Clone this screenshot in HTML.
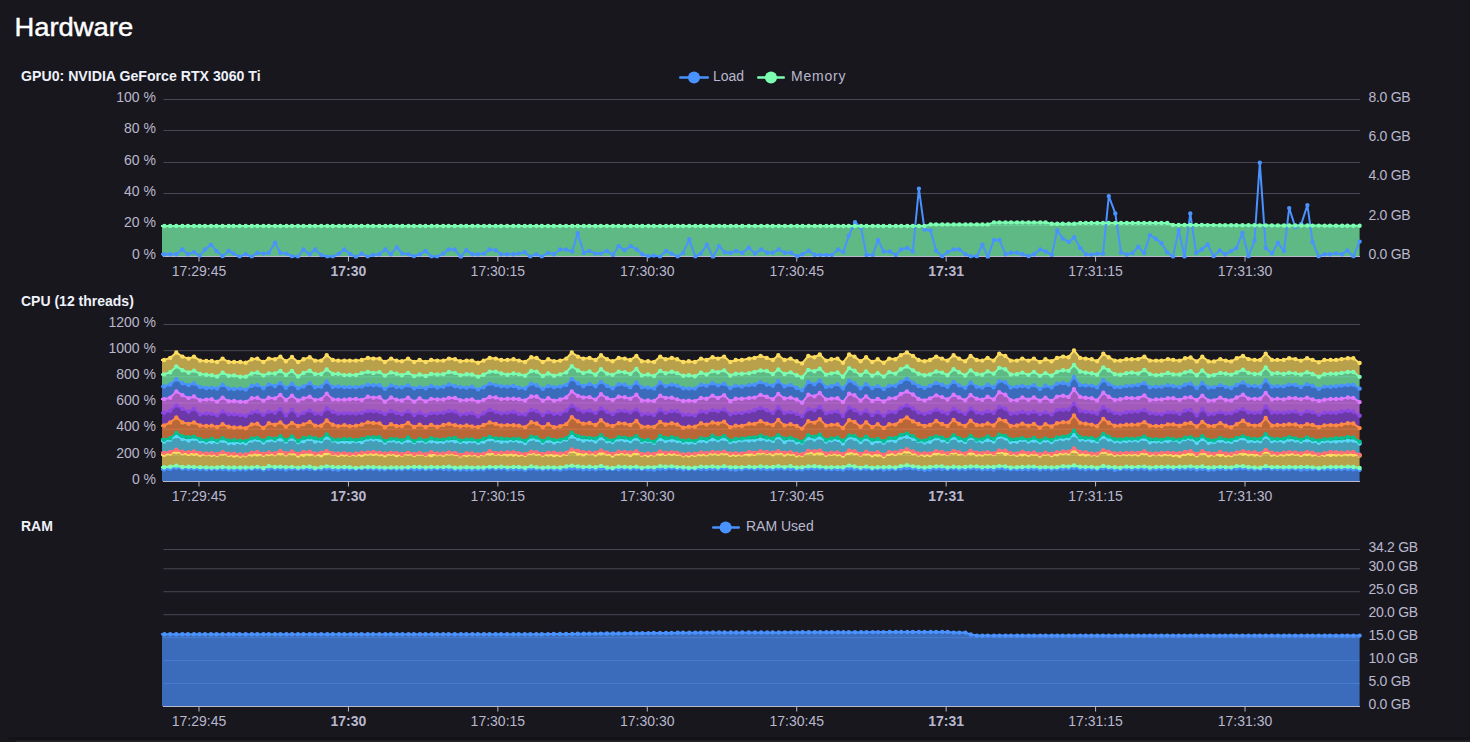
<!DOCTYPE html>
<html><head><meta charset="utf-8"><title>Hardware</title>
<style>html,body{margin:0;padding:0;background:#18171d;width:1470px;height:742px;overflow:hidden}</style>
</head><body>
<svg width="1470" height="742" viewBox="0 0 1470 742" style="display:block;font-family:'Liberation Sans', sans-serif">
<defs>
<clipPath id="ag"><rect x="162" y="97.5" width="1198" height="159.0"/></clipPath>
<clipPath id="lg"><rect x="161" y="89.5" width="1202" height="169.0"/></clipPath>
<clipPath id="ac"><rect x="162" y="322.5" width="1198" height="159.0"/></clipPath>
<clipPath id="lc"><rect x="161" y="314.5" width="1202" height="169.0"/></clipPath>
<clipPath id="ar"><rect x="162" y="547.5" width="1198" height="159.0"/></clipPath>
<clipPath id="lr"><rect x="161" y="539.5" width="1202" height="169.0"/></clipPath>
</defs>
<rect width="1470" height="742" fill="#18171d"/>
<text x="0" y="0" font-size="27.4" fill="#ffffff" text-anchor="start" font-weight="normal" stroke="#ffffff" stroke-width="0.45" transform="translate(14.4,36) scale(1,0.95)">Hardware</text>
<rect x="8" y="737" width="1462" height="3" fill="#141318"/><rect x="15.5" y="740.5" width="1455" height="1.5" fill="#25242b"/>
<text x="21" y="80.6" font-size="14.15" fill="#EEF1FA" text-anchor="start" font-weight="bold">GPU0: NVIDIA GeForce RTX 3060 Ti</text>
<rect x="163.5" y="99" width="1196.5" height="1" fill="#484753"/>
<rect x="163.5" y="130" width="1196.5" height="1" fill="#484753"/>
<rect x="163.5" y="162" width="1196.5" height="1" fill="#484753"/>
<rect x="163.5" y="193" width="1196.5" height="1" fill="#484753"/>
<rect x="163.5" y="225" width="1196.5" height="1" fill="#484753"/>
<text x="156" y="101.8" font-size="14" fill="#B9B8CE" text-anchor="end" font-weight="normal">100 %</text>
<text x="156" y="133.2" font-size="14" fill="#B9B8CE" text-anchor="end" font-weight="normal">80 %</text>
<text x="156" y="164.6" font-size="14" fill="#B9B8CE" text-anchor="end" font-weight="normal">60 %</text>
<text x="156" y="196" font-size="14" fill="#B9B8CE" text-anchor="end" font-weight="normal">40 %</text>
<text x="156" y="227.4" font-size="14" fill="#B9B8CE" text-anchor="end" font-weight="normal">20 %</text>
<text x="156" y="258.8" font-size="14" fill="#B9B8CE" text-anchor="end" font-weight="normal">0 %</text>
<text x="1368.5" y="101.8" font-size="14" fill="#B9B8CE" text-anchor="start" font-weight="normal" letter-spacing="-0.3">8.0 GB</text>
<text x="1368.5" y="141.05" font-size="14" fill="#B9B8CE" text-anchor="start" font-weight="normal" letter-spacing="-0.3">6.0 GB</text>
<text x="1368.5" y="180.3" font-size="14" fill="#B9B8CE" text-anchor="start" font-weight="normal" letter-spacing="-0.3">4.0 GB</text>
<text x="1368.5" y="219.55" font-size="14" fill="#B9B8CE" text-anchor="start" font-weight="normal" letter-spacing="-0.3">2.0 GB</text>
<text x="1368.5" y="258.8" font-size="14" fill="#B9B8CE" text-anchor="start" font-weight="normal" letter-spacing="-0.3">0.0 GB</text>
<rect x="679" y="76.25" width="30" height="2.5" rx="1.25" fill="#4992ff"/><circle cx="694" cy="77.5" r="6" fill="#4992ff"/>
<text x="713" y="80.8" font-size="14" fill="#B9B8CE" text-anchor="start" font-weight="normal">Load</text>
<rect x="757" y="76.25" width="28" height="2.5" rx="1.25" fill="#7cffb2"/><circle cx="771" cy="77.5" r="6" fill="#7cffb2"/>
<text x="791" y="80.8" font-size="14" fill="#B9B8CE" text-anchor="start" font-weight="normal" letter-spacing="0.8">Memory</text>
<polygon points="158.6,226 164.4,226 170.2,226 176.3,226 182.4,226 187.9,226 194,226 199.5,226 205,226 211,226 216.5,226 222.6,226 228.7,226 233.5,226 239.6,226 245.7,226 251.8,226 257.3,226 263.4,226 268.8,226 275,226 280.4,226 286.5,226 292,226 298,226 303.5,226 309.7,226 315.1,226 321.2,226 327.3,226 332.8,226 339,226 344.3,226 350.5,226 356,226 361.6,226 367.7,226 373.1,226 379.3,226 385.4,226 390.8,226 396.9,226 402.4,226 408.5,226 413.9,226 420,226 425.5,226 431.6,226 437.1,226 443.2,226 448.6,226 454.8,226 460.9,226 466.3,226 472.4,226 477.9,226 484,226 489.5,226 495.6,226 501,226 507.1,226 513.3,226 518.7,226 524.8,226 530.3,226 536.4,226 541.8,226 548,226 553.8,226 560,226 566.1,226 572.2,226 577.7,226 583.8,226 589.2,226 595.3,226 600.8,226 606.9,226 613,226 618.5,226 624.6,226 630.7,226 636.8,226 642.3,226 648.4,226 653.8,226 660,226 666.1,226 671.5,226 677.7,226 683.1,226 689.2,226 695.3,226 700.8,226 706.9,226 713,226 719.1,226 724.6,226 730.7,226 736.2,226 742.3,226 748.8,226 755,226 761.1,226 767.2,226 772.7,226 778.8,226 784.9,226 791,226 797.1,226 802.6,226 808.7,226 814.8,226 820.3,226 826.4,226 831.8,226 838,226 843.4,226 848.8,226 855,226 861.1,226 866.5,226 872.7,226 878.1,226 883.5,226 889.7,226 895.8,226 901.2,226 907.3,226 912.8,226 918.9,226 924.5,226 930.6,224.4 936.1,224.4 942.2,224.4 947.7,224.4 953.8,224.4 959.3,224.4 965.4,224.4 970.8,224.4 976.9,224.4 982.4,224.4 987.8,224.4 994,222.4 999.4,222.4 1005.5,222.4 1011,222.4 1017.1,222.4 1022.5,222.4 1028.6,222.4 1034.1,222.4 1040.2,222.4 1045.6,222.4 1051.8,223.8 1057.2,223.8 1062.7,223.8 1068.8,223.8 1074.2,223.8 1080.3,222.9 1085.8,222.9 1091.4,222.9 1097.2,222.9 1103,222.9 1108.8,222.9 1115.3,222.9 1121,222.9 1126.8,222.9 1132.6,222.9 1138.3,222.9 1144.1,222.9 1149.9,222.9 1155.7,222.9 1161.4,222.9 1167.2,222.9 1173,224.91 1178.7,224.94 1184.5,224.97 1190.3,225 1196.1,225.02 1201.8,225.05 1207.6,225.08 1213.6,225.11 1219.8,225.14 1225.1,225.16 1231.1,225.19 1236.4,225.21 1242.5,225.24 1248.5,225.27 1254.5,225.3 1259.8,225.33 1265.8,225.35 1271.9,225.38 1277.9,225.41 1284,225.44 1289.2,225.46 1295.3,225.49 1301.3,225.52 1307.4,225.55 1312.6,225.58 1318.7,225.6 1324.7,225.63 1330,225.66 1336,225.69 1342.1,225.72 1347.4,225.74 1353.4,225.77 1359.6,225.8 1359.6,256.5 158.6,256.5" fill="#7cffb2" fill-opacity="0.7" clip-path="url(#ag)"/>
<rect x="163" y="256" width="1197" height="1" fill="#B9B8CE"/>
<rect x="198.5" y="256.5" width="1" height="5" fill="#B9B8CE"/>
<text x="199" y="275.5" font-size="14" fill="#B9B8CE" text-anchor="middle" font-weight="normal">17:29:45</text>
<rect x="347.93" y="256.5" width="1" height="5" fill="#B9B8CE"/>
<text x="348.43" y="275.5" font-size="14" fill="#B9B8CE" text-anchor="middle" font-weight="bold">17:30</text>
<rect x="497.36" y="256.5" width="1" height="5" fill="#B9B8CE"/>
<text x="497.86" y="275.5" font-size="14" fill="#B9B8CE" text-anchor="middle" font-weight="normal">17:30:15</text>
<rect x="646.79" y="256.5" width="1" height="5" fill="#B9B8CE"/>
<text x="647.29" y="275.5" font-size="14" fill="#B9B8CE" text-anchor="middle" font-weight="normal">17:30:30</text>
<rect x="796.22" y="256.5" width="1" height="5" fill="#B9B8CE"/>
<text x="796.72" y="275.5" font-size="14" fill="#B9B8CE" text-anchor="middle" font-weight="normal">17:30:45</text>
<rect x="945.65" y="256.5" width="1" height="5" fill="#B9B8CE"/>
<text x="946.15" y="275.5" font-size="14" fill="#B9B8CE" text-anchor="middle" font-weight="bold">17:31</text>
<rect x="1095.08" y="256.5" width="1" height="5" fill="#B9B8CE"/>
<text x="1095.58" y="275.5" font-size="14" fill="#B9B8CE" text-anchor="middle" font-weight="normal">17:31:15</text>
<rect x="1244.51" y="256.5" width="1" height="5" fill="#B9B8CE"/>
<text x="1245.01" y="275.5" font-size="14" fill="#B9B8CE" text-anchor="middle" font-weight="normal">17:31:30</text>
<polyline points="158.6,254.3 164.4,254.3 170.2,254.3 176.3,254.3 182.4,249.5 187.9,254.3 194,252.2 199.5,255.6 205,249.5 211,244.7 216.5,250.9 222.6,256.3 228.7,250.9 233.5,253.6 239.6,256.6 245.7,254.3 251.8,256.6 257.3,252.9 263.4,253.6 268.8,252.9 275,242.7 280.4,252.9 286.5,253.6 292,256.3 298,256.6 303.5,249.5 309.7,254.3 315.1,249.5 321.2,255 327.3,256.6 332.8,256.6 339,253.6 344.3,249.5 350.5,254.3 356,257 361.6,253.6 367.7,256.6 373.1,254.9 379.3,254.3 385.4,249.5 390.8,254.3 396.9,247.4 402.4,253.6 408.5,254.3 413.9,256.3 420,254.3 425.5,250.9 431.6,256.6 437.1,256.6 443.2,253.6 448.6,249.5 454.8,249.5 460.9,257 466.3,250.2 472.4,254.3 477.9,254.3 484,253.6 489.5,249.5 495.6,250.2 501,254.3 507.1,254.3 513.3,254.3 518.7,253.6 524.8,252.2 530.3,256.6 536.4,254.3 541.8,256.6 548,252.9 553.8,254.3 560,249.5 566.1,249.5 572.2,251.5 577.7,233.2 583.8,252.9 589.2,250.9 595.3,253.6 600.8,253.6 606.9,250.9 613,254.9 618.5,246.1 624.6,250.2 630.7,246.1 636.8,249.5 642.3,254.3 648.4,256.3 653.8,255.6 660,256.6 666.1,250.9 671.5,253.6 677.7,256.6 683.1,252.9 689.2,239.3 695.3,256.6 700.8,253.6 706.9,244.7 713,257 719.1,246.1 724.6,252.2 730.7,252.9 736.2,250.9 742.3,252.9 748.8,247.6 755,253.5 761.1,249.4 767.2,252.8 772.7,252.8 778.8,249.4 784.9,252.8 791,252.8 797.1,256.2 802.6,254.2 808.7,250.8 814.8,254.9 820.3,254.9 826.4,254.9 831.8,254.9 838,249.4 843.4,252.1 848.8,235.8 855,222.2 861.1,227.6 866.5,254.9 872.7,254.9 878.1,239.9 883.5,251.5 889.7,251.5 895.8,254.9 901.2,249.4 907.3,248 912.8,251.5 918.9,188.6 924.5,229.6 930.6,230.5 936.1,250.8 942.2,256.2 947.7,252.1 953.8,249.4 959.3,249.4 965.4,254.2 970.8,256.2 976.9,256.2 982.4,244.7 987.8,256.9 994,239.9 999.4,239.9 1005.5,254.2 1011,252.8 1017.1,252.8 1022.5,254.2 1028.6,256.2 1034.1,254.2 1040.2,249.4 1045.6,251.5 1051.8,254.9 1057.2,230.4 1062.7,238.5 1068.8,241.9 1074.2,237.2 1080.3,248 1085.8,254.2 1091.4,254.6 1097.2,253.8 1103,253.8 1108.8,196.1 1115.3,213.4 1121,252.4 1126.8,254.6 1132.6,253.1 1138.3,246.6 1144.1,253.1 1149.9,235.1 1155.7,238.7 1161.4,243 1167.2,252.4 1173,256.7 1178.7,230 1184.5,256.7 1190.3,213.4 1196.1,253.1 1201.8,249.5 1207.6,244.5 1213.6,256.2 1219.8,250.4 1225.1,254.2 1231.1,251.1 1236.4,248.1 1242.5,233 1248.5,256.4 1254.5,240.6 1259.8,162.8 1265.8,248.1 1271.9,253.4 1277.9,242.8 1284,251.1 1289.2,208.1 1295.3,227 1301.3,224 1307.4,205.1 1312.6,242.1 1318.7,256.4 1324.7,254.2 1330,254.2 1336,253.4 1342.1,254.2 1347.4,250.4 1353.4,256.4 1359.6,241.6" fill="none" stroke="#4992ff" stroke-width="2" stroke-linejoin="bevel" clip-path="url(#lg)"/>
<path d="M162.2,254.3a2.2,2.2 0 1,0 4.4,0a2.2,2.2 0 1,0 -4.4,0M168,254.3a2.2,2.2 0 1,0 4.4,0a2.2,2.2 0 1,0 -4.4,0M174.1,254.3a2.2,2.2 0 1,0 4.4,0a2.2,2.2 0 1,0 -4.4,0M180.2,249.5a2.2,2.2 0 1,0 4.4,0a2.2,2.2 0 1,0 -4.4,0M185.7,254.3a2.2,2.2 0 1,0 4.4,0a2.2,2.2 0 1,0 -4.4,0M191.8,252.2a2.2,2.2 0 1,0 4.4,0a2.2,2.2 0 1,0 -4.4,0M197.3,255.6a2.2,2.2 0 1,0 4.4,0a2.2,2.2 0 1,0 -4.4,0M202.8,249.5a2.2,2.2 0 1,0 4.4,0a2.2,2.2 0 1,0 -4.4,0M208.8,244.7a2.2,2.2 0 1,0 4.4,0a2.2,2.2 0 1,0 -4.4,0M214.3,250.9a2.2,2.2 0 1,0 4.4,0a2.2,2.2 0 1,0 -4.4,0M220.4,256.3a2.2,2.2 0 1,0 4.4,0a2.2,2.2 0 1,0 -4.4,0M226.5,250.9a2.2,2.2 0 1,0 4.4,0a2.2,2.2 0 1,0 -4.4,0M231.3,253.6a2.2,2.2 0 1,0 4.4,0a2.2,2.2 0 1,0 -4.4,0M237.4,256.6a2.2,2.2 0 1,0 4.4,0a2.2,2.2 0 1,0 -4.4,0M243.5,254.3a2.2,2.2 0 1,0 4.4,0a2.2,2.2 0 1,0 -4.4,0M249.6,256.6a2.2,2.2 0 1,0 4.4,0a2.2,2.2 0 1,0 -4.4,0M255.1,252.9a2.2,2.2 0 1,0 4.4,0a2.2,2.2 0 1,0 -4.4,0M261.2,253.6a2.2,2.2 0 1,0 4.4,0a2.2,2.2 0 1,0 -4.4,0M266.6,252.9a2.2,2.2 0 1,0 4.4,0a2.2,2.2 0 1,0 -4.4,0M272.8,242.7a2.2,2.2 0 1,0 4.4,0a2.2,2.2 0 1,0 -4.4,0M278.2,252.9a2.2,2.2 0 1,0 4.4,0a2.2,2.2 0 1,0 -4.4,0M284.3,253.6a2.2,2.2 0 1,0 4.4,0a2.2,2.2 0 1,0 -4.4,0M289.8,256.3a2.2,2.2 0 1,0 4.4,0a2.2,2.2 0 1,0 -4.4,0M295.8,256.6a2.2,2.2 0 1,0 4.4,0a2.2,2.2 0 1,0 -4.4,0M301.3,249.5a2.2,2.2 0 1,0 4.4,0a2.2,2.2 0 1,0 -4.4,0M307.5,254.3a2.2,2.2 0 1,0 4.4,0a2.2,2.2 0 1,0 -4.4,0M312.9,249.5a2.2,2.2 0 1,0 4.4,0a2.2,2.2 0 1,0 -4.4,0M319,255a2.2,2.2 0 1,0 4.4,0a2.2,2.2 0 1,0 -4.4,0M325.1,256.6a2.2,2.2 0 1,0 4.4,0a2.2,2.2 0 1,0 -4.4,0M330.6,256.6a2.2,2.2 0 1,0 4.4,0a2.2,2.2 0 1,0 -4.4,0M336.8,253.6a2.2,2.2 0 1,0 4.4,0a2.2,2.2 0 1,0 -4.4,0M342.1,249.5a2.2,2.2 0 1,0 4.4,0a2.2,2.2 0 1,0 -4.4,0M348.3,254.3a2.2,2.2 0 1,0 4.4,0a2.2,2.2 0 1,0 -4.4,0M353.8,257a2.2,2.2 0 1,0 4.4,0a2.2,2.2 0 1,0 -4.4,0M359.4,253.6a2.2,2.2 0 1,0 4.4,0a2.2,2.2 0 1,0 -4.4,0M365.5,256.6a2.2,2.2 0 1,0 4.4,0a2.2,2.2 0 1,0 -4.4,0M370.9,254.9a2.2,2.2 0 1,0 4.4,0a2.2,2.2 0 1,0 -4.4,0M377.1,254.3a2.2,2.2 0 1,0 4.4,0a2.2,2.2 0 1,0 -4.4,0M383.2,249.5a2.2,2.2 0 1,0 4.4,0a2.2,2.2 0 1,0 -4.4,0M388.6,254.3a2.2,2.2 0 1,0 4.4,0a2.2,2.2 0 1,0 -4.4,0M394.7,247.4a2.2,2.2 0 1,0 4.4,0a2.2,2.2 0 1,0 -4.4,0M400.2,253.6a2.2,2.2 0 1,0 4.4,0a2.2,2.2 0 1,0 -4.4,0M406.3,254.3a2.2,2.2 0 1,0 4.4,0a2.2,2.2 0 1,0 -4.4,0M411.7,256.3a2.2,2.2 0 1,0 4.4,0a2.2,2.2 0 1,0 -4.4,0M417.8,254.3a2.2,2.2 0 1,0 4.4,0a2.2,2.2 0 1,0 -4.4,0M423.3,250.9a2.2,2.2 0 1,0 4.4,0a2.2,2.2 0 1,0 -4.4,0M429.4,256.6a2.2,2.2 0 1,0 4.4,0a2.2,2.2 0 1,0 -4.4,0M434.9,256.6a2.2,2.2 0 1,0 4.4,0a2.2,2.2 0 1,0 -4.4,0M441,253.6a2.2,2.2 0 1,0 4.4,0a2.2,2.2 0 1,0 -4.4,0M446.4,249.5a2.2,2.2 0 1,0 4.4,0a2.2,2.2 0 1,0 -4.4,0M452.6,249.5a2.2,2.2 0 1,0 4.4,0a2.2,2.2 0 1,0 -4.4,0M458.7,257a2.2,2.2 0 1,0 4.4,0a2.2,2.2 0 1,0 -4.4,0M464.1,250.2a2.2,2.2 0 1,0 4.4,0a2.2,2.2 0 1,0 -4.4,0M470.2,254.3a2.2,2.2 0 1,0 4.4,0a2.2,2.2 0 1,0 -4.4,0M475.7,254.3a2.2,2.2 0 1,0 4.4,0a2.2,2.2 0 1,0 -4.4,0M481.8,253.6a2.2,2.2 0 1,0 4.4,0a2.2,2.2 0 1,0 -4.4,0M487.3,249.5a2.2,2.2 0 1,0 4.4,0a2.2,2.2 0 1,0 -4.4,0M493.4,250.2a2.2,2.2 0 1,0 4.4,0a2.2,2.2 0 1,0 -4.4,0M498.8,254.3a2.2,2.2 0 1,0 4.4,0a2.2,2.2 0 1,0 -4.4,0M504.9,254.3a2.2,2.2 0 1,0 4.4,0a2.2,2.2 0 1,0 -4.4,0M511.1,254.3a2.2,2.2 0 1,0 4.4,0a2.2,2.2 0 1,0 -4.4,0M516.5,253.6a2.2,2.2 0 1,0 4.4,0a2.2,2.2 0 1,0 -4.4,0M522.6,252.2a2.2,2.2 0 1,0 4.4,0a2.2,2.2 0 1,0 -4.4,0M528.1,256.6a2.2,2.2 0 1,0 4.4,0a2.2,2.2 0 1,0 -4.4,0M534.2,254.3a2.2,2.2 0 1,0 4.4,0a2.2,2.2 0 1,0 -4.4,0M539.6,256.6a2.2,2.2 0 1,0 4.4,0a2.2,2.2 0 1,0 -4.4,0M545.8,252.9a2.2,2.2 0 1,0 4.4,0a2.2,2.2 0 1,0 -4.4,0M551.6,254.3a2.2,2.2 0 1,0 4.4,0a2.2,2.2 0 1,0 -4.4,0M557.8,249.5a2.2,2.2 0 1,0 4.4,0a2.2,2.2 0 1,0 -4.4,0M563.9,249.5a2.2,2.2 0 1,0 4.4,0a2.2,2.2 0 1,0 -4.4,0M570,251.5a2.2,2.2 0 1,0 4.4,0a2.2,2.2 0 1,0 -4.4,0M575.5,233.2a2.2,2.2 0 1,0 4.4,0a2.2,2.2 0 1,0 -4.4,0M581.6,252.9a2.2,2.2 0 1,0 4.4,0a2.2,2.2 0 1,0 -4.4,0M587,250.9a2.2,2.2 0 1,0 4.4,0a2.2,2.2 0 1,0 -4.4,0M593.1,253.6a2.2,2.2 0 1,0 4.4,0a2.2,2.2 0 1,0 -4.4,0M598.6,253.6a2.2,2.2 0 1,0 4.4,0a2.2,2.2 0 1,0 -4.4,0M604.7,250.9a2.2,2.2 0 1,0 4.4,0a2.2,2.2 0 1,0 -4.4,0M610.8,254.9a2.2,2.2 0 1,0 4.4,0a2.2,2.2 0 1,0 -4.4,0M616.3,246.1a2.2,2.2 0 1,0 4.4,0a2.2,2.2 0 1,0 -4.4,0M622.4,250.2a2.2,2.2 0 1,0 4.4,0a2.2,2.2 0 1,0 -4.4,0M628.5,246.1a2.2,2.2 0 1,0 4.4,0a2.2,2.2 0 1,0 -4.4,0M634.6,249.5a2.2,2.2 0 1,0 4.4,0a2.2,2.2 0 1,0 -4.4,0M640.1,254.3a2.2,2.2 0 1,0 4.4,0a2.2,2.2 0 1,0 -4.4,0M646.2,256.3a2.2,2.2 0 1,0 4.4,0a2.2,2.2 0 1,0 -4.4,0M651.6,255.6a2.2,2.2 0 1,0 4.4,0a2.2,2.2 0 1,0 -4.4,0M657.8,256.6a2.2,2.2 0 1,0 4.4,0a2.2,2.2 0 1,0 -4.4,0M663.9,250.9a2.2,2.2 0 1,0 4.4,0a2.2,2.2 0 1,0 -4.4,0M669.3,253.6a2.2,2.2 0 1,0 4.4,0a2.2,2.2 0 1,0 -4.4,0M675.5,256.6a2.2,2.2 0 1,0 4.4,0a2.2,2.2 0 1,0 -4.4,0M680.9,252.9a2.2,2.2 0 1,0 4.4,0a2.2,2.2 0 1,0 -4.4,0M687,239.3a2.2,2.2 0 1,0 4.4,0a2.2,2.2 0 1,0 -4.4,0M693.1,256.6a2.2,2.2 0 1,0 4.4,0a2.2,2.2 0 1,0 -4.4,0M698.6,253.6a2.2,2.2 0 1,0 4.4,0a2.2,2.2 0 1,0 -4.4,0M704.7,244.7a2.2,2.2 0 1,0 4.4,0a2.2,2.2 0 1,0 -4.4,0M710.8,257a2.2,2.2 0 1,0 4.4,0a2.2,2.2 0 1,0 -4.4,0M716.9,246.1a2.2,2.2 0 1,0 4.4,0a2.2,2.2 0 1,0 -4.4,0M722.4,252.2a2.2,2.2 0 1,0 4.4,0a2.2,2.2 0 1,0 -4.4,0M728.5,252.9a2.2,2.2 0 1,0 4.4,0a2.2,2.2 0 1,0 -4.4,0M734,250.9a2.2,2.2 0 1,0 4.4,0a2.2,2.2 0 1,0 -4.4,0M740.1,252.9a2.2,2.2 0 1,0 4.4,0a2.2,2.2 0 1,0 -4.4,0M746.6,247.6a2.2,2.2 0 1,0 4.4,0a2.2,2.2 0 1,0 -4.4,0M752.8,253.5a2.2,2.2 0 1,0 4.4,0a2.2,2.2 0 1,0 -4.4,0M758.9,249.4a2.2,2.2 0 1,0 4.4,0a2.2,2.2 0 1,0 -4.4,0M765,252.8a2.2,2.2 0 1,0 4.4,0a2.2,2.2 0 1,0 -4.4,0M770.5,252.8a2.2,2.2 0 1,0 4.4,0a2.2,2.2 0 1,0 -4.4,0M776.6,249.4a2.2,2.2 0 1,0 4.4,0a2.2,2.2 0 1,0 -4.4,0M782.7,252.8a2.2,2.2 0 1,0 4.4,0a2.2,2.2 0 1,0 -4.4,0M788.8,252.8a2.2,2.2 0 1,0 4.4,0a2.2,2.2 0 1,0 -4.4,0M794.9,256.2a2.2,2.2 0 1,0 4.4,0a2.2,2.2 0 1,0 -4.4,0M800.4,254.2a2.2,2.2 0 1,0 4.4,0a2.2,2.2 0 1,0 -4.4,0M806.5,250.8a2.2,2.2 0 1,0 4.4,0a2.2,2.2 0 1,0 -4.4,0M812.6,254.9a2.2,2.2 0 1,0 4.4,0a2.2,2.2 0 1,0 -4.4,0M818.1,254.9a2.2,2.2 0 1,0 4.4,0a2.2,2.2 0 1,0 -4.4,0M824.2,254.9a2.2,2.2 0 1,0 4.4,0a2.2,2.2 0 1,0 -4.4,0M829.6,254.9a2.2,2.2 0 1,0 4.4,0a2.2,2.2 0 1,0 -4.4,0M835.8,249.4a2.2,2.2 0 1,0 4.4,0a2.2,2.2 0 1,0 -4.4,0M841.2,252.1a2.2,2.2 0 1,0 4.4,0a2.2,2.2 0 1,0 -4.4,0M846.6,235.8a2.2,2.2 0 1,0 4.4,0a2.2,2.2 0 1,0 -4.4,0M852.8,222.2a2.2,2.2 0 1,0 4.4,0a2.2,2.2 0 1,0 -4.4,0M858.9,227.6a2.2,2.2 0 1,0 4.4,0a2.2,2.2 0 1,0 -4.4,0M864.3,254.9a2.2,2.2 0 1,0 4.4,0a2.2,2.2 0 1,0 -4.4,0M870.5,254.9a2.2,2.2 0 1,0 4.4,0a2.2,2.2 0 1,0 -4.4,0M875.9,239.9a2.2,2.2 0 1,0 4.4,0a2.2,2.2 0 1,0 -4.4,0M881.3,251.5a2.2,2.2 0 1,0 4.4,0a2.2,2.2 0 1,0 -4.4,0M887.5,251.5a2.2,2.2 0 1,0 4.4,0a2.2,2.2 0 1,0 -4.4,0M893.6,254.9a2.2,2.2 0 1,0 4.4,0a2.2,2.2 0 1,0 -4.4,0M899,249.4a2.2,2.2 0 1,0 4.4,0a2.2,2.2 0 1,0 -4.4,0M905.1,248a2.2,2.2 0 1,0 4.4,0a2.2,2.2 0 1,0 -4.4,0M910.6,251.5a2.2,2.2 0 1,0 4.4,0a2.2,2.2 0 1,0 -4.4,0M916.7,188.6a2.2,2.2 0 1,0 4.4,0a2.2,2.2 0 1,0 -4.4,0M922.3,229.6a2.2,2.2 0 1,0 4.4,0a2.2,2.2 0 1,0 -4.4,0M928.4,230.5a2.2,2.2 0 1,0 4.4,0a2.2,2.2 0 1,0 -4.4,0M933.9,250.8a2.2,2.2 0 1,0 4.4,0a2.2,2.2 0 1,0 -4.4,0M940,256.2a2.2,2.2 0 1,0 4.4,0a2.2,2.2 0 1,0 -4.4,0M945.5,252.1a2.2,2.2 0 1,0 4.4,0a2.2,2.2 0 1,0 -4.4,0M951.6,249.4a2.2,2.2 0 1,0 4.4,0a2.2,2.2 0 1,0 -4.4,0M957.1,249.4a2.2,2.2 0 1,0 4.4,0a2.2,2.2 0 1,0 -4.4,0M963.2,254.2a2.2,2.2 0 1,0 4.4,0a2.2,2.2 0 1,0 -4.4,0M968.6,256.2a2.2,2.2 0 1,0 4.4,0a2.2,2.2 0 1,0 -4.4,0M974.7,256.2a2.2,2.2 0 1,0 4.4,0a2.2,2.2 0 1,0 -4.4,0M980.2,244.7a2.2,2.2 0 1,0 4.4,0a2.2,2.2 0 1,0 -4.4,0M985.6,256.9a2.2,2.2 0 1,0 4.4,0a2.2,2.2 0 1,0 -4.4,0M991.8,239.9a2.2,2.2 0 1,0 4.4,0a2.2,2.2 0 1,0 -4.4,0M997.2,239.9a2.2,2.2 0 1,0 4.4,0a2.2,2.2 0 1,0 -4.4,0M1003.3,254.2a2.2,2.2 0 1,0 4.4,0a2.2,2.2 0 1,0 -4.4,0M1008.8,252.8a2.2,2.2 0 1,0 4.4,0a2.2,2.2 0 1,0 -4.4,0M1014.9,252.8a2.2,2.2 0 1,0 4.4,0a2.2,2.2 0 1,0 -4.4,0M1020.3,254.2a2.2,2.2 0 1,0 4.4,0a2.2,2.2 0 1,0 -4.4,0M1026.4,256.2a2.2,2.2 0 1,0 4.4,0a2.2,2.2 0 1,0 -4.4,0M1031.9,254.2a2.2,2.2 0 1,0 4.4,0a2.2,2.2 0 1,0 -4.4,0M1038,249.4a2.2,2.2 0 1,0 4.4,0a2.2,2.2 0 1,0 -4.4,0M1043.4,251.5a2.2,2.2 0 1,0 4.4,0a2.2,2.2 0 1,0 -4.4,0M1049.6,254.9a2.2,2.2 0 1,0 4.4,0a2.2,2.2 0 1,0 -4.4,0M1055,230.4a2.2,2.2 0 1,0 4.4,0a2.2,2.2 0 1,0 -4.4,0M1060.5,238.5a2.2,2.2 0 1,0 4.4,0a2.2,2.2 0 1,0 -4.4,0M1066.6,241.9a2.2,2.2 0 1,0 4.4,0a2.2,2.2 0 1,0 -4.4,0M1072,237.2a2.2,2.2 0 1,0 4.4,0a2.2,2.2 0 1,0 -4.4,0M1078.1,248a2.2,2.2 0 1,0 4.4,0a2.2,2.2 0 1,0 -4.4,0M1083.6,254.2a2.2,2.2 0 1,0 4.4,0a2.2,2.2 0 1,0 -4.4,0M1089.2,254.6a2.2,2.2 0 1,0 4.4,0a2.2,2.2 0 1,0 -4.4,0M1095,253.8a2.2,2.2 0 1,0 4.4,0a2.2,2.2 0 1,0 -4.4,0M1100.8,253.8a2.2,2.2 0 1,0 4.4,0a2.2,2.2 0 1,0 -4.4,0M1106.6,196.1a2.2,2.2 0 1,0 4.4,0a2.2,2.2 0 1,0 -4.4,0M1113.1,213.4a2.2,2.2 0 1,0 4.4,0a2.2,2.2 0 1,0 -4.4,0M1118.8,252.4a2.2,2.2 0 1,0 4.4,0a2.2,2.2 0 1,0 -4.4,0M1124.6,254.6a2.2,2.2 0 1,0 4.4,0a2.2,2.2 0 1,0 -4.4,0M1130.4,253.1a2.2,2.2 0 1,0 4.4,0a2.2,2.2 0 1,0 -4.4,0M1136.1,246.6a2.2,2.2 0 1,0 4.4,0a2.2,2.2 0 1,0 -4.4,0M1141.9,253.1a2.2,2.2 0 1,0 4.4,0a2.2,2.2 0 1,0 -4.4,0M1147.7,235.1a2.2,2.2 0 1,0 4.4,0a2.2,2.2 0 1,0 -4.4,0M1153.5,238.7a2.2,2.2 0 1,0 4.4,0a2.2,2.2 0 1,0 -4.4,0M1159.2,243a2.2,2.2 0 1,0 4.4,0a2.2,2.2 0 1,0 -4.4,0M1165,252.4a2.2,2.2 0 1,0 4.4,0a2.2,2.2 0 1,0 -4.4,0M1170.8,256.7a2.2,2.2 0 1,0 4.4,0a2.2,2.2 0 1,0 -4.4,0M1176.5,230a2.2,2.2 0 1,0 4.4,0a2.2,2.2 0 1,0 -4.4,0M1182.3,256.7a2.2,2.2 0 1,0 4.4,0a2.2,2.2 0 1,0 -4.4,0M1188.1,213.4a2.2,2.2 0 1,0 4.4,0a2.2,2.2 0 1,0 -4.4,0M1193.9,253.1a2.2,2.2 0 1,0 4.4,0a2.2,2.2 0 1,0 -4.4,0M1199.6,249.5a2.2,2.2 0 1,0 4.4,0a2.2,2.2 0 1,0 -4.4,0M1205.4,244.5a2.2,2.2 0 1,0 4.4,0a2.2,2.2 0 1,0 -4.4,0M1211.4,256.2a2.2,2.2 0 1,0 4.4,0a2.2,2.2 0 1,0 -4.4,0M1217.6,250.4a2.2,2.2 0 1,0 4.4,0a2.2,2.2 0 1,0 -4.4,0M1222.9,254.2a2.2,2.2 0 1,0 4.4,0a2.2,2.2 0 1,0 -4.4,0M1228.9,251.1a2.2,2.2 0 1,0 4.4,0a2.2,2.2 0 1,0 -4.4,0M1234.2,248.1a2.2,2.2 0 1,0 4.4,0a2.2,2.2 0 1,0 -4.4,0M1240.3,233a2.2,2.2 0 1,0 4.4,0a2.2,2.2 0 1,0 -4.4,0M1246.3,256.4a2.2,2.2 0 1,0 4.4,0a2.2,2.2 0 1,0 -4.4,0M1252.3,240.6a2.2,2.2 0 1,0 4.4,0a2.2,2.2 0 1,0 -4.4,0M1257.6,162.8a2.2,2.2 0 1,0 4.4,0a2.2,2.2 0 1,0 -4.4,0M1263.6,248.1a2.2,2.2 0 1,0 4.4,0a2.2,2.2 0 1,0 -4.4,0M1269.7,253.4a2.2,2.2 0 1,0 4.4,0a2.2,2.2 0 1,0 -4.4,0M1275.7,242.8a2.2,2.2 0 1,0 4.4,0a2.2,2.2 0 1,0 -4.4,0M1281.8,251.1a2.2,2.2 0 1,0 4.4,0a2.2,2.2 0 1,0 -4.4,0M1287,208.1a2.2,2.2 0 1,0 4.4,0a2.2,2.2 0 1,0 -4.4,0M1293.1,227a2.2,2.2 0 1,0 4.4,0a2.2,2.2 0 1,0 -4.4,0M1299.1,224a2.2,2.2 0 1,0 4.4,0a2.2,2.2 0 1,0 -4.4,0M1305.2,205.1a2.2,2.2 0 1,0 4.4,0a2.2,2.2 0 1,0 -4.4,0M1310.4,242.1a2.2,2.2 0 1,0 4.4,0a2.2,2.2 0 1,0 -4.4,0M1316.5,256.4a2.2,2.2 0 1,0 4.4,0a2.2,2.2 0 1,0 -4.4,0M1322.5,254.2a2.2,2.2 0 1,0 4.4,0a2.2,2.2 0 1,0 -4.4,0M1327.8,254.2a2.2,2.2 0 1,0 4.4,0a2.2,2.2 0 1,0 -4.4,0M1333.8,253.4a2.2,2.2 0 1,0 4.4,0a2.2,2.2 0 1,0 -4.4,0M1339.9,254.2a2.2,2.2 0 1,0 4.4,0a2.2,2.2 0 1,0 -4.4,0M1345.2,250.4a2.2,2.2 0 1,0 4.4,0a2.2,2.2 0 1,0 -4.4,0M1351.2,256.4a2.2,2.2 0 1,0 4.4,0a2.2,2.2 0 1,0 -4.4,0M1357.4,241.6a2.2,2.2 0 1,0 4.4,0a2.2,2.2 0 1,0 -4.4,0" fill="#4992ff" clip-path="url(#lg)"/>
<polyline points="158.6,226 164.4,226 170.2,226 176.3,226 182.4,226 187.9,226 194,226 199.5,226 205,226 211,226 216.5,226 222.6,226 228.7,226 233.5,226 239.6,226 245.7,226 251.8,226 257.3,226 263.4,226 268.8,226 275,226 280.4,226 286.5,226 292,226 298,226 303.5,226 309.7,226 315.1,226 321.2,226 327.3,226 332.8,226 339,226 344.3,226 350.5,226 356,226 361.6,226 367.7,226 373.1,226 379.3,226 385.4,226 390.8,226 396.9,226 402.4,226 408.5,226 413.9,226 420,226 425.5,226 431.6,226 437.1,226 443.2,226 448.6,226 454.8,226 460.9,226 466.3,226 472.4,226 477.9,226 484,226 489.5,226 495.6,226 501,226 507.1,226 513.3,226 518.7,226 524.8,226 530.3,226 536.4,226 541.8,226 548,226 553.8,226 560,226 566.1,226 572.2,226 577.7,226 583.8,226 589.2,226 595.3,226 600.8,226 606.9,226 613,226 618.5,226 624.6,226 630.7,226 636.8,226 642.3,226 648.4,226 653.8,226 660,226 666.1,226 671.5,226 677.7,226 683.1,226 689.2,226 695.3,226 700.8,226 706.9,226 713,226 719.1,226 724.6,226 730.7,226 736.2,226 742.3,226 748.8,226 755,226 761.1,226 767.2,226 772.7,226 778.8,226 784.9,226 791,226 797.1,226 802.6,226 808.7,226 814.8,226 820.3,226 826.4,226 831.8,226 838,226 843.4,226 848.8,226 855,226 861.1,226 866.5,226 872.7,226 878.1,226 883.5,226 889.7,226 895.8,226 901.2,226 907.3,226 912.8,226 918.9,226 924.5,226 930.6,224.4 936.1,224.4 942.2,224.4 947.7,224.4 953.8,224.4 959.3,224.4 965.4,224.4 970.8,224.4 976.9,224.4 982.4,224.4 987.8,224.4 994,222.4 999.4,222.4 1005.5,222.4 1011,222.4 1017.1,222.4 1022.5,222.4 1028.6,222.4 1034.1,222.4 1040.2,222.4 1045.6,222.4 1051.8,223.8 1057.2,223.8 1062.7,223.8 1068.8,223.8 1074.2,223.8 1080.3,222.9 1085.8,222.9 1091.4,222.9 1097.2,222.9 1103,222.9 1108.8,222.9 1115.3,222.9 1121,222.9 1126.8,222.9 1132.6,222.9 1138.3,222.9 1144.1,222.9 1149.9,222.9 1155.7,222.9 1161.4,222.9 1167.2,222.9 1173,224.91 1178.7,224.94 1184.5,224.97 1190.3,225 1196.1,225.02 1201.8,225.05 1207.6,225.08 1213.6,225.11 1219.8,225.14 1225.1,225.16 1231.1,225.19 1236.4,225.21 1242.5,225.24 1248.5,225.27 1254.5,225.3 1259.8,225.33 1265.8,225.35 1271.9,225.38 1277.9,225.41 1284,225.44 1289.2,225.46 1295.3,225.49 1301.3,225.52 1307.4,225.55 1312.6,225.58 1318.7,225.6 1324.7,225.63 1330,225.66 1336,225.69 1342.1,225.72 1347.4,225.74 1353.4,225.77 1359.6,225.8" fill="none" stroke="#7cffb2" stroke-width="2" stroke-linejoin="bevel" clip-path="url(#lg)"/>
<path d="M162.2,226a2.2,2.2 0 1,0 4.4,0a2.2,2.2 0 1,0 -4.4,0M168,226a2.2,2.2 0 1,0 4.4,0a2.2,2.2 0 1,0 -4.4,0M174.1,226a2.2,2.2 0 1,0 4.4,0a2.2,2.2 0 1,0 -4.4,0M180.2,226a2.2,2.2 0 1,0 4.4,0a2.2,2.2 0 1,0 -4.4,0M185.7,226a2.2,2.2 0 1,0 4.4,0a2.2,2.2 0 1,0 -4.4,0M191.8,226a2.2,2.2 0 1,0 4.4,0a2.2,2.2 0 1,0 -4.4,0M197.3,226a2.2,2.2 0 1,0 4.4,0a2.2,2.2 0 1,0 -4.4,0M202.8,226a2.2,2.2 0 1,0 4.4,0a2.2,2.2 0 1,0 -4.4,0M208.8,226a2.2,2.2 0 1,0 4.4,0a2.2,2.2 0 1,0 -4.4,0M214.3,226a2.2,2.2 0 1,0 4.4,0a2.2,2.2 0 1,0 -4.4,0M220.4,226a2.2,2.2 0 1,0 4.4,0a2.2,2.2 0 1,0 -4.4,0M226.5,226a2.2,2.2 0 1,0 4.4,0a2.2,2.2 0 1,0 -4.4,0M231.3,226a2.2,2.2 0 1,0 4.4,0a2.2,2.2 0 1,0 -4.4,0M237.4,226a2.2,2.2 0 1,0 4.4,0a2.2,2.2 0 1,0 -4.4,0M243.5,226a2.2,2.2 0 1,0 4.4,0a2.2,2.2 0 1,0 -4.4,0M249.6,226a2.2,2.2 0 1,0 4.4,0a2.2,2.2 0 1,0 -4.4,0M255.1,226a2.2,2.2 0 1,0 4.4,0a2.2,2.2 0 1,0 -4.4,0M261.2,226a2.2,2.2 0 1,0 4.4,0a2.2,2.2 0 1,0 -4.4,0M266.6,226a2.2,2.2 0 1,0 4.4,0a2.2,2.2 0 1,0 -4.4,0M272.8,226a2.2,2.2 0 1,0 4.4,0a2.2,2.2 0 1,0 -4.4,0M278.2,226a2.2,2.2 0 1,0 4.4,0a2.2,2.2 0 1,0 -4.4,0M284.3,226a2.2,2.2 0 1,0 4.4,0a2.2,2.2 0 1,0 -4.4,0M289.8,226a2.2,2.2 0 1,0 4.4,0a2.2,2.2 0 1,0 -4.4,0M295.8,226a2.2,2.2 0 1,0 4.4,0a2.2,2.2 0 1,0 -4.4,0M301.3,226a2.2,2.2 0 1,0 4.4,0a2.2,2.2 0 1,0 -4.4,0M307.5,226a2.2,2.2 0 1,0 4.4,0a2.2,2.2 0 1,0 -4.4,0M312.9,226a2.2,2.2 0 1,0 4.4,0a2.2,2.2 0 1,0 -4.4,0M319,226a2.2,2.2 0 1,0 4.4,0a2.2,2.2 0 1,0 -4.4,0M325.1,226a2.2,2.2 0 1,0 4.4,0a2.2,2.2 0 1,0 -4.4,0M330.6,226a2.2,2.2 0 1,0 4.4,0a2.2,2.2 0 1,0 -4.4,0M336.8,226a2.2,2.2 0 1,0 4.4,0a2.2,2.2 0 1,0 -4.4,0M342.1,226a2.2,2.2 0 1,0 4.4,0a2.2,2.2 0 1,0 -4.4,0M348.3,226a2.2,2.2 0 1,0 4.4,0a2.2,2.2 0 1,0 -4.4,0M353.8,226a2.2,2.2 0 1,0 4.4,0a2.2,2.2 0 1,0 -4.4,0M359.4,226a2.2,2.2 0 1,0 4.4,0a2.2,2.2 0 1,0 -4.4,0M365.5,226a2.2,2.2 0 1,0 4.4,0a2.2,2.2 0 1,0 -4.4,0M370.9,226a2.2,2.2 0 1,0 4.4,0a2.2,2.2 0 1,0 -4.4,0M377.1,226a2.2,2.2 0 1,0 4.4,0a2.2,2.2 0 1,0 -4.4,0M383.2,226a2.2,2.2 0 1,0 4.4,0a2.2,2.2 0 1,0 -4.4,0M388.6,226a2.2,2.2 0 1,0 4.4,0a2.2,2.2 0 1,0 -4.4,0M394.7,226a2.2,2.2 0 1,0 4.4,0a2.2,2.2 0 1,0 -4.4,0M400.2,226a2.2,2.2 0 1,0 4.4,0a2.2,2.2 0 1,0 -4.4,0M406.3,226a2.2,2.2 0 1,0 4.4,0a2.2,2.2 0 1,0 -4.4,0M411.7,226a2.2,2.2 0 1,0 4.4,0a2.2,2.2 0 1,0 -4.4,0M417.8,226a2.2,2.2 0 1,0 4.4,0a2.2,2.2 0 1,0 -4.4,0M423.3,226a2.2,2.2 0 1,0 4.4,0a2.2,2.2 0 1,0 -4.4,0M429.4,226a2.2,2.2 0 1,0 4.4,0a2.2,2.2 0 1,0 -4.4,0M434.9,226a2.2,2.2 0 1,0 4.4,0a2.2,2.2 0 1,0 -4.4,0M441,226a2.2,2.2 0 1,0 4.4,0a2.2,2.2 0 1,0 -4.4,0M446.4,226a2.2,2.2 0 1,0 4.4,0a2.2,2.2 0 1,0 -4.4,0M452.6,226a2.2,2.2 0 1,0 4.4,0a2.2,2.2 0 1,0 -4.4,0M458.7,226a2.2,2.2 0 1,0 4.4,0a2.2,2.2 0 1,0 -4.4,0M464.1,226a2.2,2.2 0 1,0 4.4,0a2.2,2.2 0 1,0 -4.4,0M470.2,226a2.2,2.2 0 1,0 4.4,0a2.2,2.2 0 1,0 -4.4,0M475.7,226a2.2,2.2 0 1,0 4.4,0a2.2,2.2 0 1,0 -4.4,0M481.8,226a2.2,2.2 0 1,0 4.4,0a2.2,2.2 0 1,0 -4.4,0M487.3,226a2.2,2.2 0 1,0 4.4,0a2.2,2.2 0 1,0 -4.4,0M493.4,226a2.2,2.2 0 1,0 4.4,0a2.2,2.2 0 1,0 -4.4,0M498.8,226a2.2,2.2 0 1,0 4.4,0a2.2,2.2 0 1,0 -4.4,0M504.9,226a2.2,2.2 0 1,0 4.4,0a2.2,2.2 0 1,0 -4.4,0M511.1,226a2.2,2.2 0 1,0 4.4,0a2.2,2.2 0 1,0 -4.4,0M516.5,226a2.2,2.2 0 1,0 4.4,0a2.2,2.2 0 1,0 -4.4,0M522.6,226a2.2,2.2 0 1,0 4.4,0a2.2,2.2 0 1,0 -4.4,0M528.1,226a2.2,2.2 0 1,0 4.4,0a2.2,2.2 0 1,0 -4.4,0M534.2,226a2.2,2.2 0 1,0 4.4,0a2.2,2.2 0 1,0 -4.4,0M539.6,226a2.2,2.2 0 1,0 4.4,0a2.2,2.2 0 1,0 -4.4,0M545.8,226a2.2,2.2 0 1,0 4.4,0a2.2,2.2 0 1,0 -4.4,0M551.6,226a2.2,2.2 0 1,0 4.4,0a2.2,2.2 0 1,0 -4.4,0M557.8,226a2.2,2.2 0 1,0 4.4,0a2.2,2.2 0 1,0 -4.4,0M563.9,226a2.2,2.2 0 1,0 4.4,0a2.2,2.2 0 1,0 -4.4,0M570,226a2.2,2.2 0 1,0 4.4,0a2.2,2.2 0 1,0 -4.4,0M575.5,226a2.2,2.2 0 1,0 4.4,0a2.2,2.2 0 1,0 -4.4,0M581.6,226a2.2,2.2 0 1,0 4.4,0a2.2,2.2 0 1,0 -4.4,0M587,226a2.2,2.2 0 1,0 4.4,0a2.2,2.2 0 1,0 -4.4,0M593.1,226a2.2,2.2 0 1,0 4.4,0a2.2,2.2 0 1,0 -4.4,0M598.6,226a2.2,2.2 0 1,0 4.4,0a2.2,2.2 0 1,0 -4.4,0M604.7,226a2.2,2.2 0 1,0 4.4,0a2.2,2.2 0 1,0 -4.4,0M610.8,226a2.2,2.2 0 1,0 4.4,0a2.2,2.2 0 1,0 -4.4,0M616.3,226a2.2,2.2 0 1,0 4.4,0a2.2,2.2 0 1,0 -4.4,0M622.4,226a2.2,2.2 0 1,0 4.4,0a2.2,2.2 0 1,0 -4.4,0M628.5,226a2.2,2.2 0 1,0 4.4,0a2.2,2.2 0 1,0 -4.4,0M634.6,226a2.2,2.2 0 1,0 4.4,0a2.2,2.2 0 1,0 -4.4,0M640.1,226a2.2,2.2 0 1,0 4.4,0a2.2,2.2 0 1,0 -4.4,0M646.2,226a2.2,2.2 0 1,0 4.4,0a2.2,2.2 0 1,0 -4.4,0M651.6,226a2.2,2.2 0 1,0 4.4,0a2.2,2.2 0 1,0 -4.4,0M657.8,226a2.2,2.2 0 1,0 4.4,0a2.2,2.2 0 1,0 -4.4,0M663.9,226a2.2,2.2 0 1,0 4.4,0a2.2,2.2 0 1,0 -4.4,0M669.3,226a2.2,2.2 0 1,0 4.4,0a2.2,2.2 0 1,0 -4.4,0M675.5,226a2.2,2.2 0 1,0 4.4,0a2.2,2.2 0 1,0 -4.4,0M680.9,226a2.2,2.2 0 1,0 4.4,0a2.2,2.2 0 1,0 -4.4,0M687,226a2.2,2.2 0 1,0 4.4,0a2.2,2.2 0 1,0 -4.4,0M693.1,226a2.2,2.2 0 1,0 4.4,0a2.2,2.2 0 1,0 -4.4,0M698.6,226a2.2,2.2 0 1,0 4.4,0a2.2,2.2 0 1,0 -4.4,0M704.7,226a2.2,2.2 0 1,0 4.4,0a2.2,2.2 0 1,0 -4.4,0M710.8,226a2.2,2.2 0 1,0 4.4,0a2.2,2.2 0 1,0 -4.4,0M716.9,226a2.2,2.2 0 1,0 4.4,0a2.2,2.2 0 1,0 -4.4,0M722.4,226a2.2,2.2 0 1,0 4.4,0a2.2,2.2 0 1,0 -4.4,0M728.5,226a2.2,2.2 0 1,0 4.4,0a2.2,2.2 0 1,0 -4.4,0M734,226a2.2,2.2 0 1,0 4.4,0a2.2,2.2 0 1,0 -4.4,0M740.1,226a2.2,2.2 0 1,0 4.4,0a2.2,2.2 0 1,0 -4.4,0M746.6,226a2.2,2.2 0 1,0 4.4,0a2.2,2.2 0 1,0 -4.4,0M752.8,226a2.2,2.2 0 1,0 4.4,0a2.2,2.2 0 1,0 -4.4,0M758.9,226a2.2,2.2 0 1,0 4.4,0a2.2,2.2 0 1,0 -4.4,0M765,226a2.2,2.2 0 1,0 4.4,0a2.2,2.2 0 1,0 -4.4,0M770.5,226a2.2,2.2 0 1,0 4.4,0a2.2,2.2 0 1,0 -4.4,0M776.6,226a2.2,2.2 0 1,0 4.4,0a2.2,2.2 0 1,0 -4.4,0M782.7,226a2.2,2.2 0 1,0 4.4,0a2.2,2.2 0 1,0 -4.4,0M788.8,226a2.2,2.2 0 1,0 4.4,0a2.2,2.2 0 1,0 -4.4,0M794.9,226a2.2,2.2 0 1,0 4.4,0a2.2,2.2 0 1,0 -4.4,0M800.4,226a2.2,2.2 0 1,0 4.4,0a2.2,2.2 0 1,0 -4.4,0M806.5,226a2.2,2.2 0 1,0 4.4,0a2.2,2.2 0 1,0 -4.4,0M812.6,226a2.2,2.2 0 1,0 4.4,0a2.2,2.2 0 1,0 -4.4,0M818.1,226a2.2,2.2 0 1,0 4.4,0a2.2,2.2 0 1,0 -4.4,0M824.2,226a2.2,2.2 0 1,0 4.4,0a2.2,2.2 0 1,0 -4.4,0M829.6,226a2.2,2.2 0 1,0 4.4,0a2.2,2.2 0 1,0 -4.4,0M835.8,226a2.2,2.2 0 1,0 4.4,0a2.2,2.2 0 1,0 -4.4,0M841.2,226a2.2,2.2 0 1,0 4.4,0a2.2,2.2 0 1,0 -4.4,0M846.6,226a2.2,2.2 0 1,0 4.4,0a2.2,2.2 0 1,0 -4.4,0M852.8,226a2.2,2.2 0 1,0 4.4,0a2.2,2.2 0 1,0 -4.4,0M858.9,226a2.2,2.2 0 1,0 4.4,0a2.2,2.2 0 1,0 -4.4,0M864.3,226a2.2,2.2 0 1,0 4.4,0a2.2,2.2 0 1,0 -4.4,0M870.5,226a2.2,2.2 0 1,0 4.4,0a2.2,2.2 0 1,0 -4.4,0M875.9,226a2.2,2.2 0 1,0 4.4,0a2.2,2.2 0 1,0 -4.4,0M881.3,226a2.2,2.2 0 1,0 4.4,0a2.2,2.2 0 1,0 -4.4,0M887.5,226a2.2,2.2 0 1,0 4.4,0a2.2,2.2 0 1,0 -4.4,0M893.6,226a2.2,2.2 0 1,0 4.4,0a2.2,2.2 0 1,0 -4.4,0M899,226a2.2,2.2 0 1,0 4.4,0a2.2,2.2 0 1,0 -4.4,0M905.1,226a2.2,2.2 0 1,0 4.4,0a2.2,2.2 0 1,0 -4.4,0M910.6,226a2.2,2.2 0 1,0 4.4,0a2.2,2.2 0 1,0 -4.4,0M916.7,226a2.2,2.2 0 1,0 4.4,0a2.2,2.2 0 1,0 -4.4,0M922.3,226a2.2,2.2 0 1,0 4.4,0a2.2,2.2 0 1,0 -4.4,0M928.4,224.4a2.2,2.2 0 1,0 4.4,0a2.2,2.2 0 1,0 -4.4,0M933.9,224.4a2.2,2.2 0 1,0 4.4,0a2.2,2.2 0 1,0 -4.4,0M940,224.4a2.2,2.2 0 1,0 4.4,0a2.2,2.2 0 1,0 -4.4,0M945.5,224.4a2.2,2.2 0 1,0 4.4,0a2.2,2.2 0 1,0 -4.4,0M951.6,224.4a2.2,2.2 0 1,0 4.4,0a2.2,2.2 0 1,0 -4.4,0M957.1,224.4a2.2,2.2 0 1,0 4.4,0a2.2,2.2 0 1,0 -4.4,0M963.2,224.4a2.2,2.2 0 1,0 4.4,0a2.2,2.2 0 1,0 -4.4,0M968.6,224.4a2.2,2.2 0 1,0 4.4,0a2.2,2.2 0 1,0 -4.4,0M974.7,224.4a2.2,2.2 0 1,0 4.4,0a2.2,2.2 0 1,0 -4.4,0M980.2,224.4a2.2,2.2 0 1,0 4.4,0a2.2,2.2 0 1,0 -4.4,0M985.6,224.4a2.2,2.2 0 1,0 4.4,0a2.2,2.2 0 1,0 -4.4,0M991.8,222.4a2.2,2.2 0 1,0 4.4,0a2.2,2.2 0 1,0 -4.4,0M997.2,222.4a2.2,2.2 0 1,0 4.4,0a2.2,2.2 0 1,0 -4.4,0M1003.3,222.4a2.2,2.2 0 1,0 4.4,0a2.2,2.2 0 1,0 -4.4,0M1008.8,222.4a2.2,2.2 0 1,0 4.4,0a2.2,2.2 0 1,0 -4.4,0M1014.9,222.4a2.2,2.2 0 1,0 4.4,0a2.2,2.2 0 1,0 -4.4,0M1020.3,222.4a2.2,2.2 0 1,0 4.4,0a2.2,2.2 0 1,0 -4.4,0M1026.4,222.4a2.2,2.2 0 1,0 4.4,0a2.2,2.2 0 1,0 -4.4,0M1031.9,222.4a2.2,2.2 0 1,0 4.4,0a2.2,2.2 0 1,0 -4.4,0M1038,222.4a2.2,2.2 0 1,0 4.4,0a2.2,2.2 0 1,0 -4.4,0M1043.4,222.4a2.2,2.2 0 1,0 4.4,0a2.2,2.2 0 1,0 -4.4,0M1049.6,223.8a2.2,2.2 0 1,0 4.4,0a2.2,2.2 0 1,0 -4.4,0M1055,223.8a2.2,2.2 0 1,0 4.4,0a2.2,2.2 0 1,0 -4.4,0M1060.5,223.8a2.2,2.2 0 1,0 4.4,0a2.2,2.2 0 1,0 -4.4,0M1066.6,223.8a2.2,2.2 0 1,0 4.4,0a2.2,2.2 0 1,0 -4.4,0M1072,223.8a2.2,2.2 0 1,0 4.4,0a2.2,2.2 0 1,0 -4.4,0M1078.1,222.9a2.2,2.2 0 1,0 4.4,0a2.2,2.2 0 1,0 -4.4,0M1083.6,222.9a2.2,2.2 0 1,0 4.4,0a2.2,2.2 0 1,0 -4.4,0M1089.2,222.9a2.2,2.2 0 1,0 4.4,0a2.2,2.2 0 1,0 -4.4,0M1095,222.9a2.2,2.2 0 1,0 4.4,0a2.2,2.2 0 1,0 -4.4,0M1100.8,222.9a2.2,2.2 0 1,0 4.4,0a2.2,2.2 0 1,0 -4.4,0M1106.6,222.9a2.2,2.2 0 1,0 4.4,0a2.2,2.2 0 1,0 -4.4,0M1113.1,222.9a2.2,2.2 0 1,0 4.4,0a2.2,2.2 0 1,0 -4.4,0M1118.8,222.9a2.2,2.2 0 1,0 4.4,0a2.2,2.2 0 1,0 -4.4,0M1124.6,222.9a2.2,2.2 0 1,0 4.4,0a2.2,2.2 0 1,0 -4.4,0M1130.4,222.9a2.2,2.2 0 1,0 4.4,0a2.2,2.2 0 1,0 -4.4,0M1136.1,222.9a2.2,2.2 0 1,0 4.4,0a2.2,2.2 0 1,0 -4.4,0M1141.9,222.9a2.2,2.2 0 1,0 4.4,0a2.2,2.2 0 1,0 -4.4,0M1147.7,222.9a2.2,2.2 0 1,0 4.4,0a2.2,2.2 0 1,0 -4.4,0M1153.5,222.9a2.2,2.2 0 1,0 4.4,0a2.2,2.2 0 1,0 -4.4,0M1159.2,222.9a2.2,2.2 0 1,0 4.4,0a2.2,2.2 0 1,0 -4.4,0M1165,222.9a2.2,2.2 0 1,0 4.4,0a2.2,2.2 0 1,0 -4.4,0M1170.8,224.91a2.2,2.2 0 1,0 4.4,0a2.2,2.2 0 1,0 -4.4,0M1176.5,224.94a2.2,2.2 0 1,0 4.4,0a2.2,2.2 0 1,0 -4.4,0M1182.3,224.97a2.2,2.2 0 1,0 4.4,0a2.2,2.2 0 1,0 -4.4,0M1188.1,225a2.2,2.2 0 1,0 4.4,0a2.2,2.2 0 1,0 -4.4,0M1193.9,225.02a2.2,2.2 0 1,0 4.4,0a2.2,2.2 0 1,0 -4.4,0M1199.6,225.05a2.2,2.2 0 1,0 4.4,0a2.2,2.2 0 1,0 -4.4,0M1205.4,225.08a2.2,2.2 0 1,0 4.4,0a2.2,2.2 0 1,0 -4.4,0M1211.4,225.11a2.2,2.2 0 1,0 4.4,0a2.2,2.2 0 1,0 -4.4,0M1217.6,225.14a2.2,2.2 0 1,0 4.4,0a2.2,2.2 0 1,0 -4.4,0M1222.9,225.16a2.2,2.2 0 1,0 4.4,0a2.2,2.2 0 1,0 -4.4,0M1228.9,225.19a2.2,2.2 0 1,0 4.4,0a2.2,2.2 0 1,0 -4.4,0M1234.2,225.21a2.2,2.2 0 1,0 4.4,0a2.2,2.2 0 1,0 -4.4,0M1240.3,225.24a2.2,2.2 0 1,0 4.4,0a2.2,2.2 0 1,0 -4.4,0M1246.3,225.27a2.2,2.2 0 1,0 4.4,0a2.2,2.2 0 1,0 -4.4,0M1252.3,225.3a2.2,2.2 0 1,0 4.4,0a2.2,2.2 0 1,0 -4.4,0M1257.6,225.33a2.2,2.2 0 1,0 4.4,0a2.2,2.2 0 1,0 -4.4,0M1263.6,225.35a2.2,2.2 0 1,0 4.4,0a2.2,2.2 0 1,0 -4.4,0M1269.7,225.38a2.2,2.2 0 1,0 4.4,0a2.2,2.2 0 1,0 -4.4,0M1275.7,225.41a2.2,2.2 0 1,0 4.4,0a2.2,2.2 0 1,0 -4.4,0M1281.8,225.44a2.2,2.2 0 1,0 4.4,0a2.2,2.2 0 1,0 -4.4,0M1287,225.46a2.2,2.2 0 1,0 4.4,0a2.2,2.2 0 1,0 -4.4,0M1293.1,225.49a2.2,2.2 0 1,0 4.4,0a2.2,2.2 0 1,0 -4.4,0M1299.1,225.52a2.2,2.2 0 1,0 4.4,0a2.2,2.2 0 1,0 -4.4,0M1305.2,225.55a2.2,2.2 0 1,0 4.4,0a2.2,2.2 0 1,0 -4.4,0M1310.4,225.58a2.2,2.2 0 1,0 4.4,0a2.2,2.2 0 1,0 -4.4,0M1316.5,225.6a2.2,2.2 0 1,0 4.4,0a2.2,2.2 0 1,0 -4.4,0M1322.5,225.63a2.2,2.2 0 1,0 4.4,0a2.2,2.2 0 1,0 -4.4,0M1327.8,225.66a2.2,2.2 0 1,0 4.4,0a2.2,2.2 0 1,0 -4.4,0M1333.8,225.69a2.2,2.2 0 1,0 4.4,0a2.2,2.2 0 1,0 -4.4,0M1339.9,225.72a2.2,2.2 0 1,0 4.4,0a2.2,2.2 0 1,0 -4.4,0M1345.2,225.74a2.2,2.2 0 1,0 4.4,0a2.2,2.2 0 1,0 -4.4,0M1351.2,225.77a2.2,2.2 0 1,0 4.4,0a2.2,2.2 0 1,0 -4.4,0M1357.4,225.8a2.2,2.2 0 1,0 4.4,0a2.2,2.2 0 1,0 -4.4,0" fill="#7cffb2" clip-path="url(#lg)"/>
<text x="21" y="305.6" font-size="14" fill="#EEF1FA" text-anchor="start" font-weight="bold">CPU (12 threads)</text>
<rect x="163.5" y="324" width="1196.5" height="1" fill="#484753"/>
<rect x="163.5" y="350.17" width="1196.5" height="1" fill="#484753"/>
<rect x="163.5" y="376.33" width="1196.5" height="1" fill="#484753"/>
<rect x="163.5" y="402.5" width="1196.5" height="1" fill="#484753"/>
<rect x="163.5" y="428.67" width="1196.5" height="1" fill="#484753"/>
<rect x="163.5" y="454.83" width="1196.5" height="1" fill="#484753"/>
<text x="156" y="326.8" font-size="14" fill="#B9B8CE" text-anchor="end" font-weight="normal">1200 %</text>
<text x="156" y="352.97" font-size="14" fill="#B9B8CE" text-anchor="end" font-weight="normal">1000 %</text>
<text x="156" y="379.13" font-size="14" fill="#B9B8CE" text-anchor="end" font-weight="normal">800 %</text>
<text x="156" y="405.3" font-size="14" fill="#B9B8CE" text-anchor="end" font-weight="normal">600 %</text>
<text x="156" y="431.47" font-size="14" fill="#B9B8CE" text-anchor="end" font-weight="normal">400 %</text>
<text x="156" y="457.63" font-size="14" fill="#B9B8CE" text-anchor="end" font-weight="normal">200 %</text>
<text x="156" y="483.8" font-size="14" fill="#B9B8CE" text-anchor="end" font-weight="normal">0 %</text>
<polygon points="158.6,469.54 164.1,469.21 170.2,468.87 176.3,467.73 182.4,468.62 188.6,468.84 194,468.67 200.1,469.01 206.3,469.21 211.7,469.1 217.1,469.01 222.6,469.15 228.7,469.56 234.1,469.76 240.3,469.35 245.7,469.32 251.8,468.88 257.3,468.54 263.4,469.58 268.8,468.65 275,468.72 280.4,468.64 285.9,469.62 292,468.8 298.1,469.08 303.5,468.83 309.7,468.92 315.1,469.13 321.2,468.98 326.7,468.46 332.8,469.28 338.2,469.66 344.4,468.86 349.8,469.01 355.9,468.97 361.8,468.49 367.9,468.61 373.4,468.67 379.5,469.21 384.9,469.3 391.1,468.52 396.5,469.33 401.9,469.16 408.1,468.49 414.2,469.19 419.6,468.95 425.7,469.12 431.2,469.1 437.3,468.61 443.4,469.1 448.9,469.18 455,469.23 460.4,469.53 466.6,469.45 472,469.54 478.1,469.14 483.6,469.38 489.7,468.38 495.8,468.78 501.3,468.62 507.4,469.36 513.5,469.35 518.9,469.12 525.1,469.78 531.2,468.59 536.6,468.88 542.8,469.37 548.2,468.75 554.1,469.36 560.2,469.65 566.3,468.67 571.8,468.42 577.9,468.65 583.3,469.37 589.5,468.97 595.6,469.27 601,468.68 607.1,469.07 612.6,468.9 618.7,469.19 624.8,468.59 630.3,469.16 636.4,468.76 641.8,469.04 648,469.29 654.1,469.63 660.2,468.68 665.6,468.79 671.8,468.12 677.2,468.77 683.3,469.19 688.8,469.12 694.9,469.1 701,469.02 706.5,468.95 712.6,468.73 718,469.1 724.1,468.47 730.3,469.26 735.7,469.64 741.8,469.31 749.1,468.6 754.5,468.82 760.6,468.75 766.8,469.15 772.9,469.13 778.3,468.39 784.5,468.91 790.6,469.09 796.7,469.33 802.1,469.38 808.3,468.56 814.4,468.66 819.8,468.62 826,469 831.4,469.13 837.5,469.14 843,469.54 849.1,468.23 854.5,469.02 860.6,469.08 866.1,468.87 872.2,469.15 877.7,468.58 883.8,469.48 889.2,469 895.3,468.99 900.8,468.59 906.9,468.03 913,468.42 918.5,469.05 924.6,469.73 930,469.3 936.2,468.56 942,469.07 947.5,469.05 953.6,468.41 959,469.14 965.2,469.12 970.6,468.19 976.7,468.87 982.2,469.19 987.6,468.88 993.7,469.48 999.2,468.17 1005.3,468.79 1010.7,469.27 1016.9,469.13 1022.3,469.14 1028.4,469.29 1033.9,468.71 1040,469.6 1045.4,468.71 1051.6,469.27 1057,468.84 1063.1,468.79 1068.6,468.58 1074,467.94 1080.1,468.81 1085.6,469.18 1091.7,468.81 1097.1,469.27 1103.3,468.29 1108.7,468.44 1114.8,469.84 1120.3,469.15 1126.4,468.64 1131.8,469.36 1138.1,468.72 1144.4,468.79 1149.9,469.38 1156.1,469.01 1161.6,469.06 1167.9,468.85 1173.3,469.05 1179.6,468.76 1185.1,468.58 1190.6,468.76 1196.8,469.52 1202.3,468.86 1208.6,469.7 1214,469.44 1220.3,468.86 1225.8,469.14 1231.2,468.76 1236.7,468.65 1243,468.36 1248.5,469.06 1254.7,469.25 1260.2,468.94 1265.7,468.18 1271.9,468.7 1277.4,469.05 1283.7,469.15 1289.1,469 1295.4,468.79 1300.9,469.67 1307.1,469.19 1312.6,469.06 1318.9,469.23 1324.4,469 1330.6,469.12 1336.1,469.08 1341.6,469.11 1347.9,469.08 1353.3,469.23 1359.6,469.74 1359.6,481.5 158.6,481.5" fill="#4992ff" fill-opacity="0.7" clip-path="url(#ac)"/>
<polygon points="158.6,467.12 164.1,467.24 170.2,466.67 176.3,465.65 182.4,467.01 188.6,466.78 194,467.03 200.1,467.17 206.3,467.39 211.7,467.6 217.1,467.51 222.6,466.99 228.7,467.44 234.1,467.39 240.3,467.46 245.7,467.47 251.8,467.43 257.3,466.85 263.4,467.94 268.8,466.22 275,467.02 280.4,466.67 285.9,467.31 292,466.88 298.1,467.66 303.5,466.95 309.7,466.75 315.1,467.96 321.2,467.32 326.7,466.36 332.8,467.03 338.2,467.29 344.4,466.93 349.8,467.2 355.9,467.87 361.8,467.41 367.9,466.93 373.4,467.17 379.5,467.36 384.9,467.65 391.1,467.41 396.5,467.52 401.9,467.42 408.1,467.32 414.2,466.91 419.6,467 425.7,467.57 431.2,466.92 437.3,467.21 443.4,467.09 448.9,466.73 455,467.7 460.4,467.54 466.6,467.24 472,467.58 478.1,467.57 483.6,467.47 489.7,466.85 495.8,467.3 501.3,466.79 507.4,467.34 513.5,467.05 518.9,466.96 525.1,467.77 531.2,466.42 536.6,467.17 542.8,467.63 548.2,467.19 554.1,467.4 560.2,467.48 566.3,466.43 571.8,465.81 577.9,466.38 583.3,466.96 589.5,466.75 595.6,467.3 601,466.07 607.1,467.48 612.6,467.96 618.7,466.71 624.8,466.89 630.3,467.22 636.4,466.72 641.8,467.85 648,467.08 654.1,467.35 660.2,466.27 665.6,466.74 671.8,466.36 677.2,467.11 683.3,467.21 688.8,467.75 694.9,467.73 701,466.64 706.5,466.89 712.6,466.49 718,467.24 724.1,466.32 730.3,467.13 735.7,467.13 741.8,467.24 749.1,466.73 754.5,467.17 760.6,466.47 766.8,466.88 772.9,466.93 778.3,466.27 784.5,467.11 790.6,466.32 796.7,467.45 802.1,467.31 808.3,466.4 814.4,466.27 819.8,466.66 826,467.33 831.4,467.23 837.5,467.12 843,467.3 849.1,465.58 854.5,466.45 860.6,467.6 866.1,466.66 872.2,467.7 877.7,467.25 883.8,467.26 889.2,466.96 895.3,467.51 900.8,466.14 906.9,465.29 913,466.35 918.5,467.03 924.6,467.48 930,466.92 936.2,466.56 942,466.34 947.5,467.47 953.6,466.68 959,467.22 965.2,467 970.6,466.49 976.7,466.4 982.2,467.32 987.6,466.75 993.7,467 999.2,466.11 1005.3,466.44 1010.7,467.49 1016.9,467.28 1022.3,466.95 1028.4,466.77 1033.9,466.6 1040,467.39 1045.4,467.09 1051.6,467.38 1057,467.14 1063.1,466.31 1068.6,466.58 1074,465.48 1080.1,466.71 1085.6,467.02 1091.7,466.88 1097.1,467.73 1103.3,465.95 1108.7,466.92 1114.8,467.24 1120.3,467.63 1126.4,466.67 1131.8,467.15 1138.1,466.87 1144.4,466.61 1149.9,467.55 1156.1,466.97 1161.6,466.92 1167.9,466.73 1173.3,467.19 1179.6,466.78 1185.1,466.86 1190.6,466.37 1196.8,467.11 1202.3,466.46 1208.6,467.49 1214,467.24 1220.3,466.86 1225.8,467.24 1231.2,467.33 1236.7,466.17 1243,466.32 1248.5,467 1254.7,467.4 1260.2,467.64 1265.7,466.16 1271.9,467.15 1277.4,466.89 1283.7,467.15 1289.1,467.03 1295.4,467.3 1300.9,467.03 1307.1,466.9 1312.6,467.33 1318.9,468.01 1324.4,467.19 1330.6,466.99 1336.1,466.95 1341.6,466.89 1347.9,466.68 1353.3,467.05 1359.6,467.95 1359.6,469.74 1353.3,469.23 1347.9,469.08 1341.6,469.11 1336.1,469.08 1330.6,469.12 1324.4,469 1318.9,469.23 1312.6,469.06 1307.1,469.19 1300.9,469.67 1295.4,468.79 1289.1,469 1283.7,469.15 1277.4,469.05 1271.9,468.7 1265.7,468.18 1260.2,468.94 1254.7,469.25 1248.5,469.06 1243,468.36 1236.7,468.65 1231.2,468.76 1225.8,469.14 1220.3,468.86 1214,469.44 1208.6,469.7 1202.3,468.86 1196.8,469.52 1190.6,468.76 1185.1,468.58 1179.6,468.76 1173.3,469.05 1167.9,468.85 1161.6,469.06 1156.1,469.01 1149.9,469.38 1144.4,468.79 1138.1,468.72 1131.8,469.36 1126.4,468.64 1120.3,469.15 1114.8,469.84 1108.7,468.44 1103.3,468.29 1097.1,469.27 1091.7,468.81 1085.6,469.18 1080.1,468.81 1074,467.94 1068.6,468.58 1063.1,468.79 1057,468.84 1051.6,469.27 1045.4,468.71 1040,469.6 1033.9,468.71 1028.4,469.29 1022.3,469.14 1016.9,469.13 1010.7,469.27 1005.3,468.79 999.2,468.17 993.7,469.48 987.6,468.88 982.2,469.19 976.7,468.87 970.6,468.19 965.2,469.12 959,469.14 953.6,468.41 947.5,469.05 942,469.07 936.2,468.56 930,469.3 924.6,469.73 918.5,469.05 913,468.42 906.9,468.03 900.8,468.59 895.3,468.99 889.2,469 883.8,469.48 877.7,468.58 872.2,469.15 866.1,468.87 860.6,469.08 854.5,469.02 849.1,468.23 843,469.54 837.5,469.14 831.4,469.13 826,469 819.8,468.62 814.4,468.66 808.3,468.56 802.1,469.38 796.7,469.33 790.6,469.09 784.5,468.91 778.3,468.39 772.9,469.13 766.8,469.15 760.6,468.75 754.5,468.82 749.1,468.6 741.8,469.31 735.7,469.64 730.3,469.26 724.1,468.47 718,469.1 712.6,468.73 706.5,468.95 701,469.02 694.9,469.1 688.8,469.12 683.3,469.19 677.2,468.77 671.8,468.12 665.6,468.79 660.2,468.68 654.1,469.63 648,469.29 641.8,469.04 636.4,468.76 630.3,469.16 624.8,468.59 618.7,469.19 612.6,468.9 607.1,469.07 601,468.68 595.6,469.27 589.5,468.97 583.3,469.37 577.9,468.65 571.8,468.42 566.3,468.67 560.2,469.65 554.1,469.36 548.2,468.75 542.8,469.37 536.6,468.88 531.2,468.59 525.1,469.78 518.9,469.12 513.5,469.35 507.4,469.36 501.3,468.62 495.8,468.78 489.7,468.38 483.6,469.38 478.1,469.14 472,469.54 466.6,469.45 460.4,469.53 455,469.23 448.9,469.18 443.4,469.1 437.3,468.61 431.2,469.1 425.7,469.12 419.6,468.95 414.2,469.19 408.1,468.49 401.9,469.16 396.5,469.33 391.1,468.52 384.9,469.3 379.5,469.21 373.4,468.67 367.9,468.61 361.8,468.49 355.9,468.97 349.8,469.01 344.4,468.86 338.2,469.66 332.8,469.28 326.7,468.46 321.2,468.98 315.1,469.13 309.7,468.92 303.5,468.83 298.1,469.08 292,468.8 285.9,469.62 280.4,468.64 275,468.72 268.8,468.65 263.4,469.58 257.3,468.54 251.8,468.88 245.7,469.32 240.3,469.35 234.1,469.76 228.7,469.56 222.6,469.15 217.1,469.01 211.7,469.1 206.3,469.21 200.1,469.01 194,468.67 188.6,468.84 182.4,468.62 176.3,467.73 170.2,468.87 164.1,469.21 158.6,469.54" fill="#7cffb2" fill-opacity="0.7" clip-path="url(#ac)"/>
<polygon points="158.6,454.73 164.1,454.9 170.2,453.59 176.3,451.99 182.4,453.16 188.6,454.01 194,453.72 200.1,454.68 206.3,454.18 211.7,454.74 217.1,454.93 222.6,453.46 228.7,454.9 234.1,455.52 240.3,455.77 245.7,455.25 251.8,454.59 257.3,454.4 263.4,454.78 268.8,453.98 275,454.22 280.4,453.35 285.9,454.38 292,453.31 298.1,455.55 303.5,454.68 309.7,454.14 315.1,454.57 321.2,455.35 326.7,453.03 332.8,454.01 338.2,454.96 344.4,454.57 349.8,454.87 355.9,454.66 361.8,454.9 367.9,453.84 373.4,453.89 379.5,454.33 384.9,455.27 391.1,453.85 396.5,455.14 401.9,454.79 408.1,453.77 414.2,454.99 419.6,453.97 425.7,454.99 431.2,455.13 437.3,454.37 443.4,454.69 448.9,453.6 455,454.02 460.4,455.47 466.6,455 472,454.48 478.1,455.43 483.6,454.4 489.7,453.47 495.8,453.67 501.3,454.17 507.4,454.6 513.5,454.44 518.9,454.86 525.1,455.12 531.2,453.03 536.6,453.72 542.8,454.86 548.2,454.54 554.1,455.13 560.2,454.95 566.3,453.87 571.8,451.22 577.9,453.63 583.3,454.42 589.5,453.23 595.6,454.53 601,453.22 607.1,453.86 612.6,455.55 618.7,453.62 624.8,453.61 630.3,454.96 636.4,453.15 641.8,454.71 648,455.24 654.1,454.5 660.2,453.93 665.6,453.95 671.8,453.85 677.2,454.1 683.3,455.33 688.8,455.25 694.9,454.89 701,454.27 706.5,454.38 712.6,453.26 718,453.91 724.1,452.94 730.3,454.9 735.7,454.81 741.8,454.43 749.1,454.39 754.5,453.9 760.6,452.69 766.8,453.08 772.9,454.24 778.3,452.89 784.5,454.48 790.6,453.7 796.7,455.29 802.1,455.06 808.3,452.61 814.4,453.55 819.8,453.32 826,454.84 831.4,453.88 837.5,454.2 843,455.67 849.1,452.88 854.5,453.15 860.6,454.66 866.1,453.54 872.2,455.33 877.7,454.8 883.8,456.16 889.2,453.73 895.3,454.05 900.8,452.78 906.9,451.77 913,453.22 918.5,454.65 924.6,455.03 930,454.95 936.2,453.24 942,453.62 947.5,454.14 953.6,452.44 959,453.63 965.2,454.28 970.6,453.28 976.7,454.55 982.2,454.54 987.6,453.43 993.7,454.14 999.2,451.99 1005.3,453.69 1010.7,453.92 1016.9,454.74 1022.3,454.25 1028.4,454.74 1033.9,453.88 1040,455.45 1045.4,453.85 1051.6,455.13 1057,454.25 1063.1,452.93 1068.6,453.21 1074,451.17 1080.1,454.09 1085.6,454.46 1091.7,454.47 1097.1,454.7 1103.3,451.92 1108.7,453.59 1114.8,454.83 1120.3,454.31 1126.4,454.26 1131.8,454.35 1138.1,454.53 1144.4,452.98 1149.9,454.89 1156.1,454.28 1161.6,454.54 1167.9,454.14 1173.3,454.98 1179.6,455.85 1185.1,453.97 1190.6,453.78 1196.8,455.32 1202.3,452.85 1208.6,455.24 1214,454.54 1220.3,454.74 1225.8,455.2 1231.2,455.15 1236.7,453.6 1243,453.66 1248.5,454.26 1254.7,454.48 1260.2,454.65 1265.7,451.64 1271.9,454.6 1277.4,454.79 1283.7,454.56 1289.1,453.94 1295.4,453.83 1300.9,454.92 1307.1,453.96 1312.6,454.45 1318.9,455.05 1324.4,454.75 1330.6,454.88 1336.1,454.58 1341.6,454.48 1347.9,454.35 1353.3,454.44 1359.6,455.61 1359.6,467.95 1353.3,467.05 1347.9,466.68 1341.6,466.89 1336.1,466.95 1330.6,466.99 1324.4,467.19 1318.9,468.01 1312.6,467.33 1307.1,466.9 1300.9,467.03 1295.4,467.3 1289.1,467.03 1283.7,467.15 1277.4,466.89 1271.9,467.15 1265.7,466.16 1260.2,467.64 1254.7,467.4 1248.5,467 1243,466.32 1236.7,466.17 1231.2,467.33 1225.8,467.24 1220.3,466.86 1214,467.24 1208.6,467.49 1202.3,466.46 1196.8,467.11 1190.6,466.37 1185.1,466.86 1179.6,466.78 1173.3,467.19 1167.9,466.73 1161.6,466.92 1156.1,466.97 1149.9,467.55 1144.4,466.61 1138.1,466.87 1131.8,467.15 1126.4,466.67 1120.3,467.63 1114.8,467.24 1108.7,466.92 1103.3,465.95 1097.1,467.73 1091.7,466.88 1085.6,467.02 1080.1,466.71 1074,465.48 1068.6,466.58 1063.1,466.31 1057,467.14 1051.6,467.38 1045.4,467.09 1040,467.39 1033.9,466.6 1028.4,466.77 1022.3,466.95 1016.9,467.28 1010.7,467.49 1005.3,466.44 999.2,466.11 993.7,467 987.6,466.75 982.2,467.32 976.7,466.4 970.6,466.49 965.2,467 959,467.22 953.6,466.68 947.5,467.47 942,466.34 936.2,466.56 930,466.92 924.6,467.48 918.5,467.03 913,466.35 906.9,465.29 900.8,466.14 895.3,467.51 889.2,466.96 883.8,467.26 877.7,467.25 872.2,467.7 866.1,466.66 860.6,467.6 854.5,466.45 849.1,465.58 843,467.3 837.5,467.12 831.4,467.23 826,467.33 819.8,466.66 814.4,466.27 808.3,466.4 802.1,467.31 796.7,467.45 790.6,466.32 784.5,467.11 778.3,466.27 772.9,466.93 766.8,466.88 760.6,466.47 754.5,467.17 749.1,466.73 741.8,467.24 735.7,467.13 730.3,467.13 724.1,466.32 718,467.24 712.6,466.49 706.5,466.89 701,466.64 694.9,467.73 688.8,467.75 683.3,467.21 677.2,467.11 671.8,466.36 665.6,466.74 660.2,466.27 654.1,467.35 648,467.08 641.8,467.85 636.4,466.72 630.3,467.22 624.8,466.89 618.7,466.71 612.6,467.96 607.1,467.48 601,466.07 595.6,467.3 589.5,466.75 583.3,466.96 577.9,466.38 571.8,465.81 566.3,466.43 560.2,467.48 554.1,467.4 548.2,467.19 542.8,467.63 536.6,467.17 531.2,466.42 525.1,467.77 518.9,466.96 513.5,467.05 507.4,467.34 501.3,466.79 495.8,467.3 489.7,466.85 483.6,467.47 478.1,467.57 472,467.58 466.6,467.24 460.4,467.54 455,467.7 448.9,466.73 443.4,467.09 437.3,467.21 431.2,466.92 425.7,467.57 419.6,467 414.2,466.91 408.1,467.32 401.9,467.42 396.5,467.52 391.1,467.41 384.9,467.65 379.5,467.36 373.4,467.17 367.9,466.93 361.8,467.41 355.9,467.87 349.8,467.2 344.4,466.93 338.2,467.29 332.8,467.03 326.7,466.36 321.2,467.32 315.1,467.96 309.7,466.75 303.5,466.95 298.1,467.66 292,466.88 285.9,467.31 280.4,466.67 275,467.02 268.8,466.22 263.4,467.94 257.3,466.85 251.8,467.43 245.7,467.47 240.3,467.46 234.1,467.39 228.7,467.44 222.6,466.99 217.1,467.51 211.7,467.6 206.3,467.39 200.1,467.17 194,467.03 188.6,466.78 182.4,467.01 176.3,465.65 170.2,466.67 164.1,467.24 158.6,467.12" fill="#fddd60" fill-opacity="0.7" clip-path="url(#ac)"/>
<polygon points="158.6,452.89 164.1,452.82 170.2,452.02 176.3,449.78 182.4,451.76 188.6,452.18 194,451.48 200.1,452.88 206.3,453.38 211.7,453.27 217.1,453.99 222.6,452.08 228.7,453.76 234.1,453.62 240.3,454.46 245.7,454.3 251.8,452.59 257.3,452 263.4,453.65 268.8,452.53 275,453.23 280.4,450.93 285.9,453.23 292,451.55 298.1,453.64 303.5,452.07 309.7,451.71 315.1,453.49 321.2,452.68 326.7,450.88 332.8,453.21 338.2,453.57 344.4,453.08 349.8,454.04 355.9,453.43 361.8,452.68 367.9,452.36 373.4,451.94 379.5,452.64 384.9,453.42 391.1,452.61 396.5,453.03 401.9,453.94 408.1,452.59 414.2,454.02 419.6,452.98 425.7,454.19 431.2,452.33 437.3,453.38 443.4,453.38 448.9,452.53 455,452.94 460.4,454.67 466.6,453.27 472,453.51 478.1,454.23 483.6,453.6 489.7,451.31 495.8,452.87 501.3,452.72 507.4,452.17 513.5,452.27 518.9,453.17 525.1,453.93 531.2,451.69 536.6,452.3 542.8,453.85 548.2,452.62 554.1,452.8 560.2,453.4 566.3,452.68 571.8,449.44 577.9,450.77 583.3,451.86 589.5,452.43 595.6,452.75 601,450.57 607.1,452.36 612.6,453.78 618.7,451.81 624.8,452.03 630.3,452.43 636.4,451.08 641.8,453.9 648,453.49 654.1,453.7 660.2,451.49 665.6,452.7 671.8,452.08 677.2,452.66 683.3,454.22 688.8,453.72 694.9,453.66 701,452.38 706.5,452.93 712.6,451.87 718,452.39 724.1,451.58 730.3,453.34 735.7,453.09 741.8,453.42 749.1,451.86 754.5,452.58 760.6,451.22 766.8,451.94 772.9,452.33 778.3,451.18 784.5,452.62 790.6,452.15 796.7,453.74 802.1,454.13 808.3,450.77 814.4,451.3 819.8,450.45 826,453.44 831.4,452.79 837.5,452.47 843,454.06 849.1,450.54 854.5,451.19 860.6,453.86 866.1,451.77 872.2,453.18 877.7,452.27 883.8,454.74 889.2,451.85 895.3,452.49 900.8,450.94 906.9,449.2 913,451.49 918.5,453.55 924.6,453.26 930,453.36 936.2,451.12 942,451.98 947.5,453.32 953.6,450.88 959,452.12 965.2,453.48 970.6,450.6 976.7,452.66 982.2,452.85 987.6,452.28 993.7,453.34 999.2,450.4 1005.3,450.66 1010.7,453.12 1016.9,453.39 1022.3,451.77 1028.4,452.94 1033.9,452.56 1040,454.11 1045.4,452.74 1051.6,453.74 1057,452.13 1063.1,451.48 1068.6,451.66 1074,448.34 1080.1,451.93 1085.6,452.19 1091.7,453.46 1097.1,453.64 1103.3,450.17 1108.7,451.62 1114.8,453.19 1120.3,453.14 1126.4,452.84 1131.8,452.64 1138.1,452.84 1144.4,451.23 1149.9,453.35 1156.1,453.48 1161.6,452.83 1167.9,452.62 1173.3,453 1179.6,453.11 1185.1,452.03 1190.6,451.19 1196.8,453.99 1202.3,451.15 1208.6,453.16 1214,453.74 1220.3,451.92 1225.8,453.57 1231.2,453.74 1236.7,452.41 1243,451.1 1248.5,452.13 1254.7,452.26 1260.2,453.43 1265.7,449.92 1271.9,452.74 1277.4,453.47 1283.7,452.7 1289.1,452.11 1295.4,452.47 1300.9,453.18 1307.1,451.83 1312.6,452.72 1318.9,454.25 1324.4,453.18 1330.6,451.87 1336.1,452.23 1341.6,452.67 1347.9,452.16 1353.3,452.07 1359.6,454.68 1359.6,455.61 1353.3,454.44 1347.9,454.35 1341.6,454.48 1336.1,454.58 1330.6,454.88 1324.4,454.75 1318.9,455.05 1312.6,454.45 1307.1,453.96 1300.9,454.92 1295.4,453.83 1289.1,453.94 1283.7,454.56 1277.4,454.79 1271.9,454.6 1265.7,451.64 1260.2,454.65 1254.7,454.48 1248.5,454.26 1243,453.66 1236.7,453.6 1231.2,455.15 1225.8,455.2 1220.3,454.74 1214,454.54 1208.6,455.24 1202.3,452.85 1196.8,455.32 1190.6,453.78 1185.1,453.97 1179.6,455.85 1173.3,454.98 1167.9,454.14 1161.6,454.54 1156.1,454.28 1149.9,454.89 1144.4,452.98 1138.1,454.53 1131.8,454.35 1126.4,454.26 1120.3,454.31 1114.8,454.83 1108.7,453.59 1103.3,451.92 1097.1,454.7 1091.7,454.47 1085.6,454.46 1080.1,454.09 1074,451.17 1068.6,453.21 1063.1,452.93 1057,454.25 1051.6,455.13 1045.4,453.85 1040,455.45 1033.9,453.88 1028.4,454.74 1022.3,454.25 1016.9,454.74 1010.7,453.92 1005.3,453.69 999.2,451.99 993.7,454.14 987.6,453.43 982.2,454.54 976.7,454.55 970.6,453.28 965.2,454.28 959,453.63 953.6,452.44 947.5,454.14 942,453.62 936.2,453.24 930,454.95 924.6,455.03 918.5,454.65 913,453.22 906.9,451.77 900.8,452.78 895.3,454.05 889.2,453.73 883.8,456.16 877.7,454.8 872.2,455.33 866.1,453.54 860.6,454.66 854.5,453.15 849.1,452.88 843,455.67 837.5,454.2 831.4,453.88 826,454.84 819.8,453.32 814.4,453.55 808.3,452.61 802.1,455.06 796.7,455.29 790.6,453.7 784.5,454.48 778.3,452.89 772.9,454.24 766.8,453.08 760.6,452.69 754.5,453.9 749.1,454.39 741.8,454.43 735.7,454.81 730.3,454.9 724.1,452.94 718,453.91 712.6,453.26 706.5,454.38 701,454.27 694.9,454.89 688.8,455.25 683.3,455.33 677.2,454.1 671.8,453.85 665.6,453.95 660.2,453.93 654.1,454.5 648,455.24 641.8,454.71 636.4,453.15 630.3,454.96 624.8,453.61 618.7,453.62 612.6,455.55 607.1,453.86 601,453.22 595.6,454.53 589.5,453.23 583.3,454.42 577.9,453.63 571.8,451.22 566.3,453.87 560.2,454.95 554.1,455.13 548.2,454.54 542.8,454.86 536.6,453.72 531.2,453.03 525.1,455.12 518.9,454.86 513.5,454.44 507.4,454.6 501.3,454.17 495.8,453.67 489.7,453.47 483.6,454.4 478.1,455.43 472,454.48 466.6,455 460.4,455.47 455,454.02 448.9,453.6 443.4,454.69 437.3,454.37 431.2,455.13 425.7,454.99 419.6,453.97 414.2,454.99 408.1,453.77 401.9,454.79 396.5,455.14 391.1,453.85 384.9,455.27 379.5,454.33 373.4,453.89 367.9,453.84 361.8,454.9 355.9,454.66 349.8,454.87 344.4,454.57 338.2,454.96 332.8,454.01 326.7,453.03 321.2,455.35 315.1,454.57 309.7,454.14 303.5,454.68 298.1,455.55 292,453.31 285.9,454.38 280.4,453.35 275,454.22 268.8,453.98 263.4,454.78 257.3,454.4 251.8,454.59 245.7,455.25 240.3,455.77 234.1,455.52 228.7,454.9 222.6,453.46 217.1,454.93 211.7,454.74 206.3,454.18 200.1,454.68 194,453.72 188.6,454.01 182.4,453.16 176.3,451.99 170.2,453.59 164.1,454.9 158.6,454.73" fill="#ff6e76" fill-opacity="0.7" clip-path="url(#ac)"/>
<polygon points="158.6,440.45 164.1,441.64 170.2,439.74 176.3,436.13 182.4,438.88 188.6,440.52 194,438.68 200.1,441.37 206.3,442.17 211.7,441.93 217.1,442.06 222.6,440.72 228.7,443.05 234.1,443.14 240.3,442.59 245.7,443.19 251.8,440.52 257.3,439.79 263.4,442.59 268.8,440.25 275,440.41 280.4,439.51 285.9,441.43 292,438.74 298.1,442.29 303.5,441.19 309.7,439.1 315.1,441.45 321.2,441.23 326.7,437.5 332.8,440.64 338.2,441.99 344.4,441.83 349.8,441.98 355.9,441.32 361.8,442.17 367.9,439.3 373.4,439.36 379.5,440.07 384.9,442.62 391.1,440.48 396.5,441.18 401.9,442.31 408.1,440.87 414.2,442.22 419.6,440.87 425.7,441.88 431.2,441.26 437.3,441.92 443.4,441.89 448.9,440.52 455,441.24 460.4,442.12 466.6,441.96 472,441.2 478.1,442.74 483.6,441.68 489.7,439.36 495.8,440.41 501.3,441.71 507.4,441.32 513.5,440.38 518.9,441.28 525.1,443.11 531.2,438.88 536.6,439.73 542.8,442.46 548.2,440.69 554.1,442.51 560.2,441.37 566.3,439.62 571.8,436.49 577.9,438.87 583.3,440.47 589.5,439.68 595.6,441.47 601,438.31 607.1,441.22 612.6,441.96 618.7,439.55 624.8,440.34 630.3,441.24 636.4,438.52 641.8,441.79 648,441.14 654.1,442.74 660.2,439.09 665.6,440.93 671.8,440.36 677.2,441.01 683.3,442.41 688.8,442.47 694.9,442.53 701,440.68 706.5,441.26 712.6,439.38 718,440.27 724.1,438.8 730.3,441.96 735.7,441.19 741.8,440.25 749.1,440.38 754.5,440.09 760.6,439.11 766.8,439.84 772.9,440.88 778.3,437.17 784.5,441.94 790.6,439.61 796.7,442.43 802.1,442.62 808.3,438.27 814.4,439.48 819.8,437.44 826,441.57 831.4,440.34 837.5,439.82 843,443.46 849.1,437.49 854.5,438.72 860.6,442.15 866.1,438.83 872.2,442.97 877.7,441.18 883.8,442.74 889.2,440.22 895.3,441.09 900.8,437.55 906.9,436.73 913,438.9 918.5,441.05 924.6,442.46 930,441.83 936.2,438.28 942,440.43 947.5,441.52 953.6,437.72 959,440.47 965.2,441.88 970.6,437.73 976.7,440.59 982.2,441.57 987.6,439.94 993.7,441.57 999.2,436.76 1005.3,438.28 1010.7,442.1 1016.9,441.79 1022.3,439.88 1028.4,441.47 1033.9,440.66 1040,442.33 1045.4,440.51 1051.6,442.06 1057,439.27 1063.1,439.14 1068.6,438.33 1074,435.02 1080.1,439.52 1085.6,439.68 1091.7,440.78 1097.1,441.39 1103.3,437.04 1108.7,439.51 1114.8,441.35 1120.3,441.43 1126.4,441.05 1131.8,440.4 1138.1,440.54 1144.4,438.99 1149.9,442.21 1156.1,441.38 1161.6,441.6 1167.9,440.98 1173.3,440.07 1179.6,441.47 1185.1,439.21 1190.6,438.68 1196.8,442.92 1202.3,438.94 1208.6,442.74 1214,442.05 1220.3,440.75 1225.8,441.41 1231.2,441.92 1236.7,439.94 1243,438.41 1248.5,441.15 1254.7,441.01 1260.2,441.24 1265.7,436.58 1271.9,441.15 1277.4,440.57 1283.7,441.53 1289.1,439.76 1295.4,440.55 1300.9,441.5 1307.1,440.37 1312.6,441.3 1318.9,442.71 1324.4,441.16 1330.6,441.23 1336.1,441.39 1341.6,440.73 1347.9,440.49 1353.3,440.62 1359.6,443.51 1359.6,454.68 1353.3,452.07 1347.9,452.16 1341.6,452.67 1336.1,452.23 1330.6,451.87 1324.4,453.18 1318.9,454.25 1312.6,452.72 1307.1,451.83 1300.9,453.18 1295.4,452.47 1289.1,452.11 1283.7,452.7 1277.4,453.47 1271.9,452.74 1265.7,449.92 1260.2,453.43 1254.7,452.26 1248.5,452.13 1243,451.1 1236.7,452.41 1231.2,453.74 1225.8,453.57 1220.3,451.92 1214,453.74 1208.6,453.16 1202.3,451.15 1196.8,453.99 1190.6,451.19 1185.1,452.03 1179.6,453.11 1173.3,453 1167.9,452.62 1161.6,452.83 1156.1,453.48 1149.9,453.35 1144.4,451.23 1138.1,452.84 1131.8,452.64 1126.4,452.84 1120.3,453.14 1114.8,453.19 1108.7,451.62 1103.3,450.17 1097.1,453.64 1091.7,453.46 1085.6,452.19 1080.1,451.93 1074,448.34 1068.6,451.66 1063.1,451.48 1057,452.13 1051.6,453.74 1045.4,452.74 1040,454.11 1033.9,452.56 1028.4,452.94 1022.3,451.77 1016.9,453.39 1010.7,453.12 1005.3,450.66 999.2,450.4 993.7,453.34 987.6,452.28 982.2,452.85 976.7,452.66 970.6,450.6 965.2,453.48 959,452.12 953.6,450.88 947.5,453.32 942,451.98 936.2,451.12 930,453.36 924.6,453.26 918.5,453.55 913,451.49 906.9,449.2 900.8,450.94 895.3,452.49 889.2,451.85 883.8,454.74 877.7,452.27 872.2,453.18 866.1,451.77 860.6,453.86 854.5,451.19 849.1,450.54 843,454.06 837.5,452.47 831.4,452.79 826,453.44 819.8,450.45 814.4,451.3 808.3,450.77 802.1,454.13 796.7,453.74 790.6,452.15 784.5,452.62 778.3,451.18 772.9,452.33 766.8,451.94 760.6,451.22 754.5,452.58 749.1,451.86 741.8,453.42 735.7,453.09 730.3,453.34 724.1,451.58 718,452.39 712.6,451.87 706.5,452.93 701,452.38 694.9,453.66 688.8,453.72 683.3,454.22 677.2,452.66 671.8,452.08 665.6,452.7 660.2,451.49 654.1,453.7 648,453.49 641.8,453.9 636.4,451.08 630.3,452.43 624.8,452.03 618.7,451.81 612.6,453.78 607.1,452.36 601,450.57 595.6,452.75 589.5,452.43 583.3,451.86 577.9,450.77 571.8,449.44 566.3,452.68 560.2,453.4 554.1,452.8 548.2,452.62 542.8,453.85 536.6,452.3 531.2,451.69 525.1,453.93 518.9,453.17 513.5,452.27 507.4,452.17 501.3,452.72 495.8,452.87 489.7,451.31 483.6,453.6 478.1,454.23 472,453.51 466.6,453.27 460.4,454.67 455,452.94 448.9,452.53 443.4,453.38 437.3,453.38 431.2,452.33 425.7,454.19 419.6,452.98 414.2,454.02 408.1,452.59 401.9,453.94 396.5,453.03 391.1,452.61 384.9,453.42 379.5,452.64 373.4,451.94 367.9,452.36 361.8,452.68 355.9,453.43 349.8,454.04 344.4,453.08 338.2,453.57 332.8,453.21 326.7,450.88 321.2,452.68 315.1,453.49 309.7,451.71 303.5,452.07 298.1,453.64 292,451.55 285.9,453.23 280.4,450.93 275,453.23 268.8,452.53 263.4,453.65 257.3,452 251.8,452.59 245.7,454.3 240.3,454.46 234.1,453.62 228.7,453.76 222.6,452.08 217.1,453.99 211.7,453.27 206.3,453.38 200.1,452.88 194,451.48 188.6,452.18 182.4,451.76 176.3,449.78 170.2,452.02 164.1,452.82 158.6,452.89" fill="#58d9f9" fill-opacity="0.7" clip-path="url(#ac)"/>
<polygon points="158.6,438.51 164.1,439.74 170.2,438.22 176.3,432.9 182.4,436.16 188.6,437.1 194,436.63 200.1,439.12 206.3,440.57 211.7,438.85 217.1,440.67 222.6,438.19 228.7,440.48 234.1,440.32 240.3,440.74 245.7,440.99 251.8,438.35 257.3,437.91 263.4,440.42 268.8,437.83 275,438.8 280.4,436.17 285.9,440.15 292,436.34 298.1,441.01 303.5,437.97 309.7,437.18 315.1,438.31 321.2,439.16 326.7,434.57 332.8,439.45 338.2,439.63 344.4,439 349.8,439.29 355.9,440.06 361.8,439.02 367.9,437.58 373.4,437.31 379.5,437.31 384.9,440.86 391.1,438.84 396.5,439.3 401.9,440.31 408.1,437.54 414.2,441.13 419.6,438.85 425.7,440.46 431.2,438.28 437.3,439.35 443.4,439.59 448.9,438.46 455,438 460.4,440.46 466.6,439.37 472,439.39 478.1,440.81 483.6,438.83 489.7,436.86 495.8,438.56 501.3,438.55 507.4,438.85 513.5,438.91 518.9,438.66 525.1,440.8 531.2,436.58 536.6,437.42 542.8,440.97 548.2,438.4 554.1,439.98 560.2,439.79 566.3,438.16 571.8,432.73 577.9,436.23 583.3,437.36 589.5,437.86 595.6,438.54 601,435.26 607.1,439.16 612.6,440.38 618.7,437.23 624.8,437.61 630.3,438.77 636.4,436.11 641.8,440.2 648,440.06 654.1,441.67 660.2,435.97 665.6,438.27 671.8,437.2 677.2,438.56 683.3,440.75 688.8,439.96 694.9,440.92 701,438.13 706.5,438.91 712.6,435.81 718,438.22 724.1,435.93 730.3,440.36 735.7,438.96 741.8,438.53 749.1,437.58 754.5,437.36 760.6,435.6 766.8,437.46 772.9,438.67 778.3,435.08 784.5,438.58 790.6,437.77 796.7,440.16 802.1,441.63 808.3,435.15 814.4,436.69 819.8,434.67 826,439.94 831.4,438.43 837.5,437.72 843,440.7 849.1,435.4 854.5,435.91 860.6,439.6 866.1,436.71 872.2,439.88 877.7,438.88 883.8,441.24 889.2,438.09 895.3,438.06 900.8,434.97 906.9,433.35 913,436.09 918.5,440.15 924.6,440.49 930,438.26 936.2,436.33 942,437.75 947.5,439.93 953.6,435.14 959,438.09 965.2,439.93 970.6,435.98 976.7,439.6 982.2,439.25 987.6,436.52 993.7,439.09 999.2,434.68 1005.3,435.83 1010.7,439.38 1016.9,439.11 1022.3,438.32 1028.4,439.62 1033.9,437.86 1040,440.4 1045.4,438.4 1051.6,439.93 1057,437.57 1063.1,436.81 1068.6,436 1074,430.76 1080.1,437.3 1085.6,437.93 1091.7,437.84 1097.1,439.81 1103.3,433.9 1108.7,436.6 1114.8,439.32 1120.3,439.47 1126.4,438.81 1131.8,438.76 1138.1,438.54 1144.4,436.49 1149.9,439.21 1156.1,439.31 1161.6,439.78 1167.9,438.35 1173.3,439.26 1179.6,439.61 1185.1,437.69 1190.6,437.2 1196.8,439.53 1202.3,436.32 1208.6,439.91 1214,440.48 1220.3,438.03 1225.8,439.59 1231.2,439.97 1236.7,437.85 1243,436.11 1248.5,438.21 1254.7,438.98 1260.2,439.01 1265.7,434.21 1271.9,438.81 1277.4,438.95 1283.7,438.77 1289.1,437.27 1295.4,438.36 1300.9,439.66 1307.1,437.33 1312.6,439.56 1318.9,440.47 1324.4,439.23 1330.6,439.08 1336.1,438.25 1341.6,438.28 1347.9,437.02 1353.3,437.61 1359.6,441.68 1359.6,443.51 1353.3,440.62 1347.9,440.49 1341.6,440.73 1336.1,441.39 1330.6,441.23 1324.4,441.16 1318.9,442.71 1312.6,441.3 1307.1,440.37 1300.9,441.5 1295.4,440.55 1289.1,439.76 1283.7,441.53 1277.4,440.57 1271.9,441.15 1265.7,436.58 1260.2,441.24 1254.7,441.01 1248.5,441.15 1243,438.41 1236.7,439.94 1231.2,441.92 1225.8,441.41 1220.3,440.75 1214,442.05 1208.6,442.74 1202.3,438.94 1196.8,442.92 1190.6,438.68 1185.1,439.21 1179.6,441.47 1173.3,440.07 1167.9,440.98 1161.6,441.6 1156.1,441.38 1149.9,442.21 1144.4,438.99 1138.1,440.54 1131.8,440.4 1126.4,441.05 1120.3,441.43 1114.8,441.35 1108.7,439.51 1103.3,437.04 1097.1,441.39 1091.7,440.78 1085.6,439.68 1080.1,439.52 1074,435.02 1068.6,438.33 1063.1,439.14 1057,439.27 1051.6,442.06 1045.4,440.51 1040,442.33 1033.9,440.66 1028.4,441.47 1022.3,439.88 1016.9,441.79 1010.7,442.1 1005.3,438.28 999.2,436.76 993.7,441.57 987.6,439.94 982.2,441.57 976.7,440.59 970.6,437.73 965.2,441.88 959,440.47 953.6,437.72 947.5,441.52 942,440.43 936.2,438.28 930,441.83 924.6,442.46 918.5,441.05 913,438.9 906.9,436.73 900.8,437.55 895.3,441.09 889.2,440.22 883.8,442.74 877.7,441.18 872.2,442.97 866.1,438.83 860.6,442.15 854.5,438.72 849.1,437.49 843,443.46 837.5,439.82 831.4,440.34 826,441.57 819.8,437.44 814.4,439.48 808.3,438.27 802.1,442.62 796.7,442.43 790.6,439.61 784.5,441.94 778.3,437.17 772.9,440.88 766.8,439.84 760.6,439.11 754.5,440.09 749.1,440.38 741.8,440.25 735.7,441.19 730.3,441.96 724.1,438.8 718,440.27 712.6,439.38 706.5,441.26 701,440.68 694.9,442.53 688.8,442.47 683.3,442.41 677.2,441.01 671.8,440.36 665.6,440.93 660.2,439.09 654.1,442.74 648,441.14 641.8,441.79 636.4,438.52 630.3,441.24 624.8,440.34 618.7,439.55 612.6,441.96 607.1,441.22 601,438.31 595.6,441.47 589.5,439.68 583.3,440.47 577.9,438.87 571.8,436.49 566.3,439.62 560.2,441.37 554.1,442.51 548.2,440.69 542.8,442.46 536.6,439.73 531.2,438.88 525.1,443.11 518.9,441.28 513.5,440.38 507.4,441.32 501.3,441.71 495.8,440.41 489.7,439.36 483.6,441.68 478.1,442.74 472,441.2 466.6,441.96 460.4,442.12 455,441.24 448.9,440.52 443.4,441.89 437.3,441.92 431.2,441.26 425.7,441.88 419.6,440.87 414.2,442.22 408.1,440.87 401.9,442.31 396.5,441.18 391.1,440.48 384.9,442.62 379.5,440.07 373.4,439.36 367.9,439.3 361.8,442.17 355.9,441.32 349.8,441.98 344.4,441.83 338.2,441.99 332.8,440.64 326.7,437.5 321.2,441.23 315.1,441.45 309.7,439.1 303.5,441.19 298.1,442.29 292,438.74 285.9,441.43 280.4,439.51 275,440.41 268.8,440.25 263.4,442.59 257.3,439.79 251.8,440.52 245.7,443.19 240.3,442.59 234.1,443.14 228.7,443.05 222.6,440.72 217.1,442.06 211.7,441.93 206.3,442.17 200.1,441.37 194,438.68 188.6,440.52 182.4,438.88 176.3,436.13 170.2,439.74 164.1,441.64 158.6,440.45" fill="#05c091" fill-opacity="0.7" clip-path="url(#ac)"/>
<polygon points="158.6,425.91 164.1,425.49 170.2,422.46 176.3,417.53 182.4,422.37 188.6,423.84 194,422.48 200.1,425.48 206.3,425.95 211.7,425.63 217.1,427.02 222.6,424.27 228.7,426.8 234.1,427.5 240.3,427.35 245.7,428.19 251.8,424.37 257.3,423.78 263.4,428.03 268.8,423.27 275,424.77 280.4,422.38 285.9,426.65 292,422.83 298.1,425.98 303.5,424.35 309.7,421.9 315.1,425.6 321.2,425.72 326.7,420.56 332.8,424.82 338.2,426.12 344.4,425.14 349.8,426.15 355.9,425.66 361.8,424.45 367.9,422.35 373.4,423.04 379.5,423.36 384.9,427.21 391.1,424.29 396.5,426.07 401.9,425.92 408.1,422.84 414.2,427.04 419.6,424.58 425.7,427.08 431.2,424.88 437.3,426.78 443.4,425.06 448.9,423.88 455,425.19 460.4,426.29 466.6,425.44 472,426.42 478.1,427 483.6,425.06 489.7,422.55 495.8,423.91 501.3,425.46 507.4,425.1 513.5,425.32 518.9,425.67 525.1,427.15 531.2,422.23 536.6,423.54 542.8,427.16 548.2,424.3 554.1,427.13 560.2,426.28 566.3,424.16 571.8,417.15 577.9,421.33 583.3,423.67 589.5,422.96 595.6,424.99 601,420.28 607.1,424.73 612.6,426.06 618.7,423.17 624.8,423.61 630.3,424.98 636.4,420.96 641.8,426.77 648,426.59 654.1,426.86 660.2,421.91 665.6,424.53 671.8,423.25 677.2,424.38 683.3,427.59 688.8,426.64 694.9,426.73 701,423.27 706.5,424.62 712.6,422.55 718,423.51 724.1,421.65 730.3,427.17 735.7,425.69 741.8,426.07 749.1,423.75 754.5,423.9 760.6,421.32 766.8,423.58 772.9,425.09 778.3,419.9 784.5,425.39 790.6,424.32 796.7,425.87 802.1,428.58 808.3,421.19 814.4,422.64 819.8,419.26 826,425.58 831.4,424.87 837.5,424.53 843,427.94 849.1,420.09 854.5,421.87 860.6,426.68 866.1,422.25 872.2,427.11 877.7,424.27 883.8,427.94 889.2,424.24 895.3,424.58 900.8,420.66 906.9,417.44 913,421.39 918.5,423.93 924.6,425.93 930,425.07 936.2,421.07 942,424.03 947.5,425.88 953.6,420.03 959,423.84 965.2,425.89 970.6,420.74 976.7,425.04 982.2,425.15 987.6,423.52 993.7,425.54 999.2,419.41 1005.3,421.04 1010.7,425.93 1016.9,425.43 1022.3,423.68 1028.4,425.63 1033.9,423.89 1040,427.75 1045.4,424.27 1051.6,426.44 1057,423.25 1063.1,422.15 1068.6,422.36 1074,415.45 1080.1,422.87 1085.6,423.8 1091.7,424.6 1097.1,426.23 1103.3,418.88 1108.7,422.71 1114.8,425.79 1120.3,425.57 1126.4,424.79 1131.8,424.79 1138.1,424.55 1144.4,422.17 1149.9,425.64 1156.1,425.88 1161.6,425.93 1167.9,424.35 1173.3,424.4 1179.6,425.8 1185.1,423.64 1190.6,422.9 1196.8,426.48 1202.3,421.92 1208.6,425.88 1214,426 1220.3,423.11 1225.8,425.71 1231.2,427.25 1236.7,424.2 1243,420.75 1248.5,424.56 1254.7,425.61 1260.2,424.98 1265.7,418.02 1271.9,425.67 1277.4,424.96 1283.7,424.95 1289.1,424.19 1295.4,424.49 1300.9,426.14 1307.1,424.15 1312.6,425.05 1318.9,427.02 1324.4,425.42 1330.6,425.11 1336.1,425.41 1341.6,424.47 1347.9,423.21 1353.3,423.53 1359.6,428.08 1359.6,441.68 1353.3,437.61 1347.9,437.02 1341.6,438.28 1336.1,438.25 1330.6,439.08 1324.4,439.23 1318.9,440.47 1312.6,439.56 1307.1,437.33 1300.9,439.66 1295.4,438.36 1289.1,437.27 1283.7,438.77 1277.4,438.95 1271.9,438.81 1265.7,434.21 1260.2,439.01 1254.7,438.98 1248.5,438.21 1243,436.11 1236.7,437.85 1231.2,439.97 1225.8,439.59 1220.3,438.03 1214,440.48 1208.6,439.91 1202.3,436.32 1196.8,439.53 1190.6,437.2 1185.1,437.69 1179.6,439.61 1173.3,439.26 1167.9,438.35 1161.6,439.78 1156.1,439.31 1149.9,439.21 1144.4,436.49 1138.1,438.54 1131.8,438.76 1126.4,438.81 1120.3,439.47 1114.8,439.32 1108.7,436.6 1103.3,433.9 1097.1,439.81 1091.7,437.84 1085.6,437.93 1080.1,437.3 1074,430.76 1068.6,436 1063.1,436.81 1057,437.57 1051.6,439.93 1045.4,438.4 1040,440.4 1033.9,437.86 1028.4,439.62 1022.3,438.32 1016.9,439.11 1010.7,439.38 1005.3,435.83 999.2,434.68 993.7,439.09 987.6,436.52 982.2,439.25 976.7,439.6 970.6,435.98 965.2,439.93 959,438.09 953.6,435.14 947.5,439.93 942,437.75 936.2,436.33 930,438.26 924.6,440.49 918.5,440.15 913,436.09 906.9,433.35 900.8,434.97 895.3,438.06 889.2,438.09 883.8,441.24 877.7,438.88 872.2,439.88 866.1,436.71 860.6,439.6 854.5,435.91 849.1,435.4 843,440.7 837.5,437.72 831.4,438.43 826,439.94 819.8,434.67 814.4,436.69 808.3,435.15 802.1,441.63 796.7,440.16 790.6,437.77 784.5,438.58 778.3,435.08 772.9,438.67 766.8,437.46 760.6,435.6 754.5,437.36 749.1,437.58 741.8,438.53 735.7,438.96 730.3,440.36 724.1,435.93 718,438.22 712.6,435.81 706.5,438.91 701,438.13 694.9,440.92 688.8,439.96 683.3,440.75 677.2,438.56 671.8,437.2 665.6,438.27 660.2,435.97 654.1,441.67 648,440.06 641.8,440.2 636.4,436.11 630.3,438.77 624.8,437.61 618.7,437.23 612.6,440.38 607.1,439.16 601,435.26 595.6,438.54 589.5,437.86 583.3,437.36 577.9,436.23 571.8,432.73 566.3,438.16 560.2,439.79 554.1,439.98 548.2,438.4 542.8,440.97 536.6,437.42 531.2,436.58 525.1,440.8 518.9,438.66 513.5,438.91 507.4,438.85 501.3,438.55 495.8,438.56 489.7,436.86 483.6,438.83 478.1,440.81 472,439.39 466.6,439.37 460.4,440.46 455,438 448.9,438.46 443.4,439.59 437.3,439.35 431.2,438.28 425.7,440.46 419.6,438.85 414.2,441.13 408.1,437.54 401.9,440.31 396.5,439.3 391.1,438.84 384.9,440.86 379.5,437.31 373.4,437.31 367.9,437.58 361.8,439.02 355.9,440.06 349.8,439.29 344.4,439 338.2,439.63 332.8,439.45 326.7,434.57 321.2,439.16 315.1,438.31 309.7,437.18 303.5,437.97 298.1,441.01 292,436.34 285.9,440.15 280.4,436.17 275,438.8 268.8,437.83 263.4,440.42 257.3,437.91 251.8,438.35 245.7,440.99 240.3,440.74 234.1,440.32 228.7,440.48 222.6,438.19 217.1,440.67 211.7,438.85 206.3,440.57 200.1,439.12 194,436.63 188.6,437.1 182.4,436.16 176.3,432.9 170.2,438.22 164.1,439.74 158.6,438.51" fill="#ff8a45" fill-opacity="0.7" clip-path="url(#ac)"/>
<polygon points="158.6,412.72 164.1,412.8 170.2,410.86 176.3,405.4 182.4,408.91 188.6,411.67 194,408.84 200.1,414.31 206.3,413.51 211.7,413.8 217.1,415.36 222.6,411.34 228.7,414.31 234.1,414.25 240.3,414.93 245.7,415.69 251.8,412.45 257.3,411.53 263.4,414.63 268.8,411.61 275,412.7 280.4,409.1 285.9,415.55 292,409.65 298.1,415.32 303.5,412.88 309.7,410.39 315.1,413.54 321.2,413.71 326.7,408.56 332.8,411.76 338.2,413.6 344.4,413.26 349.8,413.14 355.9,413.47 361.8,412.89 367.9,410.92 373.4,411.18 379.5,411.87 384.9,413.98 391.1,411.03 396.5,412.92 401.9,414.15 408.1,411.21 414.2,415.02 419.6,412.49 425.7,415.32 431.2,413.1 437.3,413.2 443.4,412.73 448.9,410.93 455,411.48 460.4,414.6 466.6,413.71 472,412.89 478.1,416.26 483.6,413.28 489.7,409.8 495.8,411.84 501.3,413.33 507.4,412.81 513.5,411.74 518.9,413.9 525.1,414.6 531.2,410 536.6,410.89 542.8,414.93 548.2,411.92 554.1,413.69 560.2,413.71 566.3,410.52 571.8,405.44 577.9,409.51 583.3,411.61 589.5,410.56 595.6,412.89 601,408.32 607.1,411.69 612.6,414.13 618.7,410.86 624.8,410.9 630.3,412.42 636.4,409.34 641.8,414.52 648,413.81 654.1,415.09 660.2,409.57 665.6,412.67 671.8,411.16 677.2,411.13 683.3,414.68 688.8,414.66 694.9,415.46 701,411.16 706.5,412.31 712.6,410.11 718,411.15 724.1,409.4 730.3,414.34 735.7,413.11 741.8,413.03 749.1,411.59 754.5,410.26 760.6,408.03 766.8,410.19 772.9,413 778.3,407.28 784.5,413.07 790.6,412.11 796.7,413.85 802.1,416.13 808.3,409.1 814.4,410.37 819.8,407.06 826,413.33 831.4,412.15 837.5,411.3 843,415.74 849.1,407.44 854.5,409.93 860.6,413.42 866.1,410.48 872.2,415.13 877.7,412.05 883.8,415.67 889.2,411.8 895.3,412.23 900.8,407.91 906.9,405.42 913,408.43 918.5,412.28 924.6,413.76 930,412.5 936.2,409.48 942,411.73 947.5,413.51 953.6,408.59 959,411.37 965.2,413.85 970.6,408.42 976.7,412.45 982.2,413.29 987.6,411.26 993.7,412.82 999.2,406.83 1005.3,408.71 1010.7,413.75 1016.9,413.22 1022.3,411.7 1028.4,413.22 1033.9,411.67 1040,414.03 1045.4,412.31 1051.6,414.42 1057,410.08 1063.1,409.76 1068.6,409.57 1074,403.62 1080.1,410.72 1085.6,411.7 1091.7,412.27 1097.1,413.65 1103.3,407.24 1108.7,410.51 1114.8,413.02 1120.3,413.65 1126.4,412.31 1131.8,411.86 1138.1,411.51 1144.4,410.04 1149.9,413.27 1156.1,413.79 1161.6,414.19 1167.9,412.13 1173.3,412.38 1179.6,413.83 1185.1,410.58 1190.6,409.97 1196.8,415.41 1202.3,409.22 1208.6,414.37 1214,413.81 1220.3,411.89 1225.8,413.51 1231.2,413.17 1236.7,410.87 1243,409.1 1248.5,412.28 1254.7,412.87 1260.2,412.35 1265.7,406.59 1271.9,412.54 1277.4,412.42 1283.7,412.73 1289.1,412.04 1295.4,411.57 1300.9,413.85 1307.1,411.23 1312.6,412.14 1318.9,414.67 1324.4,412.66 1330.6,412.54 1336.1,412.83 1341.6,411.53 1347.9,410.72 1353.3,411.53 1359.6,415.82 1359.6,428.08 1353.3,423.53 1347.9,423.21 1341.6,424.47 1336.1,425.41 1330.6,425.11 1324.4,425.42 1318.9,427.02 1312.6,425.05 1307.1,424.15 1300.9,426.14 1295.4,424.49 1289.1,424.19 1283.7,424.95 1277.4,424.96 1271.9,425.67 1265.7,418.02 1260.2,424.98 1254.7,425.61 1248.5,424.56 1243,420.75 1236.7,424.2 1231.2,427.25 1225.8,425.71 1220.3,423.11 1214,426 1208.6,425.88 1202.3,421.92 1196.8,426.48 1190.6,422.9 1185.1,423.64 1179.6,425.8 1173.3,424.4 1167.9,424.35 1161.6,425.93 1156.1,425.88 1149.9,425.64 1144.4,422.17 1138.1,424.55 1131.8,424.79 1126.4,424.79 1120.3,425.57 1114.8,425.79 1108.7,422.71 1103.3,418.88 1097.1,426.23 1091.7,424.6 1085.6,423.8 1080.1,422.87 1074,415.45 1068.6,422.36 1063.1,422.15 1057,423.25 1051.6,426.44 1045.4,424.27 1040,427.75 1033.9,423.89 1028.4,425.63 1022.3,423.68 1016.9,425.43 1010.7,425.93 1005.3,421.04 999.2,419.41 993.7,425.54 987.6,423.52 982.2,425.15 976.7,425.04 970.6,420.74 965.2,425.89 959,423.84 953.6,420.03 947.5,425.88 942,424.03 936.2,421.07 930,425.07 924.6,425.93 918.5,423.93 913,421.39 906.9,417.44 900.8,420.66 895.3,424.58 889.2,424.24 883.8,427.94 877.7,424.27 872.2,427.11 866.1,422.25 860.6,426.68 854.5,421.87 849.1,420.09 843,427.94 837.5,424.53 831.4,424.87 826,425.58 819.8,419.26 814.4,422.64 808.3,421.19 802.1,428.58 796.7,425.87 790.6,424.32 784.5,425.39 778.3,419.9 772.9,425.09 766.8,423.58 760.6,421.32 754.5,423.9 749.1,423.75 741.8,426.07 735.7,425.69 730.3,427.17 724.1,421.65 718,423.51 712.6,422.55 706.5,424.62 701,423.27 694.9,426.73 688.8,426.64 683.3,427.59 677.2,424.38 671.8,423.25 665.6,424.53 660.2,421.91 654.1,426.86 648,426.59 641.8,426.77 636.4,420.96 630.3,424.98 624.8,423.61 618.7,423.17 612.6,426.06 607.1,424.73 601,420.28 595.6,424.99 589.5,422.96 583.3,423.67 577.9,421.33 571.8,417.15 566.3,424.16 560.2,426.28 554.1,427.13 548.2,424.3 542.8,427.16 536.6,423.54 531.2,422.23 525.1,427.15 518.9,425.67 513.5,425.32 507.4,425.1 501.3,425.46 495.8,423.91 489.7,422.55 483.6,425.06 478.1,427 472,426.42 466.6,425.44 460.4,426.29 455,425.19 448.9,423.88 443.4,425.06 437.3,426.78 431.2,424.88 425.7,427.08 419.6,424.58 414.2,427.04 408.1,422.84 401.9,425.92 396.5,426.07 391.1,424.29 384.9,427.21 379.5,423.36 373.4,423.04 367.9,422.35 361.8,424.45 355.9,425.66 349.8,426.15 344.4,425.14 338.2,426.12 332.8,424.82 326.7,420.56 321.2,425.72 315.1,425.6 309.7,421.9 303.5,424.35 298.1,425.98 292,422.83 285.9,426.65 280.4,422.38 275,424.77 268.8,423.27 263.4,428.03 257.3,423.78 251.8,424.37 245.7,428.19 240.3,427.35 234.1,427.5 228.7,426.8 222.6,424.27 217.1,427.02 211.7,425.63 206.3,425.95 200.1,425.48 194,422.48 188.6,423.84 182.4,422.37 176.3,417.53 170.2,422.46 164.1,425.49 158.6,425.91" fill="#8d48e3" fill-opacity="0.7" clip-path="url(#ac)"/>
<polygon points="158.6,398.79 164.1,399.13 170.2,397.76 176.3,391.39 182.4,395.13 188.6,398.1 194,396.51 200.1,400.23 206.3,399.6 211.7,399.3 217.1,401.63 222.6,397.65 228.7,401.32 234.1,401.05 240.3,401.79 245.7,401.85 251.8,398.29 257.3,397.78 263.4,400.64 268.8,397.78 275,398.38 280.4,394.87 285.9,399.96 292,395.61 298.1,400.48 303.5,398.55 309.7,396.76 315.1,399.84 321.2,399.12 326.7,393.59 332.8,399.42 338.2,399.58 344.4,399.66 349.8,399.19 355.9,398.89 361.8,399.99 367.9,396.76 373.4,397.62 379.5,397.24 384.9,401.71 391.1,397.56 396.5,399.63 401.9,400.42 408.1,397.69 414.2,401.66 419.6,398.37 425.7,401.35 431.2,398.85 437.3,399.53 443.4,399.45 448.9,397.86 455,397.88 460.4,400.18 466.6,399.92 472,399.46 478.1,401.6 483.6,399.84 489.7,397.03 495.8,397.56 501.3,399.11 507.4,398.73 513.5,398.73 518.9,399.25 525.1,400.45 531.2,396.46 536.6,396.46 542.8,400.7 548.2,398.3 554.1,400.67 560.2,399.49 566.3,397.51 571.8,391.41 577.9,395.83 583.3,397.48 589.5,397.08 595.6,399.62 601,394.19 607.1,398.23 612.6,400.01 618.7,396.67 624.8,397.18 630.3,398.64 636.4,394.74 641.8,400.51 648,400.57 654.1,400.9 660.2,395.8 665.6,397.86 671.8,397.8 677.2,399.36 683.3,401.03 688.8,400.58 694.9,401.11 701,397.99 706.5,398.82 712.6,395.67 718,398 724.1,395.24 730.3,401.22 735.7,398.71 741.8,398.77 749.1,398.07 754.5,397.62 760.6,394.91 766.8,396.81 772.9,399.19 778.3,394.06 784.5,398.38 790.6,397.67 796.7,399.48 802.1,402.65 808.3,394.77 814.4,396.35 819.8,392.99 826,399.38 831.4,398.6 837.5,398.22 843,402.11 849.1,393.73 854.5,395.23 860.6,400.6 866.1,396.33 872.2,400.95 877.7,398.89 883.8,401.47 889.2,398.38 895.3,398.12 900.8,394 906.9,391.53 913,394.45 918.5,398.89 924.6,400.41 930,398.4 936.2,395.34 942,397.12 947.5,399.5 953.6,394.73 959,397.5 965.2,400.3 970.6,395.06 976.7,398.63 982.2,399.76 987.6,396.77 993.7,399.41 999.2,392.19 1005.3,394.72 1010.7,400.09 1016.9,400.16 1022.3,397.55 1028.4,399.7 1033.9,397.5 1040,400.63 1045.4,397.65 1051.6,401.06 1057,396.58 1063.1,395.76 1068.6,396.9 1074,389.32 1080.1,396.91 1085.6,397.79 1091.7,398.24 1097.1,400.48 1103.3,392.75 1108.7,396.74 1114.8,399.88 1120.3,399.21 1126.4,397.86 1131.8,398.13 1138.1,397.95 1144.4,395.49 1149.9,400.06 1156.1,399.4 1161.6,399.51 1167.9,398.25 1173.3,398.2 1179.6,399.87 1185.1,397.63 1190.6,397.15 1196.8,400.1 1202.3,395.61 1208.6,400.58 1214,400.35 1220.3,397.62 1225.8,400.06 1231.2,400.39 1236.7,397.54 1243,394.67 1248.5,398.58 1254.7,398.86 1260.2,398.71 1265.7,393.02 1271.9,399.44 1277.4,398.63 1283.7,399.4 1289.1,398.05 1295.4,398.31 1300.9,399.14 1307.1,397.63 1312.6,399.43 1318.9,400.9 1324.4,399.67 1330.6,398.93 1336.1,398.96 1341.6,398.64 1347.9,397.49 1353.3,397.9 1359.6,402.1 1359.6,415.82 1353.3,411.53 1347.9,410.72 1341.6,411.53 1336.1,412.83 1330.6,412.54 1324.4,412.66 1318.9,414.67 1312.6,412.14 1307.1,411.23 1300.9,413.85 1295.4,411.57 1289.1,412.04 1283.7,412.73 1277.4,412.42 1271.9,412.54 1265.7,406.59 1260.2,412.35 1254.7,412.87 1248.5,412.28 1243,409.1 1236.7,410.87 1231.2,413.17 1225.8,413.51 1220.3,411.89 1214,413.81 1208.6,414.37 1202.3,409.22 1196.8,415.41 1190.6,409.97 1185.1,410.58 1179.6,413.83 1173.3,412.38 1167.9,412.13 1161.6,414.19 1156.1,413.79 1149.9,413.27 1144.4,410.04 1138.1,411.51 1131.8,411.86 1126.4,412.31 1120.3,413.65 1114.8,413.02 1108.7,410.51 1103.3,407.24 1097.1,413.65 1091.7,412.27 1085.6,411.7 1080.1,410.72 1074,403.62 1068.6,409.57 1063.1,409.76 1057,410.08 1051.6,414.42 1045.4,412.31 1040,414.03 1033.9,411.67 1028.4,413.22 1022.3,411.7 1016.9,413.22 1010.7,413.75 1005.3,408.71 999.2,406.83 993.7,412.82 987.6,411.26 982.2,413.29 976.7,412.45 970.6,408.42 965.2,413.85 959,411.37 953.6,408.59 947.5,413.51 942,411.73 936.2,409.48 930,412.5 924.6,413.76 918.5,412.28 913,408.43 906.9,405.42 900.8,407.91 895.3,412.23 889.2,411.8 883.8,415.67 877.7,412.05 872.2,415.13 866.1,410.48 860.6,413.42 854.5,409.93 849.1,407.44 843,415.74 837.5,411.3 831.4,412.15 826,413.33 819.8,407.06 814.4,410.37 808.3,409.1 802.1,416.13 796.7,413.85 790.6,412.11 784.5,413.07 778.3,407.28 772.9,413 766.8,410.19 760.6,408.03 754.5,410.26 749.1,411.59 741.8,413.03 735.7,413.11 730.3,414.34 724.1,409.4 718,411.15 712.6,410.11 706.5,412.31 701,411.16 694.9,415.46 688.8,414.66 683.3,414.68 677.2,411.13 671.8,411.16 665.6,412.67 660.2,409.57 654.1,415.09 648,413.81 641.8,414.52 636.4,409.34 630.3,412.42 624.8,410.9 618.7,410.86 612.6,414.13 607.1,411.69 601,408.32 595.6,412.89 589.5,410.56 583.3,411.61 577.9,409.51 571.8,405.44 566.3,410.52 560.2,413.71 554.1,413.69 548.2,411.92 542.8,414.93 536.6,410.89 531.2,410 525.1,414.6 518.9,413.9 513.5,411.74 507.4,412.81 501.3,413.33 495.8,411.84 489.7,409.8 483.6,413.28 478.1,416.26 472,412.89 466.6,413.71 460.4,414.6 455,411.48 448.9,410.93 443.4,412.73 437.3,413.2 431.2,413.1 425.7,415.32 419.6,412.49 414.2,415.02 408.1,411.21 401.9,414.15 396.5,412.92 391.1,411.03 384.9,413.98 379.5,411.87 373.4,411.18 367.9,410.92 361.8,412.89 355.9,413.47 349.8,413.14 344.4,413.26 338.2,413.6 332.8,411.76 326.7,408.56 321.2,413.71 315.1,413.54 309.7,410.39 303.5,412.88 298.1,415.32 292,409.65 285.9,415.55 280.4,409.1 275,412.7 268.8,411.61 263.4,414.63 257.3,411.53 251.8,412.45 245.7,415.69 240.3,414.93 234.1,414.25 228.7,414.31 222.6,411.34 217.1,415.36 211.7,413.8 206.3,413.51 200.1,414.31 194,408.84 188.6,411.67 182.4,408.91 176.3,405.4 170.2,410.86 164.1,412.8 158.6,412.72" fill="#dd79ff" fill-opacity="0.7" clip-path="url(#ac)"/>
<polygon points="158.6,386.66 164.1,386.51 170.2,384.5 176.3,379.24 182.4,383.3 188.6,384.98 194,383.48 200.1,387.07 206.3,387.99 211.7,387.75 217.1,388.47 222.6,384.81 228.7,388.52 234.1,389.06 240.3,388.58 245.7,389.59 251.8,385.77 257.3,384.98 263.4,388.23 268.8,384.33 275,385.93 280.4,383.12 285.9,387.78 292,383.82 298.1,388.11 303.5,386.48 309.7,383.12 315.1,387.2 321.2,386.63 326.7,381.59 332.8,386.97 338.2,386.51 344.4,387.17 349.8,387.15 355.9,387.17 361.8,386.6 367.9,384.72 373.4,385.3 379.5,385.25 384.9,388.86 391.1,385.37 396.5,387.05 401.9,387.31 408.1,385.42 414.2,388.36 419.6,387.16 425.7,388.28 431.2,386.02 437.3,387.55 443.4,386.8 448.9,384.5 455,386.27 460.4,387.22 466.6,387.63 472,386.72 478.1,389.36 483.6,387.19 489.7,383.67 495.8,385.09 501.3,386.33 507.4,386.55 513.5,386.01 518.9,387.73 525.1,388.4 531.2,383.66 536.6,385.26 542.8,388.79 548.2,386.1 554.1,387.19 560.2,386.54 566.3,384.88 571.8,378.92 577.9,383.29 583.3,386.19 589.5,383.9 595.6,386.33 601,381.95 607.1,385.91 612.6,388.25 618.7,384.28 624.8,384.74 630.3,387.33 636.4,382.57 641.8,387.32 648,387.66 654.1,388.47 660.2,382.5 665.6,386.1 671.8,384.45 677.2,385.65 683.3,388.23 688.8,388.45 694.9,388.46 701,384.78 706.5,385.67 712.6,383.26 718,385.36 724.1,383.68 730.3,388.02 735.7,385.67 741.8,386.5 749.1,385.07 754.5,384.73 760.6,382.1 766.8,384.43 772.9,385.74 778.3,381.19 784.5,386.27 790.6,384.91 796.7,388 802.1,390.37 808.3,381.82 814.4,384.36 819.8,380.69 826,386.92 831.4,386.24 837.5,384.13 843,388.61 849.1,380.66 854.5,383.12 860.6,388.22 866.1,384.13 872.2,388.12 877.7,386.09 883.8,389.02 889.2,385.68 895.3,385.68 900.8,382.11 906.9,378.58 913,382.7 918.5,385.94 924.6,387.83 930,385.84 936.2,383.03 942,384.78 947.5,386.7 953.6,381.79 959,385.41 965.2,387.84 970.6,382.52 976.7,386.78 982.2,387.58 987.6,384.8 993.7,387.26 999.2,381.09 1005.3,382.19 1010.7,387.42 1016.9,386.64 1022.3,386.05 1028.4,387 1033.9,385.16 1040,389.05 1045.4,385.72 1051.6,387.46 1057,383.65 1063.1,382.99 1068.6,384.51 1074,376.96 1080.1,385.09 1085.6,385.42 1091.7,385.61 1097.1,387.23 1103.3,380.21 1108.7,383.94 1114.8,387 1120.3,387.16 1126.4,386.02 1131.8,385.64 1138.1,385.01 1144.4,383.06 1149.9,387.31 1156.1,386.76 1161.6,386.66 1167.9,385.18 1173.3,386.29 1179.6,387.03 1185.1,384.76 1190.6,383.47 1196.8,387.89 1202.3,382.93 1208.6,387.5 1214,387.14 1220.3,385.13 1225.8,386.83 1231.2,387.93 1236.7,384.94 1243,382.49 1248.5,385.67 1254.7,385.92 1260.2,386.69 1265.7,380.4 1271.9,386.65 1277.4,386.18 1283.7,386.34 1289.1,384.59 1295.4,385.05 1300.9,386.94 1307.1,384.16 1312.6,385.67 1318.9,388.9 1324.4,386.6 1330.6,386.71 1336.1,386.2 1341.6,385.59 1347.9,384.99 1353.3,384.63 1359.6,388.67 1359.6,402.1 1353.3,397.9 1347.9,397.49 1341.6,398.64 1336.1,398.96 1330.6,398.93 1324.4,399.67 1318.9,400.9 1312.6,399.43 1307.1,397.63 1300.9,399.14 1295.4,398.31 1289.1,398.05 1283.7,399.4 1277.4,398.63 1271.9,399.44 1265.7,393.02 1260.2,398.71 1254.7,398.86 1248.5,398.58 1243,394.67 1236.7,397.54 1231.2,400.39 1225.8,400.06 1220.3,397.62 1214,400.35 1208.6,400.58 1202.3,395.61 1196.8,400.1 1190.6,397.15 1185.1,397.63 1179.6,399.87 1173.3,398.2 1167.9,398.25 1161.6,399.51 1156.1,399.4 1149.9,400.06 1144.4,395.49 1138.1,397.95 1131.8,398.13 1126.4,397.86 1120.3,399.21 1114.8,399.88 1108.7,396.74 1103.3,392.75 1097.1,400.48 1091.7,398.24 1085.6,397.79 1080.1,396.91 1074,389.32 1068.6,396.9 1063.1,395.76 1057,396.58 1051.6,401.06 1045.4,397.65 1040,400.63 1033.9,397.5 1028.4,399.7 1022.3,397.55 1016.9,400.16 1010.7,400.09 1005.3,394.72 999.2,392.19 993.7,399.41 987.6,396.77 982.2,399.76 976.7,398.63 970.6,395.06 965.2,400.3 959,397.5 953.6,394.73 947.5,399.5 942,397.12 936.2,395.34 930,398.4 924.6,400.41 918.5,398.89 913,394.45 906.9,391.53 900.8,394 895.3,398.12 889.2,398.38 883.8,401.47 877.7,398.89 872.2,400.95 866.1,396.33 860.6,400.6 854.5,395.23 849.1,393.73 843,402.11 837.5,398.22 831.4,398.6 826,399.38 819.8,392.99 814.4,396.35 808.3,394.77 802.1,402.65 796.7,399.48 790.6,397.67 784.5,398.38 778.3,394.06 772.9,399.19 766.8,396.81 760.6,394.91 754.5,397.62 749.1,398.07 741.8,398.77 735.7,398.71 730.3,401.22 724.1,395.24 718,398 712.6,395.67 706.5,398.82 701,397.99 694.9,401.11 688.8,400.58 683.3,401.03 677.2,399.36 671.8,397.8 665.6,397.86 660.2,395.8 654.1,400.9 648,400.57 641.8,400.51 636.4,394.74 630.3,398.64 624.8,397.18 618.7,396.67 612.6,400.01 607.1,398.23 601,394.19 595.6,399.62 589.5,397.08 583.3,397.48 577.9,395.83 571.8,391.41 566.3,397.51 560.2,399.49 554.1,400.67 548.2,398.3 542.8,400.7 536.6,396.46 531.2,396.46 525.1,400.45 518.9,399.25 513.5,398.73 507.4,398.73 501.3,399.11 495.8,397.56 489.7,397.03 483.6,399.84 478.1,401.6 472,399.46 466.6,399.92 460.4,400.18 455,397.88 448.9,397.86 443.4,399.45 437.3,399.53 431.2,398.85 425.7,401.35 419.6,398.37 414.2,401.66 408.1,397.69 401.9,400.42 396.5,399.63 391.1,397.56 384.9,401.71 379.5,397.24 373.4,397.62 367.9,396.76 361.8,399.99 355.9,398.89 349.8,399.19 344.4,399.66 338.2,399.58 332.8,399.42 326.7,393.59 321.2,399.12 315.1,399.84 309.7,396.76 303.5,398.55 298.1,400.48 292,395.61 285.9,399.96 280.4,394.87 275,398.38 268.8,397.78 263.4,400.64 257.3,397.78 251.8,398.29 245.7,401.85 240.3,401.79 234.1,401.05 228.7,401.32 222.6,397.65 217.1,401.63 211.7,399.3 206.3,399.6 200.1,400.23 194,396.51 188.6,398.1 182.4,395.13 176.3,391.39 170.2,397.76 164.1,399.13 158.6,398.79" fill="#4992ff" fill-opacity="0.7" clip-path="url(#ac)"/>
<polygon points="158.6,374.78 164.1,374.38 170.2,372.29 176.3,366.42 182.4,370.17 188.6,372.52 194,370.6 200.1,373.94 206.3,374.7 211.7,375.12 217.1,376.5 222.6,372.74 228.7,375.73 234.1,375.38 240.3,376.71 245.7,376.65 251.8,373.51 257.3,372.51 263.4,375.36 268.8,373.37 275,373.47 280.4,370.99 285.9,374.89 292,370.89 298.1,376.45 303.5,373.06 309.7,370.81 315.1,374.05 321.2,373.96 326.7,369.43 332.8,373.88 338.2,373.78 344.4,375.11 349.8,375.01 355.9,374.96 361.8,373.16 367.9,371.84 373.4,373.02 379.5,372.09 384.9,375.58 391.1,372.4 396.5,373.69 401.9,375.29 408.1,372.9 414.2,376.17 419.6,374.5 425.7,375.94 431.2,373.89 437.3,374.43 443.4,374.22 448.9,372.07 455,372.9 460.4,375.17 466.6,374.28 472,374.54 478.1,376.63 483.6,374.76 489.7,371.59 495.8,371.67 501.3,373.52 507.4,374.67 513.5,373.5 518.9,374.34 525.1,375.82 531.2,371.07 536.6,371.61 542.8,375.98 548.2,373.48 554.1,375.69 560.2,374.36 566.3,372.39 571.8,366.27 577.9,370.51 583.3,372.93 589.5,371.5 595.6,374.79 601,369.32 607.1,373.65 612.6,374.84 618.7,371.65 624.8,372.29 630.3,373.92 636.4,368.99 641.8,375.4 648,374.53 654.1,376.06 660.2,370.91 665.6,373.18 671.8,371.74 677.2,373.14 683.3,375.82 688.8,375.32 694.9,376.28 701,372.77 706.5,374.52 712.6,371.16 718,372.32 724.1,370.33 730.3,375.43 735.7,373.77 741.8,373.69 749.1,373.24 754.5,372.04 760.6,370.55 766.8,371.07 772.9,374.05 778.3,369.55 784.5,374.06 790.6,372.35 796.7,375.3 802.1,377.38 808.3,369.89 814.4,371.24 819.8,368.82 826,374.63 831.4,373.36 837.5,372.55 843,376.82 849.1,368.16 854.5,370.78 860.6,375.12 866.1,371.49 872.2,375.71 877.7,373.23 883.8,376.58 889.2,372.15 895.3,373.67 900.8,369.3 906.9,366.47 913,370.34 918.5,373.82 924.6,375.24 930,374.39 936.2,371.53 942,372.59 947.5,375.2 953.6,369.22 959,372.24 965.2,375.45 970.6,370.35 976.7,374.03 982.2,374.74 987.6,371.42 993.7,373.65 999.2,367.84 1005.3,369.27 1010.7,374.51 1016.9,374.27 1022.3,372.58 1028.4,374.86 1033.9,371.85 1040,375.85 1045.4,373.15 1051.6,375.74 1057,371.83 1063.1,370.18 1068.6,370.87 1074,365.02 1080.1,371.45 1085.6,372.52 1091.7,373.31 1097.1,374.74 1103.3,367.37 1108.7,370.31 1114.8,374.14 1120.3,374.76 1126.4,373.29 1131.8,372.45 1138.1,373.57 1144.4,370.07 1149.9,374.12 1156.1,375.14 1161.6,374.69 1167.9,372.97 1173.3,374.4 1179.6,374.47 1185.1,372.34 1190.6,371.18 1196.8,375.25 1202.3,370.57 1208.6,375.74 1214,375.05 1220.3,372.92 1225.8,373.64 1231.2,374.62 1236.7,372.48 1243,369.75 1248.5,372.86 1254.7,374.04 1260.2,373.67 1265.7,367.54 1271.9,373.69 1277.4,372.99 1283.7,374.04 1289.1,372.79 1295.4,373.46 1300.9,374.52 1307.1,372.3 1312.6,373.95 1318.9,376.69 1324.4,374.27 1330.6,373.65 1336.1,373.74 1341.6,372.91 1347.9,371.96 1353.3,371.94 1359.6,376.83 1359.6,388.67 1353.3,384.63 1347.9,384.99 1341.6,385.59 1336.1,386.2 1330.6,386.71 1324.4,386.6 1318.9,388.9 1312.6,385.67 1307.1,384.16 1300.9,386.94 1295.4,385.05 1289.1,384.59 1283.7,386.34 1277.4,386.18 1271.9,386.65 1265.7,380.4 1260.2,386.69 1254.7,385.92 1248.5,385.67 1243,382.49 1236.7,384.94 1231.2,387.93 1225.8,386.83 1220.3,385.13 1214,387.14 1208.6,387.5 1202.3,382.93 1196.8,387.89 1190.6,383.47 1185.1,384.76 1179.6,387.03 1173.3,386.29 1167.9,385.18 1161.6,386.66 1156.1,386.76 1149.9,387.31 1144.4,383.06 1138.1,385.01 1131.8,385.64 1126.4,386.02 1120.3,387.16 1114.8,387 1108.7,383.94 1103.3,380.21 1097.1,387.23 1091.7,385.61 1085.6,385.42 1080.1,385.09 1074,376.96 1068.6,384.51 1063.1,382.99 1057,383.65 1051.6,387.46 1045.4,385.72 1040,389.05 1033.9,385.16 1028.4,387 1022.3,386.05 1016.9,386.64 1010.7,387.42 1005.3,382.19 999.2,381.09 993.7,387.26 987.6,384.8 982.2,387.58 976.7,386.78 970.6,382.52 965.2,387.84 959,385.41 953.6,381.79 947.5,386.7 942,384.78 936.2,383.03 930,385.84 924.6,387.83 918.5,385.94 913,382.7 906.9,378.58 900.8,382.11 895.3,385.68 889.2,385.68 883.8,389.02 877.7,386.09 872.2,388.12 866.1,384.13 860.6,388.22 854.5,383.12 849.1,380.66 843,388.61 837.5,384.13 831.4,386.24 826,386.92 819.8,380.69 814.4,384.36 808.3,381.82 802.1,390.37 796.7,388 790.6,384.91 784.5,386.27 778.3,381.19 772.9,385.74 766.8,384.43 760.6,382.1 754.5,384.73 749.1,385.07 741.8,386.5 735.7,385.67 730.3,388.02 724.1,383.68 718,385.36 712.6,383.26 706.5,385.67 701,384.78 694.9,388.46 688.8,388.45 683.3,388.23 677.2,385.65 671.8,384.45 665.6,386.1 660.2,382.5 654.1,388.47 648,387.66 641.8,387.32 636.4,382.57 630.3,387.33 624.8,384.74 618.7,384.28 612.6,388.25 607.1,385.91 601,381.95 595.6,386.33 589.5,383.9 583.3,386.19 577.9,383.29 571.8,378.92 566.3,384.88 560.2,386.54 554.1,387.19 548.2,386.1 542.8,388.79 536.6,385.26 531.2,383.66 525.1,388.4 518.9,387.73 513.5,386.01 507.4,386.55 501.3,386.33 495.8,385.09 489.7,383.67 483.6,387.19 478.1,389.36 472,386.72 466.6,387.63 460.4,387.22 455,386.27 448.9,384.5 443.4,386.8 437.3,387.55 431.2,386.02 425.7,388.28 419.6,387.16 414.2,388.36 408.1,385.42 401.9,387.31 396.5,387.05 391.1,385.37 384.9,388.86 379.5,385.25 373.4,385.3 367.9,384.72 361.8,386.6 355.9,387.17 349.8,387.15 344.4,387.17 338.2,386.51 332.8,386.97 326.7,381.59 321.2,386.63 315.1,387.2 309.7,383.12 303.5,386.48 298.1,388.11 292,383.82 285.9,387.78 280.4,383.12 275,385.93 268.8,384.33 263.4,388.23 257.3,384.98 251.8,385.77 245.7,389.59 240.3,388.58 234.1,389.06 228.7,388.52 222.6,384.81 217.1,388.47 211.7,387.75 206.3,387.99 200.1,387.07 194,383.48 188.6,384.98 182.4,383.3 176.3,379.24 170.2,384.5 164.1,386.51 158.6,386.66" fill="#7cffb2" fill-opacity="0.7" clip-path="url(#ac)"/>
<polygon points="158.6,360 164.1,360 170.2,357.9 176.3,352.5 182.4,356.6 188.6,358.6 194,356.6 200.1,360.6 206.3,361 211.7,361 217.1,362 222.6,358.6 228.7,362 234.1,362 240.3,362 245.7,362.7 251.8,359.3 257.3,358.6 263.4,362 268.8,358.6 275,359.3 280.4,356.6 285.9,361.3 292,357 298.1,362 303.5,359.3 309.7,357.2 315.1,360.6 321.2,360.6 326.7,355.2 332.8,360 338.2,360.6 344.4,360.6 349.8,360.6 355.9,360.6 361.8,360 367.9,357.9 373.4,358.6 379.5,358.6 384.9,362 391.1,358.6 396.5,360.6 401.9,361.3 408.1,358.6 414.2,362 419.6,360 425.7,362 431.2,360 437.3,360.6 443.4,360.6 448.9,358.6 455,359.3 460.4,361.3 466.6,360.6 472,360.6 478.1,362.7 483.6,360.6 489.7,357.9 495.8,358.6 501.3,360 507.4,360 513.5,359.3 518.9,360.6 525.1,362 531.2,357.2 536.6,357.9 542.8,362 548.2,359.3 554.1,361.3 560.2,360.6 566.3,358.6 571.8,352.5 577.9,356.6 583.3,358.6 589.5,357.9 595.6,360 601,355.2 607.1,359.3 612.6,361.3 618.7,357.9 624.8,358.6 630.3,360 636.4,355.9 641.8,361.3 648,361.3 654.1,362 660.2,356.6 665.6,359.3 671.8,357.9 677.2,359.3 683.3,362 688.8,361.3 694.9,362 701,358.6 706.5,360 712.6,357.2 718,358.6 724.1,356.6 730.3,362 735.7,360 741.8,360 749.1,358.6 754.5,357.9 760.6,355.9 766.8,357.9 772.9,360 778.3,355.2 784.5,360 790.6,358.6 796.7,361.3 802.1,363.4 808.3,355.9 814.4,357.2 819.8,354.5 826,360.6 831.4,359.3 837.5,358.6 843,362.7 849.1,354.5 854.5,356.6 860.6,361.3 866.1,357.2 872.2,362 877.7,359.3 883.8,362.7 889.2,358.6 895.3,359.3 900.8,355.2 906.9,352.5 913,355.9 918.5,360 924.6,361.3 930,360 936.2,356.6 942,358.6 947.5,360.6 953.6,355.2 959,358.6 965.2,361.3 970.6,355.9 976.7,360 982.2,360.6 987.6,357.9 993.7,360.6 999.2,353.8 1005.3,355.9 1010.7,360.6 1016.9,360.6 1022.3,358.6 1028.4,360.6 1033.9,358.6 1040,362 1045.4,359.3 1051.6,361.3 1057,357.9 1063.1,356.6 1068.6,357.2 1074,350.4 1080.1,357.9 1085.6,358.6 1091.7,359.3 1097.1,361.3 1103.3,353.8 1108.7,357.2 1114.8,360.6 1120.3,360.6 1126.4,359.3 1131.8,359.3 1138.1,359.1 1144.4,356.7 1149.9,360.6 1156.1,360.6 1161.6,360.6 1167.9,359.1 1173.3,359.9 1179.6,360.6 1185.1,358.3 1190.6,357.5 1196.8,361.4 1202.3,356.7 1208.6,361.4 1214,361.4 1220.3,359.1 1225.8,360.6 1231.2,361.4 1236.7,358.3 1243,356 1248.5,359.1 1254.7,359.9 1260.2,359.9 1265.7,353.6 1271.9,359.9 1277.4,359.9 1283.7,359.9 1289.1,358.3 1295.4,359.1 1300.9,360.6 1307.1,358.3 1312.6,359.9 1318.9,362.2 1324.4,359.9 1330.6,359.9 1336.1,359.9 1341.6,359.1 1347.9,358.3 1353.3,358.3 1359.6,363 1359.6,376.83 1353.3,371.94 1347.9,371.96 1341.6,372.91 1336.1,373.74 1330.6,373.65 1324.4,374.27 1318.9,376.69 1312.6,373.95 1307.1,372.3 1300.9,374.52 1295.4,373.46 1289.1,372.79 1283.7,374.04 1277.4,372.99 1271.9,373.69 1265.7,367.54 1260.2,373.67 1254.7,374.04 1248.5,372.86 1243,369.75 1236.7,372.48 1231.2,374.62 1225.8,373.64 1220.3,372.92 1214,375.05 1208.6,375.74 1202.3,370.57 1196.8,375.25 1190.6,371.18 1185.1,372.34 1179.6,374.47 1173.3,374.4 1167.9,372.97 1161.6,374.69 1156.1,375.14 1149.9,374.12 1144.4,370.07 1138.1,373.57 1131.8,372.45 1126.4,373.29 1120.3,374.76 1114.8,374.14 1108.7,370.31 1103.3,367.37 1097.1,374.74 1091.7,373.31 1085.6,372.52 1080.1,371.45 1074,365.02 1068.6,370.87 1063.1,370.18 1057,371.83 1051.6,375.74 1045.4,373.15 1040,375.85 1033.9,371.85 1028.4,374.86 1022.3,372.58 1016.9,374.27 1010.7,374.51 1005.3,369.27 999.2,367.84 993.7,373.65 987.6,371.42 982.2,374.74 976.7,374.03 970.6,370.35 965.2,375.45 959,372.24 953.6,369.22 947.5,375.2 942,372.59 936.2,371.53 930,374.39 924.6,375.24 918.5,373.82 913,370.34 906.9,366.47 900.8,369.3 895.3,373.67 889.2,372.15 883.8,376.58 877.7,373.23 872.2,375.71 866.1,371.49 860.6,375.12 854.5,370.78 849.1,368.16 843,376.82 837.5,372.55 831.4,373.36 826,374.63 819.8,368.82 814.4,371.24 808.3,369.89 802.1,377.38 796.7,375.3 790.6,372.35 784.5,374.06 778.3,369.55 772.9,374.05 766.8,371.07 760.6,370.55 754.5,372.04 749.1,373.24 741.8,373.69 735.7,373.77 730.3,375.43 724.1,370.33 718,372.32 712.6,371.16 706.5,374.52 701,372.77 694.9,376.28 688.8,375.32 683.3,375.82 677.2,373.14 671.8,371.74 665.6,373.18 660.2,370.91 654.1,376.06 648,374.53 641.8,375.4 636.4,368.99 630.3,373.92 624.8,372.29 618.7,371.65 612.6,374.84 607.1,373.65 601,369.32 595.6,374.79 589.5,371.5 583.3,372.93 577.9,370.51 571.8,366.27 566.3,372.39 560.2,374.36 554.1,375.69 548.2,373.48 542.8,375.98 536.6,371.61 531.2,371.07 525.1,375.82 518.9,374.34 513.5,373.5 507.4,374.67 501.3,373.52 495.8,371.67 489.7,371.59 483.6,374.76 478.1,376.63 472,374.54 466.6,374.28 460.4,375.17 455,372.9 448.9,372.07 443.4,374.22 437.3,374.43 431.2,373.89 425.7,375.94 419.6,374.5 414.2,376.17 408.1,372.9 401.9,375.29 396.5,373.69 391.1,372.4 384.9,375.58 379.5,372.09 373.4,373.02 367.9,371.84 361.8,373.16 355.9,374.96 349.8,375.01 344.4,375.11 338.2,373.78 332.8,373.88 326.7,369.43 321.2,373.96 315.1,374.05 309.7,370.81 303.5,373.06 298.1,376.45 292,370.89 285.9,374.89 280.4,370.99 275,373.47 268.8,373.37 263.4,375.36 257.3,372.51 251.8,373.51 245.7,376.65 240.3,376.71 234.1,375.38 228.7,375.73 222.6,372.74 217.1,376.5 211.7,375.12 206.3,374.7 200.1,373.94 194,370.6 188.6,372.52 182.4,370.17 176.3,366.42 170.2,372.29 164.1,374.38 158.6,374.78" fill="#fddd60" fill-opacity="0.7" clip-path="url(#ac)"/>
<rect x="163" y="481" width="1197" height="1" fill="#B9B8CE"/>
<rect x="198.5" y="481.5" width="1" height="5" fill="#B9B8CE"/>
<text x="199" y="500.5" font-size="14" fill="#B9B8CE" text-anchor="middle" font-weight="normal">17:29:45</text>
<rect x="347.93" y="481.5" width="1" height="5" fill="#B9B8CE"/>
<text x="348.43" y="500.5" font-size="14" fill="#B9B8CE" text-anchor="middle" font-weight="bold">17:30</text>
<rect x="497.36" y="481.5" width="1" height="5" fill="#B9B8CE"/>
<text x="497.86" y="500.5" font-size="14" fill="#B9B8CE" text-anchor="middle" font-weight="normal">17:30:15</text>
<rect x="646.79" y="481.5" width="1" height="5" fill="#B9B8CE"/>
<text x="647.29" y="500.5" font-size="14" fill="#B9B8CE" text-anchor="middle" font-weight="normal">17:30:30</text>
<rect x="796.22" y="481.5" width="1" height="5" fill="#B9B8CE"/>
<text x="796.72" y="500.5" font-size="14" fill="#B9B8CE" text-anchor="middle" font-weight="normal">17:30:45</text>
<rect x="945.65" y="481.5" width="1" height="5" fill="#B9B8CE"/>
<text x="946.15" y="500.5" font-size="14" fill="#B9B8CE" text-anchor="middle" font-weight="bold">17:31</text>
<rect x="1095.08" y="481.5" width="1" height="5" fill="#B9B8CE"/>
<text x="1095.58" y="500.5" font-size="14" fill="#B9B8CE" text-anchor="middle" font-weight="normal">17:31:15</text>
<rect x="1244.51" y="481.5" width="1" height="5" fill="#B9B8CE"/>
<text x="1245.01" y="500.5" font-size="14" fill="#B9B8CE" text-anchor="middle" font-weight="normal">17:31:30</text>
<polyline points="158.6,469.54 164.1,469.21 170.2,468.87 176.3,467.73 182.4,468.62 188.6,468.84 194,468.67 200.1,469.01 206.3,469.21 211.7,469.1 217.1,469.01 222.6,469.15 228.7,469.56 234.1,469.76 240.3,469.35 245.7,469.32 251.8,468.88 257.3,468.54 263.4,469.58 268.8,468.65 275,468.72 280.4,468.64 285.9,469.62 292,468.8 298.1,469.08 303.5,468.83 309.7,468.92 315.1,469.13 321.2,468.98 326.7,468.46 332.8,469.28 338.2,469.66 344.4,468.86 349.8,469.01 355.9,468.97 361.8,468.49 367.9,468.61 373.4,468.67 379.5,469.21 384.9,469.3 391.1,468.52 396.5,469.33 401.9,469.16 408.1,468.49 414.2,469.19 419.6,468.95 425.7,469.12 431.2,469.1 437.3,468.61 443.4,469.1 448.9,469.18 455,469.23 460.4,469.53 466.6,469.45 472,469.54 478.1,469.14 483.6,469.38 489.7,468.38 495.8,468.78 501.3,468.62 507.4,469.36 513.5,469.35 518.9,469.12 525.1,469.78 531.2,468.59 536.6,468.88 542.8,469.37 548.2,468.75 554.1,469.36 560.2,469.65 566.3,468.67 571.8,468.42 577.9,468.65 583.3,469.37 589.5,468.97 595.6,469.27 601,468.68 607.1,469.07 612.6,468.9 618.7,469.19 624.8,468.59 630.3,469.16 636.4,468.76 641.8,469.04 648,469.29 654.1,469.63 660.2,468.68 665.6,468.79 671.8,468.12 677.2,468.77 683.3,469.19 688.8,469.12 694.9,469.1 701,469.02 706.5,468.95 712.6,468.73 718,469.1 724.1,468.47 730.3,469.26 735.7,469.64 741.8,469.31 749.1,468.6 754.5,468.82 760.6,468.75 766.8,469.15 772.9,469.13 778.3,468.39 784.5,468.91 790.6,469.09 796.7,469.33 802.1,469.38 808.3,468.56 814.4,468.66 819.8,468.62 826,469 831.4,469.13 837.5,469.14 843,469.54 849.1,468.23 854.5,469.02 860.6,469.08 866.1,468.87 872.2,469.15 877.7,468.58 883.8,469.48 889.2,469 895.3,468.99 900.8,468.59 906.9,468.03 913,468.42 918.5,469.05 924.6,469.73 930,469.3 936.2,468.56 942,469.07 947.5,469.05 953.6,468.41 959,469.14 965.2,469.12 970.6,468.19 976.7,468.87 982.2,469.19 987.6,468.88 993.7,469.48 999.2,468.17 1005.3,468.79 1010.7,469.27 1016.9,469.13 1022.3,469.14 1028.4,469.29 1033.9,468.71 1040,469.6 1045.4,468.71 1051.6,469.27 1057,468.84 1063.1,468.79 1068.6,468.58 1074,467.94 1080.1,468.81 1085.6,469.18 1091.7,468.81 1097.1,469.27 1103.3,468.29 1108.7,468.44 1114.8,469.84 1120.3,469.15 1126.4,468.64 1131.8,469.36 1138.1,468.72 1144.4,468.79 1149.9,469.38 1156.1,469.01 1161.6,469.06 1167.9,468.85 1173.3,469.05 1179.6,468.76 1185.1,468.58 1190.6,468.76 1196.8,469.52 1202.3,468.86 1208.6,469.7 1214,469.44 1220.3,468.86 1225.8,469.14 1231.2,468.76 1236.7,468.65 1243,468.36 1248.5,469.06 1254.7,469.25 1260.2,468.94 1265.7,468.18 1271.9,468.7 1277.4,469.05 1283.7,469.15 1289.1,469 1295.4,468.79 1300.9,469.67 1307.1,469.19 1312.6,469.06 1318.9,469.23 1324.4,469 1330.6,469.12 1336.1,469.08 1341.6,469.11 1347.9,469.08 1353.3,469.23 1359.6,469.74" fill="none" stroke="#4992ff" stroke-width="2" stroke-linejoin="bevel" clip-path="url(#lc)"/>
<path d="M161.9,469.21a2.2,2.2 0 1,0 4.4,0a2.2,2.2 0 1,0 -4.4,0M168,468.87a2.2,2.2 0 1,0 4.4,0a2.2,2.2 0 1,0 -4.4,0M174.1,467.73a2.2,2.2 0 1,0 4.4,0a2.2,2.2 0 1,0 -4.4,0M180.2,468.62a2.2,2.2 0 1,0 4.4,0a2.2,2.2 0 1,0 -4.4,0M186.4,468.84a2.2,2.2 0 1,0 4.4,0a2.2,2.2 0 1,0 -4.4,0M191.8,468.67a2.2,2.2 0 1,0 4.4,0a2.2,2.2 0 1,0 -4.4,0M197.9,469.01a2.2,2.2 0 1,0 4.4,0a2.2,2.2 0 1,0 -4.4,0M204.1,469.21a2.2,2.2 0 1,0 4.4,0a2.2,2.2 0 1,0 -4.4,0M209.5,469.1a2.2,2.2 0 1,0 4.4,0a2.2,2.2 0 1,0 -4.4,0M214.9,469.01a2.2,2.2 0 1,0 4.4,0a2.2,2.2 0 1,0 -4.4,0M220.4,469.15a2.2,2.2 0 1,0 4.4,0a2.2,2.2 0 1,0 -4.4,0M226.5,469.56a2.2,2.2 0 1,0 4.4,0a2.2,2.2 0 1,0 -4.4,0M231.9,469.76a2.2,2.2 0 1,0 4.4,0a2.2,2.2 0 1,0 -4.4,0M238.1,469.35a2.2,2.2 0 1,0 4.4,0a2.2,2.2 0 1,0 -4.4,0M243.5,469.32a2.2,2.2 0 1,0 4.4,0a2.2,2.2 0 1,0 -4.4,0M249.6,468.88a2.2,2.2 0 1,0 4.4,0a2.2,2.2 0 1,0 -4.4,0M255.1,468.54a2.2,2.2 0 1,0 4.4,0a2.2,2.2 0 1,0 -4.4,0M261.2,469.58a2.2,2.2 0 1,0 4.4,0a2.2,2.2 0 1,0 -4.4,0M266.6,468.65a2.2,2.2 0 1,0 4.4,0a2.2,2.2 0 1,0 -4.4,0M272.8,468.72a2.2,2.2 0 1,0 4.4,0a2.2,2.2 0 1,0 -4.4,0M278.2,468.64a2.2,2.2 0 1,0 4.4,0a2.2,2.2 0 1,0 -4.4,0M283.7,469.62a2.2,2.2 0 1,0 4.4,0a2.2,2.2 0 1,0 -4.4,0M289.8,468.8a2.2,2.2 0 1,0 4.4,0a2.2,2.2 0 1,0 -4.4,0M295.9,469.08a2.2,2.2 0 1,0 4.4,0a2.2,2.2 0 1,0 -4.4,0M301.3,468.83a2.2,2.2 0 1,0 4.4,0a2.2,2.2 0 1,0 -4.4,0M307.5,468.92a2.2,2.2 0 1,0 4.4,0a2.2,2.2 0 1,0 -4.4,0M312.9,469.13a2.2,2.2 0 1,0 4.4,0a2.2,2.2 0 1,0 -4.4,0M319,468.98a2.2,2.2 0 1,0 4.4,0a2.2,2.2 0 1,0 -4.4,0M324.5,468.46a2.2,2.2 0 1,0 4.4,0a2.2,2.2 0 1,0 -4.4,0M330.6,469.28a2.2,2.2 0 1,0 4.4,0a2.2,2.2 0 1,0 -4.4,0M336,469.66a2.2,2.2 0 1,0 4.4,0a2.2,2.2 0 1,0 -4.4,0M342.2,468.86a2.2,2.2 0 1,0 4.4,0a2.2,2.2 0 1,0 -4.4,0M347.6,469.01a2.2,2.2 0 1,0 4.4,0a2.2,2.2 0 1,0 -4.4,0M353.7,468.97a2.2,2.2 0 1,0 4.4,0a2.2,2.2 0 1,0 -4.4,0M359.6,468.49a2.2,2.2 0 1,0 4.4,0a2.2,2.2 0 1,0 -4.4,0M365.7,468.61a2.2,2.2 0 1,0 4.4,0a2.2,2.2 0 1,0 -4.4,0M371.2,468.67a2.2,2.2 0 1,0 4.4,0a2.2,2.2 0 1,0 -4.4,0M377.3,469.21a2.2,2.2 0 1,0 4.4,0a2.2,2.2 0 1,0 -4.4,0M382.7,469.3a2.2,2.2 0 1,0 4.4,0a2.2,2.2 0 1,0 -4.4,0M388.9,468.52a2.2,2.2 0 1,0 4.4,0a2.2,2.2 0 1,0 -4.4,0M394.3,469.33a2.2,2.2 0 1,0 4.4,0a2.2,2.2 0 1,0 -4.4,0M399.7,469.16a2.2,2.2 0 1,0 4.4,0a2.2,2.2 0 1,0 -4.4,0M405.9,468.49a2.2,2.2 0 1,0 4.4,0a2.2,2.2 0 1,0 -4.4,0M412,469.19a2.2,2.2 0 1,0 4.4,0a2.2,2.2 0 1,0 -4.4,0M417.4,468.95a2.2,2.2 0 1,0 4.4,0a2.2,2.2 0 1,0 -4.4,0M423.5,469.12a2.2,2.2 0 1,0 4.4,0a2.2,2.2 0 1,0 -4.4,0M429,469.1a2.2,2.2 0 1,0 4.4,0a2.2,2.2 0 1,0 -4.4,0M435.1,468.61a2.2,2.2 0 1,0 4.4,0a2.2,2.2 0 1,0 -4.4,0M441.2,469.1a2.2,2.2 0 1,0 4.4,0a2.2,2.2 0 1,0 -4.4,0M446.7,469.18a2.2,2.2 0 1,0 4.4,0a2.2,2.2 0 1,0 -4.4,0M452.8,469.23a2.2,2.2 0 1,0 4.4,0a2.2,2.2 0 1,0 -4.4,0M458.2,469.53a2.2,2.2 0 1,0 4.4,0a2.2,2.2 0 1,0 -4.4,0M464.4,469.45a2.2,2.2 0 1,0 4.4,0a2.2,2.2 0 1,0 -4.4,0M469.8,469.54a2.2,2.2 0 1,0 4.4,0a2.2,2.2 0 1,0 -4.4,0M475.9,469.14a2.2,2.2 0 1,0 4.4,0a2.2,2.2 0 1,0 -4.4,0M481.4,469.38a2.2,2.2 0 1,0 4.4,0a2.2,2.2 0 1,0 -4.4,0M487.5,468.38a2.2,2.2 0 1,0 4.4,0a2.2,2.2 0 1,0 -4.4,0M493.6,468.78a2.2,2.2 0 1,0 4.4,0a2.2,2.2 0 1,0 -4.4,0M499.1,468.62a2.2,2.2 0 1,0 4.4,0a2.2,2.2 0 1,0 -4.4,0M505.2,469.36a2.2,2.2 0 1,0 4.4,0a2.2,2.2 0 1,0 -4.4,0M511.3,469.35a2.2,2.2 0 1,0 4.4,0a2.2,2.2 0 1,0 -4.4,0M516.7,469.12a2.2,2.2 0 1,0 4.4,0a2.2,2.2 0 1,0 -4.4,0M522.9,469.78a2.2,2.2 0 1,0 4.4,0a2.2,2.2 0 1,0 -4.4,0M529,468.59a2.2,2.2 0 1,0 4.4,0a2.2,2.2 0 1,0 -4.4,0M534.4,468.88a2.2,2.2 0 1,0 4.4,0a2.2,2.2 0 1,0 -4.4,0M540.6,469.37a2.2,2.2 0 1,0 4.4,0a2.2,2.2 0 1,0 -4.4,0M546,468.75a2.2,2.2 0 1,0 4.4,0a2.2,2.2 0 1,0 -4.4,0M551.9,469.36a2.2,2.2 0 1,0 4.4,0a2.2,2.2 0 1,0 -4.4,0M558,469.65a2.2,2.2 0 1,0 4.4,0a2.2,2.2 0 1,0 -4.4,0M564.1,468.67a2.2,2.2 0 1,0 4.4,0a2.2,2.2 0 1,0 -4.4,0M569.6,468.42a2.2,2.2 0 1,0 4.4,0a2.2,2.2 0 1,0 -4.4,0M575.7,468.65a2.2,2.2 0 1,0 4.4,0a2.2,2.2 0 1,0 -4.4,0M581.1,469.37a2.2,2.2 0 1,0 4.4,0a2.2,2.2 0 1,0 -4.4,0M587.3,468.97a2.2,2.2 0 1,0 4.4,0a2.2,2.2 0 1,0 -4.4,0M593.4,469.27a2.2,2.2 0 1,0 4.4,0a2.2,2.2 0 1,0 -4.4,0M598.8,468.68a2.2,2.2 0 1,0 4.4,0a2.2,2.2 0 1,0 -4.4,0M604.9,469.07a2.2,2.2 0 1,0 4.4,0a2.2,2.2 0 1,0 -4.4,0M610.4,468.9a2.2,2.2 0 1,0 4.4,0a2.2,2.2 0 1,0 -4.4,0M616.5,469.19a2.2,2.2 0 1,0 4.4,0a2.2,2.2 0 1,0 -4.4,0M622.6,468.59a2.2,2.2 0 1,0 4.4,0a2.2,2.2 0 1,0 -4.4,0M628.1,469.16a2.2,2.2 0 1,0 4.4,0a2.2,2.2 0 1,0 -4.4,0M634.2,468.76a2.2,2.2 0 1,0 4.4,0a2.2,2.2 0 1,0 -4.4,0M639.6,469.04a2.2,2.2 0 1,0 4.4,0a2.2,2.2 0 1,0 -4.4,0M645.8,469.29a2.2,2.2 0 1,0 4.4,0a2.2,2.2 0 1,0 -4.4,0M651.9,469.63a2.2,2.2 0 1,0 4.4,0a2.2,2.2 0 1,0 -4.4,0M658,468.68a2.2,2.2 0 1,0 4.4,0a2.2,2.2 0 1,0 -4.4,0M663.4,468.79a2.2,2.2 0 1,0 4.4,0a2.2,2.2 0 1,0 -4.4,0M669.6,468.12a2.2,2.2 0 1,0 4.4,0a2.2,2.2 0 1,0 -4.4,0M675,468.77a2.2,2.2 0 1,0 4.4,0a2.2,2.2 0 1,0 -4.4,0M681.1,469.19a2.2,2.2 0 1,0 4.4,0a2.2,2.2 0 1,0 -4.4,0M686.6,469.12a2.2,2.2 0 1,0 4.4,0a2.2,2.2 0 1,0 -4.4,0M692.7,469.1a2.2,2.2 0 1,0 4.4,0a2.2,2.2 0 1,0 -4.4,0M698.8,469.02a2.2,2.2 0 1,0 4.4,0a2.2,2.2 0 1,0 -4.4,0M704.3,468.95a2.2,2.2 0 1,0 4.4,0a2.2,2.2 0 1,0 -4.4,0M710.4,468.73a2.2,2.2 0 1,0 4.4,0a2.2,2.2 0 1,0 -4.4,0M715.8,469.1a2.2,2.2 0 1,0 4.4,0a2.2,2.2 0 1,0 -4.4,0M721.9,468.47a2.2,2.2 0 1,0 4.4,0a2.2,2.2 0 1,0 -4.4,0M728.1,469.26a2.2,2.2 0 1,0 4.4,0a2.2,2.2 0 1,0 -4.4,0M733.5,469.64a2.2,2.2 0 1,0 4.4,0a2.2,2.2 0 1,0 -4.4,0M739.6,469.31a2.2,2.2 0 1,0 4.4,0a2.2,2.2 0 1,0 -4.4,0M746.9,468.6a2.2,2.2 0 1,0 4.4,0a2.2,2.2 0 1,0 -4.4,0M752.3,468.82a2.2,2.2 0 1,0 4.4,0a2.2,2.2 0 1,0 -4.4,0M758.4,468.75a2.2,2.2 0 1,0 4.4,0a2.2,2.2 0 1,0 -4.4,0M764.6,469.15a2.2,2.2 0 1,0 4.4,0a2.2,2.2 0 1,0 -4.4,0M770.7,469.13a2.2,2.2 0 1,0 4.4,0a2.2,2.2 0 1,0 -4.4,0M776.1,468.39a2.2,2.2 0 1,0 4.4,0a2.2,2.2 0 1,0 -4.4,0M782.3,468.91a2.2,2.2 0 1,0 4.4,0a2.2,2.2 0 1,0 -4.4,0M788.4,469.09a2.2,2.2 0 1,0 4.4,0a2.2,2.2 0 1,0 -4.4,0M794.5,469.33a2.2,2.2 0 1,0 4.4,0a2.2,2.2 0 1,0 -4.4,0M799.9,469.38a2.2,2.2 0 1,0 4.4,0a2.2,2.2 0 1,0 -4.4,0M806.1,468.56a2.2,2.2 0 1,0 4.4,0a2.2,2.2 0 1,0 -4.4,0M812.2,468.66a2.2,2.2 0 1,0 4.4,0a2.2,2.2 0 1,0 -4.4,0M817.6,468.62a2.2,2.2 0 1,0 4.4,0a2.2,2.2 0 1,0 -4.4,0M823.8,469a2.2,2.2 0 1,0 4.4,0a2.2,2.2 0 1,0 -4.4,0M829.2,469.13a2.2,2.2 0 1,0 4.4,0a2.2,2.2 0 1,0 -4.4,0M835.3,469.14a2.2,2.2 0 1,0 4.4,0a2.2,2.2 0 1,0 -4.4,0M840.8,469.54a2.2,2.2 0 1,0 4.4,0a2.2,2.2 0 1,0 -4.4,0M846.9,468.23a2.2,2.2 0 1,0 4.4,0a2.2,2.2 0 1,0 -4.4,0M852.3,469.02a2.2,2.2 0 1,0 4.4,0a2.2,2.2 0 1,0 -4.4,0M858.4,469.08a2.2,2.2 0 1,0 4.4,0a2.2,2.2 0 1,0 -4.4,0M863.9,468.87a2.2,2.2 0 1,0 4.4,0a2.2,2.2 0 1,0 -4.4,0M870,469.15a2.2,2.2 0 1,0 4.4,0a2.2,2.2 0 1,0 -4.4,0M875.5,468.58a2.2,2.2 0 1,0 4.4,0a2.2,2.2 0 1,0 -4.4,0M881.6,469.48a2.2,2.2 0 1,0 4.4,0a2.2,2.2 0 1,0 -4.4,0M887,469a2.2,2.2 0 1,0 4.4,0a2.2,2.2 0 1,0 -4.4,0M893.1,468.99a2.2,2.2 0 1,0 4.4,0a2.2,2.2 0 1,0 -4.4,0M898.6,468.59a2.2,2.2 0 1,0 4.4,0a2.2,2.2 0 1,0 -4.4,0M904.7,468.03a2.2,2.2 0 1,0 4.4,0a2.2,2.2 0 1,0 -4.4,0M910.8,468.42a2.2,2.2 0 1,0 4.4,0a2.2,2.2 0 1,0 -4.4,0M916.3,469.05a2.2,2.2 0 1,0 4.4,0a2.2,2.2 0 1,0 -4.4,0M922.4,469.73a2.2,2.2 0 1,0 4.4,0a2.2,2.2 0 1,0 -4.4,0M927.8,469.3a2.2,2.2 0 1,0 4.4,0a2.2,2.2 0 1,0 -4.4,0M934,468.56a2.2,2.2 0 1,0 4.4,0a2.2,2.2 0 1,0 -4.4,0M939.8,469.07a2.2,2.2 0 1,0 4.4,0a2.2,2.2 0 1,0 -4.4,0M945.3,469.05a2.2,2.2 0 1,0 4.4,0a2.2,2.2 0 1,0 -4.4,0M951.4,468.41a2.2,2.2 0 1,0 4.4,0a2.2,2.2 0 1,0 -4.4,0M956.8,469.14a2.2,2.2 0 1,0 4.4,0a2.2,2.2 0 1,0 -4.4,0M963,469.12a2.2,2.2 0 1,0 4.4,0a2.2,2.2 0 1,0 -4.4,0M968.4,468.19a2.2,2.2 0 1,0 4.4,0a2.2,2.2 0 1,0 -4.4,0M974.5,468.87a2.2,2.2 0 1,0 4.4,0a2.2,2.2 0 1,0 -4.4,0M980,469.19a2.2,2.2 0 1,0 4.4,0a2.2,2.2 0 1,0 -4.4,0M985.4,468.88a2.2,2.2 0 1,0 4.4,0a2.2,2.2 0 1,0 -4.4,0M991.5,469.48a2.2,2.2 0 1,0 4.4,0a2.2,2.2 0 1,0 -4.4,0M997,468.17a2.2,2.2 0 1,0 4.4,0a2.2,2.2 0 1,0 -4.4,0M1003.1,468.79a2.2,2.2 0 1,0 4.4,0a2.2,2.2 0 1,0 -4.4,0M1008.5,469.27a2.2,2.2 0 1,0 4.4,0a2.2,2.2 0 1,0 -4.4,0M1014.7,469.13a2.2,2.2 0 1,0 4.4,0a2.2,2.2 0 1,0 -4.4,0M1020.1,469.14a2.2,2.2 0 1,0 4.4,0a2.2,2.2 0 1,0 -4.4,0M1026.2,469.29a2.2,2.2 0 1,0 4.4,0a2.2,2.2 0 1,0 -4.4,0M1031.7,468.71a2.2,2.2 0 1,0 4.4,0a2.2,2.2 0 1,0 -4.4,0M1037.8,469.6a2.2,2.2 0 1,0 4.4,0a2.2,2.2 0 1,0 -4.4,0M1043.2,468.71a2.2,2.2 0 1,0 4.4,0a2.2,2.2 0 1,0 -4.4,0M1049.4,469.27a2.2,2.2 0 1,0 4.4,0a2.2,2.2 0 1,0 -4.4,0M1054.8,468.84a2.2,2.2 0 1,0 4.4,0a2.2,2.2 0 1,0 -4.4,0M1060.9,468.79a2.2,2.2 0 1,0 4.4,0a2.2,2.2 0 1,0 -4.4,0M1066.4,468.58a2.2,2.2 0 1,0 4.4,0a2.2,2.2 0 1,0 -4.4,0M1071.8,467.94a2.2,2.2 0 1,0 4.4,0a2.2,2.2 0 1,0 -4.4,0M1077.9,468.81a2.2,2.2 0 1,0 4.4,0a2.2,2.2 0 1,0 -4.4,0M1083.4,469.18a2.2,2.2 0 1,0 4.4,0a2.2,2.2 0 1,0 -4.4,0M1089.5,468.81a2.2,2.2 0 1,0 4.4,0a2.2,2.2 0 1,0 -4.4,0M1094.9,469.27a2.2,2.2 0 1,0 4.4,0a2.2,2.2 0 1,0 -4.4,0M1101.1,468.29a2.2,2.2 0 1,0 4.4,0a2.2,2.2 0 1,0 -4.4,0M1106.5,468.44a2.2,2.2 0 1,0 4.4,0a2.2,2.2 0 1,0 -4.4,0M1112.6,469.84a2.2,2.2 0 1,0 4.4,0a2.2,2.2 0 1,0 -4.4,0M1118.1,469.15a2.2,2.2 0 1,0 4.4,0a2.2,2.2 0 1,0 -4.4,0M1124.2,468.64a2.2,2.2 0 1,0 4.4,0a2.2,2.2 0 1,0 -4.4,0M1129.6,469.36a2.2,2.2 0 1,0 4.4,0a2.2,2.2 0 1,0 -4.4,0M1135.9,468.72a2.2,2.2 0 1,0 4.4,0a2.2,2.2 0 1,0 -4.4,0M1142.2,468.79a2.2,2.2 0 1,0 4.4,0a2.2,2.2 0 1,0 -4.4,0M1147.7,469.38a2.2,2.2 0 1,0 4.4,0a2.2,2.2 0 1,0 -4.4,0M1153.9,469.01a2.2,2.2 0 1,0 4.4,0a2.2,2.2 0 1,0 -4.4,0M1159.4,469.06a2.2,2.2 0 1,0 4.4,0a2.2,2.2 0 1,0 -4.4,0M1165.7,468.85a2.2,2.2 0 1,0 4.4,0a2.2,2.2 0 1,0 -4.4,0M1171.1,469.05a2.2,2.2 0 1,0 4.4,0a2.2,2.2 0 1,0 -4.4,0M1177.4,468.76a2.2,2.2 0 1,0 4.4,0a2.2,2.2 0 1,0 -4.4,0M1182.9,468.58a2.2,2.2 0 1,0 4.4,0a2.2,2.2 0 1,0 -4.4,0M1188.4,468.76a2.2,2.2 0 1,0 4.4,0a2.2,2.2 0 1,0 -4.4,0M1194.6,469.52a2.2,2.2 0 1,0 4.4,0a2.2,2.2 0 1,0 -4.4,0M1200.1,468.86a2.2,2.2 0 1,0 4.4,0a2.2,2.2 0 1,0 -4.4,0M1206.4,469.7a2.2,2.2 0 1,0 4.4,0a2.2,2.2 0 1,0 -4.4,0M1211.8,469.44a2.2,2.2 0 1,0 4.4,0a2.2,2.2 0 1,0 -4.4,0M1218.1,468.86a2.2,2.2 0 1,0 4.4,0a2.2,2.2 0 1,0 -4.4,0M1223.6,469.14a2.2,2.2 0 1,0 4.4,0a2.2,2.2 0 1,0 -4.4,0M1229,468.76a2.2,2.2 0 1,0 4.4,0a2.2,2.2 0 1,0 -4.4,0M1234.5,468.65a2.2,2.2 0 1,0 4.4,0a2.2,2.2 0 1,0 -4.4,0M1240.8,468.36a2.2,2.2 0 1,0 4.4,0a2.2,2.2 0 1,0 -4.4,0M1246.3,469.06a2.2,2.2 0 1,0 4.4,0a2.2,2.2 0 1,0 -4.4,0M1252.5,469.25a2.2,2.2 0 1,0 4.4,0a2.2,2.2 0 1,0 -4.4,0M1258,468.94a2.2,2.2 0 1,0 4.4,0a2.2,2.2 0 1,0 -4.4,0M1263.5,468.18a2.2,2.2 0 1,0 4.4,0a2.2,2.2 0 1,0 -4.4,0M1269.7,468.7a2.2,2.2 0 1,0 4.4,0a2.2,2.2 0 1,0 -4.4,0M1275.2,469.05a2.2,2.2 0 1,0 4.4,0a2.2,2.2 0 1,0 -4.4,0M1281.5,469.15a2.2,2.2 0 1,0 4.4,0a2.2,2.2 0 1,0 -4.4,0M1286.9,469a2.2,2.2 0 1,0 4.4,0a2.2,2.2 0 1,0 -4.4,0M1293.2,468.79a2.2,2.2 0 1,0 4.4,0a2.2,2.2 0 1,0 -4.4,0M1298.7,469.67a2.2,2.2 0 1,0 4.4,0a2.2,2.2 0 1,0 -4.4,0M1304.9,469.19a2.2,2.2 0 1,0 4.4,0a2.2,2.2 0 1,0 -4.4,0M1310.4,469.06a2.2,2.2 0 1,0 4.4,0a2.2,2.2 0 1,0 -4.4,0M1316.7,469.23a2.2,2.2 0 1,0 4.4,0a2.2,2.2 0 1,0 -4.4,0M1322.2,469a2.2,2.2 0 1,0 4.4,0a2.2,2.2 0 1,0 -4.4,0M1328.4,469.12a2.2,2.2 0 1,0 4.4,0a2.2,2.2 0 1,0 -4.4,0M1333.9,469.08a2.2,2.2 0 1,0 4.4,0a2.2,2.2 0 1,0 -4.4,0M1339.4,469.11a2.2,2.2 0 1,0 4.4,0a2.2,2.2 0 1,0 -4.4,0M1345.7,469.08a2.2,2.2 0 1,0 4.4,0a2.2,2.2 0 1,0 -4.4,0M1351.1,469.23a2.2,2.2 0 1,0 4.4,0a2.2,2.2 0 1,0 -4.4,0M1357.4,469.74a2.2,2.2 0 1,0 4.4,0a2.2,2.2 0 1,0 -4.4,0" fill="#4992ff" clip-path="url(#lc)"/>
<polyline points="158.6,467.12 164.1,467.24 170.2,466.67 176.3,465.65 182.4,467.01 188.6,466.78 194,467.03 200.1,467.17 206.3,467.39 211.7,467.6 217.1,467.51 222.6,466.99 228.7,467.44 234.1,467.39 240.3,467.46 245.7,467.47 251.8,467.43 257.3,466.85 263.4,467.94 268.8,466.22 275,467.02 280.4,466.67 285.9,467.31 292,466.88 298.1,467.66 303.5,466.95 309.7,466.75 315.1,467.96 321.2,467.32 326.7,466.36 332.8,467.03 338.2,467.29 344.4,466.93 349.8,467.2 355.9,467.87 361.8,467.41 367.9,466.93 373.4,467.17 379.5,467.36 384.9,467.65 391.1,467.41 396.5,467.52 401.9,467.42 408.1,467.32 414.2,466.91 419.6,467 425.7,467.57 431.2,466.92 437.3,467.21 443.4,467.09 448.9,466.73 455,467.7 460.4,467.54 466.6,467.24 472,467.58 478.1,467.57 483.6,467.47 489.7,466.85 495.8,467.3 501.3,466.79 507.4,467.34 513.5,467.05 518.9,466.96 525.1,467.77 531.2,466.42 536.6,467.17 542.8,467.63 548.2,467.19 554.1,467.4 560.2,467.48 566.3,466.43 571.8,465.81 577.9,466.38 583.3,466.96 589.5,466.75 595.6,467.3 601,466.07 607.1,467.48 612.6,467.96 618.7,466.71 624.8,466.89 630.3,467.22 636.4,466.72 641.8,467.85 648,467.08 654.1,467.35 660.2,466.27 665.6,466.74 671.8,466.36 677.2,467.11 683.3,467.21 688.8,467.75 694.9,467.73 701,466.64 706.5,466.89 712.6,466.49 718,467.24 724.1,466.32 730.3,467.13 735.7,467.13 741.8,467.24 749.1,466.73 754.5,467.17 760.6,466.47 766.8,466.88 772.9,466.93 778.3,466.27 784.5,467.11 790.6,466.32 796.7,467.45 802.1,467.31 808.3,466.4 814.4,466.27 819.8,466.66 826,467.33 831.4,467.23 837.5,467.12 843,467.3 849.1,465.58 854.5,466.45 860.6,467.6 866.1,466.66 872.2,467.7 877.7,467.25 883.8,467.26 889.2,466.96 895.3,467.51 900.8,466.14 906.9,465.29 913,466.35 918.5,467.03 924.6,467.48 930,466.92 936.2,466.56 942,466.34 947.5,467.47 953.6,466.68 959,467.22 965.2,467 970.6,466.49 976.7,466.4 982.2,467.32 987.6,466.75 993.7,467 999.2,466.11 1005.3,466.44 1010.7,467.49 1016.9,467.28 1022.3,466.95 1028.4,466.77 1033.9,466.6 1040,467.39 1045.4,467.09 1051.6,467.38 1057,467.14 1063.1,466.31 1068.6,466.58 1074,465.48 1080.1,466.71 1085.6,467.02 1091.7,466.88 1097.1,467.73 1103.3,465.95 1108.7,466.92 1114.8,467.24 1120.3,467.63 1126.4,466.67 1131.8,467.15 1138.1,466.87 1144.4,466.61 1149.9,467.55 1156.1,466.97 1161.6,466.92 1167.9,466.73 1173.3,467.19 1179.6,466.78 1185.1,466.86 1190.6,466.37 1196.8,467.11 1202.3,466.46 1208.6,467.49 1214,467.24 1220.3,466.86 1225.8,467.24 1231.2,467.33 1236.7,466.17 1243,466.32 1248.5,467 1254.7,467.4 1260.2,467.64 1265.7,466.16 1271.9,467.15 1277.4,466.89 1283.7,467.15 1289.1,467.03 1295.4,467.3 1300.9,467.03 1307.1,466.9 1312.6,467.33 1318.9,468.01 1324.4,467.19 1330.6,466.99 1336.1,466.95 1341.6,466.89 1347.9,466.68 1353.3,467.05 1359.6,467.95" fill="none" stroke="#7cffb2" stroke-width="2" stroke-linejoin="bevel" clip-path="url(#lc)"/>
<path d="M161.9,467.24a2.2,2.2 0 1,0 4.4,0a2.2,2.2 0 1,0 -4.4,0M168,466.67a2.2,2.2 0 1,0 4.4,0a2.2,2.2 0 1,0 -4.4,0M174.1,465.65a2.2,2.2 0 1,0 4.4,0a2.2,2.2 0 1,0 -4.4,0M180.2,467.01a2.2,2.2 0 1,0 4.4,0a2.2,2.2 0 1,0 -4.4,0M186.4,466.78a2.2,2.2 0 1,0 4.4,0a2.2,2.2 0 1,0 -4.4,0M191.8,467.03a2.2,2.2 0 1,0 4.4,0a2.2,2.2 0 1,0 -4.4,0M197.9,467.17a2.2,2.2 0 1,0 4.4,0a2.2,2.2 0 1,0 -4.4,0M204.1,467.39a2.2,2.2 0 1,0 4.4,0a2.2,2.2 0 1,0 -4.4,0M209.5,467.6a2.2,2.2 0 1,0 4.4,0a2.2,2.2 0 1,0 -4.4,0M214.9,467.51a2.2,2.2 0 1,0 4.4,0a2.2,2.2 0 1,0 -4.4,0M220.4,466.99a2.2,2.2 0 1,0 4.4,0a2.2,2.2 0 1,0 -4.4,0M226.5,467.44a2.2,2.2 0 1,0 4.4,0a2.2,2.2 0 1,0 -4.4,0M231.9,467.39a2.2,2.2 0 1,0 4.4,0a2.2,2.2 0 1,0 -4.4,0M238.1,467.46a2.2,2.2 0 1,0 4.4,0a2.2,2.2 0 1,0 -4.4,0M243.5,467.47a2.2,2.2 0 1,0 4.4,0a2.2,2.2 0 1,0 -4.4,0M249.6,467.43a2.2,2.2 0 1,0 4.4,0a2.2,2.2 0 1,0 -4.4,0M255.1,466.85a2.2,2.2 0 1,0 4.4,0a2.2,2.2 0 1,0 -4.4,0M261.2,467.94a2.2,2.2 0 1,0 4.4,0a2.2,2.2 0 1,0 -4.4,0M266.6,466.22a2.2,2.2 0 1,0 4.4,0a2.2,2.2 0 1,0 -4.4,0M272.8,467.02a2.2,2.2 0 1,0 4.4,0a2.2,2.2 0 1,0 -4.4,0M278.2,466.67a2.2,2.2 0 1,0 4.4,0a2.2,2.2 0 1,0 -4.4,0M283.7,467.31a2.2,2.2 0 1,0 4.4,0a2.2,2.2 0 1,0 -4.4,0M289.8,466.88a2.2,2.2 0 1,0 4.4,0a2.2,2.2 0 1,0 -4.4,0M295.9,467.66a2.2,2.2 0 1,0 4.4,0a2.2,2.2 0 1,0 -4.4,0M301.3,466.95a2.2,2.2 0 1,0 4.4,0a2.2,2.2 0 1,0 -4.4,0M307.5,466.75a2.2,2.2 0 1,0 4.4,0a2.2,2.2 0 1,0 -4.4,0M312.9,467.96a2.2,2.2 0 1,0 4.4,0a2.2,2.2 0 1,0 -4.4,0M319,467.32a2.2,2.2 0 1,0 4.4,0a2.2,2.2 0 1,0 -4.4,0M324.5,466.36a2.2,2.2 0 1,0 4.4,0a2.2,2.2 0 1,0 -4.4,0M330.6,467.03a2.2,2.2 0 1,0 4.4,0a2.2,2.2 0 1,0 -4.4,0M336,467.29a2.2,2.2 0 1,0 4.4,0a2.2,2.2 0 1,0 -4.4,0M342.2,466.93a2.2,2.2 0 1,0 4.4,0a2.2,2.2 0 1,0 -4.4,0M347.6,467.2a2.2,2.2 0 1,0 4.4,0a2.2,2.2 0 1,0 -4.4,0M353.7,467.87a2.2,2.2 0 1,0 4.4,0a2.2,2.2 0 1,0 -4.4,0M359.6,467.41a2.2,2.2 0 1,0 4.4,0a2.2,2.2 0 1,0 -4.4,0M365.7,466.93a2.2,2.2 0 1,0 4.4,0a2.2,2.2 0 1,0 -4.4,0M371.2,467.17a2.2,2.2 0 1,0 4.4,0a2.2,2.2 0 1,0 -4.4,0M377.3,467.36a2.2,2.2 0 1,0 4.4,0a2.2,2.2 0 1,0 -4.4,0M382.7,467.65a2.2,2.2 0 1,0 4.4,0a2.2,2.2 0 1,0 -4.4,0M388.9,467.41a2.2,2.2 0 1,0 4.4,0a2.2,2.2 0 1,0 -4.4,0M394.3,467.52a2.2,2.2 0 1,0 4.4,0a2.2,2.2 0 1,0 -4.4,0M399.7,467.42a2.2,2.2 0 1,0 4.4,0a2.2,2.2 0 1,0 -4.4,0M405.9,467.32a2.2,2.2 0 1,0 4.4,0a2.2,2.2 0 1,0 -4.4,0M412,466.91a2.2,2.2 0 1,0 4.4,0a2.2,2.2 0 1,0 -4.4,0M417.4,467a2.2,2.2 0 1,0 4.4,0a2.2,2.2 0 1,0 -4.4,0M423.5,467.57a2.2,2.2 0 1,0 4.4,0a2.2,2.2 0 1,0 -4.4,0M429,466.92a2.2,2.2 0 1,0 4.4,0a2.2,2.2 0 1,0 -4.4,0M435.1,467.21a2.2,2.2 0 1,0 4.4,0a2.2,2.2 0 1,0 -4.4,0M441.2,467.09a2.2,2.2 0 1,0 4.4,0a2.2,2.2 0 1,0 -4.4,0M446.7,466.73a2.2,2.2 0 1,0 4.4,0a2.2,2.2 0 1,0 -4.4,0M452.8,467.7a2.2,2.2 0 1,0 4.4,0a2.2,2.2 0 1,0 -4.4,0M458.2,467.54a2.2,2.2 0 1,0 4.4,0a2.2,2.2 0 1,0 -4.4,0M464.4,467.24a2.2,2.2 0 1,0 4.4,0a2.2,2.2 0 1,0 -4.4,0M469.8,467.58a2.2,2.2 0 1,0 4.4,0a2.2,2.2 0 1,0 -4.4,0M475.9,467.57a2.2,2.2 0 1,0 4.4,0a2.2,2.2 0 1,0 -4.4,0M481.4,467.47a2.2,2.2 0 1,0 4.4,0a2.2,2.2 0 1,0 -4.4,0M487.5,466.85a2.2,2.2 0 1,0 4.4,0a2.2,2.2 0 1,0 -4.4,0M493.6,467.3a2.2,2.2 0 1,0 4.4,0a2.2,2.2 0 1,0 -4.4,0M499.1,466.79a2.2,2.2 0 1,0 4.4,0a2.2,2.2 0 1,0 -4.4,0M505.2,467.34a2.2,2.2 0 1,0 4.4,0a2.2,2.2 0 1,0 -4.4,0M511.3,467.05a2.2,2.2 0 1,0 4.4,0a2.2,2.2 0 1,0 -4.4,0M516.7,466.96a2.2,2.2 0 1,0 4.4,0a2.2,2.2 0 1,0 -4.4,0M522.9,467.77a2.2,2.2 0 1,0 4.4,0a2.2,2.2 0 1,0 -4.4,0M529,466.42a2.2,2.2 0 1,0 4.4,0a2.2,2.2 0 1,0 -4.4,0M534.4,467.17a2.2,2.2 0 1,0 4.4,0a2.2,2.2 0 1,0 -4.4,0M540.6,467.63a2.2,2.2 0 1,0 4.4,0a2.2,2.2 0 1,0 -4.4,0M546,467.19a2.2,2.2 0 1,0 4.4,0a2.2,2.2 0 1,0 -4.4,0M551.9,467.4a2.2,2.2 0 1,0 4.4,0a2.2,2.2 0 1,0 -4.4,0M558,467.48a2.2,2.2 0 1,0 4.4,0a2.2,2.2 0 1,0 -4.4,0M564.1,466.43a2.2,2.2 0 1,0 4.4,0a2.2,2.2 0 1,0 -4.4,0M569.6,465.81a2.2,2.2 0 1,0 4.4,0a2.2,2.2 0 1,0 -4.4,0M575.7,466.38a2.2,2.2 0 1,0 4.4,0a2.2,2.2 0 1,0 -4.4,0M581.1,466.96a2.2,2.2 0 1,0 4.4,0a2.2,2.2 0 1,0 -4.4,0M587.3,466.75a2.2,2.2 0 1,0 4.4,0a2.2,2.2 0 1,0 -4.4,0M593.4,467.3a2.2,2.2 0 1,0 4.4,0a2.2,2.2 0 1,0 -4.4,0M598.8,466.07a2.2,2.2 0 1,0 4.4,0a2.2,2.2 0 1,0 -4.4,0M604.9,467.48a2.2,2.2 0 1,0 4.4,0a2.2,2.2 0 1,0 -4.4,0M610.4,467.96a2.2,2.2 0 1,0 4.4,0a2.2,2.2 0 1,0 -4.4,0M616.5,466.71a2.2,2.2 0 1,0 4.4,0a2.2,2.2 0 1,0 -4.4,0M622.6,466.89a2.2,2.2 0 1,0 4.4,0a2.2,2.2 0 1,0 -4.4,0M628.1,467.22a2.2,2.2 0 1,0 4.4,0a2.2,2.2 0 1,0 -4.4,0M634.2,466.72a2.2,2.2 0 1,0 4.4,0a2.2,2.2 0 1,0 -4.4,0M639.6,467.85a2.2,2.2 0 1,0 4.4,0a2.2,2.2 0 1,0 -4.4,0M645.8,467.08a2.2,2.2 0 1,0 4.4,0a2.2,2.2 0 1,0 -4.4,0M651.9,467.35a2.2,2.2 0 1,0 4.4,0a2.2,2.2 0 1,0 -4.4,0M658,466.27a2.2,2.2 0 1,0 4.4,0a2.2,2.2 0 1,0 -4.4,0M663.4,466.74a2.2,2.2 0 1,0 4.4,0a2.2,2.2 0 1,0 -4.4,0M669.6,466.36a2.2,2.2 0 1,0 4.4,0a2.2,2.2 0 1,0 -4.4,0M675,467.11a2.2,2.2 0 1,0 4.4,0a2.2,2.2 0 1,0 -4.4,0M681.1,467.21a2.2,2.2 0 1,0 4.4,0a2.2,2.2 0 1,0 -4.4,0M686.6,467.75a2.2,2.2 0 1,0 4.4,0a2.2,2.2 0 1,0 -4.4,0M692.7,467.73a2.2,2.2 0 1,0 4.4,0a2.2,2.2 0 1,0 -4.4,0M698.8,466.64a2.2,2.2 0 1,0 4.4,0a2.2,2.2 0 1,0 -4.4,0M704.3,466.89a2.2,2.2 0 1,0 4.4,0a2.2,2.2 0 1,0 -4.4,0M710.4,466.49a2.2,2.2 0 1,0 4.4,0a2.2,2.2 0 1,0 -4.4,0M715.8,467.24a2.2,2.2 0 1,0 4.4,0a2.2,2.2 0 1,0 -4.4,0M721.9,466.32a2.2,2.2 0 1,0 4.4,0a2.2,2.2 0 1,0 -4.4,0M728.1,467.13a2.2,2.2 0 1,0 4.4,0a2.2,2.2 0 1,0 -4.4,0M733.5,467.13a2.2,2.2 0 1,0 4.4,0a2.2,2.2 0 1,0 -4.4,0M739.6,467.24a2.2,2.2 0 1,0 4.4,0a2.2,2.2 0 1,0 -4.4,0M746.9,466.73a2.2,2.2 0 1,0 4.4,0a2.2,2.2 0 1,0 -4.4,0M752.3,467.17a2.2,2.2 0 1,0 4.4,0a2.2,2.2 0 1,0 -4.4,0M758.4,466.47a2.2,2.2 0 1,0 4.4,0a2.2,2.2 0 1,0 -4.4,0M764.6,466.88a2.2,2.2 0 1,0 4.4,0a2.2,2.2 0 1,0 -4.4,0M770.7,466.93a2.2,2.2 0 1,0 4.4,0a2.2,2.2 0 1,0 -4.4,0M776.1,466.27a2.2,2.2 0 1,0 4.4,0a2.2,2.2 0 1,0 -4.4,0M782.3,467.11a2.2,2.2 0 1,0 4.4,0a2.2,2.2 0 1,0 -4.4,0M788.4,466.32a2.2,2.2 0 1,0 4.4,0a2.2,2.2 0 1,0 -4.4,0M794.5,467.45a2.2,2.2 0 1,0 4.4,0a2.2,2.2 0 1,0 -4.4,0M799.9,467.31a2.2,2.2 0 1,0 4.4,0a2.2,2.2 0 1,0 -4.4,0M806.1,466.4a2.2,2.2 0 1,0 4.4,0a2.2,2.2 0 1,0 -4.4,0M812.2,466.27a2.2,2.2 0 1,0 4.4,0a2.2,2.2 0 1,0 -4.4,0M817.6,466.66a2.2,2.2 0 1,0 4.4,0a2.2,2.2 0 1,0 -4.4,0M823.8,467.33a2.2,2.2 0 1,0 4.4,0a2.2,2.2 0 1,0 -4.4,0M829.2,467.23a2.2,2.2 0 1,0 4.4,0a2.2,2.2 0 1,0 -4.4,0M835.3,467.12a2.2,2.2 0 1,0 4.4,0a2.2,2.2 0 1,0 -4.4,0M840.8,467.3a2.2,2.2 0 1,0 4.4,0a2.2,2.2 0 1,0 -4.4,0M846.9,465.58a2.2,2.2 0 1,0 4.4,0a2.2,2.2 0 1,0 -4.4,0M852.3,466.45a2.2,2.2 0 1,0 4.4,0a2.2,2.2 0 1,0 -4.4,0M858.4,467.6a2.2,2.2 0 1,0 4.4,0a2.2,2.2 0 1,0 -4.4,0M863.9,466.66a2.2,2.2 0 1,0 4.4,0a2.2,2.2 0 1,0 -4.4,0M870,467.7a2.2,2.2 0 1,0 4.4,0a2.2,2.2 0 1,0 -4.4,0M875.5,467.25a2.2,2.2 0 1,0 4.4,0a2.2,2.2 0 1,0 -4.4,0M881.6,467.26a2.2,2.2 0 1,0 4.4,0a2.2,2.2 0 1,0 -4.4,0M887,466.96a2.2,2.2 0 1,0 4.4,0a2.2,2.2 0 1,0 -4.4,0M893.1,467.51a2.2,2.2 0 1,0 4.4,0a2.2,2.2 0 1,0 -4.4,0M898.6,466.14a2.2,2.2 0 1,0 4.4,0a2.2,2.2 0 1,0 -4.4,0M904.7,465.29a2.2,2.2 0 1,0 4.4,0a2.2,2.2 0 1,0 -4.4,0M910.8,466.35a2.2,2.2 0 1,0 4.4,0a2.2,2.2 0 1,0 -4.4,0M916.3,467.03a2.2,2.2 0 1,0 4.4,0a2.2,2.2 0 1,0 -4.4,0M922.4,467.48a2.2,2.2 0 1,0 4.4,0a2.2,2.2 0 1,0 -4.4,0M927.8,466.92a2.2,2.2 0 1,0 4.4,0a2.2,2.2 0 1,0 -4.4,0M934,466.56a2.2,2.2 0 1,0 4.4,0a2.2,2.2 0 1,0 -4.4,0M939.8,466.34a2.2,2.2 0 1,0 4.4,0a2.2,2.2 0 1,0 -4.4,0M945.3,467.47a2.2,2.2 0 1,0 4.4,0a2.2,2.2 0 1,0 -4.4,0M951.4,466.68a2.2,2.2 0 1,0 4.4,0a2.2,2.2 0 1,0 -4.4,0M956.8,467.22a2.2,2.2 0 1,0 4.4,0a2.2,2.2 0 1,0 -4.4,0M963,467a2.2,2.2 0 1,0 4.4,0a2.2,2.2 0 1,0 -4.4,0M968.4,466.49a2.2,2.2 0 1,0 4.4,0a2.2,2.2 0 1,0 -4.4,0M974.5,466.4a2.2,2.2 0 1,0 4.4,0a2.2,2.2 0 1,0 -4.4,0M980,467.32a2.2,2.2 0 1,0 4.4,0a2.2,2.2 0 1,0 -4.4,0M985.4,466.75a2.2,2.2 0 1,0 4.4,0a2.2,2.2 0 1,0 -4.4,0M991.5,467a2.2,2.2 0 1,0 4.4,0a2.2,2.2 0 1,0 -4.4,0M997,466.11a2.2,2.2 0 1,0 4.4,0a2.2,2.2 0 1,0 -4.4,0M1003.1,466.44a2.2,2.2 0 1,0 4.4,0a2.2,2.2 0 1,0 -4.4,0M1008.5,467.49a2.2,2.2 0 1,0 4.4,0a2.2,2.2 0 1,0 -4.4,0M1014.7,467.28a2.2,2.2 0 1,0 4.4,0a2.2,2.2 0 1,0 -4.4,0M1020.1,466.95a2.2,2.2 0 1,0 4.4,0a2.2,2.2 0 1,0 -4.4,0M1026.2,466.77a2.2,2.2 0 1,0 4.4,0a2.2,2.2 0 1,0 -4.4,0M1031.7,466.6a2.2,2.2 0 1,0 4.4,0a2.2,2.2 0 1,0 -4.4,0M1037.8,467.39a2.2,2.2 0 1,0 4.4,0a2.2,2.2 0 1,0 -4.4,0M1043.2,467.09a2.2,2.2 0 1,0 4.4,0a2.2,2.2 0 1,0 -4.4,0M1049.4,467.38a2.2,2.2 0 1,0 4.4,0a2.2,2.2 0 1,0 -4.4,0M1054.8,467.14a2.2,2.2 0 1,0 4.4,0a2.2,2.2 0 1,0 -4.4,0M1060.9,466.31a2.2,2.2 0 1,0 4.4,0a2.2,2.2 0 1,0 -4.4,0M1066.4,466.58a2.2,2.2 0 1,0 4.4,0a2.2,2.2 0 1,0 -4.4,0M1071.8,465.48a2.2,2.2 0 1,0 4.4,0a2.2,2.2 0 1,0 -4.4,0M1077.9,466.71a2.2,2.2 0 1,0 4.4,0a2.2,2.2 0 1,0 -4.4,0M1083.4,467.02a2.2,2.2 0 1,0 4.4,0a2.2,2.2 0 1,0 -4.4,0M1089.5,466.88a2.2,2.2 0 1,0 4.4,0a2.2,2.2 0 1,0 -4.4,0M1094.9,467.73a2.2,2.2 0 1,0 4.4,0a2.2,2.2 0 1,0 -4.4,0M1101.1,465.95a2.2,2.2 0 1,0 4.4,0a2.2,2.2 0 1,0 -4.4,0M1106.5,466.92a2.2,2.2 0 1,0 4.4,0a2.2,2.2 0 1,0 -4.4,0M1112.6,467.24a2.2,2.2 0 1,0 4.4,0a2.2,2.2 0 1,0 -4.4,0M1118.1,467.63a2.2,2.2 0 1,0 4.4,0a2.2,2.2 0 1,0 -4.4,0M1124.2,466.67a2.2,2.2 0 1,0 4.4,0a2.2,2.2 0 1,0 -4.4,0M1129.6,467.15a2.2,2.2 0 1,0 4.4,0a2.2,2.2 0 1,0 -4.4,0M1135.9,466.87a2.2,2.2 0 1,0 4.4,0a2.2,2.2 0 1,0 -4.4,0M1142.2,466.61a2.2,2.2 0 1,0 4.4,0a2.2,2.2 0 1,0 -4.4,0M1147.7,467.55a2.2,2.2 0 1,0 4.4,0a2.2,2.2 0 1,0 -4.4,0M1153.9,466.97a2.2,2.2 0 1,0 4.4,0a2.2,2.2 0 1,0 -4.4,0M1159.4,466.92a2.2,2.2 0 1,0 4.4,0a2.2,2.2 0 1,0 -4.4,0M1165.7,466.73a2.2,2.2 0 1,0 4.4,0a2.2,2.2 0 1,0 -4.4,0M1171.1,467.19a2.2,2.2 0 1,0 4.4,0a2.2,2.2 0 1,0 -4.4,0M1177.4,466.78a2.2,2.2 0 1,0 4.4,0a2.2,2.2 0 1,0 -4.4,0M1182.9,466.86a2.2,2.2 0 1,0 4.4,0a2.2,2.2 0 1,0 -4.4,0M1188.4,466.37a2.2,2.2 0 1,0 4.4,0a2.2,2.2 0 1,0 -4.4,0M1194.6,467.11a2.2,2.2 0 1,0 4.4,0a2.2,2.2 0 1,0 -4.4,0M1200.1,466.46a2.2,2.2 0 1,0 4.4,0a2.2,2.2 0 1,0 -4.4,0M1206.4,467.49a2.2,2.2 0 1,0 4.4,0a2.2,2.2 0 1,0 -4.4,0M1211.8,467.24a2.2,2.2 0 1,0 4.4,0a2.2,2.2 0 1,0 -4.4,0M1218.1,466.86a2.2,2.2 0 1,0 4.4,0a2.2,2.2 0 1,0 -4.4,0M1223.6,467.24a2.2,2.2 0 1,0 4.4,0a2.2,2.2 0 1,0 -4.4,0M1229,467.33a2.2,2.2 0 1,0 4.4,0a2.2,2.2 0 1,0 -4.4,0M1234.5,466.17a2.2,2.2 0 1,0 4.4,0a2.2,2.2 0 1,0 -4.4,0M1240.8,466.32a2.2,2.2 0 1,0 4.4,0a2.2,2.2 0 1,0 -4.4,0M1246.3,467a2.2,2.2 0 1,0 4.4,0a2.2,2.2 0 1,0 -4.4,0M1252.5,467.4a2.2,2.2 0 1,0 4.4,0a2.2,2.2 0 1,0 -4.4,0M1258,467.64a2.2,2.2 0 1,0 4.4,0a2.2,2.2 0 1,0 -4.4,0M1263.5,466.16a2.2,2.2 0 1,0 4.4,0a2.2,2.2 0 1,0 -4.4,0M1269.7,467.15a2.2,2.2 0 1,0 4.4,0a2.2,2.2 0 1,0 -4.4,0M1275.2,466.89a2.2,2.2 0 1,0 4.4,0a2.2,2.2 0 1,0 -4.4,0M1281.5,467.15a2.2,2.2 0 1,0 4.4,0a2.2,2.2 0 1,0 -4.4,0M1286.9,467.03a2.2,2.2 0 1,0 4.4,0a2.2,2.2 0 1,0 -4.4,0M1293.2,467.3a2.2,2.2 0 1,0 4.4,0a2.2,2.2 0 1,0 -4.4,0M1298.7,467.03a2.2,2.2 0 1,0 4.4,0a2.2,2.2 0 1,0 -4.4,0M1304.9,466.9a2.2,2.2 0 1,0 4.4,0a2.2,2.2 0 1,0 -4.4,0M1310.4,467.33a2.2,2.2 0 1,0 4.4,0a2.2,2.2 0 1,0 -4.4,0M1316.7,468.01a2.2,2.2 0 1,0 4.4,0a2.2,2.2 0 1,0 -4.4,0M1322.2,467.19a2.2,2.2 0 1,0 4.4,0a2.2,2.2 0 1,0 -4.4,0M1328.4,466.99a2.2,2.2 0 1,0 4.4,0a2.2,2.2 0 1,0 -4.4,0M1333.9,466.95a2.2,2.2 0 1,0 4.4,0a2.2,2.2 0 1,0 -4.4,0M1339.4,466.89a2.2,2.2 0 1,0 4.4,0a2.2,2.2 0 1,0 -4.4,0M1345.7,466.68a2.2,2.2 0 1,0 4.4,0a2.2,2.2 0 1,0 -4.4,0M1351.1,467.05a2.2,2.2 0 1,0 4.4,0a2.2,2.2 0 1,0 -4.4,0M1357.4,467.95a2.2,2.2 0 1,0 4.4,0a2.2,2.2 0 1,0 -4.4,0" fill="#7cffb2" clip-path="url(#lc)"/>
<polyline points="158.6,454.73 164.1,454.9 170.2,453.59 176.3,451.99 182.4,453.16 188.6,454.01 194,453.72 200.1,454.68 206.3,454.18 211.7,454.74 217.1,454.93 222.6,453.46 228.7,454.9 234.1,455.52 240.3,455.77 245.7,455.25 251.8,454.59 257.3,454.4 263.4,454.78 268.8,453.98 275,454.22 280.4,453.35 285.9,454.38 292,453.31 298.1,455.55 303.5,454.68 309.7,454.14 315.1,454.57 321.2,455.35 326.7,453.03 332.8,454.01 338.2,454.96 344.4,454.57 349.8,454.87 355.9,454.66 361.8,454.9 367.9,453.84 373.4,453.89 379.5,454.33 384.9,455.27 391.1,453.85 396.5,455.14 401.9,454.79 408.1,453.77 414.2,454.99 419.6,453.97 425.7,454.99 431.2,455.13 437.3,454.37 443.4,454.69 448.9,453.6 455,454.02 460.4,455.47 466.6,455 472,454.48 478.1,455.43 483.6,454.4 489.7,453.47 495.8,453.67 501.3,454.17 507.4,454.6 513.5,454.44 518.9,454.86 525.1,455.12 531.2,453.03 536.6,453.72 542.8,454.86 548.2,454.54 554.1,455.13 560.2,454.95 566.3,453.87 571.8,451.22 577.9,453.63 583.3,454.42 589.5,453.23 595.6,454.53 601,453.22 607.1,453.86 612.6,455.55 618.7,453.62 624.8,453.61 630.3,454.96 636.4,453.15 641.8,454.71 648,455.24 654.1,454.5 660.2,453.93 665.6,453.95 671.8,453.85 677.2,454.1 683.3,455.33 688.8,455.25 694.9,454.89 701,454.27 706.5,454.38 712.6,453.26 718,453.91 724.1,452.94 730.3,454.9 735.7,454.81 741.8,454.43 749.1,454.39 754.5,453.9 760.6,452.69 766.8,453.08 772.9,454.24 778.3,452.89 784.5,454.48 790.6,453.7 796.7,455.29 802.1,455.06 808.3,452.61 814.4,453.55 819.8,453.32 826,454.84 831.4,453.88 837.5,454.2 843,455.67 849.1,452.88 854.5,453.15 860.6,454.66 866.1,453.54 872.2,455.33 877.7,454.8 883.8,456.16 889.2,453.73 895.3,454.05 900.8,452.78 906.9,451.77 913,453.22 918.5,454.65 924.6,455.03 930,454.95 936.2,453.24 942,453.62 947.5,454.14 953.6,452.44 959,453.63 965.2,454.28 970.6,453.28 976.7,454.55 982.2,454.54 987.6,453.43 993.7,454.14 999.2,451.99 1005.3,453.69 1010.7,453.92 1016.9,454.74 1022.3,454.25 1028.4,454.74 1033.9,453.88 1040,455.45 1045.4,453.85 1051.6,455.13 1057,454.25 1063.1,452.93 1068.6,453.21 1074,451.17 1080.1,454.09 1085.6,454.46 1091.7,454.47 1097.1,454.7 1103.3,451.92 1108.7,453.59 1114.8,454.83 1120.3,454.31 1126.4,454.26 1131.8,454.35 1138.1,454.53 1144.4,452.98 1149.9,454.89 1156.1,454.28 1161.6,454.54 1167.9,454.14 1173.3,454.98 1179.6,455.85 1185.1,453.97 1190.6,453.78 1196.8,455.32 1202.3,452.85 1208.6,455.24 1214,454.54 1220.3,454.74 1225.8,455.2 1231.2,455.15 1236.7,453.6 1243,453.66 1248.5,454.26 1254.7,454.48 1260.2,454.65 1265.7,451.64 1271.9,454.6 1277.4,454.79 1283.7,454.56 1289.1,453.94 1295.4,453.83 1300.9,454.92 1307.1,453.96 1312.6,454.45 1318.9,455.05 1324.4,454.75 1330.6,454.88 1336.1,454.58 1341.6,454.48 1347.9,454.35 1353.3,454.44 1359.6,455.61" fill="none" stroke="#fddd60" stroke-width="2" stroke-linejoin="bevel" clip-path="url(#lc)"/>
<path d="M161.9,454.9a2.2,2.2 0 1,0 4.4,0a2.2,2.2 0 1,0 -4.4,0M168,453.59a2.2,2.2 0 1,0 4.4,0a2.2,2.2 0 1,0 -4.4,0M174.1,451.99a2.2,2.2 0 1,0 4.4,0a2.2,2.2 0 1,0 -4.4,0M180.2,453.16a2.2,2.2 0 1,0 4.4,0a2.2,2.2 0 1,0 -4.4,0M186.4,454.01a2.2,2.2 0 1,0 4.4,0a2.2,2.2 0 1,0 -4.4,0M191.8,453.72a2.2,2.2 0 1,0 4.4,0a2.2,2.2 0 1,0 -4.4,0M197.9,454.68a2.2,2.2 0 1,0 4.4,0a2.2,2.2 0 1,0 -4.4,0M204.1,454.18a2.2,2.2 0 1,0 4.4,0a2.2,2.2 0 1,0 -4.4,0M209.5,454.74a2.2,2.2 0 1,0 4.4,0a2.2,2.2 0 1,0 -4.4,0M214.9,454.93a2.2,2.2 0 1,0 4.4,0a2.2,2.2 0 1,0 -4.4,0M220.4,453.46a2.2,2.2 0 1,0 4.4,0a2.2,2.2 0 1,0 -4.4,0M226.5,454.9a2.2,2.2 0 1,0 4.4,0a2.2,2.2 0 1,0 -4.4,0M231.9,455.52a2.2,2.2 0 1,0 4.4,0a2.2,2.2 0 1,0 -4.4,0M238.1,455.77a2.2,2.2 0 1,0 4.4,0a2.2,2.2 0 1,0 -4.4,0M243.5,455.25a2.2,2.2 0 1,0 4.4,0a2.2,2.2 0 1,0 -4.4,0M249.6,454.59a2.2,2.2 0 1,0 4.4,0a2.2,2.2 0 1,0 -4.4,0M255.1,454.4a2.2,2.2 0 1,0 4.4,0a2.2,2.2 0 1,0 -4.4,0M261.2,454.78a2.2,2.2 0 1,0 4.4,0a2.2,2.2 0 1,0 -4.4,0M266.6,453.98a2.2,2.2 0 1,0 4.4,0a2.2,2.2 0 1,0 -4.4,0M272.8,454.22a2.2,2.2 0 1,0 4.4,0a2.2,2.2 0 1,0 -4.4,0M278.2,453.35a2.2,2.2 0 1,0 4.4,0a2.2,2.2 0 1,0 -4.4,0M283.7,454.38a2.2,2.2 0 1,0 4.4,0a2.2,2.2 0 1,0 -4.4,0M289.8,453.31a2.2,2.2 0 1,0 4.4,0a2.2,2.2 0 1,0 -4.4,0M295.9,455.55a2.2,2.2 0 1,0 4.4,0a2.2,2.2 0 1,0 -4.4,0M301.3,454.68a2.2,2.2 0 1,0 4.4,0a2.2,2.2 0 1,0 -4.4,0M307.5,454.14a2.2,2.2 0 1,0 4.4,0a2.2,2.2 0 1,0 -4.4,0M312.9,454.57a2.2,2.2 0 1,0 4.4,0a2.2,2.2 0 1,0 -4.4,0M319,455.35a2.2,2.2 0 1,0 4.4,0a2.2,2.2 0 1,0 -4.4,0M324.5,453.03a2.2,2.2 0 1,0 4.4,0a2.2,2.2 0 1,0 -4.4,0M330.6,454.01a2.2,2.2 0 1,0 4.4,0a2.2,2.2 0 1,0 -4.4,0M336,454.96a2.2,2.2 0 1,0 4.4,0a2.2,2.2 0 1,0 -4.4,0M342.2,454.57a2.2,2.2 0 1,0 4.4,0a2.2,2.2 0 1,0 -4.4,0M347.6,454.87a2.2,2.2 0 1,0 4.4,0a2.2,2.2 0 1,0 -4.4,0M353.7,454.66a2.2,2.2 0 1,0 4.4,0a2.2,2.2 0 1,0 -4.4,0M359.6,454.9a2.2,2.2 0 1,0 4.4,0a2.2,2.2 0 1,0 -4.4,0M365.7,453.84a2.2,2.2 0 1,0 4.4,0a2.2,2.2 0 1,0 -4.4,0M371.2,453.89a2.2,2.2 0 1,0 4.4,0a2.2,2.2 0 1,0 -4.4,0M377.3,454.33a2.2,2.2 0 1,0 4.4,0a2.2,2.2 0 1,0 -4.4,0M382.7,455.27a2.2,2.2 0 1,0 4.4,0a2.2,2.2 0 1,0 -4.4,0M388.9,453.85a2.2,2.2 0 1,0 4.4,0a2.2,2.2 0 1,0 -4.4,0M394.3,455.14a2.2,2.2 0 1,0 4.4,0a2.2,2.2 0 1,0 -4.4,0M399.7,454.79a2.2,2.2 0 1,0 4.4,0a2.2,2.2 0 1,0 -4.4,0M405.9,453.77a2.2,2.2 0 1,0 4.4,0a2.2,2.2 0 1,0 -4.4,0M412,454.99a2.2,2.2 0 1,0 4.4,0a2.2,2.2 0 1,0 -4.4,0M417.4,453.97a2.2,2.2 0 1,0 4.4,0a2.2,2.2 0 1,0 -4.4,0M423.5,454.99a2.2,2.2 0 1,0 4.4,0a2.2,2.2 0 1,0 -4.4,0M429,455.13a2.2,2.2 0 1,0 4.4,0a2.2,2.2 0 1,0 -4.4,0M435.1,454.37a2.2,2.2 0 1,0 4.4,0a2.2,2.2 0 1,0 -4.4,0M441.2,454.69a2.2,2.2 0 1,0 4.4,0a2.2,2.2 0 1,0 -4.4,0M446.7,453.6a2.2,2.2 0 1,0 4.4,0a2.2,2.2 0 1,0 -4.4,0M452.8,454.02a2.2,2.2 0 1,0 4.4,0a2.2,2.2 0 1,0 -4.4,0M458.2,455.47a2.2,2.2 0 1,0 4.4,0a2.2,2.2 0 1,0 -4.4,0M464.4,455a2.2,2.2 0 1,0 4.4,0a2.2,2.2 0 1,0 -4.4,0M469.8,454.48a2.2,2.2 0 1,0 4.4,0a2.2,2.2 0 1,0 -4.4,0M475.9,455.43a2.2,2.2 0 1,0 4.4,0a2.2,2.2 0 1,0 -4.4,0M481.4,454.4a2.2,2.2 0 1,0 4.4,0a2.2,2.2 0 1,0 -4.4,0M487.5,453.47a2.2,2.2 0 1,0 4.4,0a2.2,2.2 0 1,0 -4.4,0M493.6,453.67a2.2,2.2 0 1,0 4.4,0a2.2,2.2 0 1,0 -4.4,0M499.1,454.17a2.2,2.2 0 1,0 4.4,0a2.2,2.2 0 1,0 -4.4,0M505.2,454.6a2.2,2.2 0 1,0 4.4,0a2.2,2.2 0 1,0 -4.4,0M511.3,454.44a2.2,2.2 0 1,0 4.4,0a2.2,2.2 0 1,0 -4.4,0M516.7,454.86a2.2,2.2 0 1,0 4.4,0a2.2,2.2 0 1,0 -4.4,0M522.9,455.12a2.2,2.2 0 1,0 4.4,0a2.2,2.2 0 1,0 -4.4,0M529,453.03a2.2,2.2 0 1,0 4.4,0a2.2,2.2 0 1,0 -4.4,0M534.4,453.72a2.2,2.2 0 1,0 4.4,0a2.2,2.2 0 1,0 -4.4,0M540.6,454.86a2.2,2.2 0 1,0 4.4,0a2.2,2.2 0 1,0 -4.4,0M546,454.54a2.2,2.2 0 1,0 4.4,0a2.2,2.2 0 1,0 -4.4,0M551.9,455.13a2.2,2.2 0 1,0 4.4,0a2.2,2.2 0 1,0 -4.4,0M558,454.95a2.2,2.2 0 1,0 4.4,0a2.2,2.2 0 1,0 -4.4,0M564.1,453.87a2.2,2.2 0 1,0 4.4,0a2.2,2.2 0 1,0 -4.4,0M569.6,451.22a2.2,2.2 0 1,0 4.4,0a2.2,2.2 0 1,0 -4.4,0M575.7,453.63a2.2,2.2 0 1,0 4.4,0a2.2,2.2 0 1,0 -4.4,0M581.1,454.42a2.2,2.2 0 1,0 4.4,0a2.2,2.2 0 1,0 -4.4,0M587.3,453.23a2.2,2.2 0 1,0 4.4,0a2.2,2.2 0 1,0 -4.4,0M593.4,454.53a2.2,2.2 0 1,0 4.4,0a2.2,2.2 0 1,0 -4.4,0M598.8,453.22a2.2,2.2 0 1,0 4.4,0a2.2,2.2 0 1,0 -4.4,0M604.9,453.86a2.2,2.2 0 1,0 4.4,0a2.2,2.2 0 1,0 -4.4,0M610.4,455.55a2.2,2.2 0 1,0 4.4,0a2.2,2.2 0 1,0 -4.4,0M616.5,453.62a2.2,2.2 0 1,0 4.4,0a2.2,2.2 0 1,0 -4.4,0M622.6,453.61a2.2,2.2 0 1,0 4.4,0a2.2,2.2 0 1,0 -4.4,0M628.1,454.96a2.2,2.2 0 1,0 4.4,0a2.2,2.2 0 1,0 -4.4,0M634.2,453.15a2.2,2.2 0 1,0 4.4,0a2.2,2.2 0 1,0 -4.4,0M639.6,454.71a2.2,2.2 0 1,0 4.4,0a2.2,2.2 0 1,0 -4.4,0M645.8,455.24a2.2,2.2 0 1,0 4.4,0a2.2,2.2 0 1,0 -4.4,0M651.9,454.5a2.2,2.2 0 1,0 4.4,0a2.2,2.2 0 1,0 -4.4,0M658,453.93a2.2,2.2 0 1,0 4.4,0a2.2,2.2 0 1,0 -4.4,0M663.4,453.95a2.2,2.2 0 1,0 4.4,0a2.2,2.2 0 1,0 -4.4,0M669.6,453.85a2.2,2.2 0 1,0 4.4,0a2.2,2.2 0 1,0 -4.4,0M675,454.1a2.2,2.2 0 1,0 4.4,0a2.2,2.2 0 1,0 -4.4,0M681.1,455.33a2.2,2.2 0 1,0 4.4,0a2.2,2.2 0 1,0 -4.4,0M686.6,455.25a2.2,2.2 0 1,0 4.4,0a2.2,2.2 0 1,0 -4.4,0M692.7,454.89a2.2,2.2 0 1,0 4.4,0a2.2,2.2 0 1,0 -4.4,0M698.8,454.27a2.2,2.2 0 1,0 4.4,0a2.2,2.2 0 1,0 -4.4,0M704.3,454.38a2.2,2.2 0 1,0 4.4,0a2.2,2.2 0 1,0 -4.4,0M710.4,453.26a2.2,2.2 0 1,0 4.4,0a2.2,2.2 0 1,0 -4.4,0M715.8,453.91a2.2,2.2 0 1,0 4.4,0a2.2,2.2 0 1,0 -4.4,0M721.9,452.94a2.2,2.2 0 1,0 4.4,0a2.2,2.2 0 1,0 -4.4,0M728.1,454.9a2.2,2.2 0 1,0 4.4,0a2.2,2.2 0 1,0 -4.4,0M733.5,454.81a2.2,2.2 0 1,0 4.4,0a2.2,2.2 0 1,0 -4.4,0M739.6,454.43a2.2,2.2 0 1,0 4.4,0a2.2,2.2 0 1,0 -4.4,0M746.9,454.39a2.2,2.2 0 1,0 4.4,0a2.2,2.2 0 1,0 -4.4,0M752.3,453.9a2.2,2.2 0 1,0 4.4,0a2.2,2.2 0 1,0 -4.4,0M758.4,452.69a2.2,2.2 0 1,0 4.4,0a2.2,2.2 0 1,0 -4.4,0M764.6,453.08a2.2,2.2 0 1,0 4.4,0a2.2,2.2 0 1,0 -4.4,0M770.7,454.24a2.2,2.2 0 1,0 4.4,0a2.2,2.2 0 1,0 -4.4,0M776.1,452.89a2.2,2.2 0 1,0 4.4,0a2.2,2.2 0 1,0 -4.4,0M782.3,454.48a2.2,2.2 0 1,0 4.4,0a2.2,2.2 0 1,0 -4.4,0M788.4,453.7a2.2,2.2 0 1,0 4.4,0a2.2,2.2 0 1,0 -4.4,0M794.5,455.29a2.2,2.2 0 1,0 4.4,0a2.2,2.2 0 1,0 -4.4,0M799.9,455.06a2.2,2.2 0 1,0 4.4,0a2.2,2.2 0 1,0 -4.4,0M806.1,452.61a2.2,2.2 0 1,0 4.4,0a2.2,2.2 0 1,0 -4.4,0M812.2,453.55a2.2,2.2 0 1,0 4.4,0a2.2,2.2 0 1,0 -4.4,0M817.6,453.32a2.2,2.2 0 1,0 4.4,0a2.2,2.2 0 1,0 -4.4,0M823.8,454.84a2.2,2.2 0 1,0 4.4,0a2.2,2.2 0 1,0 -4.4,0M829.2,453.88a2.2,2.2 0 1,0 4.4,0a2.2,2.2 0 1,0 -4.4,0M835.3,454.2a2.2,2.2 0 1,0 4.4,0a2.2,2.2 0 1,0 -4.4,0M840.8,455.67a2.2,2.2 0 1,0 4.4,0a2.2,2.2 0 1,0 -4.4,0M846.9,452.88a2.2,2.2 0 1,0 4.4,0a2.2,2.2 0 1,0 -4.4,0M852.3,453.15a2.2,2.2 0 1,0 4.4,0a2.2,2.2 0 1,0 -4.4,0M858.4,454.66a2.2,2.2 0 1,0 4.4,0a2.2,2.2 0 1,0 -4.4,0M863.9,453.54a2.2,2.2 0 1,0 4.4,0a2.2,2.2 0 1,0 -4.4,0M870,455.33a2.2,2.2 0 1,0 4.4,0a2.2,2.2 0 1,0 -4.4,0M875.5,454.8a2.2,2.2 0 1,0 4.4,0a2.2,2.2 0 1,0 -4.4,0M881.6,456.16a2.2,2.2 0 1,0 4.4,0a2.2,2.2 0 1,0 -4.4,0M887,453.73a2.2,2.2 0 1,0 4.4,0a2.2,2.2 0 1,0 -4.4,0M893.1,454.05a2.2,2.2 0 1,0 4.4,0a2.2,2.2 0 1,0 -4.4,0M898.6,452.78a2.2,2.2 0 1,0 4.4,0a2.2,2.2 0 1,0 -4.4,0M904.7,451.77a2.2,2.2 0 1,0 4.4,0a2.2,2.2 0 1,0 -4.4,0M910.8,453.22a2.2,2.2 0 1,0 4.4,0a2.2,2.2 0 1,0 -4.4,0M916.3,454.65a2.2,2.2 0 1,0 4.4,0a2.2,2.2 0 1,0 -4.4,0M922.4,455.03a2.2,2.2 0 1,0 4.4,0a2.2,2.2 0 1,0 -4.4,0M927.8,454.95a2.2,2.2 0 1,0 4.4,0a2.2,2.2 0 1,0 -4.4,0M934,453.24a2.2,2.2 0 1,0 4.4,0a2.2,2.2 0 1,0 -4.4,0M939.8,453.62a2.2,2.2 0 1,0 4.4,0a2.2,2.2 0 1,0 -4.4,0M945.3,454.14a2.2,2.2 0 1,0 4.4,0a2.2,2.2 0 1,0 -4.4,0M951.4,452.44a2.2,2.2 0 1,0 4.4,0a2.2,2.2 0 1,0 -4.4,0M956.8,453.63a2.2,2.2 0 1,0 4.4,0a2.2,2.2 0 1,0 -4.4,0M963,454.28a2.2,2.2 0 1,0 4.4,0a2.2,2.2 0 1,0 -4.4,0M968.4,453.28a2.2,2.2 0 1,0 4.4,0a2.2,2.2 0 1,0 -4.4,0M974.5,454.55a2.2,2.2 0 1,0 4.4,0a2.2,2.2 0 1,0 -4.4,0M980,454.54a2.2,2.2 0 1,0 4.4,0a2.2,2.2 0 1,0 -4.4,0M985.4,453.43a2.2,2.2 0 1,0 4.4,0a2.2,2.2 0 1,0 -4.4,0M991.5,454.14a2.2,2.2 0 1,0 4.4,0a2.2,2.2 0 1,0 -4.4,0M997,451.99a2.2,2.2 0 1,0 4.4,0a2.2,2.2 0 1,0 -4.4,0M1003.1,453.69a2.2,2.2 0 1,0 4.4,0a2.2,2.2 0 1,0 -4.4,0M1008.5,453.92a2.2,2.2 0 1,0 4.4,0a2.2,2.2 0 1,0 -4.4,0M1014.7,454.74a2.2,2.2 0 1,0 4.4,0a2.2,2.2 0 1,0 -4.4,0M1020.1,454.25a2.2,2.2 0 1,0 4.4,0a2.2,2.2 0 1,0 -4.4,0M1026.2,454.74a2.2,2.2 0 1,0 4.4,0a2.2,2.2 0 1,0 -4.4,0M1031.7,453.88a2.2,2.2 0 1,0 4.4,0a2.2,2.2 0 1,0 -4.4,0M1037.8,455.45a2.2,2.2 0 1,0 4.4,0a2.2,2.2 0 1,0 -4.4,0M1043.2,453.85a2.2,2.2 0 1,0 4.4,0a2.2,2.2 0 1,0 -4.4,0M1049.4,455.13a2.2,2.2 0 1,0 4.4,0a2.2,2.2 0 1,0 -4.4,0M1054.8,454.25a2.2,2.2 0 1,0 4.4,0a2.2,2.2 0 1,0 -4.4,0M1060.9,452.93a2.2,2.2 0 1,0 4.4,0a2.2,2.2 0 1,0 -4.4,0M1066.4,453.21a2.2,2.2 0 1,0 4.4,0a2.2,2.2 0 1,0 -4.4,0M1071.8,451.17a2.2,2.2 0 1,0 4.4,0a2.2,2.2 0 1,0 -4.4,0M1077.9,454.09a2.2,2.2 0 1,0 4.4,0a2.2,2.2 0 1,0 -4.4,0M1083.4,454.46a2.2,2.2 0 1,0 4.4,0a2.2,2.2 0 1,0 -4.4,0M1089.5,454.47a2.2,2.2 0 1,0 4.4,0a2.2,2.2 0 1,0 -4.4,0M1094.9,454.7a2.2,2.2 0 1,0 4.4,0a2.2,2.2 0 1,0 -4.4,0M1101.1,451.92a2.2,2.2 0 1,0 4.4,0a2.2,2.2 0 1,0 -4.4,0M1106.5,453.59a2.2,2.2 0 1,0 4.4,0a2.2,2.2 0 1,0 -4.4,0M1112.6,454.83a2.2,2.2 0 1,0 4.4,0a2.2,2.2 0 1,0 -4.4,0M1118.1,454.31a2.2,2.2 0 1,0 4.4,0a2.2,2.2 0 1,0 -4.4,0M1124.2,454.26a2.2,2.2 0 1,0 4.4,0a2.2,2.2 0 1,0 -4.4,0M1129.6,454.35a2.2,2.2 0 1,0 4.4,0a2.2,2.2 0 1,0 -4.4,0M1135.9,454.53a2.2,2.2 0 1,0 4.4,0a2.2,2.2 0 1,0 -4.4,0M1142.2,452.98a2.2,2.2 0 1,0 4.4,0a2.2,2.2 0 1,0 -4.4,0M1147.7,454.89a2.2,2.2 0 1,0 4.4,0a2.2,2.2 0 1,0 -4.4,0M1153.9,454.28a2.2,2.2 0 1,0 4.4,0a2.2,2.2 0 1,0 -4.4,0M1159.4,454.54a2.2,2.2 0 1,0 4.4,0a2.2,2.2 0 1,0 -4.4,0M1165.7,454.14a2.2,2.2 0 1,0 4.4,0a2.2,2.2 0 1,0 -4.4,0M1171.1,454.98a2.2,2.2 0 1,0 4.4,0a2.2,2.2 0 1,0 -4.4,0M1177.4,455.85a2.2,2.2 0 1,0 4.4,0a2.2,2.2 0 1,0 -4.4,0M1182.9,453.97a2.2,2.2 0 1,0 4.4,0a2.2,2.2 0 1,0 -4.4,0M1188.4,453.78a2.2,2.2 0 1,0 4.4,0a2.2,2.2 0 1,0 -4.4,0M1194.6,455.32a2.2,2.2 0 1,0 4.4,0a2.2,2.2 0 1,0 -4.4,0M1200.1,452.85a2.2,2.2 0 1,0 4.4,0a2.2,2.2 0 1,0 -4.4,0M1206.4,455.24a2.2,2.2 0 1,0 4.4,0a2.2,2.2 0 1,0 -4.4,0M1211.8,454.54a2.2,2.2 0 1,0 4.4,0a2.2,2.2 0 1,0 -4.4,0M1218.1,454.74a2.2,2.2 0 1,0 4.4,0a2.2,2.2 0 1,0 -4.4,0M1223.6,455.2a2.2,2.2 0 1,0 4.4,0a2.2,2.2 0 1,0 -4.4,0M1229,455.15a2.2,2.2 0 1,0 4.4,0a2.2,2.2 0 1,0 -4.4,0M1234.5,453.6a2.2,2.2 0 1,0 4.4,0a2.2,2.2 0 1,0 -4.4,0M1240.8,453.66a2.2,2.2 0 1,0 4.4,0a2.2,2.2 0 1,0 -4.4,0M1246.3,454.26a2.2,2.2 0 1,0 4.4,0a2.2,2.2 0 1,0 -4.4,0M1252.5,454.48a2.2,2.2 0 1,0 4.4,0a2.2,2.2 0 1,0 -4.4,0M1258,454.65a2.2,2.2 0 1,0 4.4,0a2.2,2.2 0 1,0 -4.4,0M1263.5,451.64a2.2,2.2 0 1,0 4.4,0a2.2,2.2 0 1,0 -4.4,0M1269.7,454.6a2.2,2.2 0 1,0 4.4,0a2.2,2.2 0 1,0 -4.4,0M1275.2,454.79a2.2,2.2 0 1,0 4.4,0a2.2,2.2 0 1,0 -4.4,0M1281.5,454.56a2.2,2.2 0 1,0 4.4,0a2.2,2.2 0 1,0 -4.4,0M1286.9,453.94a2.2,2.2 0 1,0 4.4,0a2.2,2.2 0 1,0 -4.4,0M1293.2,453.83a2.2,2.2 0 1,0 4.4,0a2.2,2.2 0 1,0 -4.4,0M1298.7,454.92a2.2,2.2 0 1,0 4.4,0a2.2,2.2 0 1,0 -4.4,0M1304.9,453.96a2.2,2.2 0 1,0 4.4,0a2.2,2.2 0 1,0 -4.4,0M1310.4,454.45a2.2,2.2 0 1,0 4.4,0a2.2,2.2 0 1,0 -4.4,0M1316.7,455.05a2.2,2.2 0 1,0 4.4,0a2.2,2.2 0 1,0 -4.4,0M1322.2,454.75a2.2,2.2 0 1,0 4.4,0a2.2,2.2 0 1,0 -4.4,0M1328.4,454.88a2.2,2.2 0 1,0 4.4,0a2.2,2.2 0 1,0 -4.4,0M1333.9,454.58a2.2,2.2 0 1,0 4.4,0a2.2,2.2 0 1,0 -4.4,0M1339.4,454.48a2.2,2.2 0 1,0 4.4,0a2.2,2.2 0 1,0 -4.4,0M1345.7,454.35a2.2,2.2 0 1,0 4.4,0a2.2,2.2 0 1,0 -4.4,0M1351.1,454.44a2.2,2.2 0 1,0 4.4,0a2.2,2.2 0 1,0 -4.4,0M1357.4,455.61a2.2,2.2 0 1,0 4.4,0a2.2,2.2 0 1,0 -4.4,0" fill="#fddd60" clip-path="url(#lc)"/>
<polyline points="158.6,452.89 164.1,452.82 170.2,452.02 176.3,449.78 182.4,451.76 188.6,452.18 194,451.48 200.1,452.88 206.3,453.38 211.7,453.27 217.1,453.99 222.6,452.08 228.7,453.76 234.1,453.62 240.3,454.46 245.7,454.3 251.8,452.59 257.3,452 263.4,453.65 268.8,452.53 275,453.23 280.4,450.93 285.9,453.23 292,451.55 298.1,453.64 303.5,452.07 309.7,451.71 315.1,453.49 321.2,452.68 326.7,450.88 332.8,453.21 338.2,453.57 344.4,453.08 349.8,454.04 355.9,453.43 361.8,452.68 367.9,452.36 373.4,451.94 379.5,452.64 384.9,453.42 391.1,452.61 396.5,453.03 401.9,453.94 408.1,452.59 414.2,454.02 419.6,452.98 425.7,454.19 431.2,452.33 437.3,453.38 443.4,453.38 448.9,452.53 455,452.94 460.4,454.67 466.6,453.27 472,453.51 478.1,454.23 483.6,453.6 489.7,451.31 495.8,452.87 501.3,452.72 507.4,452.17 513.5,452.27 518.9,453.17 525.1,453.93 531.2,451.69 536.6,452.3 542.8,453.85 548.2,452.62 554.1,452.8 560.2,453.4 566.3,452.68 571.8,449.44 577.9,450.77 583.3,451.86 589.5,452.43 595.6,452.75 601,450.57 607.1,452.36 612.6,453.78 618.7,451.81 624.8,452.03 630.3,452.43 636.4,451.08 641.8,453.9 648,453.49 654.1,453.7 660.2,451.49 665.6,452.7 671.8,452.08 677.2,452.66 683.3,454.22 688.8,453.72 694.9,453.66 701,452.38 706.5,452.93 712.6,451.87 718,452.39 724.1,451.58 730.3,453.34 735.7,453.09 741.8,453.42 749.1,451.86 754.5,452.58 760.6,451.22 766.8,451.94 772.9,452.33 778.3,451.18 784.5,452.62 790.6,452.15 796.7,453.74 802.1,454.13 808.3,450.77 814.4,451.3 819.8,450.45 826,453.44 831.4,452.79 837.5,452.47 843,454.06 849.1,450.54 854.5,451.19 860.6,453.86 866.1,451.77 872.2,453.18 877.7,452.27 883.8,454.74 889.2,451.85 895.3,452.49 900.8,450.94 906.9,449.2 913,451.49 918.5,453.55 924.6,453.26 930,453.36 936.2,451.12 942,451.98 947.5,453.32 953.6,450.88 959,452.12 965.2,453.48 970.6,450.6 976.7,452.66 982.2,452.85 987.6,452.28 993.7,453.34 999.2,450.4 1005.3,450.66 1010.7,453.12 1016.9,453.39 1022.3,451.77 1028.4,452.94 1033.9,452.56 1040,454.11 1045.4,452.74 1051.6,453.74 1057,452.13 1063.1,451.48 1068.6,451.66 1074,448.34 1080.1,451.93 1085.6,452.19 1091.7,453.46 1097.1,453.64 1103.3,450.17 1108.7,451.62 1114.8,453.19 1120.3,453.14 1126.4,452.84 1131.8,452.64 1138.1,452.84 1144.4,451.23 1149.9,453.35 1156.1,453.48 1161.6,452.83 1167.9,452.62 1173.3,453 1179.6,453.11 1185.1,452.03 1190.6,451.19 1196.8,453.99 1202.3,451.15 1208.6,453.16 1214,453.74 1220.3,451.92 1225.8,453.57 1231.2,453.74 1236.7,452.41 1243,451.1 1248.5,452.13 1254.7,452.26 1260.2,453.43 1265.7,449.92 1271.9,452.74 1277.4,453.47 1283.7,452.7 1289.1,452.11 1295.4,452.47 1300.9,453.18 1307.1,451.83 1312.6,452.72 1318.9,454.25 1324.4,453.18 1330.6,451.87 1336.1,452.23 1341.6,452.67 1347.9,452.16 1353.3,452.07 1359.6,454.68" fill="none" stroke="#ff6e76" stroke-width="2" stroke-linejoin="bevel" clip-path="url(#lc)"/>
<path d="M161.9,452.82a2.2,2.2 0 1,0 4.4,0a2.2,2.2 0 1,0 -4.4,0M168,452.02a2.2,2.2 0 1,0 4.4,0a2.2,2.2 0 1,0 -4.4,0M174.1,449.78a2.2,2.2 0 1,0 4.4,0a2.2,2.2 0 1,0 -4.4,0M180.2,451.76a2.2,2.2 0 1,0 4.4,0a2.2,2.2 0 1,0 -4.4,0M186.4,452.18a2.2,2.2 0 1,0 4.4,0a2.2,2.2 0 1,0 -4.4,0M191.8,451.48a2.2,2.2 0 1,0 4.4,0a2.2,2.2 0 1,0 -4.4,0M197.9,452.88a2.2,2.2 0 1,0 4.4,0a2.2,2.2 0 1,0 -4.4,0M204.1,453.38a2.2,2.2 0 1,0 4.4,0a2.2,2.2 0 1,0 -4.4,0M209.5,453.27a2.2,2.2 0 1,0 4.4,0a2.2,2.2 0 1,0 -4.4,0M214.9,453.99a2.2,2.2 0 1,0 4.4,0a2.2,2.2 0 1,0 -4.4,0M220.4,452.08a2.2,2.2 0 1,0 4.4,0a2.2,2.2 0 1,0 -4.4,0M226.5,453.76a2.2,2.2 0 1,0 4.4,0a2.2,2.2 0 1,0 -4.4,0M231.9,453.62a2.2,2.2 0 1,0 4.4,0a2.2,2.2 0 1,0 -4.4,0M238.1,454.46a2.2,2.2 0 1,0 4.4,0a2.2,2.2 0 1,0 -4.4,0M243.5,454.3a2.2,2.2 0 1,0 4.4,0a2.2,2.2 0 1,0 -4.4,0M249.6,452.59a2.2,2.2 0 1,0 4.4,0a2.2,2.2 0 1,0 -4.4,0M255.1,452a2.2,2.2 0 1,0 4.4,0a2.2,2.2 0 1,0 -4.4,0M261.2,453.65a2.2,2.2 0 1,0 4.4,0a2.2,2.2 0 1,0 -4.4,0M266.6,452.53a2.2,2.2 0 1,0 4.4,0a2.2,2.2 0 1,0 -4.4,0M272.8,453.23a2.2,2.2 0 1,0 4.4,0a2.2,2.2 0 1,0 -4.4,0M278.2,450.93a2.2,2.2 0 1,0 4.4,0a2.2,2.2 0 1,0 -4.4,0M283.7,453.23a2.2,2.2 0 1,0 4.4,0a2.2,2.2 0 1,0 -4.4,0M289.8,451.55a2.2,2.2 0 1,0 4.4,0a2.2,2.2 0 1,0 -4.4,0M295.9,453.64a2.2,2.2 0 1,0 4.4,0a2.2,2.2 0 1,0 -4.4,0M301.3,452.07a2.2,2.2 0 1,0 4.4,0a2.2,2.2 0 1,0 -4.4,0M307.5,451.71a2.2,2.2 0 1,0 4.4,0a2.2,2.2 0 1,0 -4.4,0M312.9,453.49a2.2,2.2 0 1,0 4.4,0a2.2,2.2 0 1,0 -4.4,0M319,452.68a2.2,2.2 0 1,0 4.4,0a2.2,2.2 0 1,0 -4.4,0M324.5,450.88a2.2,2.2 0 1,0 4.4,0a2.2,2.2 0 1,0 -4.4,0M330.6,453.21a2.2,2.2 0 1,0 4.4,0a2.2,2.2 0 1,0 -4.4,0M336,453.57a2.2,2.2 0 1,0 4.4,0a2.2,2.2 0 1,0 -4.4,0M342.2,453.08a2.2,2.2 0 1,0 4.4,0a2.2,2.2 0 1,0 -4.4,0M347.6,454.04a2.2,2.2 0 1,0 4.4,0a2.2,2.2 0 1,0 -4.4,0M353.7,453.43a2.2,2.2 0 1,0 4.4,0a2.2,2.2 0 1,0 -4.4,0M359.6,452.68a2.2,2.2 0 1,0 4.4,0a2.2,2.2 0 1,0 -4.4,0M365.7,452.36a2.2,2.2 0 1,0 4.4,0a2.2,2.2 0 1,0 -4.4,0M371.2,451.94a2.2,2.2 0 1,0 4.4,0a2.2,2.2 0 1,0 -4.4,0M377.3,452.64a2.2,2.2 0 1,0 4.4,0a2.2,2.2 0 1,0 -4.4,0M382.7,453.42a2.2,2.2 0 1,0 4.4,0a2.2,2.2 0 1,0 -4.4,0M388.9,452.61a2.2,2.2 0 1,0 4.4,0a2.2,2.2 0 1,0 -4.4,0M394.3,453.03a2.2,2.2 0 1,0 4.4,0a2.2,2.2 0 1,0 -4.4,0M399.7,453.94a2.2,2.2 0 1,0 4.4,0a2.2,2.2 0 1,0 -4.4,0M405.9,452.59a2.2,2.2 0 1,0 4.4,0a2.2,2.2 0 1,0 -4.4,0M412,454.02a2.2,2.2 0 1,0 4.4,0a2.2,2.2 0 1,0 -4.4,0M417.4,452.98a2.2,2.2 0 1,0 4.4,0a2.2,2.2 0 1,0 -4.4,0M423.5,454.19a2.2,2.2 0 1,0 4.4,0a2.2,2.2 0 1,0 -4.4,0M429,452.33a2.2,2.2 0 1,0 4.4,0a2.2,2.2 0 1,0 -4.4,0M435.1,453.38a2.2,2.2 0 1,0 4.4,0a2.2,2.2 0 1,0 -4.4,0M441.2,453.38a2.2,2.2 0 1,0 4.4,0a2.2,2.2 0 1,0 -4.4,0M446.7,452.53a2.2,2.2 0 1,0 4.4,0a2.2,2.2 0 1,0 -4.4,0M452.8,452.94a2.2,2.2 0 1,0 4.4,0a2.2,2.2 0 1,0 -4.4,0M458.2,454.67a2.2,2.2 0 1,0 4.4,0a2.2,2.2 0 1,0 -4.4,0M464.4,453.27a2.2,2.2 0 1,0 4.4,0a2.2,2.2 0 1,0 -4.4,0M469.8,453.51a2.2,2.2 0 1,0 4.4,0a2.2,2.2 0 1,0 -4.4,0M475.9,454.23a2.2,2.2 0 1,0 4.4,0a2.2,2.2 0 1,0 -4.4,0M481.4,453.6a2.2,2.2 0 1,0 4.4,0a2.2,2.2 0 1,0 -4.4,0M487.5,451.31a2.2,2.2 0 1,0 4.4,0a2.2,2.2 0 1,0 -4.4,0M493.6,452.87a2.2,2.2 0 1,0 4.4,0a2.2,2.2 0 1,0 -4.4,0M499.1,452.72a2.2,2.2 0 1,0 4.4,0a2.2,2.2 0 1,0 -4.4,0M505.2,452.17a2.2,2.2 0 1,0 4.4,0a2.2,2.2 0 1,0 -4.4,0M511.3,452.27a2.2,2.2 0 1,0 4.4,0a2.2,2.2 0 1,0 -4.4,0M516.7,453.17a2.2,2.2 0 1,0 4.4,0a2.2,2.2 0 1,0 -4.4,0M522.9,453.93a2.2,2.2 0 1,0 4.4,0a2.2,2.2 0 1,0 -4.4,0M529,451.69a2.2,2.2 0 1,0 4.4,0a2.2,2.2 0 1,0 -4.4,0M534.4,452.3a2.2,2.2 0 1,0 4.4,0a2.2,2.2 0 1,0 -4.4,0M540.6,453.85a2.2,2.2 0 1,0 4.4,0a2.2,2.2 0 1,0 -4.4,0M546,452.62a2.2,2.2 0 1,0 4.4,0a2.2,2.2 0 1,0 -4.4,0M551.9,452.8a2.2,2.2 0 1,0 4.4,0a2.2,2.2 0 1,0 -4.4,0M558,453.4a2.2,2.2 0 1,0 4.4,0a2.2,2.2 0 1,0 -4.4,0M564.1,452.68a2.2,2.2 0 1,0 4.4,0a2.2,2.2 0 1,0 -4.4,0M569.6,449.44a2.2,2.2 0 1,0 4.4,0a2.2,2.2 0 1,0 -4.4,0M575.7,450.77a2.2,2.2 0 1,0 4.4,0a2.2,2.2 0 1,0 -4.4,0M581.1,451.86a2.2,2.2 0 1,0 4.4,0a2.2,2.2 0 1,0 -4.4,0M587.3,452.43a2.2,2.2 0 1,0 4.4,0a2.2,2.2 0 1,0 -4.4,0M593.4,452.75a2.2,2.2 0 1,0 4.4,0a2.2,2.2 0 1,0 -4.4,0M598.8,450.57a2.2,2.2 0 1,0 4.4,0a2.2,2.2 0 1,0 -4.4,0M604.9,452.36a2.2,2.2 0 1,0 4.4,0a2.2,2.2 0 1,0 -4.4,0M610.4,453.78a2.2,2.2 0 1,0 4.4,0a2.2,2.2 0 1,0 -4.4,0M616.5,451.81a2.2,2.2 0 1,0 4.4,0a2.2,2.2 0 1,0 -4.4,0M622.6,452.03a2.2,2.2 0 1,0 4.4,0a2.2,2.2 0 1,0 -4.4,0M628.1,452.43a2.2,2.2 0 1,0 4.4,0a2.2,2.2 0 1,0 -4.4,0M634.2,451.08a2.2,2.2 0 1,0 4.4,0a2.2,2.2 0 1,0 -4.4,0M639.6,453.9a2.2,2.2 0 1,0 4.4,0a2.2,2.2 0 1,0 -4.4,0M645.8,453.49a2.2,2.2 0 1,0 4.4,0a2.2,2.2 0 1,0 -4.4,0M651.9,453.7a2.2,2.2 0 1,0 4.4,0a2.2,2.2 0 1,0 -4.4,0M658,451.49a2.2,2.2 0 1,0 4.4,0a2.2,2.2 0 1,0 -4.4,0M663.4,452.7a2.2,2.2 0 1,0 4.4,0a2.2,2.2 0 1,0 -4.4,0M669.6,452.08a2.2,2.2 0 1,0 4.4,0a2.2,2.2 0 1,0 -4.4,0M675,452.66a2.2,2.2 0 1,0 4.4,0a2.2,2.2 0 1,0 -4.4,0M681.1,454.22a2.2,2.2 0 1,0 4.4,0a2.2,2.2 0 1,0 -4.4,0M686.6,453.72a2.2,2.2 0 1,0 4.4,0a2.2,2.2 0 1,0 -4.4,0M692.7,453.66a2.2,2.2 0 1,0 4.4,0a2.2,2.2 0 1,0 -4.4,0M698.8,452.38a2.2,2.2 0 1,0 4.4,0a2.2,2.2 0 1,0 -4.4,0M704.3,452.93a2.2,2.2 0 1,0 4.4,0a2.2,2.2 0 1,0 -4.4,0M710.4,451.87a2.2,2.2 0 1,0 4.4,0a2.2,2.2 0 1,0 -4.4,0M715.8,452.39a2.2,2.2 0 1,0 4.4,0a2.2,2.2 0 1,0 -4.4,0M721.9,451.58a2.2,2.2 0 1,0 4.4,0a2.2,2.2 0 1,0 -4.4,0M728.1,453.34a2.2,2.2 0 1,0 4.4,0a2.2,2.2 0 1,0 -4.4,0M733.5,453.09a2.2,2.2 0 1,0 4.4,0a2.2,2.2 0 1,0 -4.4,0M739.6,453.42a2.2,2.2 0 1,0 4.4,0a2.2,2.2 0 1,0 -4.4,0M746.9,451.86a2.2,2.2 0 1,0 4.4,0a2.2,2.2 0 1,0 -4.4,0M752.3,452.58a2.2,2.2 0 1,0 4.4,0a2.2,2.2 0 1,0 -4.4,0M758.4,451.22a2.2,2.2 0 1,0 4.4,0a2.2,2.2 0 1,0 -4.4,0M764.6,451.94a2.2,2.2 0 1,0 4.4,0a2.2,2.2 0 1,0 -4.4,0M770.7,452.33a2.2,2.2 0 1,0 4.4,0a2.2,2.2 0 1,0 -4.4,0M776.1,451.18a2.2,2.2 0 1,0 4.4,0a2.2,2.2 0 1,0 -4.4,0M782.3,452.62a2.2,2.2 0 1,0 4.4,0a2.2,2.2 0 1,0 -4.4,0M788.4,452.15a2.2,2.2 0 1,0 4.4,0a2.2,2.2 0 1,0 -4.4,0M794.5,453.74a2.2,2.2 0 1,0 4.4,0a2.2,2.2 0 1,0 -4.4,0M799.9,454.13a2.2,2.2 0 1,0 4.4,0a2.2,2.2 0 1,0 -4.4,0M806.1,450.77a2.2,2.2 0 1,0 4.4,0a2.2,2.2 0 1,0 -4.4,0M812.2,451.3a2.2,2.2 0 1,0 4.4,0a2.2,2.2 0 1,0 -4.4,0M817.6,450.45a2.2,2.2 0 1,0 4.4,0a2.2,2.2 0 1,0 -4.4,0M823.8,453.44a2.2,2.2 0 1,0 4.4,0a2.2,2.2 0 1,0 -4.4,0M829.2,452.79a2.2,2.2 0 1,0 4.4,0a2.2,2.2 0 1,0 -4.4,0M835.3,452.47a2.2,2.2 0 1,0 4.4,0a2.2,2.2 0 1,0 -4.4,0M840.8,454.06a2.2,2.2 0 1,0 4.4,0a2.2,2.2 0 1,0 -4.4,0M846.9,450.54a2.2,2.2 0 1,0 4.4,0a2.2,2.2 0 1,0 -4.4,0M852.3,451.19a2.2,2.2 0 1,0 4.4,0a2.2,2.2 0 1,0 -4.4,0M858.4,453.86a2.2,2.2 0 1,0 4.4,0a2.2,2.2 0 1,0 -4.4,0M863.9,451.77a2.2,2.2 0 1,0 4.4,0a2.2,2.2 0 1,0 -4.4,0M870,453.18a2.2,2.2 0 1,0 4.4,0a2.2,2.2 0 1,0 -4.4,0M875.5,452.27a2.2,2.2 0 1,0 4.4,0a2.2,2.2 0 1,0 -4.4,0M881.6,454.74a2.2,2.2 0 1,0 4.4,0a2.2,2.2 0 1,0 -4.4,0M887,451.85a2.2,2.2 0 1,0 4.4,0a2.2,2.2 0 1,0 -4.4,0M893.1,452.49a2.2,2.2 0 1,0 4.4,0a2.2,2.2 0 1,0 -4.4,0M898.6,450.94a2.2,2.2 0 1,0 4.4,0a2.2,2.2 0 1,0 -4.4,0M904.7,449.2a2.2,2.2 0 1,0 4.4,0a2.2,2.2 0 1,0 -4.4,0M910.8,451.49a2.2,2.2 0 1,0 4.4,0a2.2,2.2 0 1,0 -4.4,0M916.3,453.55a2.2,2.2 0 1,0 4.4,0a2.2,2.2 0 1,0 -4.4,0M922.4,453.26a2.2,2.2 0 1,0 4.4,0a2.2,2.2 0 1,0 -4.4,0M927.8,453.36a2.2,2.2 0 1,0 4.4,0a2.2,2.2 0 1,0 -4.4,0M934,451.12a2.2,2.2 0 1,0 4.4,0a2.2,2.2 0 1,0 -4.4,0M939.8,451.98a2.2,2.2 0 1,0 4.4,0a2.2,2.2 0 1,0 -4.4,0M945.3,453.32a2.2,2.2 0 1,0 4.4,0a2.2,2.2 0 1,0 -4.4,0M951.4,450.88a2.2,2.2 0 1,0 4.4,0a2.2,2.2 0 1,0 -4.4,0M956.8,452.12a2.2,2.2 0 1,0 4.4,0a2.2,2.2 0 1,0 -4.4,0M963,453.48a2.2,2.2 0 1,0 4.4,0a2.2,2.2 0 1,0 -4.4,0M968.4,450.6a2.2,2.2 0 1,0 4.4,0a2.2,2.2 0 1,0 -4.4,0M974.5,452.66a2.2,2.2 0 1,0 4.4,0a2.2,2.2 0 1,0 -4.4,0M980,452.85a2.2,2.2 0 1,0 4.4,0a2.2,2.2 0 1,0 -4.4,0M985.4,452.28a2.2,2.2 0 1,0 4.4,0a2.2,2.2 0 1,0 -4.4,0M991.5,453.34a2.2,2.2 0 1,0 4.4,0a2.2,2.2 0 1,0 -4.4,0M997,450.4a2.2,2.2 0 1,0 4.4,0a2.2,2.2 0 1,0 -4.4,0M1003.1,450.66a2.2,2.2 0 1,0 4.4,0a2.2,2.2 0 1,0 -4.4,0M1008.5,453.12a2.2,2.2 0 1,0 4.4,0a2.2,2.2 0 1,0 -4.4,0M1014.7,453.39a2.2,2.2 0 1,0 4.4,0a2.2,2.2 0 1,0 -4.4,0M1020.1,451.77a2.2,2.2 0 1,0 4.4,0a2.2,2.2 0 1,0 -4.4,0M1026.2,452.94a2.2,2.2 0 1,0 4.4,0a2.2,2.2 0 1,0 -4.4,0M1031.7,452.56a2.2,2.2 0 1,0 4.4,0a2.2,2.2 0 1,0 -4.4,0M1037.8,454.11a2.2,2.2 0 1,0 4.4,0a2.2,2.2 0 1,0 -4.4,0M1043.2,452.74a2.2,2.2 0 1,0 4.4,0a2.2,2.2 0 1,0 -4.4,0M1049.4,453.74a2.2,2.2 0 1,0 4.4,0a2.2,2.2 0 1,0 -4.4,0M1054.8,452.13a2.2,2.2 0 1,0 4.4,0a2.2,2.2 0 1,0 -4.4,0M1060.9,451.48a2.2,2.2 0 1,0 4.4,0a2.2,2.2 0 1,0 -4.4,0M1066.4,451.66a2.2,2.2 0 1,0 4.4,0a2.2,2.2 0 1,0 -4.4,0M1071.8,448.34a2.2,2.2 0 1,0 4.4,0a2.2,2.2 0 1,0 -4.4,0M1077.9,451.93a2.2,2.2 0 1,0 4.4,0a2.2,2.2 0 1,0 -4.4,0M1083.4,452.19a2.2,2.2 0 1,0 4.4,0a2.2,2.2 0 1,0 -4.4,0M1089.5,453.46a2.2,2.2 0 1,0 4.4,0a2.2,2.2 0 1,0 -4.4,0M1094.9,453.64a2.2,2.2 0 1,0 4.4,0a2.2,2.2 0 1,0 -4.4,0M1101.1,450.17a2.2,2.2 0 1,0 4.4,0a2.2,2.2 0 1,0 -4.4,0M1106.5,451.62a2.2,2.2 0 1,0 4.4,0a2.2,2.2 0 1,0 -4.4,0M1112.6,453.19a2.2,2.2 0 1,0 4.4,0a2.2,2.2 0 1,0 -4.4,0M1118.1,453.14a2.2,2.2 0 1,0 4.4,0a2.2,2.2 0 1,0 -4.4,0M1124.2,452.84a2.2,2.2 0 1,0 4.4,0a2.2,2.2 0 1,0 -4.4,0M1129.6,452.64a2.2,2.2 0 1,0 4.4,0a2.2,2.2 0 1,0 -4.4,0M1135.9,452.84a2.2,2.2 0 1,0 4.4,0a2.2,2.2 0 1,0 -4.4,0M1142.2,451.23a2.2,2.2 0 1,0 4.4,0a2.2,2.2 0 1,0 -4.4,0M1147.7,453.35a2.2,2.2 0 1,0 4.4,0a2.2,2.2 0 1,0 -4.4,0M1153.9,453.48a2.2,2.2 0 1,0 4.4,0a2.2,2.2 0 1,0 -4.4,0M1159.4,452.83a2.2,2.2 0 1,0 4.4,0a2.2,2.2 0 1,0 -4.4,0M1165.7,452.62a2.2,2.2 0 1,0 4.4,0a2.2,2.2 0 1,0 -4.4,0M1171.1,453a2.2,2.2 0 1,0 4.4,0a2.2,2.2 0 1,0 -4.4,0M1177.4,453.11a2.2,2.2 0 1,0 4.4,0a2.2,2.2 0 1,0 -4.4,0M1182.9,452.03a2.2,2.2 0 1,0 4.4,0a2.2,2.2 0 1,0 -4.4,0M1188.4,451.19a2.2,2.2 0 1,0 4.4,0a2.2,2.2 0 1,0 -4.4,0M1194.6,453.99a2.2,2.2 0 1,0 4.4,0a2.2,2.2 0 1,0 -4.4,0M1200.1,451.15a2.2,2.2 0 1,0 4.4,0a2.2,2.2 0 1,0 -4.4,0M1206.4,453.16a2.2,2.2 0 1,0 4.4,0a2.2,2.2 0 1,0 -4.4,0M1211.8,453.74a2.2,2.2 0 1,0 4.4,0a2.2,2.2 0 1,0 -4.4,0M1218.1,451.92a2.2,2.2 0 1,0 4.4,0a2.2,2.2 0 1,0 -4.4,0M1223.6,453.57a2.2,2.2 0 1,0 4.4,0a2.2,2.2 0 1,0 -4.4,0M1229,453.74a2.2,2.2 0 1,0 4.4,0a2.2,2.2 0 1,0 -4.4,0M1234.5,452.41a2.2,2.2 0 1,0 4.4,0a2.2,2.2 0 1,0 -4.4,0M1240.8,451.1a2.2,2.2 0 1,0 4.4,0a2.2,2.2 0 1,0 -4.4,0M1246.3,452.13a2.2,2.2 0 1,0 4.4,0a2.2,2.2 0 1,0 -4.4,0M1252.5,452.26a2.2,2.2 0 1,0 4.4,0a2.2,2.2 0 1,0 -4.4,0M1258,453.43a2.2,2.2 0 1,0 4.4,0a2.2,2.2 0 1,0 -4.4,0M1263.5,449.92a2.2,2.2 0 1,0 4.4,0a2.2,2.2 0 1,0 -4.4,0M1269.7,452.74a2.2,2.2 0 1,0 4.4,0a2.2,2.2 0 1,0 -4.4,0M1275.2,453.47a2.2,2.2 0 1,0 4.4,0a2.2,2.2 0 1,0 -4.4,0M1281.5,452.7a2.2,2.2 0 1,0 4.4,0a2.2,2.2 0 1,0 -4.4,0M1286.9,452.11a2.2,2.2 0 1,0 4.4,0a2.2,2.2 0 1,0 -4.4,0M1293.2,452.47a2.2,2.2 0 1,0 4.4,0a2.2,2.2 0 1,0 -4.4,0M1298.7,453.18a2.2,2.2 0 1,0 4.4,0a2.2,2.2 0 1,0 -4.4,0M1304.9,451.83a2.2,2.2 0 1,0 4.4,0a2.2,2.2 0 1,0 -4.4,0M1310.4,452.72a2.2,2.2 0 1,0 4.4,0a2.2,2.2 0 1,0 -4.4,0M1316.7,454.25a2.2,2.2 0 1,0 4.4,0a2.2,2.2 0 1,0 -4.4,0M1322.2,453.18a2.2,2.2 0 1,0 4.4,0a2.2,2.2 0 1,0 -4.4,0M1328.4,451.87a2.2,2.2 0 1,0 4.4,0a2.2,2.2 0 1,0 -4.4,0M1333.9,452.23a2.2,2.2 0 1,0 4.4,0a2.2,2.2 0 1,0 -4.4,0M1339.4,452.67a2.2,2.2 0 1,0 4.4,0a2.2,2.2 0 1,0 -4.4,0M1345.7,452.16a2.2,2.2 0 1,0 4.4,0a2.2,2.2 0 1,0 -4.4,0M1351.1,452.07a2.2,2.2 0 1,0 4.4,0a2.2,2.2 0 1,0 -4.4,0M1357.4,454.68a2.2,2.2 0 1,0 4.4,0a2.2,2.2 0 1,0 -4.4,0" fill="#ff6e76" clip-path="url(#lc)"/>
<polyline points="158.6,440.45 164.1,441.64 170.2,439.74 176.3,436.13 182.4,438.88 188.6,440.52 194,438.68 200.1,441.37 206.3,442.17 211.7,441.93 217.1,442.06 222.6,440.72 228.7,443.05 234.1,443.14 240.3,442.59 245.7,443.19 251.8,440.52 257.3,439.79 263.4,442.59 268.8,440.25 275,440.41 280.4,439.51 285.9,441.43 292,438.74 298.1,442.29 303.5,441.19 309.7,439.1 315.1,441.45 321.2,441.23 326.7,437.5 332.8,440.64 338.2,441.99 344.4,441.83 349.8,441.98 355.9,441.32 361.8,442.17 367.9,439.3 373.4,439.36 379.5,440.07 384.9,442.62 391.1,440.48 396.5,441.18 401.9,442.31 408.1,440.87 414.2,442.22 419.6,440.87 425.7,441.88 431.2,441.26 437.3,441.92 443.4,441.89 448.9,440.52 455,441.24 460.4,442.12 466.6,441.96 472,441.2 478.1,442.74 483.6,441.68 489.7,439.36 495.8,440.41 501.3,441.71 507.4,441.32 513.5,440.38 518.9,441.28 525.1,443.11 531.2,438.88 536.6,439.73 542.8,442.46 548.2,440.69 554.1,442.51 560.2,441.37 566.3,439.62 571.8,436.49 577.9,438.87 583.3,440.47 589.5,439.68 595.6,441.47 601,438.31 607.1,441.22 612.6,441.96 618.7,439.55 624.8,440.34 630.3,441.24 636.4,438.52 641.8,441.79 648,441.14 654.1,442.74 660.2,439.09 665.6,440.93 671.8,440.36 677.2,441.01 683.3,442.41 688.8,442.47 694.9,442.53 701,440.68 706.5,441.26 712.6,439.38 718,440.27 724.1,438.8 730.3,441.96 735.7,441.19 741.8,440.25 749.1,440.38 754.5,440.09 760.6,439.11 766.8,439.84 772.9,440.88 778.3,437.17 784.5,441.94 790.6,439.61 796.7,442.43 802.1,442.62 808.3,438.27 814.4,439.48 819.8,437.44 826,441.57 831.4,440.34 837.5,439.82 843,443.46 849.1,437.49 854.5,438.72 860.6,442.15 866.1,438.83 872.2,442.97 877.7,441.18 883.8,442.74 889.2,440.22 895.3,441.09 900.8,437.55 906.9,436.73 913,438.9 918.5,441.05 924.6,442.46 930,441.83 936.2,438.28 942,440.43 947.5,441.52 953.6,437.72 959,440.47 965.2,441.88 970.6,437.73 976.7,440.59 982.2,441.57 987.6,439.94 993.7,441.57 999.2,436.76 1005.3,438.28 1010.7,442.1 1016.9,441.79 1022.3,439.88 1028.4,441.47 1033.9,440.66 1040,442.33 1045.4,440.51 1051.6,442.06 1057,439.27 1063.1,439.14 1068.6,438.33 1074,435.02 1080.1,439.52 1085.6,439.68 1091.7,440.78 1097.1,441.39 1103.3,437.04 1108.7,439.51 1114.8,441.35 1120.3,441.43 1126.4,441.05 1131.8,440.4 1138.1,440.54 1144.4,438.99 1149.9,442.21 1156.1,441.38 1161.6,441.6 1167.9,440.98 1173.3,440.07 1179.6,441.47 1185.1,439.21 1190.6,438.68 1196.8,442.92 1202.3,438.94 1208.6,442.74 1214,442.05 1220.3,440.75 1225.8,441.41 1231.2,441.92 1236.7,439.94 1243,438.41 1248.5,441.15 1254.7,441.01 1260.2,441.24 1265.7,436.58 1271.9,441.15 1277.4,440.57 1283.7,441.53 1289.1,439.76 1295.4,440.55 1300.9,441.5 1307.1,440.37 1312.6,441.3 1318.9,442.71 1324.4,441.16 1330.6,441.23 1336.1,441.39 1341.6,440.73 1347.9,440.49 1353.3,440.62 1359.6,443.51" fill="none" stroke="#58d9f9" stroke-width="2" stroke-linejoin="bevel" clip-path="url(#lc)"/>
<path d="M161.9,441.64a2.2,2.2 0 1,0 4.4,0a2.2,2.2 0 1,0 -4.4,0M168,439.74a2.2,2.2 0 1,0 4.4,0a2.2,2.2 0 1,0 -4.4,0M174.1,436.13a2.2,2.2 0 1,0 4.4,0a2.2,2.2 0 1,0 -4.4,0M180.2,438.88a2.2,2.2 0 1,0 4.4,0a2.2,2.2 0 1,0 -4.4,0M186.4,440.52a2.2,2.2 0 1,0 4.4,0a2.2,2.2 0 1,0 -4.4,0M191.8,438.68a2.2,2.2 0 1,0 4.4,0a2.2,2.2 0 1,0 -4.4,0M197.9,441.37a2.2,2.2 0 1,0 4.4,0a2.2,2.2 0 1,0 -4.4,0M204.1,442.17a2.2,2.2 0 1,0 4.4,0a2.2,2.2 0 1,0 -4.4,0M209.5,441.93a2.2,2.2 0 1,0 4.4,0a2.2,2.2 0 1,0 -4.4,0M214.9,442.06a2.2,2.2 0 1,0 4.4,0a2.2,2.2 0 1,0 -4.4,0M220.4,440.72a2.2,2.2 0 1,0 4.4,0a2.2,2.2 0 1,0 -4.4,0M226.5,443.05a2.2,2.2 0 1,0 4.4,0a2.2,2.2 0 1,0 -4.4,0M231.9,443.14a2.2,2.2 0 1,0 4.4,0a2.2,2.2 0 1,0 -4.4,0M238.1,442.59a2.2,2.2 0 1,0 4.4,0a2.2,2.2 0 1,0 -4.4,0M243.5,443.19a2.2,2.2 0 1,0 4.4,0a2.2,2.2 0 1,0 -4.4,0M249.6,440.52a2.2,2.2 0 1,0 4.4,0a2.2,2.2 0 1,0 -4.4,0M255.1,439.79a2.2,2.2 0 1,0 4.4,0a2.2,2.2 0 1,0 -4.4,0M261.2,442.59a2.2,2.2 0 1,0 4.4,0a2.2,2.2 0 1,0 -4.4,0M266.6,440.25a2.2,2.2 0 1,0 4.4,0a2.2,2.2 0 1,0 -4.4,0M272.8,440.41a2.2,2.2 0 1,0 4.4,0a2.2,2.2 0 1,0 -4.4,0M278.2,439.51a2.2,2.2 0 1,0 4.4,0a2.2,2.2 0 1,0 -4.4,0M283.7,441.43a2.2,2.2 0 1,0 4.4,0a2.2,2.2 0 1,0 -4.4,0M289.8,438.74a2.2,2.2 0 1,0 4.4,0a2.2,2.2 0 1,0 -4.4,0M295.9,442.29a2.2,2.2 0 1,0 4.4,0a2.2,2.2 0 1,0 -4.4,0M301.3,441.19a2.2,2.2 0 1,0 4.4,0a2.2,2.2 0 1,0 -4.4,0M307.5,439.1a2.2,2.2 0 1,0 4.4,0a2.2,2.2 0 1,0 -4.4,0M312.9,441.45a2.2,2.2 0 1,0 4.4,0a2.2,2.2 0 1,0 -4.4,0M319,441.23a2.2,2.2 0 1,0 4.4,0a2.2,2.2 0 1,0 -4.4,0M324.5,437.5a2.2,2.2 0 1,0 4.4,0a2.2,2.2 0 1,0 -4.4,0M330.6,440.64a2.2,2.2 0 1,0 4.4,0a2.2,2.2 0 1,0 -4.4,0M336,441.99a2.2,2.2 0 1,0 4.4,0a2.2,2.2 0 1,0 -4.4,0M342.2,441.83a2.2,2.2 0 1,0 4.4,0a2.2,2.2 0 1,0 -4.4,0M347.6,441.98a2.2,2.2 0 1,0 4.4,0a2.2,2.2 0 1,0 -4.4,0M353.7,441.32a2.2,2.2 0 1,0 4.4,0a2.2,2.2 0 1,0 -4.4,0M359.6,442.17a2.2,2.2 0 1,0 4.4,0a2.2,2.2 0 1,0 -4.4,0M365.7,439.3a2.2,2.2 0 1,0 4.4,0a2.2,2.2 0 1,0 -4.4,0M371.2,439.36a2.2,2.2 0 1,0 4.4,0a2.2,2.2 0 1,0 -4.4,0M377.3,440.07a2.2,2.2 0 1,0 4.4,0a2.2,2.2 0 1,0 -4.4,0M382.7,442.62a2.2,2.2 0 1,0 4.4,0a2.2,2.2 0 1,0 -4.4,0M388.9,440.48a2.2,2.2 0 1,0 4.4,0a2.2,2.2 0 1,0 -4.4,0M394.3,441.18a2.2,2.2 0 1,0 4.4,0a2.2,2.2 0 1,0 -4.4,0M399.7,442.31a2.2,2.2 0 1,0 4.4,0a2.2,2.2 0 1,0 -4.4,0M405.9,440.87a2.2,2.2 0 1,0 4.4,0a2.2,2.2 0 1,0 -4.4,0M412,442.22a2.2,2.2 0 1,0 4.4,0a2.2,2.2 0 1,0 -4.4,0M417.4,440.87a2.2,2.2 0 1,0 4.4,0a2.2,2.2 0 1,0 -4.4,0M423.5,441.88a2.2,2.2 0 1,0 4.4,0a2.2,2.2 0 1,0 -4.4,0M429,441.26a2.2,2.2 0 1,0 4.4,0a2.2,2.2 0 1,0 -4.4,0M435.1,441.92a2.2,2.2 0 1,0 4.4,0a2.2,2.2 0 1,0 -4.4,0M441.2,441.89a2.2,2.2 0 1,0 4.4,0a2.2,2.2 0 1,0 -4.4,0M446.7,440.52a2.2,2.2 0 1,0 4.4,0a2.2,2.2 0 1,0 -4.4,0M452.8,441.24a2.2,2.2 0 1,0 4.4,0a2.2,2.2 0 1,0 -4.4,0M458.2,442.12a2.2,2.2 0 1,0 4.4,0a2.2,2.2 0 1,0 -4.4,0M464.4,441.96a2.2,2.2 0 1,0 4.4,0a2.2,2.2 0 1,0 -4.4,0M469.8,441.2a2.2,2.2 0 1,0 4.4,0a2.2,2.2 0 1,0 -4.4,0M475.9,442.74a2.2,2.2 0 1,0 4.4,0a2.2,2.2 0 1,0 -4.4,0M481.4,441.68a2.2,2.2 0 1,0 4.4,0a2.2,2.2 0 1,0 -4.4,0M487.5,439.36a2.2,2.2 0 1,0 4.4,0a2.2,2.2 0 1,0 -4.4,0M493.6,440.41a2.2,2.2 0 1,0 4.4,0a2.2,2.2 0 1,0 -4.4,0M499.1,441.71a2.2,2.2 0 1,0 4.4,0a2.2,2.2 0 1,0 -4.4,0M505.2,441.32a2.2,2.2 0 1,0 4.4,0a2.2,2.2 0 1,0 -4.4,0M511.3,440.38a2.2,2.2 0 1,0 4.4,0a2.2,2.2 0 1,0 -4.4,0M516.7,441.28a2.2,2.2 0 1,0 4.4,0a2.2,2.2 0 1,0 -4.4,0M522.9,443.11a2.2,2.2 0 1,0 4.4,0a2.2,2.2 0 1,0 -4.4,0M529,438.88a2.2,2.2 0 1,0 4.4,0a2.2,2.2 0 1,0 -4.4,0M534.4,439.73a2.2,2.2 0 1,0 4.4,0a2.2,2.2 0 1,0 -4.4,0M540.6,442.46a2.2,2.2 0 1,0 4.4,0a2.2,2.2 0 1,0 -4.4,0M546,440.69a2.2,2.2 0 1,0 4.4,0a2.2,2.2 0 1,0 -4.4,0M551.9,442.51a2.2,2.2 0 1,0 4.4,0a2.2,2.2 0 1,0 -4.4,0M558,441.37a2.2,2.2 0 1,0 4.4,0a2.2,2.2 0 1,0 -4.4,0M564.1,439.62a2.2,2.2 0 1,0 4.4,0a2.2,2.2 0 1,0 -4.4,0M569.6,436.49a2.2,2.2 0 1,0 4.4,0a2.2,2.2 0 1,0 -4.4,0M575.7,438.87a2.2,2.2 0 1,0 4.4,0a2.2,2.2 0 1,0 -4.4,0M581.1,440.47a2.2,2.2 0 1,0 4.4,0a2.2,2.2 0 1,0 -4.4,0M587.3,439.68a2.2,2.2 0 1,0 4.4,0a2.2,2.2 0 1,0 -4.4,0M593.4,441.47a2.2,2.2 0 1,0 4.4,0a2.2,2.2 0 1,0 -4.4,0M598.8,438.31a2.2,2.2 0 1,0 4.4,0a2.2,2.2 0 1,0 -4.4,0M604.9,441.22a2.2,2.2 0 1,0 4.4,0a2.2,2.2 0 1,0 -4.4,0M610.4,441.96a2.2,2.2 0 1,0 4.4,0a2.2,2.2 0 1,0 -4.4,0M616.5,439.55a2.2,2.2 0 1,0 4.4,0a2.2,2.2 0 1,0 -4.4,0M622.6,440.34a2.2,2.2 0 1,0 4.4,0a2.2,2.2 0 1,0 -4.4,0M628.1,441.24a2.2,2.2 0 1,0 4.4,0a2.2,2.2 0 1,0 -4.4,0M634.2,438.52a2.2,2.2 0 1,0 4.4,0a2.2,2.2 0 1,0 -4.4,0M639.6,441.79a2.2,2.2 0 1,0 4.4,0a2.2,2.2 0 1,0 -4.4,0M645.8,441.14a2.2,2.2 0 1,0 4.4,0a2.2,2.2 0 1,0 -4.4,0M651.9,442.74a2.2,2.2 0 1,0 4.4,0a2.2,2.2 0 1,0 -4.4,0M658,439.09a2.2,2.2 0 1,0 4.4,0a2.2,2.2 0 1,0 -4.4,0M663.4,440.93a2.2,2.2 0 1,0 4.4,0a2.2,2.2 0 1,0 -4.4,0M669.6,440.36a2.2,2.2 0 1,0 4.4,0a2.2,2.2 0 1,0 -4.4,0M675,441.01a2.2,2.2 0 1,0 4.4,0a2.2,2.2 0 1,0 -4.4,0M681.1,442.41a2.2,2.2 0 1,0 4.4,0a2.2,2.2 0 1,0 -4.4,0M686.6,442.47a2.2,2.2 0 1,0 4.4,0a2.2,2.2 0 1,0 -4.4,0M692.7,442.53a2.2,2.2 0 1,0 4.4,0a2.2,2.2 0 1,0 -4.4,0M698.8,440.68a2.2,2.2 0 1,0 4.4,0a2.2,2.2 0 1,0 -4.4,0M704.3,441.26a2.2,2.2 0 1,0 4.4,0a2.2,2.2 0 1,0 -4.4,0M710.4,439.38a2.2,2.2 0 1,0 4.4,0a2.2,2.2 0 1,0 -4.4,0M715.8,440.27a2.2,2.2 0 1,0 4.4,0a2.2,2.2 0 1,0 -4.4,0M721.9,438.8a2.2,2.2 0 1,0 4.4,0a2.2,2.2 0 1,0 -4.4,0M728.1,441.96a2.2,2.2 0 1,0 4.4,0a2.2,2.2 0 1,0 -4.4,0M733.5,441.19a2.2,2.2 0 1,0 4.4,0a2.2,2.2 0 1,0 -4.4,0M739.6,440.25a2.2,2.2 0 1,0 4.4,0a2.2,2.2 0 1,0 -4.4,0M746.9,440.38a2.2,2.2 0 1,0 4.4,0a2.2,2.2 0 1,0 -4.4,0M752.3,440.09a2.2,2.2 0 1,0 4.4,0a2.2,2.2 0 1,0 -4.4,0M758.4,439.11a2.2,2.2 0 1,0 4.4,0a2.2,2.2 0 1,0 -4.4,0M764.6,439.84a2.2,2.2 0 1,0 4.4,0a2.2,2.2 0 1,0 -4.4,0M770.7,440.88a2.2,2.2 0 1,0 4.4,0a2.2,2.2 0 1,0 -4.4,0M776.1,437.17a2.2,2.2 0 1,0 4.4,0a2.2,2.2 0 1,0 -4.4,0M782.3,441.94a2.2,2.2 0 1,0 4.4,0a2.2,2.2 0 1,0 -4.4,0M788.4,439.61a2.2,2.2 0 1,0 4.4,0a2.2,2.2 0 1,0 -4.4,0M794.5,442.43a2.2,2.2 0 1,0 4.4,0a2.2,2.2 0 1,0 -4.4,0M799.9,442.62a2.2,2.2 0 1,0 4.4,0a2.2,2.2 0 1,0 -4.4,0M806.1,438.27a2.2,2.2 0 1,0 4.4,0a2.2,2.2 0 1,0 -4.4,0M812.2,439.48a2.2,2.2 0 1,0 4.4,0a2.2,2.2 0 1,0 -4.4,0M817.6,437.44a2.2,2.2 0 1,0 4.4,0a2.2,2.2 0 1,0 -4.4,0M823.8,441.57a2.2,2.2 0 1,0 4.4,0a2.2,2.2 0 1,0 -4.4,0M829.2,440.34a2.2,2.2 0 1,0 4.4,0a2.2,2.2 0 1,0 -4.4,0M835.3,439.82a2.2,2.2 0 1,0 4.4,0a2.2,2.2 0 1,0 -4.4,0M840.8,443.46a2.2,2.2 0 1,0 4.4,0a2.2,2.2 0 1,0 -4.4,0M846.9,437.49a2.2,2.2 0 1,0 4.4,0a2.2,2.2 0 1,0 -4.4,0M852.3,438.72a2.2,2.2 0 1,0 4.4,0a2.2,2.2 0 1,0 -4.4,0M858.4,442.15a2.2,2.2 0 1,0 4.4,0a2.2,2.2 0 1,0 -4.4,0M863.9,438.83a2.2,2.2 0 1,0 4.4,0a2.2,2.2 0 1,0 -4.4,0M870,442.97a2.2,2.2 0 1,0 4.4,0a2.2,2.2 0 1,0 -4.4,0M875.5,441.18a2.2,2.2 0 1,0 4.4,0a2.2,2.2 0 1,0 -4.4,0M881.6,442.74a2.2,2.2 0 1,0 4.4,0a2.2,2.2 0 1,0 -4.4,0M887,440.22a2.2,2.2 0 1,0 4.4,0a2.2,2.2 0 1,0 -4.4,0M893.1,441.09a2.2,2.2 0 1,0 4.4,0a2.2,2.2 0 1,0 -4.4,0M898.6,437.55a2.2,2.2 0 1,0 4.4,0a2.2,2.2 0 1,0 -4.4,0M904.7,436.73a2.2,2.2 0 1,0 4.4,0a2.2,2.2 0 1,0 -4.4,0M910.8,438.9a2.2,2.2 0 1,0 4.4,0a2.2,2.2 0 1,0 -4.4,0M916.3,441.05a2.2,2.2 0 1,0 4.4,0a2.2,2.2 0 1,0 -4.4,0M922.4,442.46a2.2,2.2 0 1,0 4.4,0a2.2,2.2 0 1,0 -4.4,0M927.8,441.83a2.2,2.2 0 1,0 4.4,0a2.2,2.2 0 1,0 -4.4,0M934,438.28a2.2,2.2 0 1,0 4.4,0a2.2,2.2 0 1,0 -4.4,0M939.8,440.43a2.2,2.2 0 1,0 4.4,0a2.2,2.2 0 1,0 -4.4,0M945.3,441.52a2.2,2.2 0 1,0 4.4,0a2.2,2.2 0 1,0 -4.4,0M951.4,437.72a2.2,2.2 0 1,0 4.4,0a2.2,2.2 0 1,0 -4.4,0M956.8,440.47a2.2,2.2 0 1,0 4.4,0a2.2,2.2 0 1,0 -4.4,0M963,441.88a2.2,2.2 0 1,0 4.4,0a2.2,2.2 0 1,0 -4.4,0M968.4,437.73a2.2,2.2 0 1,0 4.4,0a2.2,2.2 0 1,0 -4.4,0M974.5,440.59a2.2,2.2 0 1,0 4.4,0a2.2,2.2 0 1,0 -4.4,0M980,441.57a2.2,2.2 0 1,0 4.4,0a2.2,2.2 0 1,0 -4.4,0M985.4,439.94a2.2,2.2 0 1,0 4.4,0a2.2,2.2 0 1,0 -4.4,0M991.5,441.57a2.2,2.2 0 1,0 4.4,0a2.2,2.2 0 1,0 -4.4,0M997,436.76a2.2,2.2 0 1,0 4.4,0a2.2,2.2 0 1,0 -4.4,0M1003.1,438.28a2.2,2.2 0 1,0 4.4,0a2.2,2.2 0 1,0 -4.4,0M1008.5,442.1a2.2,2.2 0 1,0 4.4,0a2.2,2.2 0 1,0 -4.4,0M1014.7,441.79a2.2,2.2 0 1,0 4.4,0a2.2,2.2 0 1,0 -4.4,0M1020.1,439.88a2.2,2.2 0 1,0 4.4,0a2.2,2.2 0 1,0 -4.4,0M1026.2,441.47a2.2,2.2 0 1,0 4.4,0a2.2,2.2 0 1,0 -4.4,0M1031.7,440.66a2.2,2.2 0 1,0 4.4,0a2.2,2.2 0 1,0 -4.4,0M1037.8,442.33a2.2,2.2 0 1,0 4.4,0a2.2,2.2 0 1,0 -4.4,0M1043.2,440.51a2.2,2.2 0 1,0 4.4,0a2.2,2.2 0 1,0 -4.4,0M1049.4,442.06a2.2,2.2 0 1,0 4.4,0a2.2,2.2 0 1,0 -4.4,0M1054.8,439.27a2.2,2.2 0 1,0 4.4,0a2.2,2.2 0 1,0 -4.4,0M1060.9,439.14a2.2,2.2 0 1,0 4.4,0a2.2,2.2 0 1,0 -4.4,0M1066.4,438.33a2.2,2.2 0 1,0 4.4,0a2.2,2.2 0 1,0 -4.4,0M1071.8,435.02a2.2,2.2 0 1,0 4.4,0a2.2,2.2 0 1,0 -4.4,0M1077.9,439.52a2.2,2.2 0 1,0 4.4,0a2.2,2.2 0 1,0 -4.4,0M1083.4,439.68a2.2,2.2 0 1,0 4.4,0a2.2,2.2 0 1,0 -4.4,0M1089.5,440.78a2.2,2.2 0 1,0 4.4,0a2.2,2.2 0 1,0 -4.4,0M1094.9,441.39a2.2,2.2 0 1,0 4.4,0a2.2,2.2 0 1,0 -4.4,0M1101.1,437.04a2.2,2.2 0 1,0 4.4,0a2.2,2.2 0 1,0 -4.4,0M1106.5,439.51a2.2,2.2 0 1,0 4.4,0a2.2,2.2 0 1,0 -4.4,0M1112.6,441.35a2.2,2.2 0 1,0 4.4,0a2.2,2.2 0 1,0 -4.4,0M1118.1,441.43a2.2,2.2 0 1,0 4.4,0a2.2,2.2 0 1,0 -4.4,0M1124.2,441.05a2.2,2.2 0 1,0 4.4,0a2.2,2.2 0 1,0 -4.4,0M1129.6,440.4a2.2,2.2 0 1,0 4.4,0a2.2,2.2 0 1,0 -4.4,0M1135.9,440.54a2.2,2.2 0 1,0 4.4,0a2.2,2.2 0 1,0 -4.4,0M1142.2,438.99a2.2,2.2 0 1,0 4.4,0a2.2,2.2 0 1,0 -4.4,0M1147.7,442.21a2.2,2.2 0 1,0 4.4,0a2.2,2.2 0 1,0 -4.4,0M1153.9,441.38a2.2,2.2 0 1,0 4.4,0a2.2,2.2 0 1,0 -4.4,0M1159.4,441.6a2.2,2.2 0 1,0 4.4,0a2.2,2.2 0 1,0 -4.4,0M1165.7,440.98a2.2,2.2 0 1,0 4.4,0a2.2,2.2 0 1,0 -4.4,0M1171.1,440.07a2.2,2.2 0 1,0 4.4,0a2.2,2.2 0 1,0 -4.4,0M1177.4,441.47a2.2,2.2 0 1,0 4.4,0a2.2,2.2 0 1,0 -4.4,0M1182.9,439.21a2.2,2.2 0 1,0 4.4,0a2.2,2.2 0 1,0 -4.4,0M1188.4,438.68a2.2,2.2 0 1,0 4.4,0a2.2,2.2 0 1,0 -4.4,0M1194.6,442.92a2.2,2.2 0 1,0 4.4,0a2.2,2.2 0 1,0 -4.4,0M1200.1,438.94a2.2,2.2 0 1,0 4.4,0a2.2,2.2 0 1,0 -4.4,0M1206.4,442.74a2.2,2.2 0 1,0 4.4,0a2.2,2.2 0 1,0 -4.4,0M1211.8,442.05a2.2,2.2 0 1,0 4.4,0a2.2,2.2 0 1,0 -4.4,0M1218.1,440.75a2.2,2.2 0 1,0 4.4,0a2.2,2.2 0 1,0 -4.4,0M1223.6,441.41a2.2,2.2 0 1,0 4.4,0a2.2,2.2 0 1,0 -4.4,0M1229,441.92a2.2,2.2 0 1,0 4.4,0a2.2,2.2 0 1,0 -4.4,0M1234.5,439.94a2.2,2.2 0 1,0 4.4,0a2.2,2.2 0 1,0 -4.4,0M1240.8,438.41a2.2,2.2 0 1,0 4.4,0a2.2,2.2 0 1,0 -4.4,0M1246.3,441.15a2.2,2.2 0 1,0 4.4,0a2.2,2.2 0 1,0 -4.4,0M1252.5,441.01a2.2,2.2 0 1,0 4.4,0a2.2,2.2 0 1,0 -4.4,0M1258,441.24a2.2,2.2 0 1,0 4.4,0a2.2,2.2 0 1,0 -4.4,0M1263.5,436.58a2.2,2.2 0 1,0 4.4,0a2.2,2.2 0 1,0 -4.4,0M1269.7,441.15a2.2,2.2 0 1,0 4.4,0a2.2,2.2 0 1,0 -4.4,0M1275.2,440.57a2.2,2.2 0 1,0 4.4,0a2.2,2.2 0 1,0 -4.4,0M1281.5,441.53a2.2,2.2 0 1,0 4.4,0a2.2,2.2 0 1,0 -4.4,0M1286.9,439.76a2.2,2.2 0 1,0 4.4,0a2.2,2.2 0 1,0 -4.4,0M1293.2,440.55a2.2,2.2 0 1,0 4.4,0a2.2,2.2 0 1,0 -4.4,0M1298.7,441.5a2.2,2.2 0 1,0 4.4,0a2.2,2.2 0 1,0 -4.4,0M1304.9,440.37a2.2,2.2 0 1,0 4.4,0a2.2,2.2 0 1,0 -4.4,0M1310.4,441.3a2.2,2.2 0 1,0 4.4,0a2.2,2.2 0 1,0 -4.4,0M1316.7,442.71a2.2,2.2 0 1,0 4.4,0a2.2,2.2 0 1,0 -4.4,0M1322.2,441.16a2.2,2.2 0 1,0 4.4,0a2.2,2.2 0 1,0 -4.4,0M1328.4,441.23a2.2,2.2 0 1,0 4.4,0a2.2,2.2 0 1,0 -4.4,0M1333.9,441.39a2.2,2.2 0 1,0 4.4,0a2.2,2.2 0 1,0 -4.4,0M1339.4,440.73a2.2,2.2 0 1,0 4.4,0a2.2,2.2 0 1,0 -4.4,0M1345.7,440.49a2.2,2.2 0 1,0 4.4,0a2.2,2.2 0 1,0 -4.4,0M1351.1,440.62a2.2,2.2 0 1,0 4.4,0a2.2,2.2 0 1,0 -4.4,0M1357.4,443.51a2.2,2.2 0 1,0 4.4,0a2.2,2.2 0 1,0 -4.4,0" fill="#58d9f9" clip-path="url(#lc)"/>
<polyline points="158.6,438.51 164.1,439.74 170.2,438.22 176.3,432.9 182.4,436.16 188.6,437.1 194,436.63 200.1,439.12 206.3,440.57 211.7,438.85 217.1,440.67 222.6,438.19 228.7,440.48 234.1,440.32 240.3,440.74 245.7,440.99 251.8,438.35 257.3,437.91 263.4,440.42 268.8,437.83 275,438.8 280.4,436.17 285.9,440.15 292,436.34 298.1,441.01 303.5,437.97 309.7,437.18 315.1,438.31 321.2,439.16 326.7,434.57 332.8,439.45 338.2,439.63 344.4,439 349.8,439.29 355.9,440.06 361.8,439.02 367.9,437.58 373.4,437.31 379.5,437.31 384.9,440.86 391.1,438.84 396.5,439.3 401.9,440.31 408.1,437.54 414.2,441.13 419.6,438.85 425.7,440.46 431.2,438.28 437.3,439.35 443.4,439.59 448.9,438.46 455,438 460.4,440.46 466.6,439.37 472,439.39 478.1,440.81 483.6,438.83 489.7,436.86 495.8,438.56 501.3,438.55 507.4,438.85 513.5,438.91 518.9,438.66 525.1,440.8 531.2,436.58 536.6,437.42 542.8,440.97 548.2,438.4 554.1,439.98 560.2,439.79 566.3,438.16 571.8,432.73 577.9,436.23 583.3,437.36 589.5,437.86 595.6,438.54 601,435.26 607.1,439.16 612.6,440.38 618.7,437.23 624.8,437.61 630.3,438.77 636.4,436.11 641.8,440.2 648,440.06 654.1,441.67 660.2,435.97 665.6,438.27 671.8,437.2 677.2,438.56 683.3,440.75 688.8,439.96 694.9,440.92 701,438.13 706.5,438.91 712.6,435.81 718,438.22 724.1,435.93 730.3,440.36 735.7,438.96 741.8,438.53 749.1,437.58 754.5,437.36 760.6,435.6 766.8,437.46 772.9,438.67 778.3,435.08 784.5,438.58 790.6,437.77 796.7,440.16 802.1,441.63 808.3,435.15 814.4,436.69 819.8,434.67 826,439.94 831.4,438.43 837.5,437.72 843,440.7 849.1,435.4 854.5,435.91 860.6,439.6 866.1,436.71 872.2,439.88 877.7,438.88 883.8,441.24 889.2,438.09 895.3,438.06 900.8,434.97 906.9,433.35 913,436.09 918.5,440.15 924.6,440.49 930,438.26 936.2,436.33 942,437.75 947.5,439.93 953.6,435.14 959,438.09 965.2,439.93 970.6,435.98 976.7,439.6 982.2,439.25 987.6,436.52 993.7,439.09 999.2,434.68 1005.3,435.83 1010.7,439.38 1016.9,439.11 1022.3,438.32 1028.4,439.62 1033.9,437.86 1040,440.4 1045.4,438.4 1051.6,439.93 1057,437.57 1063.1,436.81 1068.6,436 1074,430.76 1080.1,437.3 1085.6,437.93 1091.7,437.84 1097.1,439.81 1103.3,433.9 1108.7,436.6 1114.8,439.32 1120.3,439.47 1126.4,438.81 1131.8,438.76 1138.1,438.54 1144.4,436.49 1149.9,439.21 1156.1,439.31 1161.6,439.78 1167.9,438.35 1173.3,439.26 1179.6,439.61 1185.1,437.69 1190.6,437.2 1196.8,439.53 1202.3,436.32 1208.6,439.91 1214,440.48 1220.3,438.03 1225.8,439.59 1231.2,439.97 1236.7,437.85 1243,436.11 1248.5,438.21 1254.7,438.98 1260.2,439.01 1265.7,434.21 1271.9,438.81 1277.4,438.95 1283.7,438.77 1289.1,437.27 1295.4,438.36 1300.9,439.66 1307.1,437.33 1312.6,439.56 1318.9,440.47 1324.4,439.23 1330.6,439.08 1336.1,438.25 1341.6,438.28 1347.9,437.02 1353.3,437.61 1359.6,441.68" fill="none" stroke="#05c091" stroke-width="2" stroke-linejoin="bevel" clip-path="url(#lc)"/>
<path d="M161.9,439.74a2.2,2.2 0 1,0 4.4,0a2.2,2.2 0 1,0 -4.4,0M168,438.22a2.2,2.2 0 1,0 4.4,0a2.2,2.2 0 1,0 -4.4,0M174.1,432.9a2.2,2.2 0 1,0 4.4,0a2.2,2.2 0 1,0 -4.4,0M180.2,436.16a2.2,2.2 0 1,0 4.4,0a2.2,2.2 0 1,0 -4.4,0M186.4,437.1a2.2,2.2 0 1,0 4.4,0a2.2,2.2 0 1,0 -4.4,0M191.8,436.63a2.2,2.2 0 1,0 4.4,0a2.2,2.2 0 1,0 -4.4,0M197.9,439.12a2.2,2.2 0 1,0 4.4,0a2.2,2.2 0 1,0 -4.4,0M204.1,440.57a2.2,2.2 0 1,0 4.4,0a2.2,2.2 0 1,0 -4.4,0M209.5,438.85a2.2,2.2 0 1,0 4.4,0a2.2,2.2 0 1,0 -4.4,0M214.9,440.67a2.2,2.2 0 1,0 4.4,0a2.2,2.2 0 1,0 -4.4,0M220.4,438.19a2.2,2.2 0 1,0 4.4,0a2.2,2.2 0 1,0 -4.4,0M226.5,440.48a2.2,2.2 0 1,0 4.4,0a2.2,2.2 0 1,0 -4.4,0M231.9,440.32a2.2,2.2 0 1,0 4.4,0a2.2,2.2 0 1,0 -4.4,0M238.1,440.74a2.2,2.2 0 1,0 4.4,0a2.2,2.2 0 1,0 -4.4,0M243.5,440.99a2.2,2.2 0 1,0 4.4,0a2.2,2.2 0 1,0 -4.4,0M249.6,438.35a2.2,2.2 0 1,0 4.4,0a2.2,2.2 0 1,0 -4.4,0M255.1,437.91a2.2,2.2 0 1,0 4.4,0a2.2,2.2 0 1,0 -4.4,0M261.2,440.42a2.2,2.2 0 1,0 4.4,0a2.2,2.2 0 1,0 -4.4,0M266.6,437.83a2.2,2.2 0 1,0 4.4,0a2.2,2.2 0 1,0 -4.4,0M272.8,438.8a2.2,2.2 0 1,0 4.4,0a2.2,2.2 0 1,0 -4.4,0M278.2,436.17a2.2,2.2 0 1,0 4.4,0a2.2,2.2 0 1,0 -4.4,0M283.7,440.15a2.2,2.2 0 1,0 4.4,0a2.2,2.2 0 1,0 -4.4,0M289.8,436.34a2.2,2.2 0 1,0 4.4,0a2.2,2.2 0 1,0 -4.4,0M295.9,441.01a2.2,2.2 0 1,0 4.4,0a2.2,2.2 0 1,0 -4.4,0M301.3,437.97a2.2,2.2 0 1,0 4.4,0a2.2,2.2 0 1,0 -4.4,0M307.5,437.18a2.2,2.2 0 1,0 4.4,0a2.2,2.2 0 1,0 -4.4,0M312.9,438.31a2.2,2.2 0 1,0 4.4,0a2.2,2.2 0 1,0 -4.4,0M319,439.16a2.2,2.2 0 1,0 4.4,0a2.2,2.2 0 1,0 -4.4,0M324.5,434.57a2.2,2.2 0 1,0 4.4,0a2.2,2.2 0 1,0 -4.4,0M330.6,439.45a2.2,2.2 0 1,0 4.4,0a2.2,2.2 0 1,0 -4.4,0M336,439.63a2.2,2.2 0 1,0 4.4,0a2.2,2.2 0 1,0 -4.4,0M342.2,439a2.2,2.2 0 1,0 4.4,0a2.2,2.2 0 1,0 -4.4,0M347.6,439.29a2.2,2.2 0 1,0 4.4,0a2.2,2.2 0 1,0 -4.4,0M353.7,440.06a2.2,2.2 0 1,0 4.4,0a2.2,2.2 0 1,0 -4.4,0M359.6,439.02a2.2,2.2 0 1,0 4.4,0a2.2,2.2 0 1,0 -4.4,0M365.7,437.58a2.2,2.2 0 1,0 4.4,0a2.2,2.2 0 1,0 -4.4,0M371.2,437.31a2.2,2.2 0 1,0 4.4,0a2.2,2.2 0 1,0 -4.4,0M377.3,437.31a2.2,2.2 0 1,0 4.4,0a2.2,2.2 0 1,0 -4.4,0M382.7,440.86a2.2,2.2 0 1,0 4.4,0a2.2,2.2 0 1,0 -4.4,0M388.9,438.84a2.2,2.2 0 1,0 4.4,0a2.2,2.2 0 1,0 -4.4,0M394.3,439.3a2.2,2.2 0 1,0 4.4,0a2.2,2.2 0 1,0 -4.4,0M399.7,440.31a2.2,2.2 0 1,0 4.4,0a2.2,2.2 0 1,0 -4.4,0M405.9,437.54a2.2,2.2 0 1,0 4.4,0a2.2,2.2 0 1,0 -4.4,0M412,441.13a2.2,2.2 0 1,0 4.4,0a2.2,2.2 0 1,0 -4.4,0M417.4,438.85a2.2,2.2 0 1,0 4.4,0a2.2,2.2 0 1,0 -4.4,0M423.5,440.46a2.2,2.2 0 1,0 4.4,0a2.2,2.2 0 1,0 -4.4,0M429,438.28a2.2,2.2 0 1,0 4.4,0a2.2,2.2 0 1,0 -4.4,0M435.1,439.35a2.2,2.2 0 1,0 4.4,0a2.2,2.2 0 1,0 -4.4,0M441.2,439.59a2.2,2.2 0 1,0 4.4,0a2.2,2.2 0 1,0 -4.4,0M446.7,438.46a2.2,2.2 0 1,0 4.4,0a2.2,2.2 0 1,0 -4.4,0M452.8,438a2.2,2.2 0 1,0 4.4,0a2.2,2.2 0 1,0 -4.4,0M458.2,440.46a2.2,2.2 0 1,0 4.4,0a2.2,2.2 0 1,0 -4.4,0M464.4,439.37a2.2,2.2 0 1,0 4.4,0a2.2,2.2 0 1,0 -4.4,0M469.8,439.39a2.2,2.2 0 1,0 4.4,0a2.2,2.2 0 1,0 -4.4,0M475.9,440.81a2.2,2.2 0 1,0 4.4,0a2.2,2.2 0 1,0 -4.4,0M481.4,438.83a2.2,2.2 0 1,0 4.4,0a2.2,2.2 0 1,0 -4.4,0M487.5,436.86a2.2,2.2 0 1,0 4.4,0a2.2,2.2 0 1,0 -4.4,0M493.6,438.56a2.2,2.2 0 1,0 4.4,0a2.2,2.2 0 1,0 -4.4,0M499.1,438.55a2.2,2.2 0 1,0 4.4,0a2.2,2.2 0 1,0 -4.4,0M505.2,438.85a2.2,2.2 0 1,0 4.4,0a2.2,2.2 0 1,0 -4.4,0M511.3,438.91a2.2,2.2 0 1,0 4.4,0a2.2,2.2 0 1,0 -4.4,0M516.7,438.66a2.2,2.2 0 1,0 4.4,0a2.2,2.2 0 1,0 -4.4,0M522.9,440.8a2.2,2.2 0 1,0 4.4,0a2.2,2.2 0 1,0 -4.4,0M529,436.58a2.2,2.2 0 1,0 4.4,0a2.2,2.2 0 1,0 -4.4,0M534.4,437.42a2.2,2.2 0 1,0 4.4,0a2.2,2.2 0 1,0 -4.4,0M540.6,440.97a2.2,2.2 0 1,0 4.4,0a2.2,2.2 0 1,0 -4.4,0M546,438.4a2.2,2.2 0 1,0 4.4,0a2.2,2.2 0 1,0 -4.4,0M551.9,439.98a2.2,2.2 0 1,0 4.4,0a2.2,2.2 0 1,0 -4.4,0M558,439.79a2.2,2.2 0 1,0 4.4,0a2.2,2.2 0 1,0 -4.4,0M564.1,438.16a2.2,2.2 0 1,0 4.4,0a2.2,2.2 0 1,0 -4.4,0M569.6,432.73a2.2,2.2 0 1,0 4.4,0a2.2,2.2 0 1,0 -4.4,0M575.7,436.23a2.2,2.2 0 1,0 4.4,0a2.2,2.2 0 1,0 -4.4,0M581.1,437.36a2.2,2.2 0 1,0 4.4,0a2.2,2.2 0 1,0 -4.4,0M587.3,437.86a2.2,2.2 0 1,0 4.4,0a2.2,2.2 0 1,0 -4.4,0M593.4,438.54a2.2,2.2 0 1,0 4.4,0a2.2,2.2 0 1,0 -4.4,0M598.8,435.26a2.2,2.2 0 1,0 4.4,0a2.2,2.2 0 1,0 -4.4,0M604.9,439.16a2.2,2.2 0 1,0 4.4,0a2.2,2.2 0 1,0 -4.4,0M610.4,440.38a2.2,2.2 0 1,0 4.4,0a2.2,2.2 0 1,0 -4.4,0M616.5,437.23a2.2,2.2 0 1,0 4.4,0a2.2,2.2 0 1,0 -4.4,0M622.6,437.61a2.2,2.2 0 1,0 4.4,0a2.2,2.2 0 1,0 -4.4,0M628.1,438.77a2.2,2.2 0 1,0 4.4,0a2.2,2.2 0 1,0 -4.4,0M634.2,436.11a2.2,2.2 0 1,0 4.4,0a2.2,2.2 0 1,0 -4.4,0M639.6,440.2a2.2,2.2 0 1,0 4.4,0a2.2,2.2 0 1,0 -4.4,0M645.8,440.06a2.2,2.2 0 1,0 4.4,0a2.2,2.2 0 1,0 -4.4,0M651.9,441.67a2.2,2.2 0 1,0 4.4,0a2.2,2.2 0 1,0 -4.4,0M658,435.97a2.2,2.2 0 1,0 4.4,0a2.2,2.2 0 1,0 -4.4,0M663.4,438.27a2.2,2.2 0 1,0 4.4,0a2.2,2.2 0 1,0 -4.4,0M669.6,437.2a2.2,2.2 0 1,0 4.4,0a2.2,2.2 0 1,0 -4.4,0M675,438.56a2.2,2.2 0 1,0 4.4,0a2.2,2.2 0 1,0 -4.4,0M681.1,440.75a2.2,2.2 0 1,0 4.4,0a2.2,2.2 0 1,0 -4.4,0M686.6,439.96a2.2,2.2 0 1,0 4.4,0a2.2,2.2 0 1,0 -4.4,0M692.7,440.92a2.2,2.2 0 1,0 4.4,0a2.2,2.2 0 1,0 -4.4,0M698.8,438.13a2.2,2.2 0 1,0 4.4,0a2.2,2.2 0 1,0 -4.4,0M704.3,438.91a2.2,2.2 0 1,0 4.4,0a2.2,2.2 0 1,0 -4.4,0M710.4,435.81a2.2,2.2 0 1,0 4.4,0a2.2,2.2 0 1,0 -4.4,0M715.8,438.22a2.2,2.2 0 1,0 4.4,0a2.2,2.2 0 1,0 -4.4,0M721.9,435.93a2.2,2.2 0 1,0 4.4,0a2.2,2.2 0 1,0 -4.4,0M728.1,440.36a2.2,2.2 0 1,0 4.4,0a2.2,2.2 0 1,0 -4.4,0M733.5,438.96a2.2,2.2 0 1,0 4.4,0a2.2,2.2 0 1,0 -4.4,0M739.6,438.53a2.2,2.2 0 1,0 4.4,0a2.2,2.2 0 1,0 -4.4,0M746.9,437.58a2.2,2.2 0 1,0 4.4,0a2.2,2.2 0 1,0 -4.4,0M752.3,437.36a2.2,2.2 0 1,0 4.4,0a2.2,2.2 0 1,0 -4.4,0M758.4,435.6a2.2,2.2 0 1,0 4.4,0a2.2,2.2 0 1,0 -4.4,0M764.6,437.46a2.2,2.2 0 1,0 4.4,0a2.2,2.2 0 1,0 -4.4,0M770.7,438.67a2.2,2.2 0 1,0 4.4,0a2.2,2.2 0 1,0 -4.4,0M776.1,435.08a2.2,2.2 0 1,0 4.4,0a2.2,2.2 0 1,0 -4.4,0M782.3,438.58a2.2,2.2 0 1,0 4.4,0a2.2,2.2 0 1,0 -4.4,0M788.4,437.77a2.2,2.2 0 1,0 4.4,0a2.2,2.2 0 1,0 -4.4,0M794.5,440.16a2.2,2.2 0 1,0 4.4,0a2.2,2.2 0 1,0 -4.4,0M799.9,441.63a2.2,2.2 0 1,0 4.4,0a2.2,2.2 0 1,0 -4.4,0M806.1,435.15a2.2,2.2 0 1,0 4.4,0a2.2,2.2 0 1,0 -4.4,0M812.2,436.69a2.2,2.2 0 1,0 4.4,0a2.2,2.2 0 1,0 -4.4,0M817.6,434.67a2.2,2.2 0 1,0 4.4,0a2.2,2.2 0 1,0 -4.4,0M823.8,439.94a2.2,2.2 0 1,0 4.4,0a2.2,2.2 0 1,0 -4.4,0M829.2,438.43a2.2,2.2 0 1,0 4.4,0a2.2,2.2 0 1,0 -4.4,0M835.3,437.72a2.2,2.2 0 1,0 4.4,0a2.2,2.2 0 1,0 -4.4,0M840.8,440.7a2.2,2.2 0 1,0 4.4,0a2.2,2.2 0 1,0 -4.4,0M846.9,435.4a2.2,2.2 0 1,0 4.4,0a2.2,2.2 0 1,0 -4.4,0M852.3,435.91a2.2,2.2 0 1,0 4.4,0a2.2,2.2 0 1,0 -4.4,0M858.4,439.6a2.2,2.2 0 1,0 4.4,0a2.2,2.2 0 1,0 -4.4,0M863.9,436.71a2.2,2.2 0 1,0 4.4,0a2.2,2.2 0 1,0 -4.4,0M870,439.88a2.2,2.2 0 1,0 4.4,0a2.2,2.2 0 1,0 -4.4,0M875.5,438.88a2.2,2.2 0 1,0 4.4,0a2.2,2.2 0 1,0 -4.4,0M881.6,441.24a2.2,2.2 0 1,0 4.4,0a2.2,2.2 0 1,0 -4.4,0M887,438.09a2.2,2.2 0 1,0 4.4,0a2.2,2.2 0 1,0 -4.4,0M893.1,438.06a2.2,2.2 0 1,0 4.4,0a2.2,2.2 0 1,0 -4.4,0M898.6,434.97a2.2,2.2 0 1,0 4.4,0a2.2,2.2 0 1,0 -4.4,0M904.7,433.35a2.2,2.2 0 1,0 4.4,0a2.2,2.2 0 1,0 -4.4,0M910.8,436.09a2.2,2.2 0 1,0 4.4,0a2.2,2.2 0 1,0 -4.4,0M916.3,440.15a2.2,2.2 0 1,0 4.4,0a2.2,2.2 0 1,0 -4.4,0M922.4,440.49a2.2,2.2 0 1,0 4.4,0a2.2,2.2 0 1,0 -4.4,0M927.8,438.26a2.2,2.2 0 1,0 4.4,0a2.2,2.2 0 1,0 -4.4,0M934,436.33a2.2,2.2 0 1,0 4.4,0a2.2,2.2 0 1,0 -4.4,0M939.8,437.75a2.2,2.2 0 1,0 4.4,0a2.2,2.2 0 1,0 -4.4,0M945.3,439.93a2.2,2.2 0 1,0 4.4,0a2.2,2.2 0 1,0 -4.4,0M951.4,435.14a2.2,2.2 0 1,0 4.4,0a2.2,2.2 0 1,0 -4.4,0M956.8,438.09a2.2,2.2 0 1,0 4.4,0a2.2,2.2 0 1,0 -4.4,0M963,439.93a2.2,2.2 0 1,0 4.4,0a2.2,2.2 0 1,0 -4.4,0M968.4,435.98a2.2,2.2 0 1,0 4.4,0a2.2,2.2 0 1,0 -4.4,0M974.5,439.6a2.2,2.2 0 1,0 4.4,0a2.2,2.2 0 1,0 -4.4,0M980,439.25a2.2,2.2 0 1,0 4.4,0a2.2,2.2 0 1,0 -4.4,0M985.4,436.52a2.2,2.2 0 1,0 4.4,0a2.2,2.2 0 1,0 -4.4,0M991.5,439.09a2.2,2.2 0 1,0 4.4,0a2.2,2.2 0 1,0 -4.4,0M997,434.68a2.2,2.2 0 1,0 4.4,0a2.2,2.2 0 1,0 -4.4,0M1003.1,435.83a2.2,2.2 0 1,0 4.4,0a2.2,2.2 0 1,0 -4.4,0M1008.5,439.38a2.2,2.2 0 1,0 4.4,0a2.2,2.2 0 1,0 -4.4,0M1014.7,439.11a2.2,2.2 0 1,0 4.4,0a2.2,2.2 0 1,0 -4.4,0M1020.1,438.32a2.2,2.2 0 1,0 4.4,0a2.2,2.2 0 1,0 -4.4,0M1026.2,439.62a2.2,2.2 0 1,0 4.4,0a2.2,2.2 0 1,0 -4.4,0M1031.7,437.86a2.2,2.2 0 1,0 4.4,0a2.2,2.2 0 1,0 -4.4,0M1037.8,440.4a2.2,2.2 0 1,0 4.4,0a2.2,2.2 0 1,0 -4.4,0M1043.2,438.4a2.2,2.2 0 1,0 4.4,0a2.2,2.2 0 1,0 -4.4,0M1049.4,439.93a2.2,2.2 0 1,0 4.4,0a2.2,2.2 0 1,0 -4.4,0M1054.8,437.57a2.2,2.2 0 1,0 4.4,0a2.2,2.2 0 1,0 -4.4,0M1060.9,436.81a2.2,2.2 0 1,0 4.4,0a2.2,2.2 0 1,0 -4.4,0M1066.4,436a2.2,2.2 0 1,0 4.4,0a2.2,2.2 0 1,0 -4.4,0M1071.8,430.76a2.2,2.2 0 1,0 4.4,0a2.2,2.2 0 1,0 -4.4,0M1077.9,437.3a2.2,2.2 0 1,0 4.4,0a2.2,2.2 0 1,0 -4.4,0M1083.4,437.93a2.2,2.2 0 1,0 4.4,0a2.2,2.2 0 1,0 -4.4,0M1089.5,437.84a2.2,2.2 0 1,0 4.4,0a2.2,2.2 0 1,0 -4.4,0M1094.9,439.81a2.2,2.2 0 1,0 4.4,0a2.2,2.2 0 1,0 -4.4,0M1101.1,433.9a2.2,2.2 0 1,0 4.4,0a2.2,2.2 0 1,0 -4.4,0M1106.5,436.6a2.2,2.2 0 1,0 4.4,0a2.2,2.2 0 1,0 -4.4,0M1112.6,439.32a2.2,2.2 0 1,0 4.4,0a2.2,2.2 0 1,0 -4.4,0M1118.1,439.47a2.2,2.2 0 1,0 4.4,0a2.2,2.2 0 1,0 -4.4,0M1124.2,438.81a2.2,2.2 0 1,0 4.4,0a2.2,2.2 0 1,0 -4.4,0M1129.6,438.76a2.2,2.2 0 1,0 4.4,0a2.2,2.2 0 1,0 -4.4,0M1135.9,438.54a2.2,2.2 0 1,0 4.4,0a2.2,2.2 0 1,0 -4.4,0M1142.2,436.49a2.2,2.2 0 1,0 4.4,0a2.2,2.2 0 1,0 -4.4,0M1147.7,439.21a2.2,2.2 0 1,0 4.4,0a2.2,2.2 0 1,0 -4.4,0M1153.9,439.31a2.2,2.2 0 1,0 4.4,0a2.2,2.2 0 1,0 -4.4,0M1159.4,439.78a2.2,2.2 0 1,0 4.4,0a2.2,2.2 0 1,0 -4.4,0M1165.7,438.35a2.2,2.2 0 1,0 4.4,0a2.2,2.2 0 1,0 -4.4,0M1171.1,439.26a2.2,2.2 0 1,0 4.4,0a2.2,2.2 0 1,0 -4.4,0M1177.4,439.61a2.2,2.2 0 1,0 4.4,0a2.2,2.2 0 1,0 -4.4,0M1182.9,437.69a2.2,2.2 0 1,0 4.4,0a2.2,2.2 0 1,0 -4.4,0M1188.4,437.2a2.2,2.2 0 1,0 4.4,0a2.2,2.2 0 1,0 -4.4,0M1194.6,439.53a2.2,2.2 0 1,0 4.4,0a2.2,2.2 0 1,0 -4.4,0M1200.1,436.32a2.2,2.2 0 1,0 4.4,0a2.2,2.2 0 1,0 -4.4,0M1206.4,439.91a2.2,2.2 0 1,0 4.4,0a2.2,2.2 0 1,0 -4.4,0M1211.8,440.48a2.2,2.2 0 1,0 4.4,0a2.2,2.2 0 1,0 -4.4,0M1218.1,438.03a2.2,2.2 0 1,0 4.4,0a2.2,2.2 0 1,0 -4.4,0M1223.6,439.59a2.2,2.2 0 1,0 4.4,0a2.2,2.2 0 1,0 -4.4,0M1229,439.97a2.2,2.2 0 1,0 4.4,0a2.2,2.2 0 1,0 -4.4,0M1234.5,437.85a2.2,2.2 0 1,0 4.4,0a2.2,2.2 0 1,0 -4.4,0M1240.8,436.11a2.2,2.2 0 1,0 4.4,0a2.2,2.2 0 1,0 -4.4,0M1246.3,438.21a2.2,2.2 0 1,0 4.4,0a2.2,2.2 0 1,0 -4.4,0M1252.5,438.98a2.2,2.2 0 1,0 4.4,0a2.2,2.2 0 1,0 -4.4,0M1258,439.01a2.2,2.2 0 1,0 4.4,0a2.2,2.2 0 1,0 -4.4,0M1263.5,434.21a2.2,2.2 0 1,0 4.4,0a2.2,2.2 0 1,0 -4.4,0M1269.7,438.81a2.2,2.2 0 1,0 4.4,0a2.2,2.2 0 1,0 -4.4,0M1275.2,438.95a2.2,2.2 0 1,0 4.4,0a2.2,2.2 0 1,0 -4.4,0M1281.5,438.77a2.2,2.2 0 1,0 4.4,0a2.2,2.2 0 1,0 -4.4,0M1286.9,437.27a2.2,2.2 0 1,0 4.4,0a2.2,2.2 0 1,0 -4.4,0M1293.2,438.36a2.2,2.2 0 1,0 4.4,0a2.2,2.2 0 1,0 -4.4,0M1298.7,439.66a2.2,2.2 0 1,0 4.4,0a2.2,2.2 0 1,0 -4.4,0M1304.9,437.33a2.2,2.2 0 1,0 4.4,0a2.2,2.2 0 1,0 -4.4,0M1310.4,439.56a2.2,2.2 0 1,0 4.4,0a2.2,2.2 0 1,0 -4.4,0M1316.7,440.47a2.2,2.2 0 1,0 4.4,0a2.2,2.2 0 1,0 -4.4,0M1322.2,439.23a2.2,2.2 0 1,0 4.4,0a2.2,2.2 0 1,0 -4.4,0M1328.4,439.08a2.2,2.2 0 1,0 4.4,0a2.2,2.2 0 1,0 -4.4,0M1333.9,438.25a2.2,2.2 0 1,0 4.4,0a2.2,2.2 0 1,0 -4.4,0M1339.4,438.28a2.2,2.2 0 1,0 4.4,0a2.2,2.2 0 1,0 -4.4,0M1345.7,437.02a2.2,2.2 0 1,0 4.4,0a2.2,2.2 0 1,0 -4.4,0M1351.1,437.61a2.2,2.2 0 1,0 4.4,0a2.2,2.2 0 1,0 -4.4,0M1357.4,441.68a2.2,2.2 0 1,0 4.4,0a2.2,2.2 0 1,0 -4.4,0" fill="#05c091" clip-path="url(#lc)"/>
<polyline points="158.6,425.91 164.1,425.49 170.2,422.46 176.3,417.53 182.4,422.37 188.6,423.84 194,422.48 200.1,425.48 206.3,425.95 211.7,425.63 217.1,427.02 222.6,424.27 228.7,426.8 234.1,427.5 240.3,427.35 245.7,428.19 251.8,424.37 257.3,423.78 263.4,428.03 268.8,423.27 275,424.77 280.4,422.38 285.9,426.65 292,422.83 298.1,425.98 303.5,424.35 309.7,421.9 315.1,425.6 321.2,425.72 326.7,420.56 332.8,424.82 338.2,426.12 344.4,425.14 349.8,426.15 355.9,425.66 361.8,424.45 367.9,422.35 373.4,423.04 379.5,423.36 384.9,427.21 391.1,424.29 396.5,426.07 401.9,425.92 408.1,422.84 414.2,427.04 419.6,424.58 425.7,427.08 431.2,424.88 437.3,426.78 443.4,425.06 448.9,423.88 455,425.19 460.4,426.29 466.6,425.44 472,426.42 478.1,427 483.6,425.06 489.7,422.55 495.8,423.91 501.3,425.46 507.4,425.1 513.5,425.32 518.9,425.67 525.1,427.15 531.2,422.23 536.6,423.54 542.8,427.16 548.2,424.3 554.1,427.13 560.2,426.28 566.3,424.16 571.8,417.15 577.9,421.33 583.3,423.67 589.5,422.96 595.6,424.99 601,420.28 607.1,424.73 612.6,426.06 618.7,423.17 624.8,423.61 630.3,424.98 636.4,420.96 641.8,426.77 648,426.59 654.1,426.86 660.2,421.91 665.6,424.53 671.8,423.25 677.2,424.38 683.3,427.59 688.8,426.64 694.9,426.73 701,423.27 706.5,424.62 712.6,422.55 718,423.51 724.1,421.65 730.3,427.17 735.7,425.69 741.8,426.07 749.1,423.75 754.5,423.9 760.6,421.32 766.8,423.58 772.9,425.09 778.3,419.9 784.5,425.39 790.6,424.32 796.7,425.87 802.1,428.58 808.3,421.19 814.4,422.64 819.8,419.26 826,425.58 831.4,424.87 837.5,424.53 843,427.94 849.1,420.09 854.5,421.87 860.6,426.68 866.1,422.25 872.2,427.11 877.7,424.27 883.8,427.94 889.2,424.24 895.3,424.58 900.8,420.66 906.9,417.44 913,421.39 918.5,423.93 924.6,425.93 930,425.07 936.2,421.07 942,424.03 947.5,425.88 953.6,420.03 959,423.84 965.2,425.89 970.6,420.74 976.7,425.04 982.2,425.15 987.6,423.52 993.7,425.54 999.2,419.41 1005.3,421.04 1010.7,425.93 1016.9,425.43 1022.3,423.68 1028.4,425.63 1033.9,423.89 1040,427.75 1045.4,424.27 1051.6,426.44 1057,423.25 1063.1,422.15 1068.6,422.36 1074,415.45 1080.1,422.87 1085.6,423.8 1091.7,424.6 1097.1,426.23 1103.3,418.88 1108.7,422.71 1114.8,425.79 1120.3,425.57 1126.4,424.79 1131.8,424.79 1138.1,424.55 1144.4,422.17 1149.9,425.64 1156.1,425.88 1161.6,425.93 1167.9,424.35 1173.3,424.4 1179.6,425.8 1185.1,423.64 1190.6,422.9 1196.8,426.48 1202.3,421.92 1208.6,425.88 1214,426 1220.3,423.11 1225.8,425.71 1231.2,427.25 1236.7,424.2 1243,420.75 1248.5,424.56 1254.7,425.61 1260.2,424.98 1265.7,418.02 1271.9,425.67 1277.4,424.96 1283.7,424.95 1289.1,424.19 1295.4,424.49 1300.9,426.14 1307.1,424.15 1312.6,425.05 1318.9,427.02 1324.4,425.42 1330.6,425.11 1336.1,425.41 1341.6,424.47 1347.9,423.21 1353.3,423.53 1359.6,428.08" fill="none" stroke="#ff8a45" stroke-width="2" stroke-linejoin="bevel" clip-path="url(#lc)"/>
<path d="M161.9,425.49a2.2,2.2 0 1,0 4.4,0a2.2,2.2 0 1,0 -4.4,0M168,422.46a2.2,2.2 0 1,0 4.4,0a2.2,2.2 0 1,0 -4.4,0M174.1,417.53a2.2,2.2 0 1,0 4.4,0a2.2,2.2 0 1,0 -4.4,0M180.2,422.37a2.2,2.2 0 1,0 4.4,0a2.2,2.2 0 1,0 -4.4,0M186.4,423.84a2.2,2.2 0 1,0 4.4,0a2.2,2.2 0 1,0 -4.4,0M191.8,422.48a2.2,2.2 0 1,0 4.4,0a2.2,2.2 0 1,0 -4.4,0M197.9,425.48a2.2,2.2 0 1,0 4.4,0a2.2,2.2 0 1,0 -4.4,0M204.1,425.95a2.2,2.2 0 1,0 4.4,0a2.2,2.2 0 1,0 -4.4,0M209.5,425.63a2.2,2.2 0 1,0 4.4,0a2.2,2.2 0 1,0 -4.4,0M214.9,427.02a2.2,2.2 0 1,0 4.4,0a2.2,2.2 0 1,0 -4.4,0M220.4,424.27a2.2,2.2 0 1,0 4.4,0a2.2,2.2 0 1,0 -4.4,0M226.5,426.8a2.2,2.2 0 1,0 4.4,0a2.2,2.2 0 1,0 -4.4,0M231.9,427.5a2.2,2.2 0 1,0 4.4,0a2.2,2.2 0 1,0 -4.4,0M238.1,427.35a2.2,2.2 0 1,0 4.4,0a2.2,2.2 0 1,0 -4.4,0M243.5,428.19a2.2,2.2 0 1,0 4.4,0a2.2,2.2 0 1,0 -4.4,0M249.6,424.37a2.2,2.2 0 1,0 4.4,0a2.2,2.2 0 1,0 -4.4,0M255.1,423.78a2.2,2.2 0 1,0 4.4,0a2.2,2.2 0 1,0 -4.4,0M261.2,428.03a2.2,2.2 0 1,0 4.4,0a2.2,2.2 0 1,0 -4.4,0M266.6,423.27a2.2,2.2 0 1,0 4.4,0a2.2,2.2 0 1,0 -4.4,0M272.8,424.77a2.2,2.2 0 1,0 4.4,0a2.2,2.2 0 1,0 -4.4,0M278.2,422.38a2.2,2.2 0 1,0 4.4,0a2.2,2.2 0 1,0 -4.4,0M283.7,426.65a2.2,2.2 0 1,0 4.4,0a2.2,2.2 0 1,0 -4.4,0M289.8,422.83a2.2,2.2 0 1,0 4.4,0a2.2,2.2 0 1,0 -4.4,0M295.9,425.98a2.2,2.2 0 1,0 4.4,0a2.2,2.2 0 1,0 -4.4,0M301.3,424.35a2.2,2.2 0 1,0 4.4,0a2.2,2.2 0 1,0 -4.4,0M307.5,421.9a2.2,2.2 0 1,0 4.4,0a2.2,2.2 0 1,0 -4.4,0M312.9,425.6a2.2,2.2 0 1,0 4.4,0a2.2,2.2 0 1,0 -4.4,0M319,425.72a2.2,2.2 0 1,0 4.4,0a2.2,2.2 0 1,0 -4.4,0M324.5,420.56a2.2,2.2 0 1,0 4.4,0a2.2,2.2 0 1,0 -4.4,0M330.6,424.82a2.2,2.2 0 1,0 4.4,0a2.2,2.2 0 1,0 -4.4,0M336,426.12a2.2,2.2 0 1,0 4.4,0a2.2,2.2 0 1,0 -4.4,0M342.2,425.14a2.2,2.2 0 1,0 4.4,0a2.2,2.2 0 1,0 -4.4,0M347.6,426.15a2.2,2.2 0 1,0 4.4,0a2.2,2.2 0 1,0 -4.4,0M353.7,425.66a2.2,2.2 0 1,0 4.4,0a2.2,2.2 0 1,0 -4.4,0M359.6,424.45a2.2,2.2 0 1,0 4.4,0a2.2,2.2 0 1,0 -4.4,0M365.7,422.35a2.2,2.2 0 1,0 4.4,0a2.2,2.2 0 1,0 -4.4,0M371.2,423.04a2.2,2.2 0 1,0 4.4,0a2.2,2.2 0 1,0 -4.4,0M377.3,423.36a2.2,2.2 0 1,0 4.4,0a2.2,2.2 0 1,0 -4.4,0M382.7,427.21a2.2,2.2 0 1,0 4.4,0a2.2,2.2 0 1,0 -4.4,0M388.9,424.29a2.2,2.2 0 1,0 4.4,0a2.2,2.2 0 1,0 -4.4,0M394.3,426.07a2.2,2.2 0 1,0 4.4,0a2.2,2.2 0 1,0 -4.4,0M399.7,425.92a2.2,2.2 0 1,0 4.4,0a2.2,2.2 0 1,0 -4.4,0M405.9,422.84a2.2,2.2 0 1,0 4.4,0a2.2,2.2 0 1,0 -4.4,0M412,427.04a2.2,2.2 0 1,0 4.4,0a2.2,2.2 0 1,0 -4.4,0M417.4,424.58a2.2,2.2 0 1,0 4.4,0a2.2,2.2 0 1,0 -4.4,0M423.5,427.08a2.2,2.2 0 1,0 4.4,0a2.2,2.2 0 1,0 -4.4,0M429,424.88a2.2,2.2 0 1,0 4.4,0a2.2,2.2 0 1,0 -4.4,0M435.1,426.78a2.2,2.2 0 1,0 4.4,0a2.2,2.2 0 1,0 -4.4,0M441.2,425.06a2.2,2.2 0 1,0 4.4,0a2.2,2.2 0 1,0 -4.4,0M446.7,423.88a2.2,2.2 0 1,0 4.4,0a2.2,2.2 0 1,0 -4.4,0M452.8,425.19a2.2,2.2 0 1,0 4.4,0a2.2,2.2 0 1,0 -4.4,0M458.2,426.29a2.2,2.2 0 1,0 4.4,0a2.2,2.2 0 1,0 -4.4,0M464.4,425.44a2.2,2.2 0 1,0 4.4,0a2.2,2.2 0 1,0 -4.4,0M469.8,426.42a2.2,2.2 0 1,0 4.4,0a2.2,2.2 0 1,0 -4.4,0M475.9,427a2.2,2.2 0 1,0 4.4,0a2.2,2.2 0 1,0 -4.4,0M481.4,425.06a2.2,2.2 0 1,0 4.4,0a2.2,2.2 0 1,0 -4.4,0M487.5,422.55a2.2,2.2 0 1,0 4.4,0a2.2,2.2 0 1,0 -4.4,0M493.6,423.91a2.2,2.2 0 1,0 4.4,0a2.2,2.2 0 1,0 -4.4,0M499.1,425.46a2.2,2.2 0 1,0 4.4,0a2.2,2.2 0 1,0 -4.4,0M505.2,425.1a2.2,2.2 0 1,0 4.4,0a2.2,2.2 0 1,0 -4.4,0M511.3,425.32a2.2,2.2 0 1,0 4.4,0a2.2,2.2 0 1,0 -4.4,0M516.7,425.67a2.2,2.2 0 1,0 4.4,0a2.2,2.2 0 1,0 -4.4,0M522.9,427.15a2.2,2.2 0 1,0 4.4,0a2.2,2.2 0 1,0 -4.4,0M529,422.23a2.2,2.2 0 1,0 4.4,0a2.2,2.2 0 1,0 -4.4,0M534.4,423.54a2.2,2.2 0 1,0 4.4,0a2.2,2.2 0 1,0 -4.4,0M540.6,427.16a2.2,2.2 0 1,0 4.4,0a2.2,2.2 0 1,0 -4.4,0M546,424.3a2.2,2.2 0 1,0 4.4,0a2.2,2.2 0 1,0 -4.4,0M551.9,427.13a2.2,2.2 0 1,0 4.4,0a2.2,2.2 0 1,0 -4.4,0M558,426.28a2.2,2.2 0 1,0 4.4,0a2.2,2.2 0 1,0 -4.4,0M564.1,424.16a2.2,2.2 0 1,0 4.4,0a2.2,2.2 0 1,0 -4.4,0M569.6,417.15a2.2,2.2 0 1,0 4.4,0a2.2,2.2 0 1,0 -4.4,0M575.7,421.33a2.2,2.2 0 1,0 4.4,0a2.2,2.2 0 1,0 -4.4,0M581.1,423.67a2.2,2.2 0 1,0 4.4,0a2.2,2.2 0 1,0 -4.4,0M587.3,422.96a2.2,2.2 0 1,0 4.4,0a2.2,2.2 0 1,0 -4.4,0M593.4,424.99a2.2,2.2 0 1,0 4.4,0a2.2,2.2 0 1,0 -4.4,0M598.8,420.28a2.2,2.2 0 1,0 4.4,0a2.2,2.2 0 1,0 -4.4,0M604.9,424.73a2.2,2.2 0 1,0 4.4,0a2.2,2.2 0 1,0 -4.4,0M610.4,426.06a2.2,2.2 0 1,0 4.4,0a2.2,2.2 0 1,0 -4.4,0M616.5,423.17a2.2,2.2 0 1,0 4.4,0a2.2,2.2 0 1,0 -4.4,0M622.6,423.61a2.2,2.2 0 1,0 4.4,0a2.2,2.2 0 1,0 -4.4,0M628.1,424.98a2.2,2.2 0 1,0 4.4,0a2.2,2.2 0 1,0 -4.4,0M634.2,420.96a2.2,2.2 0 1,0 4.4,0a2.2,2.2 0 1,0 -4.4,0M639.6,426.77a2.2,2.2 0 1,0 4.4,0a2.2,2.2 0 1,0 -4.4,0M645.8,426.59a2.2,2.2 0 1,0 4.4,0a2.2,2.2 0 1,0 -4.4,0M651.9,426.86a2.2,2.2 0 1,0 4.4,0a2.2,2.2 0 1,0 -4.4,0M658,421.91a2.2,2.2 0 1,0 4.4,0a2.2,2.2 0 1,0 -4.4,0M663.4,424.53a2.2,2.2 0 1,0 4.4,0a2.2,2.2 0 1,0 -4.4,0M669.6,423.25a2.2,2.2 0 1,0 4.4,0a2.2,2.2 0 1,0 -4.4,0M675,424.38a2.2,2.2 0 1,0 4.4,0a2.2,2.2 0 1,0 -4.4,0M681.1,427.59a2.2,2.2 0 1,0 4.4,0a2.2,2.2 0 1,0 -4.4,0M686.6,426.64a2.2,2.2 0 1,0 4.4,0a2.2,2.2 0 1,0 -4.4,0M692.7,426.73a2.2,2.2 0 1,0 4.4,0a2.2,2.2 0 1,0 -4.4,0M698.8,423.27a2.2,2.2 0 1,0 4.4,0a2.2,2.2 0 1,0 -4.4,0M704.3,424.62a2.2,2.2 0 1,0 4.4,0a2.2,2.2 0 1,0 -4.4,0M710.4,422.55a2.2,2.2 0 1,0 4.4,0a2.2,2.2 0 1,0 -4.4,0M715.8,423.51a2.2,2.2 0 1,0 4.4,0a2.2,2.2 0 1,0 -4.4,0M721.9,421.65a2.2,2.2 0 1,0 4.4,0a2.2,2.2 0 1,0 -4.4,0M728.1,427.17a2.2,2.2 0 1,0 4.4,0a2.2,2.2 0 1,0 -4.4,0M733.5,425.69a2.2,2.2 0 1,0 4.4,0a2.2,2.2 0 1,0 -4.4,0M739.6,426.07a2.2,2.2 0 1,0 4.4,0a2.2,2.2 0 1,0 -4.4,0M746.9,423.75a2.2,2.2 0 1,0 4.4,0a2.2,2.2 0 1,0 -4.4,0M752.3,423.9a2.2,2.2 0 1,0 4.4,0a2.2,2.2 0 1,0 -4.4,0M758.4,421.32a2.2,2.2 0 1,0 4.4,0a2.2,2.2 0 1,0 -4.4,0M764.6,423.58a2.2,2.2 0 1,0 4.4,0a2.2,2.2 0 1,0 -4.4,0M770.7,425.09a2.2,2.2 0 1,0 4.4,0a2.2,2.2 0 1,0 -4.4,0M776.1,419.9a2.2,2.2 0 1,0 4.4,0a2.2,2.2 0 1,0 -4.4,0M782.3,425.39a2.2,2.2 0 1,0 4.4,0a2.2,2.2 0 1,0 -4.4,0M788.4,424.32a2.2,2.2 0 1,0 4.4,0a2.2,2.2 0 1,0 -4.4,0M794.5,425.87a2.2,2.2 0 1,0 4.4,0a2.2,2.2 0 1,0 -4.4,0M799.9,428.58a2.2,2.2 0 1,0 4.4,0a2.2,2.2 0 1,0 -4.4,0M806.1,421.19a2.2,2.2 0 1,0 4.4,0a2.2,2.2 0 1,0 -4.4,0M812.2,422.64a2.2,2.2 0 1,0 4.4,0a2.2,2.2 0 1,0 -4.4,0M817.6,419.26a2.2,2.2 0 1,0 4.4,0a2.2,2.2 0 1,0 -4.4,0M823.8,425.58a2.2,2.2 0 1,0 4.4,0a2.2,2.2 0 1,0 -4.4,0M829.2,424.87a2.2,2.2 0 1,0 4.4,0a2.2,2.2 0 1,0 -4.4,0M835.3,424.53a2.2,2.2 0 1,0 4.4,0a2.2,2.2 0 1,0 -4.4,0M840.8,427.94a2.2,2.2 0 1,0 4.4,0a2.2,2.2 0 1,0 -4.4,0M846.9,420.09a2.2,2.2 0 1,0 4.4,0a2.2,2.2 0 1,0 -4.4,0M852.3,421.87a2.2,2.2 0 1,0 4.4,0a2.2,2.2 0 1,0 -4.4,0M858.4,426.68a2.2,2.2 0 1,0 4.4,0a2.2,2.2 0 1,0 -4.4,0M863.9,422.25a2.2,2.2 0 1,0 4.4,0a2.2,2.2 0 1,0 -4.4,0M870,427.11a2.2,2.2 0 1,0 4.4,0a2.2,2.2 0 1,0 -4.4,0M875.5,424.27a2.2,2.2 0 1,0 4.4,0a2.2,2.2 0 1,0 -4.4,0M881.6,427.94a2.2,2.2 0 1,0 4.4,0a2.2,2.2 0 1,0 -4.4,0M887,424.24a2.2,2.2 0 1,0 4.4,0a2.2,2.2 0 1,0 -4.4,0M893.1,424.58a2.2,2.2 0 1,0 4.4,0a2.2,2.2 0 1,0 -4.4,0M898.6,420.66a2.2,2.2 0 1,0 4.4,0a2.2,2.2 0 1,0 -4.4,0M904.7,417.44a2.2,2.2 0 1,0 4.4,0a2.2,2.2 0 1,0 -4.4,0M910.8,421.39a2.2,2.2 0 1,0 4.4,0a2.2,2.2 0 1,0 -4.4,0M916.3,423.93a2.2,2.2 0 1,0 4.4,0a2.2,2.2 0 1,0 -4.4,0M922.4,425.93a2.2,2.2 0 1,0 4.4,0a2.2,2.2 0 1,0 -4.4,0M927.8,425.07a2.2,2.2 0 1,0 4.4,0a2.2,2.2 0 1,0 -4.4,0M934,421.07a2.2,2.2 0 1,0 4.4,0a2.2,2.2 0 1,0 -4.4,0M939.8,424.03a2.2,2.2 0 1,0 4.4,0a2.2,2.2 0 1,0 -4.4,0M945.3,425.88a2.2,2.2 0 1,0 4.4,0a2.2,2.2 0 1,0 -4.4,0M951.4,420.03a2.2,2.2 0 1,0 4.4,0a2.2,2.2 0 1,0 -4.4,0M956.8,423.84a2.2,2.2 0 1,0 4.4,0a2.2,2.2 0 1,0 -4.4,0M963,425.89a2.2,2.2 0 1,0 4.4,0a2.2,2.2 0 1,0 -4.4,0M968.4,420.74a2.2,2.2 0 1,0 4.4,0a2.2,2.2 0 1,0 -4.4,0M974.5,425.04a2.2,2.2 0 1,0 4.4,0a2.2,2.2 0 1,0 -4.4,0M980,425.15a2.2,2.2 0 1,0 4.4,0a2.2,2.2 0 1,0 -4.4,0M985.4,423.52a2.2,2.2 0 1,0 4.4,0a2.2,2.2 0 1,0 -4.4,0M991.5,425.54a2.2,2.2 0 1,0 4.4,0a2.2,2.2 0 1,0 -4.4,0M997,419.41a2.2,2.2 0 1,0 4.4,0a2.2,2.2 0 1,0 -4.4,0M1003.1,421.04a2.2,2.2 0 1,0 4.4,0a2.2,2.2 0 1,0 -4.4,0M1008.5,425.93a2.2,2.2 0 1,0 4.4,0a2.2,2.2 0 1,0 -4.4,0M1014.7,425.43a2.2,2.2 0 1,0 4.4,0a2.2,2.2 0 1,0 -4.4,0M1020.1,423.68a2.2,2.2 0 1,0 4.4,0a2.2,2.2 0 1,0 -4.4,0M1026.2,425.63a2.2,2.2 0 1,0 4.4,0a2.2,2.2 0 1,0 -4.4,0M1031.7,423.89a2.2,2.2 0 1,0 4.4,0a2.2,2.2 0 1,0 -4.4,0M1037.8,427.75a2.2,2.2 0 1,0 4.4,0a2.2,2.2 0 1,0 -4.4,0M1043.2,424.27a2.2,2.2 0 1,0 4.4,0a2.2,2.2 0 1,0 -4.4,0M1049.4,426.44a2.2,2.2 0 1,0 4.4,0a2.2,2.2 0 1,0 -4.4,0M1054.8,423.25a2.2,2.2 0 1,0 4.4,0a2.2,2.2 0 1,0 -4.4,0M1060.9,422.15a2.2,2.2 0 1,0 4.4,0a2.2,2.2 0 1,0 -4.4,0M1066.4,422.36a2.2,2.2 0 1,0 4.4,0a2.2,2.2 0 1,0 -4.4,0M1071.8,415.45a2.2,2.2 0 1,0 4.4,0a2.2,2.2 0 1,0 -4.4,0M1077.9,422.87a2.2,2.2 0 1,0 4.4,0a2.2,2.2 0 1,0 -4.4,0M1083.4,423.8a2.2,2.2 0 1,0 4.4,0a2.2,2.2 0 1,0 -4.4,0M1089.5,424.6a2.2,2.2 0 1,0 4.4,0a2.2,2.2 0 1,0 -4.4,0M1094.9,426.23a2.2,2.2 0 1,0 4.4,0a2.2,2.2 0 1,0 -4.4,0M1101.1,418.88a2.2,2.2 0 1,0 4.4,0a2.2,2.2 0 1,0 -4.4,0M1106.5,422.71a2.2,2.2 0 1,0 4.4,0a2.2,2.2 0 1,0 -4.4,0M1112.6,425.79a2.2,2.2 0 1,0 4.4,0a2.2,2.2 0 1,0 -4.4,0M1118.1,425.57a2.2,2.2 0 1,0 4.4,0a2.2,2.2 0 1,0 -4.4,0M1124.2,424.79a2.2,2.2 0 1,0 4.4,0a2.2,2.2 0 1,0 -4.4,0M1129.6,424.79a2.2,2.2 0 1,0 4.4,0a2.2,2.2 0 1,0 -4.4,0M1135.9,424.55a2.2,2.2 0 1,0 4.4,0a2.2,2.2 0 1,0 -4.4,0M1142.2,422.17a2.2,2.2 0 1,0 4.4,0a2.2,2.2 0 1,0 -4.4,0M1147.7,425.64a2.2,2.2 0 1,0 4.4,0a2.2,2.2 0 1,0 -4.4,0M1153.9,425.88a2.2,2.2 0 1,0 4.4,0a2.2,2.2 0 1,0 -4.4,0M1159.4,425.93a2.2,2.2 0 1,0 4.4,0a2.2,2.2 0 1,0 -4.4,0M1165.7,424.35a2.2,2.2 0 1,0 4.4,0a2.2,2.2 0 1,0 -4.4,0M1171.1,424.4a2.2,2.2 0 1,0 4.4,0a2.2,2.2 0 1,0 -4.4,0M1177.4,425.8a2.2,2.2 0 1,0 4.4,0a2.2,2.2 0 1,0 -4.4,0M1182.9,423.64a2.2,2.2 0 1,0 4.4,0a2.2,2.2 0 1,0 -4.4,0M1188.4,422.9a2.2,2.2 0 1,0 4.4,0a2.2,2.2 0 1,0 -4.4,0M1194.6,426.48a2.2,2.2 0 1,0 4.4,0a2.2,2.2 0 1,0 -4.4,0M1200.1,421.92a2.2,2.2 0 1,0 4.4,0a2.2,2.2 0 1,0 -4.4,0M1206.4,425.88a2.2,2.2 0 1,0 4.4,0a2.2,2.2 0 1,0 -4.4,0M1211.8,426a2.2,2.2 0 1,0 4.4,0a2.2,2.2 0 1,0 -4.4,0M1218.1,423.11a2.2,2.2 0 1,0 4.4,0a2.2,2.2 0 1,0 -4.4,0M1223.6,425.71a2.2,2.2 0 1,0 4.4,0a2.2,2.2 0 1,0 -4.4,0M1229,427.25a2.2,2.2 0 1,0 4.4,0a2.2,2.2 0 1,0 -4.4,0M1234.5,424.2a2.2,2.2 0 1,0 4.4,0a2.2,2.2 0 1,0 -4.4,0M1240.8,420.75a2.2,2.2 0 1,0 4.4,0a2.2,2.2 0 1,0 -4.4,0M1246.3,424.56a2.2,2.2 0 1,0 4.4,0a2.2,2.2 0 1,0 -4.4,0M1252.5,425.61a2.2,2.2 0 1,0 4.4,0a2.2,2.2 0 1,0 -4.4,0M1258,424.98a2.2,2.2 0 1,0 4.4,0a2.2,2.2 0 1,0 -4.4,0M1263.5,418.02a2.2,2.2 0 1,0 4.4,0a2.2,2.2 0 1,0 -4.4,0M1269.7,425.67a2.2,2.2 0 1,0 4.4,0a2.2,2.2 0 1,0 -4.4,0M1275.2,424.96a2.2,2.2 0 1,0 4.4,0a2.2,2.2 0 1,0 -4.4,0M1281.5,424.95a2.2,2.2 0 1,0 4.4,0a2.2,2.2 0 1,0 -4.4,0M1286.9,424.19a2.2,2.2 0 1,0 4.4,0a2.2,2.2 0 1,0 -4.4,0M1293.2,424.49a2.2,2.2 0 1,0 4.4,0a2.2,2.2 0 1,0 -4.4,0M1298.7,426.14a2.2,2.2 0 1,0 4.4,0a2.2,2.2 0 1,0 -4.4,0M1304.9,424.15a2.2,2.2 0 1,0 4.4,0a2.2,2.2 0 1,0 -4.4,0M1310.4,425.05a2.2,2.2 0 1,0 4.4,0a2.2,2.2 0 1,0 -4.4,0M1316.7,427.02a2.2,2.2 0 1,0 4.4,0a2.2,2.2 0 1,0 -4.4,0M1322.2,425.42a2.2,2.2 0 1,0 4.4,0a2.2,2.2 0 1,0 -4.4,0M1328.4,425.11a2.2,2.2 0 1,0 4.4,0a2.2,2.2 0 1,0 -4.4,0M1333.9,425.41a2.2,2.2 0 1,0 4.4,0a2.2,2.2 0 1,0 -4.4,0M1339.4,424.47a2.2,2.2 0 1,0 4.4,0a2.2,2.2 0 1,0 -4.4,0M1345.7,423.21a2.2,2.2 0 1,0 4.4,0a2.2,2.2 0 1,0 -4.4,0M1351.1,423.53a2.2,2.2 0 1,0 4.4,0a2.2,2.2 0 1,0 -4.4,0M1357.4,428.08a2.2,2.2 0 1,0 4.4,0a2.2,2.2 0 1,0 -4.4,0" fill="#ff8a45" clip-path="url(#lc)"/>
<polyline points="158.6,412.72 164.1,412.8 170.2,410.86 176.3,405.4 182.4,408.91 188.6,411.67 194,408.84 200.1,414.31 206.3,413.51 211.7,413.8 217.1,415.36 222.6,411.34 228.7,414.31 234.1,414.25 240.3,414.93 245.7,415.69 251.8,412.45 257.3,411.53 263.4,414.63 268.8,411.61 275,412.7 280.4,409.1 285.9,415.55 292,409.65 298.1,415.32 303.5,412.88 309.7,410.39 315.1,413.54 321.2,413.71 326.7,408.56 332.8,411.76 338.2,413.6 344.4,413.26 349.8,413.14 355.9,413.47 361.8,412.89 367.9,410.92 373.4,411.18 379.5,411.87 384.9,413.98 391.1,411.03 396.5,412.92 401.9,414.15 408.1,411.21 414.2,415.02 419.6,412.49 425.7,415.32 431.2,413.1 437.3,413.2 443.4,412.73 448.9,410.93 455,411.48 460.4,414.6 466.6,413.71 472,412.89 478.1,416.26 483.6,413.28 489.7,409.8 495.8,411.84 501.3,413.33 507.4,412.81 513.5,411.74 518.9,413.9 525.1,414.6 531.2,410 536.6,410.89 542.8,414.93 548.2,411.92 554.1,413.69 560.2,413.71 566.3,410.52 571.8,405.44 577.9,409.51 583.3,411.61 589.5,410.56 595.6,412.89 601,408.32 607.1,411.69 612.6,414.13 618.7,410.86 624.8,410.9 630.3,412.42 636.4,409.34 641.8,414.52 648,413.81 654.1,415.09 660.2,409.57 665.6,412.67 671.8,411.16 677.2,411.13 683.3,414.68 688.8,414.66 694.9,415.46 701,411.16 706.5,412.31 712.6,410.11 718,411.15 724.1,409.4 730.3,414.34 735.7,413.11 741.8,413.03 749.1,411.59 754.5,410.26 760.6,408.03 766.8,410.19 772.9,413 778.3,407.28 784.5,413.07 790.6,412.11 796.7,413.85 802.1,416.13 808.3,409.1 814.4,410.37 819.8,407.06 826,413.33 831.4,412.15 837.5,411.3 843,415.74 849.1,407.44 854.5,409.93 860.6,413.42 866.1,410.48 872.2,415.13 877.7,412.05 883.8,415.67 889.2,411.8 895.3,412.23 900.8,407.91 906.9,405.42 913,408.43 918.5,412.28 924.6,413.76 930,412.5 936.2,409.48 942,411.73 947.5,413.51 953.6,408.59 959,411.37 965.2,413.85 970.6,408.42 976.7,412.45 982.2,413.29 987.6,411.26 993.7,412.82 999.2,406.83 1005.3,408.71 1010.7,413.75 1016.9,413.22 1022.3,411.7 1028.4,413.22 1033.9,411.67 1040,414.03 1045.4,412.31 1051.6,414.42 1057,410.08 1063.1,409.76 1068.6,409.57 1074,403.62 1080.1,410.72 1085.6,411.7 1091.7,412.27 1097.1,413.65 1103.3,407.24 1108.7,410.51 1114.8,413.02 1120.3,413.65 1126.4,412.31 1131.8,411.86 1138.1,411.51 1144.4,410.04 1149.9,413.27 1156.1,413.79 1161.6,414.19 1167.9,412.13 1173.3,412.38 1179.6,413.83 1185.1,410.58 1190.6,409.97 1196.8,415.41 1202.3,409.22 1208.6,414.37 1214,413.81 1220.3,411.89 1225.8,413.51 1231.2,413.17 1236.7,410.87 1243,409.1 1248.5,412.28 1254.7,412.87 1260.2,412.35 1265.7,406.59 1271.9,412.54 1277.4,412.42 1283.7,412.73 1289.1,412.04 1295.4,411.57 1300.9,413.85 1307.1,411.23 1312.6,412.14 1318.9,414.67 1324.4,412.66 1330.6,412.54 1336.1,412.83 1341.6,411.53 1347.9,410.72 1353.3,411.53 1359.6,415.82" fill="none" stroke="#8d48e3" stroke-width="2" stroke-linejoin="bevel" clip-path="url(#lc)"/>
<path d="M161.9,412.8a2.2,2.2 0 1,0 4.4,0a2.2,2.2 0 1,0 -4.4,0M168,410.86a2.2,2.2 0 1,0 4.4,0a2.2,2.2 0 1,0 -4.4,0M174.1,405.4a2.2,2.2 0 1,0 4.4,0a2.2,2.2 0 1,0 -4.4,0M180.2,408.91a2.2,2.2 0 1,0 4.4,0a2.2,2.2 0 1,0 -4.4,0M186.4,411.67a2.2,2.2 0 1,0 4.4,0a2.2,2.2 0 1,0 -4.4,0M191.8,408.84a2.2,2.2 0 1,0 4.4,0a2.2,2.2 0 1,0 -4.4,0M197.9,414.31a2.2,2.2 0 1,0 4.4,0a2.2,2.2 0 1,0 -4.4,0M204.1,413.51a2.2,2.2 0 1,0 4.4,0a2.2,2.2 0 1,0 -4.4,0M209.5,413.8a2.2,2.2 0 1,0 4.4,0a2.2,2.2 0 1,0 -4.4,0M214.9,415.36a2.2,2.2 0 1,0 4.4,0a2.2,2.2 0 1,0 -4.4,0M220.4,411.34a2.2,2.2 0 1,0 4.4,0a2.2,2.2 0 1,0 -4.4,0M226.5,414.31a2.2,2.2 0 1,0 4.4,0a2.2,2.2 0 1,0 -4.4,0M231.9,414.25a2.2,2.2 0 1,0 4.4,0a2.2,2.2 0 1,0 -4.4,0M238.1,414.93a2.2,2.2 0 1,0 4.4,0a2.2,2.2 0 1,0 -4.4,0M243.5,415.69a2.2,2.2 0 1,0 4.4,0a2.2,2.2 0 1,0 -4.4,0M249.6,412.45a2.2,2.2 0 1,0 4.4,0a2.2,2.2 0 1,0 -4.4,0M255.1,411.53a2.2,2.2 0 1,0 4.4,0a2.2,2.2 0 1,0 -4.4,0M261.2,414.63a2.2,2.2 0 1,0 4.4,0a2.2,2.2 0 1,0 -4.4,0M266.6,411.61a2.2,2.2 0 1,0 4.4,0a2.2,2.2 0 1,0 -4.4,0M272.8,412.7a2.2,2.2 0 1,0 4.4,0a2.2,2.2 0 1,0 -4.4,0M278.2,409.1a2.2,2.2 0 1,0 4.4,0a2.2,2.2 0 1,0 -4.4,0M283.7,415.55a2.2,2.2 0 1,0 4.4,0a2.2,2.2 0 1,0 -4.4,0M289.8,409.65a2.2,2.2 0 1,0 4.4,0a2.2,2.2 0 1,0 -4.4,0M295.9,415.32a2.2,2.2 0 1,0 4.4,0a2.2,2.2 0 1,0 -4.4,0M301.3,412.88a2.2,2.2 0 1,0 4.4,0a2.2,2.2 0 1,0 -4.4,0M307.5,410.39a2.2,2.2 0 1,0 4.4,0a2.2,2.2 0 1,0 -4.4,0M312.9,413.54a2.2,2.2 0 1,0 4.4,0a2.2,2.2 0 1,0 -4.4,0M319,413.71a2.2,2.2 0 1,0 4.4,0a2.2,2.2 0 1,0 -4.4,0M324.5,408.56a2.2,2.2 0 1,0 4.4,0a2.2,2.2 0 1,0 -4.4,0M330.6,411.76a2.2,2.2 0 1,0 4.4,0a2.2,2.2 0 1,0 -4.4,0M336,413.6a2.2,2.2 0 1,0 4.4,0a2.2,2.2 0 1,0 -4.4,0M342.2,413.26a2.2,2.2 0 1,0 4.4,0a2.2,2.2 0 1,0 -4.4,0M347.6,413.14a2.2,2.2 0 1,0 4.4,0a2.2,2.2 0 1,0 -4.4,0M353.7,413.47a2.2,2.2 0 1,0 4.4,0a2.2,2.2 0 1,0 -4.4,0M359.6,412.89a2.2,2.2 0 1,0 4.4,0a2.2,2.2 0 1,0 -4.4,0M365.7,410.92a2.2,2.2 0 1,0 4.4,0a2.2,2.2 0 1,0 -4.4,0M371.2,411.18a2.2,2.2 0 1,0 4.4,0a2.2,2.2 0 1,0 -4.4,0M377.3,411.87a2.2,2.2 0 1,0 4.4,0a2.2,2.2 0 1,0 -4.4,0M382.7,413.98a2.2,2.2 0 1,0 4.4,0a2.2,2.2 0 1,0 -4.4,0M388.9,411.03a2.2,2.2 0 1,0 4.4,0a2.2,2.2 0 1,0 -4.4,0M394.3,412.92a2.2,2.2 0 1,0 4.4,0a2.2,2.2 0 1,0 -4.4,0M399.7,414.15a2.2,2.2 0 1,0 4.4,0a2.2,2.2 0 1,0 -4.4,0M405.9,411.21a2.2,2.2 0 1,0 4.4,0a2.2,2.2 0 1,0 -4.4,0M412,415.02a2.2,2.2 0 1,0 4.4,0a2.2,2.2 0 1,0 -4.4,0M417.4,412.49a2.2,2.2 0 1,0 4.4,0a2.2,2.2 0 1,0 -4.4,0M423.5,415.32a2.2,2.2 0 1,0 4.4,0a2.2,2.2 0 1,0 -4.4,0M429,413.1a2.2,2.2 0 1,0 4.4,0a2.2,2.2 0 1,0 -4.4,0M435.1,413.2a2.2,2.2 0 1,0 4.4,0a2.2,2.2 0 1,0 -4.4,0M441.2,412.73a2.2,2.2 0 1,0 4.4,0a2.2,2.2 0 1,0 -4.4,0M446.7,410.93a2.2,2.2 0 1,0 4.4,0a2.2,2.2 0 1,0 -4.4,0M452.8,411.48a2.2,2.2 0 1,0 4.4,0a2.2,2.2 0 1,0 -4.4,0M458.2,414.6a2.2,2.2 0 1,0 4.4,0a2.2,2.2 0 1,0 -4.4,0M464.4,413.71a2.2,2.2 0 1,0 4.4,0a2.2,2.2 0 1,0 -4.4,0M469.8,412.89a2.2,2.2 0 1,0 4.4,0a2.2,2.2 0 1,0 -4.4,0M475.9,416.26a2.2,2.2 0 1,0 4.4,0a2.2,2.2 0 1,0 -4.4,0M481.4,413.28a2.2,2.2 0 1,0 4.4,0a2.2,2.2 0 1,0 -4.4,0M487.5,409.8a2.2,2.2 0 1,0 4.4,0a2.2,2.2 0 1,0 -4.4,0M493.6,411.84a2.2,2.2 0 1,0 4.4,0a2.2,2.2 0 1,0 -4.4,0M499.1,413.33a2.2,2.2 0 1,0 4.4,0a2.2,2.2 0 1,0 -4.4,0M505.2,412.81a2.2,2.2 0 1,0 4.4,0a2.2,2.2 0 1,0 -4.4,0M511.3,411.74a2.2,2.2 0 1,0 4.4,0a2.2,2.2 0 1,0 -4.4,0M516.7,413.9a2.2,2.2 0 1,0 4.4,0a2.2,2.2 0 1,0 -4.4,0M522.9,414.6a2.2,2.2 0 1,0 4.4,0a2.2,2.2 0 1,0 -4.4,0M529,410a2.2,2.2 0 1,0 4.4,0a2.2,2.2 0 1,0 -4.4,0M534.4,410.89a2.2,2.2 0 1,0 4.4,0a2.2,2.2 0 1,0 -4.4,0M540.6,414.93a2.2,2.2 0 1,0 4.4,0a2.2,2.2 0 1,0 -4.4,0M546,411.92a2.2,2.2 0 1,0 4.4,0a2.2,2.2 0 1,0 -4.4,0M551.9,413.69a2.2,2.2 0 1,0 4.4,0a2.2,2.2 0 1,0 -4.4,0M558,413.71a2.2,2.2 0 1,0 4.4,0a2.2,2.2 0 1,0 -4.4,0M564.1,410.52a2.2,2.2 0 1,0 4.4,0a2.2,2.2 0 1,0 -4.4,0M569.6,405.44a2.2,2.2 0 1,0 4.4,0a2.2,2.2 0 1,0 -4.4,0M575.7,409.51a2.2,2.2 0 1,0 4.4,0a2.2,2.2 0 1,0 -4.4,0M581.1,411.61a2.2,2.2 0 1,0 4.4,0a2.2,2.2 0 1,0 -4.4,0M587.3,410.56a2.2,2.2 0 1,0 4.4,0a2.2,2.2 0 1,0 -4.4,0M593.4,412.89a2.2,2.2 0 1,0 4.4,0a2.2,2.2 0 1,0 -4.4,0M598.8,408.32a2.2,2.2 0 1,0 4.4,0a2.2,2.2 0 1,0 -4.4,0M604.9,411.69a2.2,2.2 0 1,0 4.4,0a2.2,2.2 0 1,0 -4.4,0M610.4,414.13a2.2,2.2 0 1,0 4.4,0a2.2,2.2 0 1,0 -4.4,0M616.5,410.86a2.2,2.2 0 1,0 4.4,0a2.2,2.2 0 1,0 -4.4,0M622.6,410.9a2.2,2.2 0 1,0 4.4,0a2.2,2.2 0 1,0 -4.4,0M628.1,412.42a2.2,2.2 0 1,0 4.4,0a2.2,2.2 0 1,0 -4.4,0M634.2,409.34a2.2,2.2 0 1,0 4.4,0a2.2,2.2 0 1,0 -4.4,0M639.6,414.52a2.2,2.2 0 1,0 4.4,0a2.2,2.2 0 1,0 -4.4,0M645.8,413.81a2.2,2.2 0 1,0 4.4,0a2.2,2.2 0 1,0 -4.4,0M651.9,415.09a2.2,2.2 0 1,0 4.4,0a2.2,2.2 0 1,0 -4.4,0M658,409.57a2.2,2.2 0 1,0 4.4,0a2.2,2.2 0 1,0 -4.4,0M663.4,412.67a2.2,2.2 0 1,0 4.4,0a2.2,2.2 0 1,0 -4.4,0M669.6,411.16a2.2,2.2 0 1,0 4.4,0a2.2,2.2 0 1,0 -4.4,0M675,411.13a2.2,2.2 0 1,0 4.4,0a2.2,2.2 0 1,0 -4.4,0M681.1,414.68a2.2,2.2 0 1,0 4.4,0a2.2,2.2 0 1,0 -4.4,0M686.6,414.66a2.2,2.2 0 1,0 4.4,0a2.2,2.2 0 1,0 -4.4,0M692.7,415.46a2.2,2.2 0 1,0 4.4,0a2.2,2.2 0 1,0 -4.4,0M698.8,411.16a2.2,2.2 0 1,0 4.4,0a2.2,2.2 0 1,0 -4.4,0M704.3,412.31a2.2,2.2 0 1,0 4.4,0a2.2,2.2 0 1,0 -4.4,0M710.4,410.11a2.2,2.2 0 1,0 4.4,0a2.2,2.2 0 1,0 -4.4,0M715.8,411.15a2.2,2.2 0 1,0 4.4,0a2.2,2.2 0 1,0 -4.4,0M721.9,409.4a2.2,2.2 0 1,0 4.4,0a2.2,2.2 0 1,0 -4.4,0M728.1,414.34a2.2,2.2 0 1,0 4.4,0a2.2,2.2 0 1,0 -4.4,0M733.5,413.11a2.2,2.2 0 1,0 4.4,0a2.2,2.2 0 1,0 -4.4,0M739.6,413.03a2.2,2.2 0 1,0 4.4,0a2.2,2.2 0 1,0 -4.4,0M746.9,411.59a2.2,2.2 0 1,0 4.4,0a2.2,2.2 0 1,0 -4.4,0M752.3,410.26a2.2,2.2 0 1,0 4.4,0a2.2,2.2 0 1,0 -4.4,0M758.4,408.03a2.2,2.2 0 1,0 4.4,0a2.2,2.2 0 1,0 -4.4,0M764.6,410.19a2.2,2.2 0 1,0 4.4,0a2.2,2.2 0 1,0 -4.4,0M770.7,413a2.2,2.2 0 1,0 4.4,0a2.2,2.2 0 1,0 -4.4,0M776.1,407.28a2.2,2.2 0 1,0 4.4,0a2.2,2.2 0 1,0 -4.4,0M782.3,413.07a2.2,2.2 0 1,0 4.4,0a2.2,2.2 0 1,0 -4.4,0M788.4,412.11a2.2,2.2 0 1,0 4.4,0a2.2,2.2 0 1,0 -4.4,0M794.5,413.85a2.2,2.2 0 1,0 4.4,0a2.2,2.2 0 1,0 -4.4,0M799.9,416.13a2.2,2.2 0 1,0 4.4,0a2.2,2.2 0 1,0 -4.4,0M806.1,409.1a2.2,2.2 0 1,0 4.4,0a2.2,2.2 0 1,0 -4.4,0M812.2,410.37a2.2,2.2 0 1,0 4.4,0a2.2,2.2 0 1,0 -4.4,0M817.6,407.06a2.2,2.2 0 1,0 4.4,0a2.2,2.2 0 1,0 -4.4,0M823.8,413.33a2.2,2.2 0 1,0 4.4,0a2.2,2.2 0 1,0 -4.4,0M829.2,412.15a2.2,2.2 0 1,0 4.4,0a2.2,2.2 0 1,0 -4.4,0M835.3,411.3a2.2,2.2 0 1,0 4.4,0a2.2,2.2 0 1,0 -4.4,0M840.8,415.74a2.2,2.2 0 1,0 4.4,0a2.2,2.2 0 1,0 -4.4,0M846.9,407.44a2.2,2.2 0 1,0 4.4,0a2.2,2.2 0 1,0 -4.4,0M852.3,409.93a2.2,2.2 0 1,0 4.4,0a2.2,2.2 0 1,0 -4.4,0M858.4,413.42a2.2,2.2 0 1,0 4.4,0a2.2,2.2 0 1,0 -4.4,0M863.9,410.48a2.2,2.2 0 1,0 4.4,0a2.2,2.2 0 1,0 -4.4,0M870,415.13a2.2,2.2 0 1,0 4.4,0a2.2,2.2 0 1,0 -4.4,0M875.5,412.05a2.2,2.2 0 1,0 4.4,0a2.2,2.2 0 1,0 -4.4,0M881.6,415.67a2.2,2.2 0 1,0 4.4,0a2.2,2.2 0 1,0 -4.4,0M887,411.8a2.2,2.2 0 1,0 4.4,0a2.2,2.2 0 1,0 -4.4,0M893.1,412.23a2.2,2.2 0 1,0 4.4,0a2.2,2.2 0 1,0 -4.4,0M898.6,407.91a2.2,2.2 0 1,0 4.4,0a2.2,2.2 0 1,0 -4.4,0M904.7,405.42a2.2,2.2 0 1,0 4.4,0a2.2,2.2 0 1,0 -4.4,0M910.8,408.43a2.2,2.2 0 1,0 4.4,0a2.2,2.2 0 1,0 -4.4,0M916.3,412.28a2.2,2.2 0 1,0 4.4,0a2.2,2.2 0 1,0 -4.4,0M922.4,413.76a2.2,2.2 0 1,0 4.4,0a2.2,2.2 0 1,0 -4.4,0M927.8,412.5a2.2,2.2 0 1,0 4.4,0a2.2,2.2 0 1,0 -4.4,0M934,409.48a2.2,2.2 0 1,0 4.4,0a2.2,2.2 0 1,0 -4.4,0M939.8,411.73a2.2,2.2 0 1,0 4.4,0a2.2,2.2 0 1,0 -4.4,0M945.3,413.51a2.2,2.2 0 1,0 4.4,0a2.2,2.2 0 1,0 -4.4,0M951.4,408.59a2.2,2.2 0 1,0 4.4,0a2.2,2.2 0 1,0 -4.4,0M956.8,411.37a2.2,2.2 0 1,0 4.4,0a2.2,2.2 0 1,0 -4.4,0M963,413.85a2.2,2.2 0 1,0 4.4,0a2.2,2.2 0 1,0 -4.4,0M968.4,408.42a2.2,2.2 0 1,0 4.4,0a2.2,2.2 0 1,0 -4.4,0M974.5,412.45a2.2,2.2 0 1,0 4.4,0a2.2,2.2 0 1,0 -4.4,0M980,413.29a2.2,2.2 0 1,0 4.4,0a2.2,2.2 0 1,0 -4.4,0M985.4,411.26a2.2,2.2 0 1,0 4.4,0a2.2,2.2 0 1,0 -4.4,0M991.5,412.82a2.2,2.2 0 1,0 4.4,0a2.2,2.2 0 1,0 -4.4,0M997,406.83a2.2,2.2 0 1,0 4.4,0a2.2,2.2 0 1,0 -4.4,0M1003.1,408.71a2.2,2.2 0 1,0 4.4,0a2.2,2.2 0 1,0 -4.4,0M1008.5,413.75a2.2,2.2 0 1,0 4.4,0a2.2,2.2 0 1,0 -4.4,0M1014.7,413.22a2.2,2.2 0 1,0 4.4,0a2.2,2.2 0 1,0 -4.4,0M1020.1,411.7a2.2,2.2 0 1,0 4.4,0a2.2,2.2 0 1,0 -4.4,0M1026.2,413.22a2.2,2.2 0 1,0 4.4,0a2.2,2.2 0 1,0 -4.4,0M1031.7,411.67a2.2,2.2 0 1,0 4.4,0a2.2,2.2 0 1,0 -4.4,0M1037.8,414.03a2.2,2.2 0 1,0 4.4,0a2.2,2.2 0 1,0 -4.4,0M1043.2,412.31a2.2,2.2 0 1,0 4.4,0a2.2,2.2 0 1,0 -4.4,0M1049.4,414.42a2.2,2.2 0 1,0 4.4,0a2.2,2.2 0 1,0 -4.4,0M1054.8,410.08a2.2,2.2 0 1,0 4.4,0a2.2,2.2 0 1,0 -4.4,0M1060.9,409.76a2.2,2.2 0 1,0 4.4,0a2.2,2.2 0 1,0 -4.4,0M1066.4,409.57a2.2,2.2 0 1,0 4.4,0a2.2,2.2 0 1,0 -4.4,0M1071.8,403.62a2.2,2.2 0 1,0 4.4,0a2.2,2.2 0 1,0 -4.4,0M1077.9,410.72a2.2,2.2 0 1,0 4.4,0a2.2,2.2 0 1,0 -4.4,0M1083.4,411.7a2.2,2.2 0 1,0 4.4,0a2.2,2.2 0 1,0 -4.4,0M1089.5,412.27a2.2,2.2 0 1,0 4.4,0a2.2,2.2 0 1,0 -4.4,0M1094.9,413.65a2.2,2.2 0 1,0 4.4,0a2.2,2.2 0 1,0 -4.4,0M1101.1,407.24a2.2,2.2 0 1,0 4.4,0a2.2,2.2 0 1,0 -4.4,0M1106.5,410.51a2.2,2.2 0 1,0 4.4,0a2.2,2.2 0 1,0 -4.4,0M1112.6,413.02a2.2,2.2 0 1,0 4.4,0a2.2,2.2 0 1,0 -4.4,0M1118.1,413.65a2.2,2.2 0 1,0 4.4,0a2.2,2.2 0 1,0 -4.4,0M1124.2,412.31a2.2,2.2 0 1,0 4.4,0a2.2,2.2 0 1,0 -4.4,0M1129.6,411.86a2.2,2.2 0 1,0 4.4,0a2.2,2.2 0 1,0 -4.4,0M1135.9,411.51a2.2,2.2 0 1,0 4.4,0a2.2,2.2 0 1,0 -4.4,0M1142.2,410.04a2.2,2.2 0 1,0 4.4,0a2.2,2.2 0 1,0 -4.4,0M1147.7,413.27a2.2,2.2 0 1,0 4.4,0a2.2,2.2 0 1,0 -4.4,0M1153.9,413.79a2.2,2.2 0 1,0 4.4,0a2.2,2.2 0 1,0 -4.4,0M1159.4,414.19a2.2,2.2 0 1,0 4.4,0a2.2,2.2 0 1,0 -4.4,0M1165.7,412.13a2.2,2.2 0 1,0 4.4,0a2.2,2.2 0 1,0 -4.4,0M1171.1,412.38a2.2,2.2 0 1,0 4.4,0a2.2,2.2 0 1,0 -4.4,0M1177.4,413.83a2.2,2.2 0 1,0 4.4,0a2.2,2.2 0 1,0 -4.4,0M1182.9,410.58a2.2,2.2 0 1,0 4.4,0a2.2,2.2 0 1,0 -4.4,0M1188.4,409.97a2.2,2.2 0 1,0 4.4,0a2.2,2.2 0 1,0 -4.4,0M1194.6,415.41a2.2,2.2 0 1,0 4.4,0a2.2,2.2 0 1,0 -4.4,0M1200.1,409.22a2.2,2.2 0 1,0 4.4,0a2.2,2.2 0 1,0 -4.4,0M1206.4,414.37a2.2,2.2 0 1,0 4.4,0a2.2,2.2 0 1,0 -4.4,0M1211.8,413.81a2.2,2.2 0 1,0 4.4,0a2.2,2.2 0 1,0 -4.4,0M1218.1,411.89a2.2,2.2 0 1,0 4.4,0a2.2,2.2 0 1,0 -4.4,0M1223.6,413.51a2.2,2.2 0 1,0 4.4,0a2.2,2.2 0 1,0 -4.4,0M1229,413.17a2.2,2.2 0 1,0 4.4,0a2.2,2.2 0 1,0 -4.4,0M1234.5,410.87a2.2,2.2 0 1,0 4.4,0a2.2,2.2 0 1,0 -4.4,0M1240.8,409.1a2.2,2.2 0 1,0 4.4,0a2.2,2.2 0 1,0 -4.4,0M1246.3,412.28a2.2,2.2 0 1,0 4.4,0a2.2,2.2 0 1,0 -4.4,0M1252.5,412.87a2.2,2.2 0 1,0 4.4,0a2.2,2.2 0 1,0 -4.4,0M1258,412.35a2.2,2.2 0 1,0 4.4,0a2.2,2.2 0 1,0 -4.4,0M1263.5,406.59a2.2,2.2 0 1,0 4.4,0a2.2,2.2 0 1,0 -4.4,0M1269.7,412.54a2.2,2.2 0 1,0 4.4,0a2.2,2.2 0 1,0 -4.4,0M1275.2,412.42a2.2,2.2 0 1,0 4.4,0a2.2,2.2 0 1,0 -4.4,0M1281.5,412.73a2.2,2.2 0 1,0 4.4,0a2.2,2.2 0 1,0 -4.4,0M1286.9,412.04a2.2,2.2 0 1,0 4.4,0a2.2,2.2 0 1,0 -4.4,0M1293.2,411.57a2.2,2.2 0 1,0 4.4,0a2.2,2.2 0 1,0 -4.4,0M1298.7,413.85a2.2,2.2 0 1,0 4.4,0a2.2,2.2 0 1,0 -4.4,0M1304.9,411.23a2.2,2.2 0 1,0 4.4,0a2.2,2.2 0 1,0 -4.4,0M1310.4,412.14a2.2,2.2 0 1,0 4.4,0a2.2,2.2 0 1,0 -4.4,0M1316.7,414.67a2.2,2.2 0 1,0 4.4,0a2.2,2.2 0 1,0 -4.4,0M1322.2,412.66a2.2,2.2 0 1,0 4.4,0a2.2,2.2 0 1,0 -4.4,0M1328.4,412.54a2.2,2.2 0 1,0 4.4,0a2.2,2.2 0 1,0 -4.4,0M1333.9,412.83a2.2,2.2 0 1,0 4.4,0a2.2,2.2 0 1,0 -4.4,0M1339.4,411.53a2.2,2.2 0 1,0 4.4,0a2.2,2.2 0 1,0 -4.4,0M1345.7,410.72a2.2,2.2 0 1,0 4.4,0a2.2,2.2 0 1,0 -4.4,0M1351.1,411.53a2.2,2.2 0 1,0 4.4,0a2.2,2.2 0 1,0 -4.4,0M1357.4,415.82a2.2,2.2 0 1,0 4.4,0a2.2,2.2 0 1,0 -4.4,0" fill="#8d48e3" clip-path="url(#lc)"/>
<polyline points="158.6,398.79 164.1,399.13 170.2,397.76 176.3,391.39 182.4,395.13 188.6,398.1 194,396.51 200.1,400.23 206.3,399.6 211.7,399.3 217.1,401.63 222.6,397.65 228.7,401.32 234.1,401.05 240.3,401.79 245.7,401.85 251.8,398.29 257.3,397.78 263.4,400.64 268.8,397.78 275,398.38 280.4,394.87 285.9,399.96 292,395.61 298.1,400.48 303.5,398.55 309.7,396.76 315.1,399.84 321.2,399.12 326.7,393.59 332.8,399.42 338.2,399.58 344.4,399.66 349.8,399.19 355.9,398.89 361.8,399.99 367.9,396.76 373.4,397.62 379.5,397.24 384.9,401.71 391.1,397.56 396.5,399.63 401.9,400.42 408.1,397.69 414.2,401.66 419.6,398.37 425.7,401.35 431.2,398.85 437.3,399.53 443.4,399.45 448.9,397.86 455,397.88 460.4,400.18 466.6,399.92 472,399.46 478.1,401.6 483.6,399.84 489.7,397.03 495.8,397.56 501.3,399.11 507.4,398.73 513.5,398.73 518.9,399.25 525.1,400.45 531.2,396.46 536.6,396.46 542.8,400.7 548.2,398.3 554.1,400.67 560.2,399.49 566.3,397.51 571.8,391.41 577.9,395.83 583.3,397.48 589.5,397.08 595.6,399.62 601,394.19 607.1,398.23 612.6,400.01 618.7,396.67 624.8,397.18 630.3,398.64 636.4,394.74 641.8,400.51 648,400.57 654.1,400.9 660.2,395.8 665.6,397.86 671.8,397.8 677.2,399.36 683.3,401.03 688.8,400.58 694.9,401.11 701,397.99 706.5,398.82 712.6,395.67 718,398 724.1,395.24 730.3,401.22 735.7,398.71 741.8,398.77 749.1,398.07 754.5,397.62 760.6,394.91 766.8,396.81 772.9,399.19 778.3,394.06 784.5,398.38 790.6,397.67 796.7,399.48 802.1,402.65 808.3,394.77 814.4,396.35 819.8,392.99 826,399.38 831.4,398.6 837.5,398.22 843,402.11 849.1,393.73 854.5,395.23 860.6,400.6 866.1,396.33 872.2,400.95 877.7,398.89 883.8,401.47 889.2,398.38 895.3,398.12 900.8,394 906.9,391.53 913,394.45 918.5,398.89 924.6,400.41 930,398.4 936.2,395.34 942,397.12 947.5,399.5 953.6,394.73 959,397.5 965.2,400.3 970.6,395.06 976.7,398.63 982.2,399.76 987.6,396.77 993.7,399.41 999.2,392.19 1005.3,394.72 1010.7,400.09 1016.9,400.16 1022.3,397.55 1028.4,399.7 1033.9,397.5 1040,400.63 1045.4,397.65 1051.6,401.06 1057,396.58 1063.1,395.76 1068.6,396.9 1074,389.32 1080.1,396.91 1085.6,397.79 1091.7,398.24 1097.1,400.48 1103.3,392.75 1108.7,396.74 1114.8,399.88 1120.3,399.21 1126.4,397.86 1131.8,398.13 1138.1,397.95 1144.4,395.49 1149.9,400.06 1156.1,399.4 1161.6,399.51 1167.9,398.25 1173.3,398.2 1179.6,399.87 1185.1,397.63 1190.6,397.15 1196.8,400.1 1202.3,395.61 1208.6,400.58 1214,400.35 1220.3,397.62 1225.8,400.06 1231.2,400.39 1236.7,397.54 1243,394.67 1248.5,398.58 1254.7,398.86 1260.2,398.71 1265.7,393.02 1271.9,399.44 1277.4,398.63 1283.7,399.4 1289.1,398.05 1295.4,398.31 1300.9,399.14 1307.1,397.63 1312.6,399.43 1318.9,400.9 1324.4,399.67 1330.6,398.93 1336.1,398.96 1341.6,398.64 1347.9,397.49 1353.3,397.9 1359.6,402.1" fill="none" stroke="#dd79ff" stroke-width="2" stroke-linejoin="bevel" clip-path="url(#lc)"/>
<path d="M161.9,399.13a2.2,2.2 0 1,0 4.4,0a2.2,2.2 0 1,0 -4.4,0M168,397.76a2.2,2.2 0 1,0 4.4,0a2.2,2.2 0 1,0 -4.4,0M174.1,391.39a2.2,2.2 0 1,0 4.4,0a2.2,2.2 0 1,0 -4.4,0M180.2,395.13a2.2,2.2 0 1,0 4.4,0a2.2,2.2 0 1,0 -4.4,0M186.4,398.1a2.2,2.2 0 1,0 4.4,0a2.2,2.2 0 1,0 -4.4,0M191.8,396.51a2.2,2.2 0 1,0 4.4,0a2.2,2.2 0 1,0 -4.4,0M197.9,400.23a2.2,2.2 0 1,0 4.4,0a2.2,2.2 0 1,0 -4.4,0M204.1,399.6a2.2,2.2 0 1,0 4.4,0a2.2,2.2 0 1,0 -4.4,0M209.5,399.3a2.2,2.2 0 1,0 4.4,0a2.2,2.2 0 1,0 -4.4,0M214.9,401.63a2.2,2.2 0 1,0 4.4,0a2.2,2.2 0 1,0 -4.4,0M220.4,397.65a2.2,2.2 0 1,0 4.4,0a2.2,2.2 0 1,0 -4.4,0M226.5,401.32a2.2,2.2 0 1,0 4.4,0a2.2,2.2 0 1,0 -4.4,0M231.9,401.05a2.2,2.2 0 1,0 4.4,0a2.2,2.2 0 1,0 -4.4,0M238.1,401.79a2.2,2.2 0 1,0 4.4,0a2.2,2.2 0 1,0 -4.4,0M243.5,401.85a2.2,2.2 0 1,0 4.4,0a2.2,2.2 0 1,0 -4.4,0M249.6,398.29a2.2,2.2 0 1,0 4.4,0a2.2,2.2 0 1,0 -4.4,0M255.1,397.78a2.2,2.2 0 1,0 4.4,0a2.2,2.2 0 1,0 -4.4,0M261.2,400.64a2.2,2.2 0 1,0 4.4,0a2.2,2.2 0 1,0 -4.4,0M266.6,397.78a2.2,2.2 0 1,0 4.4,0a2.2,2.2 0 1,0 -4.4,0M272.8,398.38a2.2,2.2 0 1,0 4.4,0a2.2,2.2 0 1,0 -4.4,0M278.2,394.87a2.2,2.2 0 1,0 4.4,0a2.2,2.2 0 1,0 -4.4,0M283.7,399.96a2.2,2.2 0 1,0 4.4,0a2.2,2.2 0 1,0 -4.4,0M289.8,395.61a2.2,2.2 0 1,0 4.4,0a2.2,2.2 0 1,0 -4.4,0M295.9,400.48a2.2,2.2 0 1,0 4.4,0a2.2,2.2 0 1,0 -4.4,0M301.3,398.55a2.2,2.2 0 1,0 4.4,0a2.2,2.2 0 1,0 -4.4,0M307.5,396.76a2.2,2.2 0 1,0 4.4,0a2.2,2.2 0 1,0 -4.4,0M312.9,399.84a2.2,2.2 0 1,0 4.4,0a2.2,2.2 0 1,0 -4.4,0M319,399.12a2.2,2.2 0 1,0 4.4,0a2.2,2.2 0 1,0 -4.4,0M324.5,393.59a2.2,2.2 0 1,0 4.4,0a2.2,2.2 0 1,0 -4.4,0M330.6,399.42a2.2,2.2 0 1,0 4.4,0a2.2,2.2 0 1,0 -4.4,0M336,399.58a2.2,2.2 0 1,0 4.4,0a2.2,2.2 0 1,0 -4.4,0M342.2,399.66a2.2,2.2 0 1,0 4.4,0a2.2,2.2 0 1,0 -4.4,0M347.6,399.19a2.2,2.2 0 1,0 4.4,0a2.2,2.2 0 1,0 -4.4,0M353.7,398.89a2.2,2.2 0 1,0 4.4,0a2.2,2.2 0 1,0 -4.4,0M359.6,399.99a2.2,2.2 0 1,0 4.4,0a2.2,2.2 0 1,0 -4.4,0M365.7,396.76a2.2,2.2 0 1,0 4.4,0a2.2,2.2 0 1,0 -4.4,0M371.2,397.62a2.2,2.2 0 1,0 4.4,0a2.2,2.2 0 1,0 -4.4,0M377.3,397.24a2.2,2.2 0 1,0 4.4,0a2.2,2.2 0 1,0 -4.4,0M382.7,401.71a2.2,2.2 0 1,0 4.4,0a2.2,2.2 0 1,0 -4.4,0M388.9,397.56a2.2,2.2 0 1,0 4.4,0a2.2,2.2 0 1,0 -4.4,0M394.3,399.63a2.2,2.2 0 1,0 4.4,0a2.2,2.2 0 1,0 -4.4,0M399.7,400.42a2.2,2.2 0 1,0 4.4,0a2.2,2.2 0 1,0 -4.4,0M405.9,397.69a2.2,2.2 0 1,0 4.4,0a2.2,2.2 0 1,0 -4.4,0M412,401.66a2.2,2.2 0 1,0 4.4,0a2.2,2.2 0 1,0 -4.4,0M417.4,398.37a2.2,2.2 0 1,0 4.4,0a2.2,2.2 0 1,0 -4.4,0M423.5,401.35a2.2,2.2 0 1,0 4.4,0a2.2,2.2 0 1,0 -4.4,0M429,398.85a2.2,2.2 0 1,0 4.4,0a2.2,2.2 0 1,0 -4.4,0M435.1,399.53a2.2,2.2 0 1,0 4.4,0a2.2,2.2 0 1,0 -4.4,0M441.2,399.45a2.2,2.2 0 1,0 4.4,0a2.2,2.2 0 1,0 -4.4,0M446.7,397.86a2.2,2.2 0 1,0 4.4,0a2.2,2.2 0 1,0 -4.4,0M452.8,397.88a2.2,2.2 0 1,0 4.4,0a2.2,2.2 0 1,0 -4.4,0M458.2,400.18a2.2,2.2 0 1,0 4.4,0a2.2,2.2 0 1,0 -4.4,0M464.4,399.92a2.2,2.2 0 1,0 4.4,0a2.2,2.2 0 1,0 -4.4,0M469.8,399.46a2.2,2.2 0 1,0 4.4,0a2.2,2.2 0 1,0 -4.4,0M475.9,401.6a2.2,2.2 0 1,0 4.4,0a2.2,2.2 0 1,0 -4.4,0M481.4,399.84a2.2,2.2 0 1,0 4.4,0a2.2,2.2 0 1,0 -4.4,0M487.5,397.03a2.2,2.2 0 1,0 4.4,0a2.2,2.2 0 1,0 -4.4,0M493.6,397.56a2.2,2.2 0 1,0 4.4,0a2.2,2.2 0 1,0 -4.4,0M499.1,399.11a2.2,2.2 0 1,0 4.4,0a2.2,2.2 0 1,0 -4.4,0M505.2,398.73a2.2,2.2 0 1,0 4.4,0a2.2,2.2 0 1,0 -4.4,0M511.3,398.73a2.2,2.2 0 1,0 4.4,0a2.2,2.2 0 1,0 -4.4,0M516.7,399.25a2.2,2.2 0 1,0 4.4,0a2.2,2.2 0 1,0 -4.4,0M522.9,400.45a2.2,2.2 0 1,0 4.4,0a2.2,2.2 0 1,0 -4.4,0M529,396.46a2.2,2.2 0 1,0 4.4,0a2.2,2.2 0 1,0 -4.4,0M534.4,396.46a2.2,2.2 0 1,0 4.4,0a2.2,2.2 0 1,0 -4.4,0M540.6,400.7a2.2,2.2 0 1,0 4.4,0a2.2,2.2 0 1,0 -4.4,0M546,398.3a2.2,2.2 0 1,0 4.4,0a2.2,2.2 0 1,0 -4.4,0M551.9,400.67a2.2,2.2 0 1,0 4.4,0a2.2,2.2 0 1,0 -4.4,0M558,399.49a2.2,2.2 0 1,0 4.4,0a2.2,2.2 0 1,0 -4.4,0M564.1,397.51a2.2,2.2 0 1,0 4.4,0a2.2,2.2 0 1,0 -4.4,0M569.6,391.41a2.2,2.2 0 1,0 4.4,0a2.2,2.2 0 1,0 -4.4,0M575.7,395.83a2.2,2.2 0 1,0 4.4,0a2.2,2.2 0 1,0 -4.4,0M581.1,397.48a2.2,2.2 0 1,0 4.4,0a2.2,2.2 0 1,0 -4.4,0M587.3,397.08a2.2,2.2 0 1,0 4.4,0a2.2,2.2 0 1,0 -4.4,0M593.4,399.62a2.2,2.2 0 1,0 4.4,0a2.2,2.2 0 1,0 -4.4,0M598.8,394.19a2.2,2.2 0 1,0 4.4,0a2.2,2.2 0 1,0 -4.4,0M604.9,398.23a2.2,2.2 0 1,0 4.4,0a2.2,2.2 0 1,0 -4.4,0M610.4,400.01a2.2,2.2 0 1,0 4.4,0a2.2,2.2 0 1,0 -4.4,0M616.5,396.67a2.2,2.2 0 1,0 4.4,0a2.2,2.2 0 1,0 -4.4,0M622.6,397.18a2.2,2.2 0 1,0 4.4,0a2.2,2.2 0 1,0 -4.4,0M628.1,398.64a2.2,2.2 0 1,0 4.4,0a2.2,2.2 0 1,0 -4.4,0M634.2,394.74a2.2,2.2 0 1,0 4.4,0a2.2,2.2 0 1,0 -4.4,0M639.6,400.51a2.2,2.2 0 1,0 4.4,0a2.2,2.2 0 1,0 -4.4,0M645.8,400.57a2.2,2.2 0 1,0 4.4,0a2.2,2.2 0 1,0 -4.4,0M651.9,400.9a2.2,2.2 0 1,0 4.4,0a2.2,2.2 0 1,0 -4.4,0M658,395.8a2.2,2.2 0 1,0 4.4,0a2.2,2.2 0 1,0 -4.4,0M663.4,397.86a2.2,2.2 0 1,0 4.4,0a2.2,2.2 0 1,0 -4.4,0M669.6,397.8a2.2,2.2 0 1,0 4.4,0a2.2,2.2 0 1,0 -4.4,0M675,399.36a2.2,2.2 0 1,0 4.4,0a2.2,2.2 0 1,0 -4.4,0M681.1,401.03a2.2,2.2 0 1,0 4.4,0a2.2,2.2 0 1,0 -4.4,0M686.6,400.58a2.2,2.2 0 1,0 4.4,0a2.2,2.2 0 1,0 -4.4,0M692.7,401.11a2.2,2.2 0 1,0 4.4,0a2.2,2.2 0 1,0 -4.4,0M698.8,397.99a2.2,2.2 0 1,0 4.4,0a2.2,2.2 0 1,0 -4.4,0M704.3,398.82a2.2,2.2 0 1,0 4.4,0a2.2,2.2 0 1,0 -4.4,0M710.4,395.67a2.2,2.2 0 1,0 4.4,0a2.2,2.2 0 1,0 -4.4,0M715.8,398a2.2,2.2 0 1,0 4.4,0a2.2,2.2 0 1,0 -4.4,0M721.9,395.24a2.2,2.2 0 1,0 4.4,0a2.2,2.2 0 1,0 -4.4,0M728.1,401.22a2.2,2.2 0 1,0 4.4,0a2.2,2.2 0 1,0 -4.4,0M733.5,398.71a2.2,2.2 0 1,0 4.4,0a2.2,2.2 0 1,0 -4.4,0M739.6,398.77a2.2,2.2 0 1,0 4.4,0a2.2,2.2 0 1,0 -4.4,0M746.9,398.07a2.2,2.2 0 1,0 4.4,0a2.2,2.2 0 1,0 -4.4,0M752.3,397.62a2.2,2.2 0 1,0 4.4,0a2.2,2.2 0 1,0 -4.4,0M758.4,394.91a2.2,2.2 0 1,0 4.4,0a2.2,2.2 0 1,0 -4.4,0M764.6,396.81a2.2,2.2 0 1,0 4.4,0a2.2,2.2 0 1,0 -4.4,0M770.7,399.19a2.2,2.2 0 1,0 4.4,0a2.2,2.2 0 1,0 -4.4,0M776.1,394.06a2.2,2.2 0 1,0 4.4,0a2.2,2.2 0 1,0 -4.4,0M782.3,398.38a2.2,2.2 0 1,0 4.4,0a2.2,2.2 0 1,0 -4.4,0M788.4,397.67a2.2,2.2 0 1,0 4.4,0a2.2,2.2 0 1,0 -4.4,0M794.5,399.48a2.2,2.2 0 1,0 4.4,0a2.2,2.2 0 1,0 -4.4,0M799.9,402.65a2.2,2.2 0 1,0 4.4,0a2.2,2.2 0 1,0 -4.4,0M806.1,394.77a2.2,2.2 0 1,0 4.4,0a2.2,2.2 0 1,0 -4.4,0M812.2,396.35a2.2,2.2 0 1,0 4.4,0a2.2,2.2 0 1,0 -4.4,0M817.6,392.99a2.2,2.2 0 1,0 4.4,0a2.2,2.2 0 1,0 -4.4,0M823.8,399.38a2.2,2.2 0 1,0 4.4,0a2.2,2.2 0 1,0 -4.4,0M829.2,398.6a2.2,2.2 0 1,0 4.4,0a2.2,2.2 0 1,0 -4.4,0M835.3,398.22a2.2,2.2 0 1,0 4.4,0a2.2,2.2 0 1,0 -4.4,0M840.8,402.11a2.2,2.2 0 1,0 4.4,0a2.2,2.2 0 1,0 -4.4,0M846.9,393.73a2.2,2.2 0 1,0 4.4,0a2.2,2.2 0 1,0 -4.4,0M852.3,395.23a2.2,2.2 0 1,0 4.4,0a2.2,2.2 0 1,0 -4.4,0M858.4,400.6a2.2,2.2 0 1,0 4.4,0a2.2,2.2 0 1,0 -4.4,0M863.9,396.33a2.2,2.2 0 1,0 4.4,0a2.2,2.2 0 1,0 -4.4,0M870,400.95a2.2,2.2 0 1,0 4.4,0a2.2,2.2 0 1,0 -4.4,0M875.5,398.89a2.2,2.2 0 1,0 4.4,0a2.2,2.2 0 1,0 -4.4,0M881.6,401.47a2.2,2.2 0 1,0 4.4,0a2.2,2.2 0 1,0 -4.4,0M887,398.38a2.2,2.2 0 1,0 4.4,0a2.2,2.2 0 1,0 -4.4,0M893.1,398.12a2.2,2.2 0 1,0 4.4,0a2.2,2.2 0 1,0 -4.4,0M898.6,394a2.2,2.2 0 1,0 4.4,0a2.2,2.2 0 1,0 -4.4,0M904.7,391.53a2.2,2.2 0 1,0 4.4,0a2.2,2.2 0 1,0 -4.4,0M910.8,394.45a2.2,2.2 0 1,0 4.4,0a2.2,2.2 0 1,0 -4.4,0M916.3,398.89a2.2,2.2 0 1,0 4.4,0a2.2,2.2 0 1,0 -4.4,0M922.4,400.41a2.2,2.2 0 1,0 4.4,0a2.2,2.2 0 1,0 -4.4,0M927.8,398.4a2.2,2.2 0 1,0 4.4,0a2.2,2.2 0 1,0 -4.4,0M934,395.34a2.2,2.2 0 1,0 4.4,0a2.2,2.2 0 1,0 -4.4,0M939.8,397.12a2.2,2.2 0 1,0 4.4,0a2.2,2.2 0 1,0 -4.4,0M945.3,399.5a2.2,2.2 0 1,0 4.4,0a2.2,2.2 0 1,0 -4.4,0M951.4,394.73a2.2,2.2 0 1,0 4.4,0a2.2,2.2 0 1,0 -4.4,0M956.8,397.5a2.2,2.2 0 1,0 4.4,0a2.2,2.2 0 1,0 -4.4,0M963,400.3a2.2,2.2 0 1,0 4.4,0a2.2,2.2 0 1,0 -4.4,0M968.4,395.06a2.2,2.2 0 1,0 4.4,0a2.2,2.2 0 1,0 -4.4,0M974.5,398.63a2.2,2.2 0 1,0 4.4,0a2.2,2.2 0 1,0 -4.4,0M980,399.76a2.2,2.2 0 1,0 4.4,0a2.2,2.2 0 1,0 -4.4,0M985.4,396.77a2.2,2.2 0 1,0 4.4,0a2.2,2.2 0 1,0 -4.4,0M991.5,399.41a2.2,2.2 0 1,0 4.4,0a2.2,2.2 0 1,0 -4.4,0M997,392.19a2.2,2.2 0 1,0 4.4,0a2.2,2.2 0 1,0 -4.4,0M1003.1,394.72a2.2,2.2 0 1,0 4.4,0a2.2,2.2 0 1,0 -4.4,0M1008.5,400.09a2.2,2.2 0 1,0 4.4,0a2.2,2.2 0 1,0 -4.4,0M1014.7,400.16a2.2,2.2 0 1,0 4.4,0a2.2,2.2 0 1,0 -4.4,0M1020.1,397.55a2.2,2.2 0 1,0 4.4,0a2.2,2.2 0 1,0 -4.4,0M1026.2,399.7a2.2,2.2 0 1,0 4.4,0a2.2,2.2 0 1,0 -4.4,0M1031.7,397.5a2.2,2.2 0 1,0 4.4,0a2.2,2.2 0 1,0 -4.4,0M1037.8,400.63a2.2,2.2 0 1,0 4.4,0a2.2,2.2 0 1,0 -4.4,0M1043.2,397.65a2.2,2.2 0 1,0 4.4,0a2.2,2.2 0 1,0 -4.4,0M1049.4,401.06a2.2,2.2 0 1,0 4.4,0a2.2,2.2 0 1,0 -4.4,0M1054.8,396.58a2.2,2.2 0 1,0 4.4,0a2.2,2.2 0 1,0 -4.4,0M1060.9,395.76a2.2,2.2 0 1,0 4.4,0a2.2,2.2 0 1,0 -4.4,0M1066.4,396.9a2.2,2.2 0 1,0 4.4,0a2.2,2.2 0 1,0 -4.4,0M1071.8,389.32a2.2,2.2 0 1,0 4.4,0a2.2,2.2 0 1,0 -4.4,0M1077.9,396.91a2.2,2.2 0 1,0 4.4,0a2.2,2.2 0 1,0 -4.4,0M1083.4,397.79a2.2,2.2 0 1,0 4.4,0a2.2,2.2 0 1,0 -4.4,0M1089.5,398.24a2.2,2.2 0 1,0 4.4,0a2.2,2.2 0 1,0 -4.4,0M1094.9,400.48a2.2,2.2 0 1,0 4.4,0a2.2,2.2 0 1,0 -4.4,0M1101.1,392.75a2.2,2.2 0 1,0 4.4,0a2.2,2.2 0 1,0 -4.4,0M1106.5,396.74a2.2,2.2 0 1,0 4.4,0a2.2,2.2 0 1,0 -4.4,0M1112.6,399.88a2.2,2.2 0 1,0 4.4,0a2.2,2.2 0 1,0 -4.4,0M1118.1,399.21a2.2,2.2 0 1,0 4.4,0a2.2,2.2 0 1,0 -4.4,0M1124.2,397.86a2.2,2.2 0 1,0 4.4,0a2.2,2.2 0 1,0 -4.4,0M1129.6,398.13a2.2,2.2 0 1,0 4.4,0a2.2,2.2 0 1,0 -4.4,0M1135.9,397.95a2.2,2.2 0 1,0 4.4,0a2.2,2.2 0 1,0 -4.4,0M1142.2,395.49a2.2,2.2 0 1,0 4.4,0a2.2,2.2 0 1,0 -4.4,0M1147.7,400.06a2.2,2.2 0 1,0 4.4,0a2.2,2.2 0 1,0 -4.4,0M1153.9,399.4a2.2,2.2 0 1,0 4.4,0a2.2,2.2 0 1,0 -4.4,0M1159.4,399.51a2.2,2.2 0 1,0 4.4,0a2.2,2.2 0 1,0 -4.4,0M1165.7,398.25a2.2,2.2 0 1,0 4.4,0a2.2,2.2 0 1,0 -4.4,0M1171.1,398.2a2.2,2.2 0 1,0 4.4,0a2.2,2.2 0 1,0 -4.4,0M1177.4,399.87a2.2,2.2 0 1,0 4.4,0a2.2,2.2 0 1,0 -4.4,0M1182.9,397.63a2.2,2.2 0 1,0 4.4,0a2.2,2.2 0 1,0 -4.4,0M1188.4,397.15a2.2,2.2 0 1,0 4.4,0a2.2,2.2 0 1,0 -4.4,0M1194.6,400.1a2.2,2.2 0 1,0 4.4,0a2.2,2.2 0 1,0 -4.4,0M1200.1,395.61a2.2,2.2 0 1,0 4.4,0a2.2,2.2 0 1,0 -4.4,0M1206.4,400.58a2.2,2.2 0 1,0 4.4,0a2.2,2.2 0 1,0 -4.4,0M1211.8,400.35a2.2,2.2 0 1,0 4.4,0a2.2,2.2 0 1,0 -4.4,0M1218.1,397.62a2.2,2.2 0 1,0 4.4,0a2.2,2.2 0 1,0 -4.4,0M1223.6,400.06a2.2,2.2 0 1,0 4.4,0a2.2,2.2 0 1,0 -4.4,0M1229,400.39a2.2,2.2 0 1,0 4.4,0a2.2,2.2 0 1,0 -4.4,0M1234.5,397.54a2.2,2.2 0 1,0 4.4,0a2.2,2.2 0 1,0 -4.4,0M1240.8,394.67a2.2,2.2 0 1,0 4.4,0a2.2,2.2 0 1,0 -4.4,0M1246.3,398.58a2.2,2.2 0 1,0 4.4,0a2.2,2.2 0 1,0 -4.4,0M1252.5,398.86a2.2,2.2 0 1,0 4.4,0a2.2,2.2 0 1,0 -4.4,0M1258,398.71a2.2,2.2 0 1,0 4.4,0a2.2,2.2 0 1,0 -4.4,0M1263.5,393.02a2.2,2.2 0 1,0 4.4,0a2.2,2.2 0 1,0 -4.4,0M1269.7,399.44a2.2,2.2 0 1,0 4.4,0a2.2,2.2 0 1,0 -4.4,0M1275.2,398.63a2.2,2.2 0 1,0 4.4,0a2.2,2.2 0 1,0 -4.4,0M1281.5,399.4a2.2,2.2 0 1,0 4.4,0a2.2,2.2 0 1,0 -4.4,0M1286.9,398.05a2.2,2.2 0 1,0 4.4,0a2.2,2.2 0 1,0 -4.4,0M1293.2,398.31a2.2,2.2 0 1,0 4.4,0a2.2,2.2 0 1,0 -4.4,0M1298.7,399.14a2.2,2.2 0 1,0 4.4,0a2.2,2.2 0 1,0 -4.4,0M1304.9,397.63a2.2,2.2 0 1,0 4.4,0a2.2,2.2 0 1,0 -4.4,0M1310.4,399.43a2.2,2.2 0 1,0 4.4,0a2.2,2.2 0 1,0 -4.4,0M1316.7,400.9a2.2,2.2 0 1,0 4.4,0a2.2,2.2 0 1,0 -4.4,0M1322.2,399.67a2.2,2.2 0 1,0 4.4,0a2.2,2.2 0 1,0 -4.4,0M1328.4,398.93a2.2,2.2 0 1,0 4.4,0a2.2,2.2 0 1,0 -4.4,0M1333.9,398.96a2.2,2.2 0 1,0 4.4,0a2.2,2.2 0 1,0 -4.4,0M1339.4,398.64a2.2,2.2 0 1,0 4.4,0a2.2,2.2 0 1,0 -4.4,0M1345.7,397.49a2.2,2.2 0 1,0 4.4,0a2.2,2.2 0 1,0 -4.4,0M1351.1,397.9a2.2,2.2 0 1,0 4.4,0a2.2,2.2 0 1,0 -4.4,0M1357.4,402.1a2.2,2.2 0 1,0 4.4,0a2.2,2.2 0 1,0 -4.4,0" fill="#dd79ff" clip-path="url(#lc)"/>
<polyline points="158.6,386.66 164.1,386.51 170.2,384.5 176.3,379.24 182.4,383.3 188.6,384.98 194,383.48 200.1,387.07 206.3,387.99 211.7,387.75 217.1,388.47 222.6,384.81 228.7,388.52 234.1,389.06 240.3,388.58 245.7,389.59 251.8,385.77 257.3,384.98 263.4,388.23 268.8,384.33 275,385.93 280.4,383.12 285.9,387.78 292,383.82 298.1,388.11 303.5,386.48 309.7,383.12 315.1,387.2 321.2,386.63 326.7,381.59 332.8,386.97 338.2,386.51 344.4,387.17 349.8,387.15 355.9,387.17 361.8,386.6 367.9,384.72 373.4,385.3 379.5,385.25 384.9,388.86 391.1,385.37 396.5,387.05 401.9,387.31 408.1,385.42 414.2,388.36 419.6,387.16 425.7,388.28 431.2,386.02 437.3,387.55 443.4,386.8 448.9,384.5 455,386.27 460.4,387.22 466.6,387.63 472,386.72 478.1,389.36 483.6,387.19 489.7,383.67 495.8,385.09 501.3,386.33 507.4,386.55 513.5,386.01 518.9,387.73 525.1,388.4 531.2,383.66 536.6,385.26 542.8,388.79 548.2,386.1 554.1,387.19 560.2,386.54 566.3,384.88 571.8,378.92 577.9,383.29 583.3,386.19 589.5,383.9 595.6,386.33 601,381.95 607.1,385.91 612.6,388.25 618.7,384.28 624.8,384.74 630.3,387.33 636.4,382.57 641.8,387.32 648,387.66 654.1,388.47 660.2,382.5 665.6,386.1 671.8,384.45 677.2,385.65 683.3,388.23 688.8,388.45 694.9,388.46 701,384.78 706.5,385.67 712.6,383.26 718,385.36 724.1,383.68 730.3,388.02 735.7,385.67 741.8,386.5 749.1,385.07 754.5,384.73 760.6,382.1 766.8,384.43 772.9,385.74 778.3,381.19 784.5,386.27 790.6,384.91 796.7,388 802.1,390.37 808.3,381.82 814.4,384.36 819.8,380.69 826,386.92 831.4,386.24 837.5,384.13 843,388.61 849.1,380.66 854.5,383.12 860.6,388.22 866.1,384.13 872.2,388.12 877.7,386.09 883.8,389.02 889.2,385.68 895.3,385.68 900.8,382.11 906.9,378.58 913,382.7 918.5,385.94 924.6,387.83 930,385.84 936.2,383.03 942,384.78 947.5,386.7 953.6,381.79 959,385.41 965.2,387.84 970.6,382.52 976.7,386.78 982.2,387.58 987.6,384.8 993.7,387.26 999.2,381.09 1005.3,382.19 1010.7,387.42 1016.9,386.64 1022.3,386.05 1028.4,387 1033.9,385.16 1040,389.05 1045.4,385.72 1051.6,387.46 1057,383.65 1063.1,382.99 1068.6,384.51 1074,376.96 1080.1,385.09 1085.6,385.42 1091.7,385.61 1097.1,387.23 1103.3,380.21 1108.7,383.94 1114.8,387 1120.3,387.16 1126.4,386.02 1131.8,385.64 1138.1,385.01 1144.4,383.06 1149.9,387.31 1156.1,386.76 1161.6,386.66 1167.9,385.18 1173.3,386.29 1179.6,387.03 1185.1,384.76 1190.6,383.47 1196.8,387.89 1202.3,382.93 1208.6,387.5 1214,387.14 1220.3,385.13 1225.8,386.83 1231.2,387.93 1236.7,384.94 1243,382.49 1248.5,385.67 1254.7,385.92 1260.2,386.69 1265.7,380.4 1271.9,386.65 1277.4,386.18 1283.7,386.34 1289.1,384.59 1295.4,385.05 1300.9,386.94 1307.1,384.16 1312.6,385.67 1318.9,388.9 1324.4,386.6 1330.6,386.71 1336.1,386.2 1341.6,385.59 1347.9,384.99 1353.3,384.63 1359.6,388.67" fill="none" stroke="#4992ff" stroke-width="2" stroke-linejoin="bevel" clip-path="url(#lc)"/>
<path d="M161.9,386.51a2.2,2.2 0 1,0 4.4,0a2.2,2.2 0 1,0 -4.4,0M168,384.5a2.2,2.2 0 1,0 4.4,0a2.2,2.2 0 1,0 -4.4,0M174.1,379.24a2.2,2.2 0 1,0 4.4,0a2.2,2.2 0 1,0 -4.4,0M180.2,383.3a2.2,2.2 0 1,0 4.4,0a2.2,2.2 0 1,0 -4.4,0M186.4,384.98a2.2,2.2 0 1,0 4.4,0a2.2,2.2 0 1,0 -4.4,0M191.8,383.48a2.2,2.2 0 1,0 4.4,0a2.2,2.2 0 1,0 -4.4,0M197.9,387.07a2.2,2.2 0 1,0 4.4,0a2.2,2.2 0 1,0 -4.4,0M204.1,387.99a2.2,2.2 0 1,0 4.4,0a2.2,2.2 0 1,0 -4.4,0M209.5,387.75a2.2,2.2 0 1,0 4.4,0a2.2,2.2 0 1,0 -4.4,0M214.9,388.47a2.2,2.2 0 1,0 4.4,0a2.2,2.2 0 1,0 -4.4,0M220.4,384.81a2.2,2.2 0 1,0 4.4,0a2.2,2.2 0 1,0 -4.4,0M226.5,388.52a2.2,2.2 0 1,0 4.4,0a2.2,2.2 0 1,0 -4.4,0M231.9,389.06a2.2,2.2 0 1,0 4.4,0a2.2,2.2 0 1,0 -4.4,0M238.1,388.58a2.2,2.2 0 1,0 4.4,0a2.2,2.2 0 1,0 -4.4,0M243.5,389.59a2.2,2.2 0 1,0 4.4,0a2.2,2.2 0 1,0 -4.4,0M249.6,385.77a2.2,2.2 0 1,0 4.4,0a2.2,2.2 0 1,0 -4.4,0M255.1,384.98a2.2,2.2 0 1,0 4.4,0a2.2,2.2 0 1,0 -4.4,0M261.2,388.23a2.2,2.2 0 1,0 4.4,0a2.2,2.2 0 1,0 -4.4,0M266.6,384.33a2.2,2.2 0 1,0 4.4,0a2.2,2.2 0 1,0 -4.4,0M272.8,385.93a2.2,2.2 0 1,0 4.4,0a2.2,2.2 0 1,0 -4.4,0M278.2,383.12a2.2,2.2 0 1,0 4.4,0a2.2,2.2 0 1,0 -4.4,0M283.7,387.78a2.2,2.2 0 1,0 4.4,0a2.2,2.2 0 1,0 -4.4,0M289.8,383.82a2.2,2.2 0 1,0 4.4,0a2.2,2.2 0 1,0 -4.4,0M295.9,388.11a2.2,2.2 0 1,0 4.4,0a2.2,2.2 0 1,0 -4.4,0M301.3,386.48a2.2,2.2 0 1,0 4.4,0a2.2,2.2 0 1,0 -4.4,0M307.5,383.12a2.2,2.2 0 1,0 4.4,0a2.2,2.2 0 1,0 -4.4,0M312.9,387.2a2.2,2.2 0 1,0 4.4,0a2.2,2.2 0 1,0 -4.4,0M319,386.63a2.2,2.2 0 1,0 4.4,0a2.2,2.2 0 1,0 -4.4,0M324.5,381.59a2.2,2.2 0 1,0 4.4,0a2.2,2.2 0 1,0 -4.4,0M330.6,386.97a2.2,2.2 0 1,0 4.4,0a2.2,2.2 0 1,0 -4.4,0M336,386.51a2.2,2.2 0 1,0 4.4,0a2.2,2.2 0 1,0 -4.4,0M342.2,387.17a2.2,2.2 0 1,0 4.4,0a2.2,2.2 0 1,0 -4.4,0M347.6,387.15a2.2,2.2 0 1,0 4.4,0a2.2,2.2 0 1,0 -4.4,0M353.7,387.17a2.2,2.2 0 1,0 4.4,0a2.2,2.2 0 1,0 -4.4,0M359.6,386.6a2.2,2.2 0 1,0 4.4,0a2.2,2.2 0 1,0 -4.4,0M365.7,384.72a2.2,2.2 0 1,0 4.4,0a2.2,2.2 0 1,0 -4.4,0M371.2,385.3a2.2,2.2 0 1,0 4.4,0a2.2,2.2 0 1,0 -4.4,0M377.3,385.25a2.2,2.2 0 1,0 4.4,0a2.2,2.2 0 1,0 -4.4,0M382.7,388.86a2.2,2.2 0 1,0 4.4,0a2.2,2.2 0 1,0 -4.4,0M388.9,385.37a2.2,2.2 0 1,0 4.4,0a2.2,2.2 0 1,0 -4.4,0M394.3,387.05a2.2,2.2 0 1,0 4.4,0a2.2,2.2 0 1,0 -4.4,0M399.7,387.31a2.2,2.2 0 1,0 4.4,0a2.2,2.2 0 1,0 -4.4,0M405.9,385.42a2.2,2.2 0 1,0 4.4,0a2.2,2.2 0 1,0 -4.4,0M412,388.36a2.2,2.2 0 1,0 4.4,0a2.2,2.2 0 1,0 -4.4,0M417.4,387.16a2.2,2.2 0 1,0 4.4,0a2.2,2.2 0 1,0 -4.4,0M423.5,388.28a2.2,2.2 0 1,0 4.4,0a2.2,2.2 0 1,0 -4.4,0M429,386.02a2.2,2.2 0 1,0 4.4,0a2.2,2.2 0 1,0 -4.4,0M435.1,387.55a2.2,2.2 0 1,0 4.4,0a2.2,2.2 0 1,0 -4.4,0M441.2,386.8a2.2,2.2 0 1,0 4.4,0a2.2,2.2 0 1,0 -4.4,0M446.7,384.5a2.2,2.2 0 1,0 4.4,0a2.2,2.2 0 1,0 -4.4,0M452.8,386.27a2.2,2.2 0 1,0 4.4,0a2.2,2.2 0 1,0 -4.4,0M458.2,387.22a2.2,2.2 0 1,0 4.4,0a2.2,2.2 0 1,0 -4.4,0M464.4,387.63a2.2,2.2 0 1,0 4.4,0a2.2,2.2 0 1,0 -4.4,0M469.8,386.72a2.2,2.2 0 1,0 4.4,0a2.2,2.2 0 1,0 -4.4,0M475.9,389.36a2.2,2.2 0 1,0 4.4,0a2.2,2.2 0 1,0 -4.4,0M481.4,387.19a2.2,2.2 0 1,0 4.4,0a2.2,2.2 0 1,0 -4.4,0M487.5,383.67a2.2,2.2 0 1,0 4.4,0a2.2,2.2 0 1,0 -4.4,0M493.6,385.09a2.2,2.2 0 1,0 4.4,0a2.2,2.2 0 1,0 -4.4,0M499.1,386.33a2.2,2.2 0 1,0 4.4,0a2.2,2.2 0 1,0 -4.4,0M505.2,386.55a2.2,2.2 0 1,0 4.4,0a2.2,2.2 0 1,0 -4.4,0M511.3,386.01a2.2,2.2 0 1,0 4.4,0a2.2,2.2 0 1,0 -4.4,0M516.7,387.73a2.2,2.2 0 1,0 4.4,0a2.2,2.2 0 1,0 -4.4,0M522.9,388.4a2.2,2.2 0 1,0 4.4,0a2.2,2.2 0 1,0 -4.4,0M529,383.66a2.2,2.2 0 1,0 4.4,0a2.2,2.2 0 1,0 -4.4,0M534.4,385.26a2.2,2.2 0 1,0 4.4,0a2.2,2.2 0 1,0 -4.4,0M540.6,388.79a2.2,2.2 0 1,0 4.4,0a2.2,2.2 0 1,0 -4.4,0M546,386.1a2.2,2.2 0 1,0 4.4,0a2.2,2.2 0 1,0 -4.4,0M551.9,387.19a2.2,2.2 0 1,0 4.4,0a2.2,2.2 0 1,0 -4.4,0M558,386.54a2.2,2.2 0 1,0 4.4,0a2.2,2.2 0 1,0 -4.4,0M564.1,384.88a2.2,2.2 0 1,0 4.4,0a2.2,2.2 0 1,0 -4.4,0M569.6,378.92a2.2,2.2 0 1,0 4.4,0a2.2,2.2 0 1,0 -4.4,0M575.7,383.29a2.2,2.2 0 1,0 4.4,0a2.2,2.2 0 1,0 -4.4,0M581.1,386.19a2.2,2.2 0 1,0 4.4,0a2.2,2.2 0 1,0 -4.4,0M587.3,383.9a2.2,2.2 0 1,0 4.4,0a2.2,2.2 0 1,0 -4.4,0M593.4,386.33a2.2,2.2 0 1,0 4.4,0a2.2,2.2 0 1,0 -4.4,0M598.8,381.95a2.2,2.2 0 1,0 4.4,0a2.2,2.2 0 1,0 -4.4,0M604.9,385.91a2.2,2.2 0 1,0 4.4,0a2.2,2.2 0 1,0 -4.4,0M610.4,388.25a2.2,2.2 0 1,0 4.4,0a2.2,2.2 0 1,0 -4.4,0M616.5,384.28a2.2,2.2 0 1,0 4.4,0a2.2,2.2 0 1,0 -4.4,0M622.6,384.74a2.2,2.2 0 1,0 4.4,0a2.2,2.2 0 1,0 -4.4,0M628.1,387.33a2.2,2.2 0 1,0 4.4,0a2.2,2.2 0 1,0 -4.4,0M634.2,382.57a2.2,2.2 0 1,0 4.4,0a2.2,2.2 0 1,0 -4.4,0M639.6,387.32a2.2,2.2 0 1,0 4.4,0a2.2,2.2 0 1,0 -4.4,0M645.8,387.66a2.2,2.2 0 1,0 4.4,0a2.2,2.2 0 1,0 -4.4,0M651.9,388.47a2.2,2.2 0 1,0 4.4,0a2.2,2.2 0 1,0 -4.4,0M658,382.5a2.2,2.2 0 1,0 4.4,0a2.2,2.2 0 1,0 -4.4,0M663.4,386.1a2.2,2.2 0 1,0 4.4,0a2.2,2.2 0 1,0 -4.4,0M669.6,384.45a2.2,2.2 0 1,0 4.4,0a2.2,2.2 0 1,0 -4.4,0M675,385.65a2.2,2.2 0 1,0 4.4,0a2.2,2.2 0 1,0 -4.4,0M681.1,388.23a2.2,2.2 0 1,0 4.4,0a2.2,2.2 0 1,0 -4.4,0M686.6,388.45a2.2,2.2 0 1,0 4.4,0a2.2,2.2 0 1,0 -4.4,0M692.7,388.46a2.2,2.2 0 1,0 4.4,0a2.2,2.2 0 1,0 -4.4,0M698.8,384.78a2.2,2.2 0 1,0 4.4,0a2.2,2.2 0 1,0 -4.4,0M704.3,385.67a2.2,2.2 0 1,0 4.4,0a2.2,2.2 0 1,0 -4.4,0M710.4,383.26a2.2,2.2 0 1,0 4.4,0a2.2,2.2 0 1,0 -4.4,0M715.8,385.36a2.2,2.2 0 1,0 4.4,0a2.2,2.2 0 1,0 -4.4,0M721.9,383.68a2.2,2.2 0 1,0 4.4,0a2.2,2.2 0 1,0 -4.4,0M728.1,388.02a2.2,2.2 0 1,0 4.4,0a2.2,2.2 0 1,0 -4.4,0M733.5,385.67a2.2,2.2 0 1,0 4.4,0a2.2,2.2 0 1,0 -4.4,0M739.6,386.5a2.2,2.2 0 1,0 4.4,0a2.2,2.2 0 1,0 -4.4,0M746.9,385.07a2.2,2.2 0 1,0 4.4,0a2.2,2.2 0 1,0 -4.4,0M752.3,384.73a2.2,2.2 0 1,0 4.4,0a2.2,2.2 0 1,0 -4.4,0M758.4,382.1a2.2,2.2 0 1,0 4.4,0a2.2,2.2 0 1,0 -4.4,0M764.6,384.43a2.2,2.2 0 1,0 4.4,0a2.2,2.2 0 1,0 -4.4,0M770.7,385.74a2.2,2.2 0 1,0 4.4,0a2.2,2.2 0 1,0 -4.4,0M776.1,381.19a2.2,2.2 0 1,0 4.4,0a2.2,2.2 0 1,0 -4.4,0M782.3,386.27a2.2,2.2 0 1,0 4.4,0a2.2,2.2 0 1,0 -4.4,0M788.4,384.91a2.2,2.2 0 1,0 4.4,0a2.2,2.2 0 1,0 -4.4,0M794.5,388a2.2,2.2 0 1,0 4.4,0a2.2,2.2 0 1,0 -4.4,0M799.9,390.37a2.2,2.2 0 1,0 4.4,0a2.2,2.2 0 1,0 -4.4,0M806.1,381.82a2.2,2.2 0 1,0 4.4,0a2.2,2.2 0 1,0 -4.4,0M812.2,384.36a2.2,2.2 0 1,0 4.4,0a2.2,2.2 0 1,0 -4.4,0M817.6,380.69a2.2,2.2 0 1,0 4.4,0a2.2,2.2 0 1,0 -4.4,0M823.8,386.92a2.2,2.2 0 1,0 4.4,0a2.2,2.2 0 1,0 -4.4,0M829.2,386.24a2.2,2.2 0 1,0 4.4,0a2.2,2.2 0 1,0 -4.4,0M835.3,384.13a2.2,2.2 0 1,0 4.4,0a2.2,2.2 0 1,0 -4.4,0M840.8,388.61a2.2,2.2 0 1,0 4.4,0a2.2,2.2 0 1,0 -4.4,0M846.9,380.66a2.2,2.2 0 1,0 4.4,0a2.2,2.2 0 1,0 -4.4,0M852.3,383.12a2.2,2.2 0 1,0 4.4,0a2.2,2.2 0 1,0 -4.4,0M858.4,388.22a2.2,2.2 0 1,0 4.4,0a2.2,2.2 0 1,0 -4.4,0M863.9,384.13a2.2,2.2 0 1,0 4.4,0a2.2,2.2 0 1,0 -4.4,0M870,388.12a2.2,2.2 0 1,0 4.4,0a2.2,2.2 0 1,0 -4.4,0M875.5,386.09a2.2,2.2 0 1,0 4.4,0a2.2,2.2 0 1,0 -4.4,0M881.6,389.02a2.2,2.2 0 1,0 4.4,0a2.2,2.2 0 1,0 -4.4,0M887,385.68a2.2,2.2 0 1,0 4.4,0a2.2,2.2 0 1,0 -4.4,0M893.1,385.68a2.2,2.2 0 1,0 4.4,0a2.2,2.2 0 1,0 -4.4,0M898.6,382.11a2.2,2.2 0 1,0 4.4,0a2.2,2.2 0 1,0 -4.4,0M904.7,378.58a2.2,2.2 0 1,0 4.4,0a2.2,2.2 0 1,0 -4.4,0M910.8,382.7a2.2,2.2 0 1,0 4.4,0a2.2,2.2 0 1,0 -4.4,0M916.3,385.94a2.2,2.2 0 1,0 4.4,0a2.2,2.2 0 1,0 -4.4,0M922.4,387.83a2.2,2.2 0 1,0 4.4,0a2.2,2.2 0 1,0 -4.4,0M927.8,385.84a2.2,2.2 0 1,0 4.4,0a2.2,2.2 0 1,0 -4.4,0M934,383.03a2.2,2.2 0 1,0 4.4,0a2.2,2.2 0 1,0 -4.4,0M939.8,384.78a2.2,2.2 0 1,0 4.4,0a2.2,2.2 0 1,0 -4.4,0M945.3,386.7a2.2,2.2 0 1,0 4.4,0a2.2,2.2 0 1,0 -4.4,0M951.4,381.79a2.2,2.2 0 1,0 4.4,0a2.2,2.2 0 1,0 -4.4,0M956.8,385.41a2.2,2.2 0 1,0 4.4,0a2.2,2.2 0 1,0 -4.4,0M963,387.84a2.2,2.2 0 1,0 4.4,0a2.2,2.2 0 1,0 -4.4,0M968.4,382.52a2.2,2.2 0 1,0 4.4,0a2.2,2.2 0 1,0 -4.4,0M974.5,386.78a2.2,2.2 0 1,0 4.4,0a2.2,2.2 0 1,0 -4.4,0M980,387.58a2.2,2.2 0 1,0 4.4,0a2.2,2.2 0 1,0 -4.4,0M985.4,384.8a2.2,2.2 0 1,0 4.4,0a2.2,2.2 0 1,0 -4.4,0M991.5,387.26a2.2,2.2 0 1,0 4.4,0a2.2,2.2 0 1,0 -4.4,0M997,381.09a2.2,2.2 0 1,0 4.4,0a2.2,2.2 0 1,0 -4.4,0M1003.1,382.19a2.2,2.2 0 1,0 4.4,0a2.2,2.2 0 1,0 -4.4,0M1008.5,387.42a2.2,2.2 0 1,0 4.4,0a2.2,2.2 0 1,0 -4.4,0M1014.7,386.64a2.2,2.2 0 1,0 4.4,0a2.2,2.2 0 1,0 -4.4,0M1020.1,386.05a2.2,2.2 0 1,0 4.4,0a2.2,2.2 0 1,0 -4.4,0M1026.2,387a2.2,2.2 0 1,0 4.4,0a2.2,2.2 0 1,0 -4.4,0M1031.7,385.16a2.2,2.2 0 1,0 4.4,0a2.2,2.2 0 1,0 -4.4,0M1037.8,389.05a2.2,2.2 0 1,0 4.4,0a2.2,2.2 0 1,0 -4.4,0M1043.2,385.72a2.2,2.2 0 1,0 4.4,0a2.2,2.2 0 1,0 -4.4,0M1049.4,387.46a2.2,2.2 0 1,0 4.4,0a2.2,2.2 0 1,0 -4.4,0M1054.8,383.65a2.2,2.2 0 1,0 4.4,0a2.2,2.2 0 1,0 -4.4,0M1060.9,382.99a2.2,2.2 0 1,0 4.4,0a2.2,2.2 0 1,0 -4.4,0M1066.4,384.51a2.2,2.2 0 1,0 4.4,0a2.2,2.2 0 1,0 -4.4,0M1071.8,376.96a2.2,2.2 0 1,0 4.4,0a2.2,2.2 0 1,0 -4.4,0M1077.9,385.09a2.2,2.2 0 1,0 4.4,0a2.2,2.2 0 1,0 -4.4,0M1083.4,385.42a2.2,2.2 0 1,0 4.4,0a2.2,2.2 0 1,0 -4.4,0M1089.5,385.61a2.2,2.2 0 1,0 4.4,0a2.2,2.2 0 1,0 -4.4,0M1094.9,387.23a2.2,2.2 0 1,0 4.4,0a2.2,2.2 0 1,0 -4.4,0M1101.1,380.21a2.2,2.2 0 1,0 4.4,0a2.2,2.2 0 1,0 -4.4,0M1106.5,383.94a2.2,2.2 0 1,0 4.4,0a2.2,2.2 0 1,0 -4.4,0M1112.6,387a2.2,2.2 0 1,0 4.4,0a2.2,2.2 0 1,0 -4.4,0M1118.1,387.16a2.2,2.2 0 1,0 4.4,0a2.2,2.2 0 1,0 -4.4,0M1124.2,386.02a2.2,2.2 0 1,0 4.4,0a2.2,2.2 0 1,0 -4.4,0M1129.6,385.64a2.2,2.2 0 1,0 4.4,0a2.2,2.2 0 1,0 -4.4,0M1135.9,385.01a2.2,2.2 0 1,0 4.4,0a2.2,2.2 0 1,0 -4.4,0M1142.2,383.06a2.2,2.2 0 1,0 4.4,0a2.2,2.2 0 1,0 -4.4,0M1147.7,387.31a2.2,2.2 0 1,0 4.4,0a2.2,2.2 0 1,0 -4.4,0M1153.9,386.76a2.2,2.2 0 1,0 4.4,0a2.2,2.2 0 1,0 -4.4,0M1159.4,386.66a2.2,2.2 0 1,0 4.4,0a2.2,2.2 0 1,0 -4.4,0M1165.7,385.18a2.2,2.2 0 1,0 4.4,0a2.2,2.2 0 1,0 -4.4,0M1171.1,386.29a2.2,2.2 0 1,0 4.4,0a2.2,2.2 0 1,0 -4.4,0M1177.4,387.03a2.2,2.2 0 1,0 4.4,0a2.2,2.2 0 1,0 -4.4,0M1182.9,384.76a2.2,2.2 0 1,0 4.4,0a2.2,2.2 0 1,0 -4.4,0M1188.4,383.47a2.2,2.2 0 1,0 4.4,0a2.2,2.2 0 1,0 -4.4,0M1194.6,387.89a2.2,2.2 0 1,0 4.4,0a2.2,2.2 0 1,0 -4.4,0M1200.1,382.93a2.2,2.2 0 1,0 4.4,0a2.2,2.2 0 1,0 -4.4,0M1206.4,387.5a2.2,2.2 0 1,0 4.4,0a2.2,2.2 0 1,0 -4.4,0M1211.8,387.14a2.2,2.2 0 1,0 4.4,0a2.2,2.2 0 1,0 -4.4,0M1218.1,385.13a2.2,2.2 0 1,0 4.4,0a2.2,2.2 0 1,0 -4.4,0M1223.6,386.83a2.2,2.2 0 1,0 4.4,0a2.2,2.2 0 1,0 -4.4,0M1229,387.93a2.2,2.2 0 1,0 4.4,0a2.2,2.2 0 1,0 -4.4,0M1234.5,384.94a2.2,2.2 0 1,0 4.4,0a2.2,2.2 0 1,0 -4.4,0M1240.8,382.49a2.2,2.2 0 1,0 4.4,0a2.2,2.2 0 1,0 -4.4,0M1246.3,385.67a2.2,2.2 0 1,0 4.4,0a2.2,2.2 0 1,0 -4.4,0M1252.5,385.92a2.2,2.2 0 1,0 4.4,0a2.2,2.2 0 1,0 -4.4,0M1258,386.69a2.2,2.2 0 1,0 4.4,0a2.2,2.2 0 1,0 -4.4,0M1263.5,380.4a2.2,2.2 0 1,0 4.4,0a2.2,2.2 0 1,0 -4.4,0M1269.7,386.65a2.2,2.2 0 1,0 4.4,0a2.2,2.2 0 1,0 -4.4,0M1275.2,386.18a2.2,2.2 0 1,0 4.4,0a2.2,2.2 0 1,0 -4.4,0M1281.5,386.34a2.2,2.2 0 1,0 4.4,0a2.2,2.2 0 1,0 -4.4,0M1286.9,384.59a2.2,2.2 0 1,0 4.4,0a2.2,2.2 0 1,0 -4.4,0M1293.2,385.05a2.2,2.2 0 1,0 4.4,0a2.2,2.2 0 1,0 -4.4,0M1298.7,386.94a2.2,2.2 0 1,0 4.4,0a2.2,2.2 0 1,0 -4.4,0M1304.9,384.16a2.2,2.2 0 1,0 4.4,0a2.2,2.2 0 1,0 -4.4,0M1310.4,385.67a2.2,2.2 0 1,0 4.4,0a2.2,2.2 0 1,0 -4.4,0M1316.7,388.9a2.2,2.2 0 1,0 4.4,0a2.2,2.2 0 1,0 -4.4,0M1322.2,386.6a2.2,2.2 0 1,0 4.4,0a2.2,2.2 0 1,0 -4.4,0M1328.4,386.71a2.2,2.2 0 1,0 4.4,0a2.2,2.2 0 1,0 -4.4,0M1333.9,386.2a2.2,2.2 0 1,0 4.4,0a2.2,2.2 0 1,0 -4.4,0M1339.4,385.59a2.2,2.2 0 1,0 4.4,0a2.2,2.2 0 1,0 -4.4,0M1345.7,384.99a2.2,2.2 0 1,0 4.4,0a2.2,2.2 0 1,0 -4.4,0M1351.1,384.63a2.2,2.2 0 1,0 4.4,0a2.2,2.2 0 1,0 -4.4,0M1357.4,388.67a2.2,2.2 0 1,0 4.4,0a2.2,2.2 0 1,0 -4.4,0" fill="#4992ff" clip-path="url(#lc)"/>
<polyline points="158.6,374.78 164.1,374.38 170.2,372.29 176.3,366.42 182.4,370.17 188.6,372.52 194,370.6 200.1,373.94 206.3,374.7 211.7,375.12 217.1,376.5 222.6,372.74 228.7,375.73 234.1,375.38 240.3,376.71 245.7,376.65 251.8,373.51 257.3,372.51 263.4,375.36 268.8,373.37 275,373.47 280.4,370.99 285.9,374.89 292,370.89 298.1,376.45 303.5,373.06 309.7,370.81 315.1,374.05 321.2,373.96 326.7,369.43 332.8,373.88 338.2,373.78 344.4,375.11 349.8,375.01 355.9,374.96 361.8,373.16 367.9,371.84 373.4,373.02 379.5,372.09 384.9,375.58 391.1,372.4 396.5,373.69 401.9,375.29 408.1,372.9 414.2,376.17 419.6,374.5 425.7,375.94 431.2,373.89 437.3,374.43 443.4,374.22 448.9,372.07 455,372.9 460.4,375.17 466.6,374.28 472,374.54 478.1,376.63 483.6,374.76 489.7,371.59 495.8,371.67 501.3,373.52 507.4,374.67 513.5,373.5 518.9,374.34 525.1,375.82 531.2,371.07 536.6,371.61 542.8,375.98 548.2,373.48 554.1,375.69 560.2,374.36 566.3,372.39 571.8,366.27 577.9,370.51 583.3,372.93 589.5,371.5 595.6,374.79 601,369.32 607.1,373.65 612.6,374.84 618.7,371.65 624.8,372.29 630.3,373.92 636.4,368.99 641.8,375.4 648,374.53 654.1,376.06 660.2,370.91 665.6,373.18 671.8,371.74 677.2,373.14 683.3,375.82 688.8,375.32 694.9,376.28 701,372.77 706.5,374.52 712.6,371.16 718,372.32 724.1,370.33 730.3,375.43 735.7,373.77 741.8,373.69 749.1,373.24 754.5,372.04 760.6,370.55 766.8,371.07 772.9,374.05 778.3,369.55 784.5,374.06 790.6,372.35 796.7,375.3 802.1,377.38 808.3,369.89 814.4,371.24 819.8,368.82 826,374.63 831.4,373.36 837.5,372.55 843,376.82 849.1,368.16 854.5,370.78 860.6,375.12 866.1,371.49 872.2,375.71 877.7,373.23 883.8,376.58 889.2,372.15 895.3,373.67 900.8,369.3 906.9,366.47 913,370.34 918.5,373.82 924.6,375.24 930,374.39 936.2,371.53 942,372.59 947.5,375.2 953.6,369.22 959,372.24 965.2,375.45 970.6,370.35 976.7,374.03 982.2,374.74 987.6,371.42 993.7,373.65 999.2,367.84 1005.3,369.27 1010.7,374.51 1016.9,374.27 1022.3,372.58 1028.4,374.86 1033.9,371.85 1040,375.85 1045.4,373.15 1051.6,375.74 1057,371.83 1063.1,370.18 1068.6,370.87 1074,365.02 1080.1,371.45 1085.6,372.52 1091.7,373.31 1097.1,374.74 1103.3,367.37 1108.7,370.31 1114.8,374.14 1120.3,374.76 1126.4,373.29 1131.8,372.45 1138.1,373.57 1144.4,370.07 1149.9,374.12 1156.1,375.14 1161.6,374.69 1167.9,372.97 1173.3,374.4 1179.6,374.47 1185.1,372.34 1190.6,371.18 1196.8,375.25 1202.3,370.57 1208.6,375.74 1214,375.05 1220.3,372.92 1225.8,373.64 1231.2,374.62 1236.7,372.48 1243,369.75 1248.5,372.86 1254.7,374.04 1260.2,373.67 1265.7,367.54 1271.9,373.69 1277.4,372.99 1283.7,374.04 1289.1,372.79 1295.4,373.46 1300.9,374.52 1307.1,372.3 1312.6,373.95 1318.9,376.69 1324.4,374.27 1330.6,373.65 1336.1,373.74 1341.6,372.91 1347.9,371.96 1353.3,371.94 1359.6,376.83" fill="none" stroke="#7cffb2" stroke-width="2" stroke-linejoin="bevel" clip-path="url(#lc)"/>
<path d="M161.9,374.38a2.2,2.2 0 1,0 4.4,0a2.2,2.2 0 1,0 -4.4,0M168,372.29a2.2,2.2 0 1,0 4.4,0a2.2,2.2 0 1,0 -4.4,0M174.1,366.42a2.2,2.2 0 1,0 4.4,0a2.2,2.2 0 1,0 -4.4,0M180.2,370.17a2.2,2.2 0 1,0 4.4,0a2.2,2.2 0 1,0 -4.4,0M186.4,372.52a2.2,2.2 0 1,0 4.4,0a2.2,2.2 0 1,0 -4.4,0M191.8,370.6a2.2,2.2 0 1,0 4.4,0a2.2,2.2 0 1,0 -4.4,0M197.9,373.94a2.2,2.2 0 1,0 4.4,0a2.2,2.2 0 1,0 -4.4,0M204.1,374.7a2.2,2.2 0 1,0 4.4,0a2.2,2.2 0 1,0 -4.4,0M209.5,375.12a2.2,2.2 0 1,0 4.4,0a2.2,2.2 0 1,0 -4.4,0M214.9,376.5a2.2,2.2 0 1,0 4.4,0a2.2,2.2 0 1,0 -4.4,0M220.4,372.74a2.2,2.2 0 1,0 4.4,0a2.2,2.2 0 1,0 -4.4,0M226.5,375.73a2.2,2.2 0 1,0 4.4,0a2.2,2.2 0 1,0 -4.4,0M231.9,375.38a2.2,2.2 0 1,0 4.4,0a2.2,2.2 0 1,0 -4.4,0M238.1,376.71a2.2,2.2 0 1,0 4.4,0a2.2,2.2 0 1,0 -4.4,0M243.5,376.65a2.2,2.2 0 1,0 4.4,0a2.2,2.2 0 1,0 -4.4,0M249.6,373.51a2.2,2.2 0 1,0 4.4,0a2.2,2.2 0 1,0 -4.4,0M255.1,372.51a2.2,2.2 0 1,0 4.4,0a2.2,2.2 0 1,0 -4.4,0M261.2,375.36a2.2,2.2 0 1,0 4.4,0a2.2,2.2 0 1,0 -4.4,0M266.6,373.37a2.2,2.2 0 1,0 4.4,0a2.2,2.2 0 1,0 -4.4,0M272.8,373.47a2.2,2.2 0 1,0 4.4,0a2.2,2.2 0 1,0 -4.4,0M278.2,370.99a2.2,2.2 0 1,0 4.4,0a2.2,2.2 0 1,0 -4.4,0M283.7,374.89a2.2,2.2 0 1,0 4.4,0a2.2,2.2 0 1,0 -4.4,0M289.8,370.89a2.2,2.2 0 1,0 4.4,0a2.2,2.2 0 1,0 -4.4,0M295.9,376.45a2.2,2.2 0 1,0 4.4,0a2.2,2.2 0 1,0 -4.4,0M301.3,373.06a2.2,2.2 0 1,0 4.4,0a2.2,2.2 0 1,0 -4.4,0M307.5,370.81a2.2,2.2 0 1,0 4.4,0a2.2,2.2 0 1,0 -4.4,0M312.9,374.05a2.2,2.2 0 1,0 4.4,0a2.2,2.2 0 1,0 -4.4,0M319,373.96a2.2,2.2 0 1,0 4.4,0a2.2,2.2 0 1,0 -4.4,0M324.5,369.43a2.2,2.2 0 1,0 4.4,0a2.2,2.2 0 1,0 -4.4,0M330.6,373.88a2.2,2.2 0 1,0 4.4,0a2.2,2.2 0 1,0 -4.4,0M336,373.78a2.2,2.2 0 1,0 4.4,0a2.2,2.2 0 1,0 -4.4,0M342.2,375.11a2.2,2.2 0 1,0 4.4,0a2.2,2.2 0 1,0 -4.4,0M347.6,375.01a2.2,2.2 0 1,0 4.4,0a2.2,2.2 0 1,0 -4.4,0M353.7,374.96a2.2,2.2 0 1,0 4.4,0a2.2,2.2 0 1,0 -4.4,0M359.6,373.16a2.2,2.2 0 1,0 4.4,0a2.2,2.2 0 1,0 -4.4,0M365.7,371.84a2.2,2.2 0 1,0 4.4,0a2.2,2.2 0 1,0 -4.4,0M371.2,373.02a2.2,2.2 0 1,0 4.4,0a2.2,2.2 0 1,0 -4.4,0M377.3,372.09a2.2,2.2 0 1,0 4.4,0a2.2,2.2 0 1,0 -4.4,0M382.7,375.58a2.2,2.2 0 1,0 4.4,0a2.2,2.2 0 1,0 -4.4,0M388.9,372.4a2.2,2.2 0 1,0 4.4,0a2.2,2.2 0 1,0 -4.4,0M394.3,373.69a2.2,2.2 0 1,0 4.4,0a2.2,2.2 0 1,0 -4.4,0M399.7,375.29a2.2,2.2 0 1,0 4.4,0a2.2,2.2 0 1,0 -4.4,0M405.9,372.9a2.2,2.2 0 1,0 4.4,0a2.2,2.2 0 1,0 -4.4,0M412,376.17a2.2,2.2 0 1,0 4.4,0a2.2,2.2 0 1,0 -4.4,0M417.4,374.5a2.2,2.2 0 1,0 4.4,0a2.2,2.2 0 1,0 -4.4,0M423.5,375.94a2.2,2.2 0 1,0 4.4,0a2.2,2.2 0 1,0 -4.4,0M429,373.89a2.2,2.2 0 1,0 4.4,0a2.2,2.2 0 1,0 -4.4,0M435.1,374.43a2.2,2.2 0 1,0 4.4,0a2.2,2.2 0 1,0 -4.4,0M441.2,374.22a2.2,2.2 0 1,0 4.4,0a2.2,2.2 0 1,0 -4.4,0M446.7,372.07a2.2,2.2 0 1,0 4.4,0a2.2,2.2 0 1,0 -4.4,0M452.8,372.9a2.2,2.2 0 1,0 4.4,0a2.2,2.2 0 1,0 -4.4,0M458.2,375.17a2.2,2.2 0 1,0 4.4,0a2.2,2.2 0 1,0 -4.4,0M464.4,374.28a2.2,2.2 0 1,0 4.4,0a2.2,2.2 0 1,0 -4.4,0M469.8,374.54a2.2,2.2 0 1,0 4.4,0a2.2,2.2 0 1,0 -4.4,0M475.9,376.63a2.2,2.2 0 1,0 4.4,0a2.2,2.2 0 1,0 -4.4,0M481.4,374.76a2.2,2.2 0 1,0 4.4,0a2.2,2.2 0 1,0 -4.4,0M487.5,371.59a2.2,2.2 0 1,0 4.4,0a2.2,2.2 0 1,0 -4.4,0M493.6,371.67a2.2,2.2 0 1,0 4.4,0a2.2,2.2 0 1,0 -4.4,0M499.1,373.52a2.2,2.2 0 1,0 4.4,0a2.2,2.2 0 1,0 -4.4,0M505.2,374.67a2.2,2.2 0 1,0 4.4,0a2.2,2.2 0 1,0 -4.4,0M511.3,373.5a2.2,2.2 0 1,0 4.4,0a2.2,2.2 0 1,0 -4.4,0M516.7,374.34a2.2,2.2 0 1,0 4.4,0a2.2,2.2 0 1,0 -4.4,0M522.9,375.82a2.2,2.2 0 1,0 4.4,0a2.2,2.2 0 1,0 -4.4,0M529,371.07a2.2,2.2 0 1,0 4.4,0a2.2,2.2 0 1,0 -4.4,0M534.4,371.61a2.2,2.2 0 1,0 4.4,0a2.2,2.2 0 1,0 -4.4,0M540.6,375.98a2.2,2.2 0 1,0 4.4,0a2.2,2.2 0 1,0 -4.4,0M546,373.48a2.2,2.2 0 1,0 4.4,0a2.2,2.2 0 1,0 -4.4,0M551.9,375.69a2.2,2.2 0 1,0 4.4,0a2.2,2.2 0 1,0 -4.4,0M558,374.36a2.2,2.2 0 1,0 4.4,0a2.2,2.2 0 1,0 -4.4,0M564.1,372.39a2.2,2.2 0 1,0 4.4,0a2.2,2.2 0 1,0 -4.4,0M569.6,366.27a2.2,2.2 0 1,0 4.4,0a2.2,2.2 0 1,0 -4.4,0M575.7,370.51a2.2,2.2 0 1,0 4.4,0a2.2,2.2 0 1,0 -4.4,0M581.1,372.93a2.2,2.2 0 1,0 4.4,0a2.2,2.2 0 1,0 -4.4,0M587.3,371.5a2.2,2.2 0 1,0 4.4,0a2.2,2.2 0 1,0 -4.4,0M593.4,374.79a2.2,2.2 0 1,0 4.4,0a2.2,2.2 0 1,0 -4.4,0M598.8,369.32a2.2,2.2 0 1,0 4.4,0a2.2,2.2 0 1,0 -4.4,0M604.9,373.65a2.2,2.2 0 1,0 4.4,0a2.2,2.2 0 1,0 -4.4,0M610.4,374.84a2.2,2.2 0 1,0 4.4,0a2.2,2.2 0 1,0 -4.4,0M616.5,371.65a2.2,2.2 0 1,0 4.4,0a2.2,2.2 0 1,0 -4.4,0M622.6,372.29a2.2,2.2 0 1,0 4.4,0a2.2,2.2 0 1,0 -4.4,0M628.1,373.92a2.2,2.2 0 1,0 4.4,0a2.2,2.2 0 1,0 -4.4,0M634.2,368.99a2.2,2.2 0 1,0 4.4,0a2.2,2.2 0 1,0 -4.4,0M639.6,375.4a2.2,2.2 0 1,0 4.4,0a2.2,2.2 0 1,0 -4.4,0M645.8,374.53a2.2,2.2 0 1,0 4.4,0a2.2,2.2 0 1,0 -4.4,0M651.9,376.06a2.2,2.2 0 1,0 4.4,0a2.2,2.2 0 1,0 -4.4,0M658,370.91a2.2,2.2 0 1,0 4.4,0a2.2,2.2 0 1,0 -4.4,0M663.4,373.18a2.2,2.2 0 1,0 4.4,0a2.2,2.2 0 1,0 -4.4,0M669.6,371.74a2.2,2.2 0 1,0 4.4,0a2.2,2.2 0 1,0 -4.4,0M675,373.14a2.2,2.2 0 1,0 4.4,0a2.2,2.2 0 1,0 -4.4,0M681.1,375.82a2.2,2.2 0 1,0 4.4,0a2.2,2.2 0 1,0 -4.4,0M686.6,375.32a2.2,2.2 0 1,0 4.4,0a2.2,2.2 0 1,0 -4.4,0M692.7,376.28a2.2,2.2 0 1,0 4.4,0a2.2,2.2 0 1,0 -4.4,0M698.8,372.77a2.2,2.2 0 1,0 4.4,0a2.2,2.2 0 1,0 -4.4,0M704.3,374.52a2.2,2.2 0 1,0 4.4,0a2.2,2.2 0 1,0 -4.4,0M710.4,371.16a2.2,2.2 0 1,0 4.4,0a2.2,2.2 0 1,0 -4.4,0M715.8,372.32a2.2,2.2 0 1,0 4.4,0a2.2,2.2 0 1,0 -4.4,0M721.9,370.33a2.2,2.2 0 1,0 4.4,0a2.2,2.2 0 1,0 -4.4,0M728.1,375.43a2.2,2.2 0 1,0 4.4,0a2.2,2.2 0 1,0 -4.4,0M733.5,373.77a2.2,2.2 0 1,0 4.4,0a2.2,2.2 0 1,0 -4.4,0M739.6,373.69a2.2,2.2 0 1,0 4.4,0a2.2,2.2 0 1,0 -4.4,0M746.9,373.24a2.2,2.2 0 1,0 4.4,0a2.2,2.2 0 1,0 -4.4,0M752.3,372.04a2.2,2.2 0 1,0 4.4,0a2.2,2.2 0 1,0 -4.4,0M758.4,370.55a2.2,2.2 0 1,0 4.4,0a2.2,2.2 0 1,0 -4.4,0M764.6,371.07a2.2,2.2 0 1,0 4.4,0a2.2,2.2 0 1,0 -4.4,0M770.7,374.05a2.2,2.2 0 1,0 4.4,0a2.2,2.2 0 1,0 -4.4,0M776.1,369.55a2.2,2.2 0 1,0 4.4,0a2.2,2.2 0 1,0 -4.4,0M782.3,374.06a2.2,2.2 0 1,0 4.4,0a2.2,2.2 0 1,0 -4.4,0M788.4,372.35a2.2,2.2 0 1,0 4.4,0a2.2,2.2 0 1,0 -4.4,0M794.5,375.3a2.2,2.2 0 1,0 4.4,0a2.2,2.2 0 1,0 -4.4,0M799.9,377.38a2.2,2.2 0 1,0 4.4,0a2.2,2.2 0 1,0 -4.4,0M806.1,369.89a2.2,2.2 0 1,0 4.4,0a2.2,2.2 0 1,0 -4.4,0M812.2,371.24a2.2,2.2 0 1,0 4.4,0a2.2,2.2 0 1,0 -4.4,0M817.6,368.82a2.2,2.2 0 1,0 4.4,0a2.2,2.2 0 1,0 -4.4,0M823.8,374.63a2.2,2.2 0 1,0 4.4,0a2.2,2.2 0 1,0 -4.4,0M829.2,373.36a2.2,2.2 0 1,0 4.4,0a2.2,2.2 0 1,0 -4.4,0M835.3,372.55a2.2,2.2 0 1,0 4.4,0a2.2,2.2 0 1,0 -4.4,0M840.8,376.82a2.2,2.2 0 1,0 4.4,0a2.2,2.2 0 1,0 -4.4,0M846.9,368.16a2.2,2.2 0 1,0 4.4,0a2.2,2.2 0 1,0 -4.4,0M852.3,370.78a2.2,2.2 0 1,0 4.4,0a2.2,2.2 0 1,0 -4.4,0M858.4,375.12a2.2,2.2 0 1,0 4.4,0a2.2,2.2 0 1,0 -4.4,0M863.9,371.49a2.2,2.2 0 1,0 4.4,0a2.2,2.2 0 1,0 -4.4,0M870,375.71a2.2,2.2 0 1,0 4.4,0a2.2,2.2 0 1,0 -4.4,0M875.5,373.23a2.2,2.2 0 1,0 4.4,0a2.2,2.2 0 1,0 -4.4,0M881.6,376.58a2.2,2.2 0 1,0 4.4,0a2.2,2.2 0 1,0 -4.4,0M887,372.15a2.2,2.2 0 1,0 4.4,0a2.2,2.2 0 1,0 -4.4,0M893.1,373.67a2.2,2.2 0 1,0 4.4,0a2.2,2.2 0 1,0 -4.4,0M898.6,369.3a2.2,2.2 0 1,0 4.4,0a2.2,2.2 0 1,0 -4.4,0M904.7,366.47a2.2,2.2 0 1,0 4.4,0a2.2,2.2 0 1,0 -4.4,0M910.8,370.34a2.2,2.2 0 1,0 4.4,0a2.2,2.2 0 1,0 -4.4,0M916.3,373.82a2.2,2.2 0 1,0 4.4,0a2.2,2.2 0 1,0 -4.4,0M922.4,375.24a2.2,2.2 0 1,0 4.4,0a2.2,2.2 0 1,0 -4.4,0M927.8,374.39a2.2,2.2 0 1,0 4.4,0a2.2,2.2 0 1,0 -4.4,0M934,371.53a2.2,2.2 0 1,0 4.4,0a2.2,2.2 0 1,0 -4.4,0M939.8,372.59a2.2,2.2 0 1,0 4.4,0a2.2,2.2 0 1,0 -4.4,0M945.3,375.2a2.2,2.2 0 1,0 4.4,0a2.2,2.2 0 1,0 -4.4,0M951.4,369.22a2.2,2.2 0 1,0 4.4,0a2.2,2.2 0 1,0 -4.4,0M956.8,372.24a2.2,2.2 0 1,0 4.4,0a2.2,2.2 0 1,0 -4.4,0M963,375.45a2.2,2.2 0 1,0 4.4,0a2.2,2.2 0 1,0 -4.4,0M968.4,370.35a2.2,2.2 0 1,0 4.4,0a2.2,2.2 0 1,0 -4.4,0M974.5,374.03a2.2,2.2 0 1,0 4.4,0a2.2,2.2 0 1,0 -4.4,0M980,374.74a2.2,2.2 0 1,0 4.4,0a2.2,2.2 0 1,0 -4.4,0M985.4,371.42a2.2,2.2 0 1,0 4.4,0a2.2,2.2 0 1,0 -4.4,0M991.5,373.65a2.2,2.2 0 1,0 4.4,0a2.2,2.2 0 1,0 -4.4,0M997,367.84a2.2,2.2 0 1,0 4.4,0a2.2,2.2 0 1,0 -4.4,0M1003.1,369.27a2.2,2.2 0 1,0 4.4,0a2.2,2.2 0 1,0 -4.4,0M1008.5,374.51a2.2,2.2 0 1,0 4.4,0a2.2,2.2 0 1,0 -4.4,0M1014.7,374.27a2.2,2.2 0 1,0 4.4,0a2.2,2.2 0 1,0 -4.4,0M1020.1,372.58a2.2,2.2 0 1,0 4.4,0a2.2,2.2 0 1,0 -4.4,0M1026.2,374.86a2.2,2.2 0 1,0 4.4,0a2.2,2.2 0 1,0 -4.4,0M1031.7,371.85a2.2,2.2 0 1,0 4.4,0a2.2,2.2 0 1,0 -4.4,0M1037.8,375.85a2.2,2.2 0 1,0 4.4,0a2.2,2.2 0 1,0 -4.4,0M1043.2,373.15a2.2,2.2 0 1,0 4.4,0a2.2,2.2 0 1,0 -4.4,0M1049.4,375.74a2.2,2.2 0 1,0 4.4,0a2.2,2.2 0 1,0 -4.4,0M1054.8,371.83a2.2,2.2 0 1,0 4.4,0a2.2,2.2 0 1,0 -4.4,0M1060.9,370.18a2.2,2.2 0 1,0 4.4,0a2.2,2.2 0 1,0 -4.4,0M1066.4,370.87a2.2,2.2 0 1,0 4.4,0a2.2,2.2 0 1,0 -4.4,0M1071.8,365.02a2.2,2.2 0 1,0 4.4,0a2.2,2.2 0 1,0 -4.4,0M1077.9,371.45a2.2,2.2 0 1,0 4.4,0a2.2,2.2 0 1,0 -4.4,0M1083.4,372.52a2.2,2.2 0 1,0 4.4,0a2.2,2.2 0 1,0 -4.4,0M1089.5,373.31a2.2,2.2 0 1,0 4.4,0a2.2,2.2 0 1,0 -4.4,0M1094.9,374.74a2.2,2.2 0 1,0 4.4,0a2.2,2.2 0 1,0 -4.4,0M1101.1,367.37a2.2,2.2 0 1,0 4.4,0a2.2,2.2 0 1,0 -4.4,0M1106.5,370.31a2.2,2.2 0 1,0 4.4,0a2.2,2.2 0 1,0 -4.4,0M1112.6,374.14a2.2,2.2 0 1,0 4.4,0a2.2,2.2 0 1,0 -4.4,0M1118.1,374.76a2.2,2.2 0 1,0 4.4,0a2.2,2.2 0 1,0 -4.4,0M1124.2,373.29a2.2,2.2 0 1,0 4.4,0a2.2,2.2 0 1,0 -4.4,0M1129.6,372.45a2.2,2.2 0 1,0 4.4,0a2.2,2.2 0 1,0 -4.4,0M1135.9,373.57a2.2,2.2 0 1,0 4.4,0a2.2,2.2 0 1,0 -4.4,0M1142.2,370.07a2.2,2.2 0 1,0 4.4,0a2.2,2.2 0 1,0 -4.4,0M1147.7,374.12a2.2,2.2 0 1,0 4.4,0a2.2,2.2 0 1,0 -4.4,0M1153.9,375.14a2.2,2.2 0 1,0 4.4,0a2.2,2.2 0 1,0 -4.4,0M1159.4,374.69a2.2,2.2 0 1,0 4.4,0a2.2,2.2 0 1,0 -4.4,0M1165.7,372.97a2.2,2.2 0 1,0 4.4,0a2.2,2.2 0 1,0 -4.4,0M1171.1,374.4a2.2,2.2 0 1,0 4.4,0a2.2,2.2 0 1,0 -4.4,0M1177.4,374.47a2.2,2.2 0 1,0 4.4,0a2.2,2.2 0 1,0 -4.4,0M1182.9,372.34a2.2,2.2 0 1,0 4.4,0a2.2,2.2 0 1,0 -4.4,0M1188.4,371.18a2.2,2.2 0 1,0 4.4,0a2.2,2.2 0 1,0 -4.4,0M1194.6,375.25a2.2,2.2 0 1,0 4.4,0a2.2,2.2 0 1,0 -4.4,0M1200.1,370.57a2.2,2.2 0 1,0 4.4,0a2.2,2.2 0 1,0 -4.4,0M1206.4,375.74a2.2,2.2 0 1,0 4.4,0a2.2,2.2 0 1,0 -4.4,0M1211.8,375.05a2.2,2.2 0 1,0 4.4,0a2.2,2.2 0 1,0 -4.4,0M1218.1,372.92a2.2,2.2 0 1,0 4.4,0a2.2,2.2 0 1,0 -4.4,0M1223.6,373.64a2.2,2.2 0 1,0 4.4,0a2.2,2.2 0 1,0 -4.4,0M1229,374.62a2.2,2.2 0 1,0 4.4,0a2.2,2.2 0 1,0 -4.4,0M1234.5,372.48a2.2,2.2 0 1,0 4.4,0a2.2,2.2 0 1,0 -4.4,0M1240.8,369.75a2.2,2.2 0 1,0 4.4,0a2.2,2.2 0 1,0 -4.4,0M1246.3,372.86a2.2,2.2 0 1,0 4.4,0a2.2,2.2 0 1,0 -4.4,0M1252.5,374.04a2.2,2.2 0 1,0 4.4,0a2.2,2.2 0 1,0 -4.4,0M1258,373.67a2.2,2.2 0 1,0 4.4,0a2.2,2.2 0 1,0 -4.4,0M1263.5,367.54a2.2,2.2 0 1,0 4.4,0a2.2,2.2 0 1,0 -4.4,0M1269.7,373.69a2.2,2.2 0 1,0 4.4,0a2.2,2.2 0 1,0 -4.4,0M1275.2,372.99a2.2,2.2 0 1,0 4.4,0a2.2,2.2 0 1,0 -4.4,0M1281.5,374.04a2.2,2.2 0 1,0 4.4,0a2.2,2.2 0 1,0 -4.4,0M1286.9,372.79a2.2,2.2 0 1,0 4.4,0a2.2,2.2 0 1,0 -4.4,0M1293.2,373.46a2.2,2.2 0 1,0 4.4,0a2.2,2.2 0 1,0 -4.4,0M1298.7,374.52a2.2,2.2 0 1,0 4.4,0a2.2,2.2 0 1,0 -4.4,0M1304.9,372.3a2.2,2.2 0 1,0 4.4,0a2.2,2.2 0 1,0 -4.4,0M1310.4,373.95a2.2,2.2 0 1,0 4.4,0a2.2,2.2 0 1,0 -4.4,0M1316.7,376.69a2.2,2.2 0 1,0 4.4,0a2.2,2.2 0 1,0 -4.4,0M1322.2,374.27a2.2,2.2 0 1,0 4.4,0a2.2,2.2 0 1,0 -4.4,0M1328.4,373.65a2.2,2.2 0 1,0 4.4,0a2.2,2.2 0 1,0 -4.4,0M1333.9,373.74a2.2,2.2 0 1,0 4.4,0a2.2,2.2 0 1,0 -4.4,0M1339.4,372.91a2.2,2.2 0 1,0 4.4,0a2.2,2.2 0 1,0 -4.4,0M1345.7,371.96a2.2,2.2 0 1,0 4.4,0a2.2,2.2 0 1,0 -4.4,0M1351.1,371.94a2.2,2.2 0 1,0 4.4,0a2.2,2.2 0 1,0 -4.4,0M1357.4,376.83a2.2,2.2 0 1,0 4.4,0a2.2,2.2 0 1,0 -4.4,0" fill="#7cffb2" clip-path="url(#lc)"/>
<polyline points="158.6,360 164.1,360 170.2,357.9 176.3,352.5 182.4,356.6 188.6,358.6 194,356.6 200.1,360.6 206.3,361 211.7,361 217.1,362 222.6,358.6 228.7,362 234.1,362 240.3,362 245.7,362.7 251.8,359.3 257.3,358.6 263.4,362 268.8,358.6 275,359.3 280.4,356.6 285.9,361.3 292,357 298.1,362 303.5,359.3 309.7,357.2 315.1,360.6 321.2,360.6 326.7,355.2 332.8,360 338.2,360.6 344.4,360.6 349.8,360.6 355.9,360.6 361.8,360 367.9,357.9 373.4,358.6 379.5,358.6 384.9,362 391.1,358.6 396.5,360.6 401.9,361.3 408.1,358.6 414.2,362 419.6,360 425.7,362 431.2,360 437.3,360.6 443.4,360.6 448.9,358.6 455,359.3 460.4,361.3 466.6,360.6 472,360.6 478.1,362.7 483.6,360.6 489.7,357.9 495.8,358.6 501.3,360 507.4,360 513.5,359.3 518.9,360.6 525.1,362 531.2,357.2 536.6,357.9 542.8,362 548.2,359.3 554.1,361.3 560.2,360.6 566.3,358.6 571.8,352.5 577.9,356.6 583.3,358.6 589.5,357.9 595.6,360 601,355.2 607.1,359.3 612.6,361.3 618.7,357.9 624.8,358.6 630.3,360 636.4,355.9 641.8,361.3 648,361.3 654.1,362 660.2,356.6 665.6,359.3 671.8,357.9 677.2,359.3 683.3,362 688.8,361.3 694.9,362 701,358.6 706.5,360 712.6,357.2 718,358.6 724.1,356.6 730.3,362 735.7,360 741.8,360 749.1,358.6 754.5,357.9 760.6,355.9 766.8,357.9 772.9,360 778.3,355.2 784.5,360 790.6,358.6 796.7,361.3 802.1,363.4 808.3,355.9 814.4,357.2 819.8,354.5 826,360.6 831.4,359.3 837.5,358.6 843,362.7 849.1,354.5 854.5,356.6 860.6,361.3 866.1,357.2 872.2,362 877.7,359.3 883.8,362.7 889.2,358.6 895.3,359.3 900.8,355.2 906.9,352.5 913,355.9 918.5,360 924.6,361.3 930,360 936.2,356.6 942,358.6 947.5,360.6 953.6,355.2 959,358.6 965.2,361.3 970.6,355.9 976.7,360 982.2,360.6 987.6,357.9 993.7,360.6 999.2,353.8 1005.3,355.9 1010.7,360.6 1016.9,360.6 1022.3,358.6 1028.4,360.6 1033.9,358.6 1040,362 1045.4,359.3 1051.6,361.3 1057,357.9 1063.1,356.6 1068.6,357.2 1074,350.4 1080.1,357.9 1085.6,358.6 1091.7,359.3 1097.1,361.3 1103.3,353.8 1108.7,357.2 1114.8,360.6 1120.3,360.6 1126.4,359.3 1131.8,359.3 1138.1,359.1 1144.4,356.7 1149.9,360.6 1156.1,360.6 1161.6,360.6 1167.9,359.1 1173.3,359.9 1179.6,360.6 1185.1,358.3 1190.6,357.5 1196.8,361.4 1202.3,356.7 1208.6,361.4 1214,361.4 1220.3,359.1 1225.8,360.6 1231.2,361.4 1236.7,358.3 1243,356 1248.5,359.1 1254.7,359.9 1260.2,359.9 1265.7,353.6 1271.9,359.9 1277.4,359.9 1283.7,359.9 1289.1,358.3 1295.4,359.1 1300.9,360.6 1307.1,358.3 1312.6,359.9 1318.9,362.2 1324.4,359.9 1330.6,359.9 1336.1,359.9 1341.6,359.1 1347.9,358.3 1353.3,358.3 1359.6,363" fill="none" stroke="#fddd60" stroke-width="2" stroke-linejoin="bevel" clip-path="url(#lc)"/>
<path d="M161.9,360a2.2,2.2 0 1,0 4.4,0a2.2,2.2 0 1,0 -4.4,0M168,357.9a2.2,2.2 0 1,0 4.4,0a2.2,2.2 0 1,0 -4.4,0M174.1,352.5a2.2,2.2 0 1,0 4.4,0a2.2,2.2 0 1,0 -4.4,0M180.2,356.6a2.2,2.2 0 1,0 4.4,0a2.2,2.2 0 1,0 -4.4,0M186.4,358.6a2.2,2.2 0 1,0 4.4,0a2.2,2.2 0 1,0 -4.4,0M191.8,356.6a2.2,2.2 0 1,0 4.4,0a2.2,2.2 0 1,0 -4.4,0M197.9,360.6a2.2,2.2 0 1,0 4.4,0a2.2,2.2 0 1,0 -4.4,0M204.1,361a2.2,2.2 0 1,0 4.4,0a2.2,2.2 0 1,0 -4.4,0M209.5,361a2.2,2.2 0 1,0 4.4,0a2.2,2.2 0 1,0 -4.4,0M214.9,362a2.2,2.2 0 1,0 4.4,0a2.2,2.2 0 1,0 -4.4,0M220.4,358.6a2.2,2.2 0 1,0 4.4,0a2.2,2.2 0 1,0 -4.4,0M226.5,362a2.2,2.2 0 1,0 4.4,0a2.2,2.2 0 1,0 -4.4,0M231.9,362a2.2,2.2 0 1,0 4.4,0a2.2,2.2 0 1,0 -4.4,0M238.1,362a2.2,2.2 0 1,0 4.4,0a2.2,2.2 0 1,0 -4.4,0M243.5,362.7a2.2,2.2 0 1,0 4.4,0a2.2,2.2 0 1,0 -4.4,0M249.6,359.3a2.2,2.2 0 1,0 4.4,0a2.2,2.2 0 1,0 -4.4,0M255.1,358.6a2.2,2.2 0 1,0 4.4,0a2.2,2.2 0 1,0 -4.4,0M261.2,362a2.2,2.2 0 1,0 4.4,0a2.2,2.2 0 1,0 -4.4,0M266.6,358.6a2.2,2.2 0 1,0 4.4,0a2.2,2.2 0 1,0 -4.4,0M272.8,359.3a2.2,2.2 0 1,0 4.4,0a2.2,2.2 0 1,0 -4.4,0M278.2,356.6a2.2,2.2 0 1,0 4.4,0a2.2,2.2 0 1,0 -4.4,0M283.7,361.3a2.2,2.2 0 1,0 4.4,0a2.2,2.2 0 1,0 -4.4,0M289.8,357a2.2,2.2 0 1,0 4.4,0a2.2,2.2 0 1,0 -4.4,0M295.9,362a2.2,2.2 0 1,0 4.4,0a2.2,2.2 0 1,0 -4.4,0M301.3,359.3a2.2,2.2 0 1,0 4.4,0a2.2,2.2 0 1,0 -4.4,0M307.5,357.2a2.2,2.2 0 1,0 4.4,0a2.2,2.2 0 1,0 -4.4,0M312.9,360.6a2.2,2.2 0 1,0 4.4,0a2.2,2.2 0 1,0 -4.4,0M319,360.6a2.2,2.2 0 1,0 4.4,0a2.2,2.2 0 1,0 -4.4,0M324.5,355.2a2.2,2.2 0 1,0 4.4,0a2.2,2.2 0 1,0 -4.4,0M330.6,360a2.2,2.2 0 1,0 4.4,0a2.2,2.2 0 1,0 -4.4,0M336,360.6a2.2,2.2 0 1,0 4.4,0a2.2,2.2 0 1,0 -4.4,0M342.2,360.6a2.2,2.2 0 1,0 4.4,0a2.2,2.2 0 1,0 -4.4,0M347.6,360.6a2.2,2.2 0 1,0 4.4,0a2.2,2.2 0 1,0 -4.4,0M353.7,360.6a2.2,2.2 0 1,0 4.4,0a2.2,2.2 0 1,0 -4.4,0M359.6,360a2.2,2.2 0 1,0 4.4,0a2.2,2.2 0 1,0 -4.4,0M365.7,357.9a2.2,2.2 0 1,0 4.4,0a2.2,2.2 0 1,0 -4.4,0M371.2,358.6a2.2,2.2 0 1,0 4.4,0a2.2,2.2 0 1,0 -4.4,0M377.3,358.6a2.2,2.2 0 1,0 4.4,0a2.2,2.2 0 1,0 -4.4,0M382.7,362a2.2,2.2 0 1,0 4.4,0a2.2,2.2 0 1,0 -4.4,0M388.9,358.6a2.2,2.2 0 1,0 4.4,0a2.2,2.2 0 1,0 -4.4,0M394.3,360.6a2.2,2.2 0 1,0 4.4,0a2.2,2.2 0 1,0 -4.4,0M399.7,361.3a2.2,2.2 0 1,0 4.4,0a2.2,2.2 0 1,0 -4.4,0M405.9,358.6a2.2,2.2 0 1,0 4.4,0a2.2,2.2 0 1,0 -4.4,0M412,362a2.2,2.2 0 1,0 4.4,0a2.2,2.2 0 1,0 -4.4,0M417.4,360a2.2,2.2 0 1,0 4.4,0a2.2,2.2 0 1,0 -4.4,0M423.5,362a2.2,2.2 0 1,0 4.4,0a2.2,2.2 0 1,0 -4.4,0M429,360a2.2,2.2 0 1,0 4.4,0a2.2,2.2 0 1,0 -4.4,0M435.1,360.6a2.2,2.2 0 1,0 4.4,0a2.2,2.2 0 1,0 -4.4,0M441.2,360.6a2.2,2.2 0 1,0 4.4,0a2.2,2.2 0 1,0 -4.4,0M446.7,358.6a2.2,2.2 0 1,0 4.4,0a2.2,2.2 0 1,0 -4.4,0M452.8,359.3a2.2,2.2 0 1,0 4.4,0a2.2,2.2 0 1,0 -4.4,0M458.2,361.3a2.2,2.2 0 1,0 4.4,0a2.2,2.2 0 1,0 -4.4,0M464.4,360.6a2.2,2.2 0 1,0 4.4,0a2.2,2.2 0 1,0 -4.4,0M469.8,360.6a2.2,2.2 0 1,0 4.4,0a2.2,2.2 0 1,0 -4.4,0M475.9,362.7a2.2,2.2 0 1,0 4.4,0a2.2,2.2 0 1,0 -4.4,0M481.4,360.6a2.2,2.2 0 1,0 4.4,0a2.2,2.2 0 1,0 -4.4,0M487.5,357.9a2.2,2.2 0 1,0 4.4,0a2.2,2.2 0 1,0 -4.4,0M493.6,358.6a2.2,2.2 0 1,0 4.4,0a2.2,2.2 0 1,0 -4.4,0M499.1,360a2.2,2.2 0 1,0 4.4,0a2.2,2.2 0 1,0 -4.4,0M505.2,360a2.2,2.2 0 1,0 4.4,0a2.2,2.2 0 1,0 -4.4,0M511.3,359.3a2.2,2.2 0 1,0 4.4,0a2.2,2.2 0 1,0 -4.4,0M516.7,360.6a2.2,2.2 0 1,0 4.4,0a2.2,2.2 0 1,0 -4.4,0M522.9,362a2.2,2.2 0 1,0 4.4,0a2.2,2.2 0 1,0 -4.4,0M529,357.2a2.2,2.2 0 1,0 4.4,0a2.2,2.2 0 1,0 -4.4,0M534.4,357.9a2.2,2.2 0 1,0 4.4,0a2.2,2.2 0 1,0 -4.4,0M540.6,362a2.2,2.2 0 1,0 4.4,0a2.2,2.2 0 1,0 -4.4,0M546,359.3a2.2,2.2 0 1,0 4.4,0a2.2,2.2 0 1,0 -4.4,0M551.9,361.3a2.2,2.2 0 1,0 4.4,0a2.2,2.2 0 1,0 -4.4,0M558,360.6a2.2,2.2 0 1,0 4.4,0a2.2,2.2 0 1,0 -4.4,0M564.1,358.6a2.2,2.2 0 1,0 4.4,0a2.2,2.2 0 1,0 -4.4,0M569.6,352.5a2.2,2.2 0 1,0 4.4,0a2.2,2.2 0 1,0 -4.4,0M575.7,356.6a2.2,2.2 0 1,0 4.4,0a2.2,2.2 0 1,0 -4.4,0M581.1,358.6a2.2,2.2 0 1,0 4.4,0a2.2,2.2 0 1,0 -4.4,0M587.3,357.9a2.2,2.2 0 1,0 4.4,0a2.2,2.2 0 1,0 -4.4,0M593.4,360a2.2,2.2 0 1,0 4.4,0a2.2,2.2 0 1,0 -4.4,0M598.8,355.2a2.2,2.2 0 1,0 4.4,0a2.2,2.2 0 1,0 -4.4,0M604.9,359.3a2.2,2.2 0 1,0 4.4,0a2.2,2.2 0 1,0 -4.4,0M610.4,361.3a2.2,2.2 0 1,0 4.4,0a2.2,2.2 0 1,0 -4.4,0M616.5,357.9a2.2,2.2 0 1,0 4.4,0a2.2,2.2 0 1,0 -4.4,0M622.6,358.6a2.2,2.2 0 1,0 4.4,0a2.2,2.2 0 1,0 -4.4,0M628.1,360a2.2,2.2 0 1,0 4.4,0a2.2,2.2 0 1,0 -4.4,0M634.2,355.9a2.2,2.2 0 1,0 4.4,0a2.2,2.2 0 1,0 -4.4,0M639.6,361.3a2.2,2.2 0 1,0 4.4,0a2.2,2.2 0 1,0 -4.4,0M645.8,361.3a2.2,2.2 0 1,0 4.4,0a2.2,2.2 0 1,0 -4.4,0M651.9,362a2.2,2.2 0 1,0 4.4,0a2.2,2.2 0 1,0 -4.4,0M658,356.6a2.2,2.2 0 1,0 4.4,0a2.2,2.2 0 1,0 -4.4,0M663.4,359.3a2.2,2.2 0 1,0 4.4,0a2.2,2.2 0 1,0 -4.4,0M669.6,357.9a2.2,2.2 0 1,0 4.4,0a2.2,2.2 0 1,0 -4.4,0M675,359.3a2.2,2.2 0 1,0 4.4,0a2.2,2.2 0 1,0 -4.4,0M681.1,362a2.2,2.2 0 1,0 4.4,0a2.2,2.2 0 1,0 -4.4,0M686.6,361.3a2.2,2.2 0 1,0 4.4,0a2.2,2.2 0 1,0 -4.4,0M692.7,362a2.2,2.2 0 1,0 4.4,0a2.2,2.2 0 1,0 -4.4,0M698.8,358.6a2.2,2.2 0 1,0 4.4,0a2.2,2.2 0 1,0 -4.4,0M704.3,360a2.2,2.2 0 1,0 4.4,0a2.2,2.2 0 1,0 -4.4,0M710.4,357.2a2.2,2.2 0 1,0 4.4,0a2.2,2.2 0 1,0 -4.4,0M715.8,358.6a2.2,2.2 0 1,0 4.4,0a2.2,2.2 0 1,0 -4.4,0M721.9,356.6a2.2,2.2 0 1,0 4.4,0a2.2,2.2 0 1,0 -4.4,0M728.1,362a2.2,2.2 0 1,0 4.4,0a2.2,2.2 0 1,0 -4.4,0M733.5,360a2.2,2.2 0 1,0 4.4,0a2.2,2.2 0 1,0 -4.4,0M739.6,360a2.2,2.2 0 1,0 4.4,0a2.2,2.2 0 1,0 -4.4,0M746.9,358.6a2.2,2.2 0 1,0 4.4,0a2.2,2.2 0 1,0 -4.4,0M752.3,357.9a2.2,2.2 0 1,0 4.4,0a2.2,2.2 0 1,0 -4.4,0M758.4,355.9a2.2,2.2 0 1,0 4.4,0a2.2,2.2 0 1,0 -4.4,0M764.6,357.9a2.2,2.2 0 1,0 4.4,0a2.2,2.2 0 1,0 -4.4,0M770.7,360a2.2,2.2 0 1,0 4.4,0a2.2,2.2 0 1,0 -4.4,0M776.1,355.2a2.2,2.2 0 1,0 4.4,0a2.2,2.2 0 1,0 -4.4,0M782.3,360a2.2,2.2 0 1,0 4.4,0a2.2,2.2 0 1,0 -4.4,0M788.4,358.6a2.2,2.2 0 1,0 4.4,0a2.2,2.2 0 1,0 -4.4,0M794.5,361.3a2.2,2.2 0 1,0 4.4,0a2.2,2.2 0 1,0 -4.4,0M799.9,363.4a2.2,2.2 0 1,0 4.4,0a2.2,2.2 0 1,0 -4.4,0M806.1,355.9a2.2,2.2 0 1,0 4.4,0a2.2,2.2 0 1,0 -4.4,0M812.2,357.2a2.2,2.2 0 1,0 4.4,0a2.2,2.2 0 1,0 -4.4,0M817.6,354.5a2.2,2.2 0 1,0 4.4,0a2.2,2.2 0 1,0 -4.4,0M823.8,360.6a2.2,2.2 0 1,0 4.4,0a2.2,2.2 0 1,0 -4.4,0M829.2,359.3a2.2,2.2 0 1,0 4.4,0a2.2,2.2 0 1,0 -4.4,0M835.3,358.6a2.2,2.2 0 1,0 4.4,0a2.2,2.2 0 1,0 -4.4,0M840.8,362.7a2.2,2.2 0 1,0 4.4,0a2.2,2.2 0 1,0 -4.4,0M846.9,354.5a2.2,2.2 0 1,0 4.4,0a2.2,2.2 0 1,0 -4.4,0M852.3,356.6a2.2,2.2 0 1,0 4.4,0a2.2,2.2 0 1,0 -4.4,0M858.4,361.3a2.2,2.2 0 1,0 4.4,0a2.2,2.2 0 1,0 -4.4,0M863.9,357.2a2.2,2.2 0 1,0 4.4,0a2.2,2.2 0 1,0 -4.4,0M870,362a2.2,2.2 0 1,0 4.4,0a2.2,2.2 0 1,0 -4.4,0M875.5,359.3a2.2,2.2 0 1,0 4.4,0a2.2,2.2 0 1,0 -4.4,0M881.6,362.7a2.2,2.2 0 1,0 4.4,0a2.2,2.2 0 1,0 -4.4,0M887,358.6a2.2,2.2 0 1,0 4.4,0a2.2,2.2 0 1,0 -4.4,0M893.1,359.3a2.2,2.2 0 1,0 4.4,0a2.2,2.2 0 1,0 -4.4,0M898.6,355.2a2.2,2.2 0 1,0 4.4,0a2.2,2.2 0 1,0 -4.4,0M904.7,352.5a2.2,2.2 0 1,0 4.4,0a2.2,2.2 0 1,0 -4.4,0M910.8,355.9a2.2,2.2 0 1,0 4.4,0a2.2,2.2 0 1,0 -4.4,0M916.3,360a2.2,2.2 0 1,0 4.4,0a2.2,2.2 0 1,0 -4.4,0M922.4,361.3a2.2,2.2 0 1,0 4.4,0a2.2,2.2 0 1,0 -4.4,0M927.8,360a2.2,2.2 0 1,0 4.4,0a2.2,2.2 0 1,0 -4.4,0M934,356.6a2.2,2.2 0 1,0 4.4,0a2.2,2.2 0 1,0 -4.4,0M939.8,358.6a2.2,2.2 0 1,0 4.4,0a2.2,2.2 0 1,0 -4.4,0M945.3,360.6a2.2,2.2 0 1,0 4.4,0a2.2,2.2 0 1,0 -4.4,0M951.4,355.2a2.2,2.2 0 1,0 4.4,0a2.2,2.2 0 1,0 -4.4,0M956.8,358.6a2.2,2.2 0 1,0 4.4,0a2.2,2.2 0 1,0 -4.4,0M963,361.3a2.2,2.2 0 1,0 4.4,0a2.2,2.2 0 1,0 -4.4,0M968.4,355.9a2.2,2.2 0 1,0 4.4,0a2.2,2.2 0 1,0 -4.4,0M974.5,360a2.2,2.2 0 1,0 4.4,0a2.2,2.2 0 1,0 -4.4,0M980,360.6a2.2,2.2 0 1,0 4.4,0a2.2,2.2 0 1,0 -4.4,0M985.4,357.9a2.2,2.2 0 1,0 4.4,0a2.2,2.2 0 1,0 -4.4,0M991.5,360.6a2.2,2.2 0 1,0 4.4,0a2.2,2.2 0 1,0 -4.4,0M997,353.8a2.2,2.2 0 1,0 4.4,0a2.2,2.2 0 1,0 -4.4,0M1003.1,355.9a2.2,2.2 0 1,0 4.4,0a2.2,2.2 0 1,0 -4.4,0M1008.5,360.6a2.2,2.2 0 1,0 4.4,0a2.2,2.2 0 1,0 -4.4,0M1014.7,360.6a2.2,2.2 0 1,0 4.4,0a2.2,2.2 0 1,0 -4.4,0M1020.1,358.6a2.2,2.2 0 1,0 4.4,0a2.2,2.2 0 1,0 -4.4,0M1026.2,360.6a2.2,2.2 0 1,0 4.4,0a2.2,2.2 0 1,0 -4.4,0M1031.7,358.6a2.2,2.2 0 1,0 4.4,0a2.2,2.2 0 1,0 -4.4,0M1037.8,362a2.2,2.2 0 1,0 4.4,0a2.2,2.2 0 1,0 -4.4,0M1043.2,359.3a2.2,2.2 0 1,0 4.4,0a2.2,2.2 0 1,0 -4.4,0M1049.4,361.3a2.2,2.2 0 1,0 4.4,0a2.2,2.2 0 1,0 -4.4,0M1054.8,357.9a2.2,2.2 0 1,0 4.4,0a2.2,2.2 0 1,0 -4.4,0M1060.9,356.6a2.2,2.2 0 1,0 4.4,0a2.2,2.2 0 1,0 -4.4,0M1066.4,357.2a2.2,2.2 0 1,0 4.4,0a2.2,2.2 0 1,0 -4.4,0M1071.8,350.4a2.2,2.2 0 1,0 4.4,0a2.2,2.2 0 1,0 -4.4,0M1077.9,357.9a2.2,2.2 0 1,0 4.4,0a2.2,2.2 0 1,0 -4.4,0M1083.4,358.6a2.2,2.2 0 1,0 4.4,0a2.2,2.2 0 1,0 -4.4,0M1089.5,359.3a2.2,2.2 0 1,0 4.4,0a2.2,2.2 0 1,0 -4.4,0M1094.9,361.3a2.2,2.2 0 1,0 4.4,0a2.2,2.2 0 1,0 -4.4,0M1101.1,353.8a2.2,2.2 0 1,0 4.4,0a2.2,2.2 0 1,0 -4.4,0M1106.5,357.2a2.2,2.2 0 1,0 4.4,0a2.2,2.2 0 1,0 -4.4,0M1112.6,360.6a2.2,2.2 0 1,0 4.4,0a2.2,2.2 0 1,0 -4.4,0M1118.1,360.6a2.2,2.2 0 1,0 4.4,0a2.2,2.2 0 1,0 -4.4,0M1124.2,359.3a2.2,2.2 0 1,0 4.4,0a2.2,2.2 0 1,0 -4.4,0M1129.6,359.3a2.2,2.2 0 1,0 4.4,0a2.2,2.2 0 1,0 -4.4,0M1135.9,359.1a2.2,2.2 0 1,0 4.4,0a2.2,2.2 0 1,0 -4.4,0M1142.2,356.7a2.2,2.2 0 1,0 4.4,0a2.2,2.2 0 1,0 -4.4,0M1147.7,360.6a2.2,2.2 0 1,0 4.4,0a2.2,2.2 0 1,0 -4.4,0M1153.9,360.6a2.2,2.2 0 1,0 4.4,0a2.2,2.2 0 1,0 -4.4,0M1159.4,360.6a2.2,2.2 0 1,0 4.4,0a2.2,2.2 0 1,0 -4.4,0M1165.7,359.1a2.2,2.2 0 1,0 4.4,0a2.2,2.2 0 1,0 -4.4,0M1171.1,359.9a2.2,2.2 0 1,0 4.4,0a2.2,2.2 0 1,0 -4.4,0M1177.4,360.6a2.2,2.2 0 1,0 4.4,0a2.2,2.2 0 1,0 -4.4,0M1182.9,358.3a2.2,2.2 0 1,0 4.4,0a2.2,2.2 0 1,0 -4.4,0M1188.4,357.5a2.2,2.2 0 1,0 4.4,0a2.2,2.2 0 1,0 -4.4,0M1194.6,361.4a2.2,2.2 0 1,0 4.4,0a2.2,2.2 0 1,0 -4.4,0M1200.1,356.7a2.2,2.2 0 1,0 4.4,0a2.2,2.2 0 1,0 -4.4,0M1206.4,361.4a2.2,2.2 0 1,0 4.4,0a2.2,2.2 0 1,0 -4.4,0M1211.8,361.4a2.2,2.2 0 1,0 4.4,0a2.2,2.2 0 1,0 -4.4,0M1218.1,359.1a2.2,2.2 0 1,0 4.4,0a2.2,2.2 0 1,0 -4.4,0M1223.6,360.6a2.2,2.2 0 1,0 4.4,0a2.2,2.2 0 1,0 -4.4,0M1229,361.4a2.2,2.2 0 1,0 4.4,0a2.2,2.2 0 1,0 -4.4,0M1234.5,358.3a2.2,2.2 0 1,0 4.4,0a2.2,2.2 0 1,0 -4.4,0M1240.8,356a2.2,2.2 0 1,0 4.4,0a2.2,2.2 0 1,0 -4.4,0M1246.3,359.1a2.2,2.2 0 1,0 4.4,0a2.2,2.2 0 1,0 -4.4,0M1252.5,359.9a2.2,2.2 0 1,0 4.4,0a2.2,2.2 0 1,0 -4.4,0M1258,359.9a2.2,2.2 0 1,0 4.4,0a2.2,2.2 0 1,0 -4.4,0M1263.5,353.6a2.2,2.2 0 1,0 4.4,0a2.2,2.2 0 1,0 -4.4,0M1269.7,359.9a2.2,2.2 0 1,0 4.4,0a2.2,2.2 0 1,0 -4.4,0M1275.2,359.9a2.2,2.2 0 1,0 4.4,0a2.2,2.2 0 1,0 -4.4,0M1281.5,359.9a2.2,2.2 0 1,0 4.4,0a2.2,2.2 0 1,0 -4.4,0M1286.9,358.3a2.2,2.2 0 1,0 4.4,0a2.2,2.2 0 1,0 -4.4,0M1293.2,359.1a2.2,2.2 0 1,0 4.4,0a2.2,2.2 0 1,0 -4.4,0M1298.7,360.6a2.2,2.2 0 1,0 4.4,0a2.2,2.2 0 1,0 -4.4,0M1304.9,358.3a2.2,2.2 0 1,0 4.4,0a2.2,2.2 0 1,0 -4.4,0M1310.4,359.9a2.2,2.2 0 1,0 4.4,0a2.2,2.2 0 1,0 -4.4,0M1316.7,362.2a2.2,2.2 0 1,0 4.4,0a2.2,2.2 0 1,0 -4.4,0M1322.2,359.9a2.2,2.2 0 1,0 4.4,0a2.2,2.2 0 1,0 -4.4,0M1328.4,359.9a2.2,2.2 0 1,0 4.4,0a2.2,2.2 0 1,0 -4.4,0M1333.9,359.9a2.2,2.2 0 1,0 4.4,0a2.2,2.2 0 1,0 -4.4,0M1339.4,359.1a2.2,2.2 0 1,0 4.4,0a2.2,2.2 0 1,0 -4.4,0M1345.7,358.3a2.2,2.2 0 1,0 4.4,0a2.2,2.2 0 1,0 -4.4,0M1351.1,358.3a2.2,2.2 0 1,0 4.4,0a2.2,2.2 0 1,0 -4.4,0M1357.4,363a2.2,2.2 0 1,0 4.4,0a2.2,2.2 0 1,0 -4.4,0" fill="#fddd60" clip-path="url(#lc)"/>
<text x="21" y="530.7" font-size="14" fill="#EEF1FA" text-anchor="start" font-weight="bold">RAM</text>
<rect x="163.5" y="549" width="1196.5" height="1" fill="#484753"/>
<rect x="163.5" y="568.28" width="1196.5" height="1" fill="#484753"/>
<rect x="163.5" y="591.23" width="1196.5" height="1" fill="#484753"/>
<rect x="163.5" y="614.19" width="1196.5" height="1" fill="#484753"/>
<rect x="163.5" y="637.14" width="1196.5" height="1" fill="#484753"/>
<rect x="163.5" y="660.09" width="1196.5" height="1" fill="#484753"/>
<rect x="163.5" y="683.05" width="1196.5" height="1" fill="#484753"/>
<text x="1368.5" y="551.8" font-size="14" fill="#B9B8CE" text-anchor="start" font-weight="normal" letter-spacing="-0.3">34.2 GB</text>
<text x="1368.5" y="571.08" font-size="14" fill="#B9B8CE" text-anchor="start" font-weight="normal" letter-spacing="-0.3">30.0 GB</text>
<text x="1368.5" y="594.03" font-size="14" fill="#B9B8CE" text-anchor="start" font-weight="normal" letter-spacing="-0.3">25.0 GB</text>
<text x="1368.5" y="616.99" font-size="14" fill="#B9B8CE" text-anchor="start" font-weight="normal" letter-spacing="-0.3">20.0 GB</text>
<text x="1368.5" y="639.94" font-size="14" fill="#B9B8CE" text-anchor="start" font-weight="normal" letter-spacing="-0.3">15.0 GB</text>
<text x="1368.5" y="662.89" font-size="14" fill="#B9B8CE" text-anchor="start" font-weight="normal" letter-spacing="-0.3">10.0 GB</text>
<text x="1368.5" y="685.85" font-size="14" fill="#B9B8CE" text-anchor="start" font-weight="normal" letter-spacing="-0.3">5.0 GB</text>
<text x="1368.5" y="708.8" font-size="14" fill="#B9B8CE" text-anchor="start" font-weight="normal" letter-spacing="-0.3">0.0 GB</text>
<rect x="712" y="526.25" width="28" height="2.5" rx="1.25" fill="#4992ff"/><circle cx="725.6" cy="527.5" r="6" fill="#4992ff"/>
<text x="746" y="530.8" font-size="14" fill="#B9B8CE" text-anchor="start" font-weight="normal">RAM Used</text>
<polygon points="158.6,634.3 164.4,634.3 170.2,634.3 176.3,634.3 182.4,634.3 187.9,634.3 194,634.3 199.5,634.3 205,634.3 211,634.3 216.5,634.3 222.6,634.3 228.7,634.3 233.5,634.3 239.6,634.3 245.7,634.3 251.8,634.3 257.3,634.3 263.4,634.3 268.8,634.3 275,634.3 280.4,634.3 286.5,634.3 292,634.3 298,634.3 303.5,634.3 309.7,634.3 315.1,634.3 321.2,634.3 327.3,634.3 332.8,634.3 339,634.3 344.3,634.3 350.5,634.3 356,634.3 361.6,634.3 367.7,634.3 373.1,634.3 379.3,634.3 385.4,634.3 390.8,634.3 396.9,634.3 402.4,634.3 408.5,634.3 413.9,634.3 420,634.3 425.5,634.3 431.6,634.3 437.1,634.3 443.2,634.3 448.6,634.3 454.8,634.3 460.9,634.3 466.3,634.3 472.4,634.3 477.9,634.3 484,634.3 489.5,634.3 495.6,634.3 501,634.3 507.1,634.3 513.3,634.3 518.7,634.3 524.8,634.3 530.3,634.3 536.4,634.24 541.8,634.18 548,634.12 553.8,634.06 560,634 566.1,633.94 572.2,633.88 577.7,633.82 583.8,633.76 589.2,633.71 595.3,633.65 600.8,633.59 606.9,633.53 613,633.47 618.5,633.41 624.6,633.35 630.7,633.29 636.8,633.23 642.3,633.18 648.4,633.12 653.8,633.06 660,633 666.1,632.94 671.5,632.88 677.7,632.82 683.1,632.77 689.2,632.71 695.3,632.65 700.8,632.6 706.9,632.58 713,632.56 719.1,632.55 724.6,632.53 730.7,632.51 736.2,632.5 742.3,632.48 748.8,632.46 755,632.45 761.1,632.43 767.2,632.41 772.7,632.4 778.8,632.38 784.9,632.36 791,632.35 797.1,632.33 802.6,632.31 808.7,632.3 814.8,632.28 820.3,632.26 826.4,632.25 831.8,632.23 838,632.21 843.4,632.2 848.8,632.18 855,632.17 861.1,632.15 866.5,632.13 872.7,632.12 878.1,632.1 883.5,632.09 889.7,632.07 895.8,632.05 901.2,632.04 907.3,632.02 912.8,632 918.9,631.99 924.5,631.97 930.6,631.95 936.1,631.94 942.2,631.92 947.7,631.91 953.8,632.6 959.3,632.6 965.4,632.6 970.8,634.5 976.9,635.6 982.4,635.6 987.8,635.6 994,635.6 999.4,635.6 1005.5,635.6 1011,635.6 1017.1,635.6 1022.5,635.6 1028.6,635.6 1034.1,635.6 1040.2,635.6 1045.6,635.6 1051.8,635.6 1057.2,635.6 1062.7,635.6 1068.8,635.6 1074.2,635.6 1080.3,635.6 1085.8,635.6 1091.4,635.6 1097.2,635.6 1103,635.6 1108.8,635.6 1115.3,635.6 1121,635.6 1126.8,635.6 1132.6,635.6 1138.3,635.6 1144.1,635.6 1149.9,635.6 1155.7,635.6 1161.4,635.6 1167.2,635.6 1173,635.6 1178.7,635.6 1184.5,635.6 1190.3,635.6 1196.1,635.6 1201.8,635.6 1207.6,635.6 1213.6,635.6 1219.8,635.6 1225.1,635.6 1231.1,635.6 1236.4,635.6 1242.5,635.6 1248.5,635.6 1254.5,635.6 1259.8,635.6 1265.8,635.6 1271.9,635.6 1277.9,635.6 1284,635.6 1289.2,635.6 1295.3,635.6 1301.3,635.6 1307.4,635.6 1312.6,635.6 1318.7,635.6 1324.7,635.6 1330,635.6 1336,635.6 1342.1,635.6 1347.4,635.6 1353.4,635.6 1359.6,635.6 1359.6,706.5 158.6,706.5" fill="#4992ff" fill-opacity="0.7" clip-path="url(#ar)"/>
<rect x="163" y="706" width="1197" height="1" fill="#B9B8CE"/>
<rect x="198.5" y="706.5" width="1" height="5" fill="#B9B8CE"/>
<text x="199" y="725.5" font-size="14" fill="#B9B8CE" text-anchor="middle" font-weight="normal">17:29:45</text>
<rect x="347.93" y="706.5" width="1" height="5" fill="#B9B8CE"/>
<text x="348.43" y="725.5" font-size="14" fill="#B9B8CE" text-anchor="middle" font-weight="bold">17:30</text>
<rect x="497.36" y="706.5" width="1" height="5" fill="#B9B8CE"/>
<text x="497.86" y="725.5" font-size="14" fill="#B9B8CE" text-anchor="middle" font-weight="normal">17:30:15</text>
<rect x="646.79" y="706.5" width="1" height="5" fill="#B9B8CE"/>
<text x="647.29" y="725.5" font-size="14" fill="#B9B8CE" text-anchor="middle" font-weight="normal">17:30:30</text>
<rect x="796.22" y="706.5" width="1" height="5" fill="#B9B8CE"/>
<text x="796.72" y="725.5" font-size="14" fill="#B9B8CE" text-anchor="middle" font-weight="normal">17:30:45</text>
<rect x="945.65" y="706.5" width="1" height="5" fill="#B9B8CE"/>
<text x="946.15" y="725.5" font-size="14" fill="#B9B8CE" text-anchor="middle" font-weight="bold">17:31</text>
<rect x="1095.08" y="706.5" width="1" height="5" fill="#B9B8CE"/>
<text x="1095.58" y="725.5" font-size="14" fill="#B9B8CE" text-anchor="middle" font-weight="normal">17:31:15</text>
<rect x="1244.51" y="706.5" width="1" height="5" fill="#B9B8CE"/>
<text x="1245.01" y="725.5" font-size="14" fill="#B9B8CE" text-anchor="middle" font-weight="normal">17:31:30</text>
<polyline points="158.6,634.3 164.4,634.3 170.2,634.3 176.3,634.3 182.4,634.3 187.9,634.3 194,634.3 199.5,634.3 205,634.3 211,634.3 216.5,634.3 222.6,634.3 228.7,634.3 233.5,634.3 239.6,634.3 245.7,634.3 251.8,634.3 257.3,634.3 263.4,634.3 268.8,634.3 275,634.3 280.4,634.3 286.5,634.3 292,634.3 298,634.3 303.5,634.3 309.7,634.3 315.1,634.3 321.2,634.3 327.3,634.3 332.8,634.3 339,634.3 344.3,634.3 350.5,634.3 356,634.3 361.6,634.3 367.7,634.3 373.1,634.3 379.3,634.3 385.4,634.3 390.8,634.3 396.9,634.3 402.4,634.3 408.5,634.3 413.9,634.3 420,634.3 425.5,634.3 431.6,634.3 437.1,634.3 443.2,634.3 448.6,634.3 454.8,634.3 460.9,634.3 466.3,634.3 472.4,634.3 477.9,634.3 484,634.3 489.5,634.3 495.6,634.3 501,634.3 507.1,634.3 513.3,634.3 518.7,634.3 524.8,634.3 530.3,634.3 536.4,634.24 541.8,634.18 548,634.12 553.8,634.06 560,634 566.1,633.94 572.2,633.88 577.7,633.82 583.8,633.76 589.2,633.71 595.3,633.65 600.8,633.59 606.9,633.53 613,633.47 618.5,633.41 624.6,633.35 630.7,633.29 636.8,633.23 642.3,633.18 648.4,633.12 653.8,633.06 660,633 666.1,632.94 671.5,632.88 677.7,632.82 683.1,632.77 689.2,632.71 695.3,632.65 700.8,632.6 706.9,632.58 713,632.56 719.1,632.55 724.6,632.53 730.7,632.51 736.2,632.5 742.3,632.48 748.8,632.46 755,632.45 761.1,632.43 767.2,632.41 772.7,632.4 778.8,632.38 784.9,632.36 791,632.35 797.1,632.33 802.6,632.31 808.7,632.3 814.8,632.28 820.3,632.26 826.4,632.25 831.8,632.23 838,632.21 843.4,632.2 848.8,632.18 855,632.17 861.1,632.15 866.5,632.13 872.7,632.12 878.1,632.1 883.5,632.09 889.7,632.07 895.8,632.05 901.2,632.04 907.3,632.02 912.8,632 918.9,631.99 924.5,631.97 930.6,631.95 936.1,631.94 942.2,631.92 947.7,631.91 953.8,632.6 959.3,632.6 965.4,632.6 970.8,634.5 976.9,635.6 982.4,635.6 987.8,635.6 994,635.6 999.4,635.6 1005.5,635.6 1011,635.6 1017.1,635.6 1022.5,635.6 1028.6,635.6 1034.1,635.6 1040.2,635.6 1045.6,635.6 1051.8,635.6 1057.2,635.6 1062.7,635.6 1068.8,635.6 1074.2,635.6 1080.3,635.6 1085.8,635.6 1091.4,635.6 1097.2,635.6 1103,635.6 1108.8,635.6 1115.3,635.6 1121,635.6 1126.8,635.6 1132.6,635.6 1138.3,635.6 1144.1,635.6 1149.9,635.6 1155.7,635.6 1161.4,635.6 1167.2,635.6 1173,635.6 1178.7,635.6 1184.5,635.6 1190.3,635.6 1196.1,635.6 1201.8,635.6 1207.6,635.6 1213.6,635.6 1219.8,635.6 1225.1,635.6 1231.1,635.6 1236.4,635.6 1242.5,635.6 1248.5,635.6 1254.5,635.6 1259.8,635.6 1265.8,635.6 1271.9,635.6 1277.9,635.6 1284,635.6 1289.2,635.6 1295.3,635.6 1301.3,635.6 1307.4,635.6 1312.6,635.6 1318.7,635.6 1324.7,635.6 1330,635.6 1336,635.6 1342.1,635.6 1347.4,635.6 1353.4,635.6 1359.6,635.6" fill="none" stroke="#4992ff" stroke-width="2" stroke-linejoin="bevel" clip-path="url(#lr)"/>
<path d="M162.2,634.3a2.2,2.2 0 1,0 4.4,0a2.2,2.2 0 1,0 -4.4,0M168,634.3a2.2,2.2 0 1,0 4.4,0a2.2,2.2 0 1,0 -4.4,0M174.1,634.3a2.2,2.2 0 1,0 4.4,0a2.2,2.2 0 1,0 -4.4,0M180.2,634.3a2.2,2.2 0 1,0 4.4,0a2.2,2.2 0 1,0 -4.4,0M185.7,634.3a2.2,2.2 0 1,0 4.4,0a2.2,2.2 0 1,0 -4.4,0M191.8,634.3a2.2,2.2 0 1,0 4.4,0a2.2,2.2 0 1,0 -4.4,0M197.3,634.3a2.2,2.2 0 1,0 4.4,0a2.2,2.2 0 1,0 -4.4,0M202.8,634.3a2.2,2.2 0 1,0 4.4,0a2.2,2.2 0 1,0 -4.4,0M208.8,634.3a2.2,2.2 0 1,0 4.4,0a2.2,2.2 0 1,0 -4.4,0M214.3,634.3a2.2,2.2 0 1,0 4.4,0a2.2,2.2 0 1,0 -4.4,0M220.4,634.3a2.2,2.2 0 1,0 4.4,0a2.2,2.2 0 1,0 -4.4,0M226.5,634.3a2.2,2.2 0 1,0 4.4,0a2.2,2.2 0 1,0 -4.4,0M231.3,634.3a2.2,2.2 0 1,0 4.4,0a2.2,2.2 0 1,0 -4.4,0M237.4,634.3a2.2,2.2 0 1,0 4.4,0a2.2,2.2 0 1,0 -4.4,0M243.5,634.3a2.2,2.2 0 1,0 4.4,0a2.2,2.2 0 1,0 -4.4,0M249.6,634.3a2.2,2.2 0 1,0 4.4,0a2.2,2.2 0 1,0 -4.4,0M255.1,634.3a2.2,2.2 0 1,0 4.4,0a2.2,2.2 0 1,0 -4.4,0M261.2,634.3a2.2,2.2 0 1,0 4.4,0a2.2,2.2 0 1,0 -4.4,0M266.6,634.3a2.2,2.2 0 1,0 4.4,0a2.2,2.2 0 1,0 -4.4,0M272.8,634.3a2.2,2.2 0 1,0 4.4,0a2.2,2.2 0 1,0 -4.4,0M278.2,634.3a2.2,2.2 0 1,0 4.4,0a2.2,2.2 0 1,0 -4.4,0M284.3,634.3a2.2,2.2 0 1,0 4.4,0a2.2,2.2 0 1,0 -4.4,0M289.8,634.3a2.2,2.2 0 1,0 4.4,0a2.2,2.2 0 1,0 -4.4,0M295.8,634.3a2.2,2.2 0 1,0 4.4,0a2.2,2.2 0 1,0 -4.4,0M301.3,634.3a2.2,2.2 0 1,0 4.4,0a2.2,2.2 0 1,0 -4.4,0M307.5,634.3a2.2,2.2 0 1,0 4.4,0a2.2,2.2 0 1,0 -4.4,0M312.9,634.3a2.2,2.2 0 1,0 4.4,0a2.2,2.2 0 1,0 -4.4,0M319,634.3a2.2,2.2 0 1,0 4.4,0a2.2,2.2 0 1,0 -4.4,0M325.1,634.3a2.2,2.2 0 1,0 4.4,0a2.2,2.2 0 1,0 -4.4,0M330.6,634.3a2.2,2.2 0 1,0 4.4,0a2.2,2.2 0 1,0 -4.4,0M336.8,634.3a2.2,2.2 0 1,0 4.4,0a2.2,2.2 0 1,0 -4.4,0M342.1,634.3a2.2,2.2 0 1,0 4.4,0a2.2,2.2 0 1,0 -4.4,0M348.3,634.3a2.2,2.2 0 1,0 4.4,0a2.2,2.2 0 1,0 -4.4,0M353.8,634.3a2.2,2.2 0 1,0 4.4,0a2.2,2.2 0 1,0 -4.4,0M359.4,634.3a2.2,2.2 0 1,0 4.4,0a2.2,2.2 0 1,0 -4.4,0M365.5,634.3a2.2,2.2 0 1,0 4.4,0a2.2,2.2 0 1,0 -4.4,0M370.9,634.3a2.2,2.2 0 1,0 4.4,0a2.2,2.2 0 1,0 -4.4,0M377.1,634.3a2.2,2.2 0 1,0 4.4,0a2.2,2.2 0 1,0 -4.4,0M383.2,634.3a2.2,2.2 0 1,0 4.4,0a2.2,2.2 0 1,0 -4.4,0M388.6,634.3a2.2,2.2 0 1,0 4.4,0a2.2,2.2 0 1,0 -4.4,0M394.7,634.3a2.2,2.2 0 1,0 4.4,0a2.2,2.2 0 1,0 -4.4,0M400.2,634.3a2.2,2.2 0 1,0 4.4,0a2.2,2.2 0 1,0 -4.4,0M406.3,634.3a2.2,2.2 0 1,0 4.4,0a2.2,2.2 0 1,0 -4.4,0M411.7,634.3a2.2,2.2 0 1,0 4.4,0a2.2,2.2 0 1,0 -4.4,0M417.8,634.3a2.2,2.2 0 1,0 4.4,0a2.2,2.2 0 1,0 -4.4,0M423.3,634.3a2.2,2.2 0 1,0 4.4,0a2.2,2.2 0 1,0 -4.4,0M429.4,634.3a2.2,2.2 0 1,0 4.4,0a2.2,2.2 0 1,0 -4.4,0M434.9,634.3a2.2,2.2 0 1,0 4.4,0a2.2,2.2 0 1,0 -4.4,0M441,634.3a2.2,2.2 0 1,0 4.4,0a2.2,2.2 0 1,0 -4.4,0M446.4,634.3a2.2,2.2 0 1,0 4.4,0a2.2,2.2 0 1,0 -4.4,0M452.6,634.3a2.2,2.2 0 1,0 4.4,0a2.2,2.2 0 1,0 -4.4,0M458.7,634.3a2.2,2.2 0 1,0 4.4,0a2.2,2.2 0 1,0 -4.4,0M464.1,634.3a2.2,2.2 0 1,0 4.4,0a2.2,2.2 0 1,0 -4.4,0M470.2,634.3a2.2,2.2 0 1,0 4.4,0a2.2,2.2 0 1,0 -4.4,0M475.7,634.3a2.2,2.2 0 1,0 4.4,0a2.2,2.2 0 1,0 -4.4,0M481.8,634.3a2.2,2.2 0 1,0 4.4,0a2.2,2.2 0 1,0 -4.4,0M487.3,634.3a2.2,2.2 0 1,0 4.4,0a2.2,2.2 0 1,0 -4.4,0M493.4,634.3a2.2,2.2 0 1,0 4.4,0a2.2,2.2 0 1,0 -4.4,0M498.8,634.3a2.2,2.2 0 1,0 4.4,0a2.2,2.2 0 1,0 -4.4,0M504.9,634.3a2.2,2.2 0 1,0 4.4,0a2.2,2.2 0 1,0 -4.4,0M511.1,634.3a2.2,2.2 0 1,0 4.4,0a2.2,2.2 0 1,0 -4.4,0M516.5,634.3a2.2,2.2 0 1,0 4.4,0a2.2,2.2 0 1,0 -4.4,0M522.6,634.3a2.2,2.2 0 1,0 4.4,0a2.2,2.2 0 1,0 -4.4,0M528.1,634.3a2.2,2.2 0 1,0 4.4,0a2.2,2.2 0 1,0 -4.4,0M534.2,634.24a2.2,2.2 0 1,0 4.4,0a2.2,2.2 0 1,0 -4.4,0M539.6,634.18a2.2,2.2 0 1,0 4.4,0a2.2,2.2 0 1,0 -4.4,0M545.8,634.12a2.2,2.2 0 1,0 4.4,0a2.2,2.2 0 1,0 -4.4,0M551.6,634.06a2.2,2.2 0 1,0 4.4,0a2.2,2.2 0 1,0 -4.4,0M557.8,634a2.2,2.2 0 1,0 4.4,0a2.2,2.2 0 1,0 -4.4,0M563.9,633.94a2.2,2.2 0 1,0 4.4,0a2.2,2.2 0 1,0 -4.4,0M570,633.88a2.2,2.2 0 1,0 4.4,0a2.2,2.2 0 1,0 -4.4,0M575.5,633.82a2.2,2.2 0 1,0 4.4,0a2.2,2.2 0 1,0 -4.4,0M581.6,633.76a2.2,2.2 0 1,0 4.4,0a2.2,2.2 0 1,0 -4.4,0M587,633.71a2.2,2.2 0 1,0 4.4,0a2.2,2.2 0 1,0 -4.4,0M593.1,633.65a2.2,2.2 0 1,0 4.4,0a2.2,2.2 0 1,0 -4.4,0M598.6,633.59a2.2,2.2 0 1,0 4.4,0a2.2,2.2 0 1,0 -4.4,0M604.7,633.53a2.2,2.2 0 1,0 4.4,0a2.2,2.2 0 1,0 -4.4,0M610.8,633.47a2.2,2.2 0 1,0 4.4,0a2.2,2.2 0 1,0 -4.4,0M616.3,633.41a2.2,2.2 0 1,0 4.4,0a2.2,2.2 0 1,0 -4.4,0M622.4,633.35a2.2,2.2 0 1,0 4.4,0a2.2,2.2 0 1,0 -4.4,0M628.5,633.29a2.2,2.2 0 1,0 4.4,0a2.2,2.2 0 1,0 -4.4,0M634.6,633.23a2.2,2.2 0 1,0 4.4,0a2.2,2.2 0 1,0 -4.4,0M640.1,633.18a2.2,2.2 0 1,0 4.4,0a2.2,2.2 0 1,0 -4.4,0M646.2,633.12a2.2,2.2 0 1,0 4.4,0a2.2,2.2 0 1,0 -4.4,0M651.6,633.06a2.2,2.2 0 1,0 4.4,0a2.2,2.2 0 1,0 -4.4,0M657.8,633a2.2,2.2 0 1,0 4.4,0a2.2,2.2 0 1,0 -4.4,0M663.9,632.94a2.2,2.2 0 1,0 4.4,0a2.2,2.2 0 1,0 -4.4,0M669.3,632.88a2.2,2.2 0 1,0 4.4,0a2.2,2.2 0 1,0 -4.4,0M675.5,632.82a2.2,2.2 0 1,0 4.4,0a2.2,2.2 0 1,0 -4.4,0M680.9,632.77a2.2,2.2 0 1,0 4.4,0a2.2,2.2 0 1,0 -4.4,0M687,632.71a2.2,2.2 0 1,0 4.4,0a2.2,2.2 0 1,0 -4.4,0M693.1,632.65a2.2,2.2 0 1,0 4.4,0a2.2,2.2 0 1,0 -4.4,0M698.6,632.6a2.2,2.2 0 1,0 4.4,0a2.2,2.2 0 1,0 -4.4,0M704.7,632.58a2.2,2.2 0 1,0 4.4,0a2.2,2.2 0 1,0 -4.4,0M710.8,632.56a2.2,2.2 0 1,0 4.4,0a2.2,2.2 0 1,0 -4.4,0M716.9,632.55a2.2,2.2 0 1,0 4.4,0a2.2,2.2 0 1,0 -4.4,0M722.4,632.53a2.2,2.2 0 1,0 4.4,0a2.2,2.2 0 1,0 -4.4,0M728.5,632.51a2.2,2.2 0 1,0 4.4,0a2.2,2.2 0 1,0 -4.4,0M734,632.5a2.2,2.2 0 1,0 4.4,0a2.2,2.2 0 1,0 -4.4,0M740.1,632.48a2.2,2.2 0 1,0 4.4,0a2.2,2.2 0 1,0 -4.4,0M746.6,632.46a2.2,2.2 0 1,0 4.4,0a2.2,2.2 0 1,0 -4.4,0M752.8,632.45a2.2,2.2 0 1,0 4.4,0a2.2,2.2 0 1,0 -4.4,0M758.9,632.43a2.2,2.2 0 1,0 4.4,0a2.2,2.2 0 1,0 -4.4,0M765,632.41a2.2,2.2 0 1,0 4.4,0a2.2,2.2 0 1,0 -4.4,0M770.5,632.4a2.2,2.2 0 1,0 4.4,0a2.2,2.2 0 1,0 -4.4,0M776.6,632.38a2.2,2.2 0 1,0 4.4,0a2.2,2.2 0 1,0 -4.4,0M782.7,632.36a2.2,2.2 0 1,0 4.4,0a2.2,2.2 0 1,0 -4.4,0M788.8,632.35a2.2,2.2 0 1,0 4.4,0a2.2,2.2 0 1,0 -4.4,0M794.9,632.33a2.2,2.2 0 1,0 4.4,0a2.2,2.2 0 1,0 -4.4,0M800.4,632.31a2.2,2.2 0 1,0 4.4,0a2.2,2.2 0 1,0 -4.4,0M806.5,632.3a2.2,2.2 0 1,0 4.4,0a2.2,2.2 0 1,0 -4.4,0M812.6,632.28a2.2,2.2 0 1,0 4.4,0a2.2,2.2 0 1,0 -4.4,0M818.1,632.26a2.2,2.2 0 1,0 4.4,0a2.2,2.2 0 1,0 -4.4,0M824.2,632.25a2.2,2.2 0 1,0 4.4,0a2.2,2.2 0 1,0 -4.4,0M829.6,632.23a2.2,2.2 0 1,0 4.4,0a2.2,2.2 0 1,0 -4.4,0M835.8,632.21a2.2,2.2 0 1,0 4.4,0a2.2,2.2 0 1,0 -4.4,0M841.2,632.2a2.2,2.2 0 1,0 4.4,0a2.2,2.2 0 1,0 -4.4,0M846.6,632.18a2.2,2.2 0 1,0 4.4,0a2.2,2.2 0 1,0 -4.4,0M852.8,632.17a2.2,2.2 0 1,0 4.4,0a2.2,2.2 0 1,0 -4.4,0M858.9,632.15a2.2,2.2 0 1,0 4.4,0a2.2,2.2 0 1,0 -4.4,0M864.3,632.13a2.2,2.2 0 1,0 4.4,0a2.2,2.2 0 1,0 -4.4,0M870.5,632.12a2.2,2.2 0 1,0 4.4,0a2.2,2.2 0 1,0 -4.4,0M875.9,632.1a2.2,2.2 0 1,0 4.4,0a2.2,2.2 0 1,0 -4.4,0M881.3,632.09a2.2,2.2 0 1,0 4.4,0a2.2,2.2 0 1,0 -4.4,0M887.5,632.07a2.2,2.2 0 1,0 4.4,0a2.2,2.2 0 1,0 -4.4,0M893.6,632.05a2.2,2.2 0 1,0 4.4,0a2.2,2.2 0 1,0 -4.4,0M899,632.04a2.2,2.2 0 1,0 4.4,0a2.2,2.2 0 1,0 -4.4,0M905.1,632.02a2.2,2.2 0 1,0 4.4,0a2.2,2.2 0 1,0 -4.4,0M910.6,632a2.2,2.2 0 1,0 4.4,0a2.2,2.2 0 1,0 -4.4,0M916.7,631.99a2.2,2.2 0 1,0 4.4,0a2.2,2.2 0 1,0 -4.4,0M922.3,631.97a2.2,2.2 0 1,0 4.4,0a2.2,2.2 0 1,0 -4.4,0M928.4,631.95a2.2,2.2 0 1,0 4.4,0a2.2,2.2 0 1,0 -4.4,0M933.9,631.94a2.2,2.2 0 1,0 4.4,0a2.2,2.2 0 1,0 -4.4,0M940,631.92a2.2,2.2 0 1,0 4.4,0a2.2,2.2 0 1,0 -4.4,0M945.5,631.91a2.2,2.2 0 1,0 4.4,0a2.2,2.2 0 1,0 -4.4,0M951.6,632.6a2.2,2.2 0 1,0 4.4,0a2.2,2.2 0 1,0 -4.4,0M957.1,632.6a2.2,2.2 0 1,0 4.4,0a2.2,2.2 0 1,0 -4.4,0M963.2,632.6a2.2,2.2 0 1,0 4.4,0a2.2,2.2 0 1,0 -4.4,0M968.6,634.5a2.2,2.2 0 1,0 4.4,0a2.2,2.2 0 1,0 -4.4,0M974.7,635.6a2.2,2.2 0 1,0 4.4,0a2.2,2.2 0 1,0 -4.4,0M980.2,635.6a2.2,2.2 0 1,0 4.4,0a2.2,2.2 0 1,0 -4.4,0M985.6,635.6a2.2,2.2 0 1,0 4.4,0a2.2,2.2 0 1,0 -4.4,0M991.8,635.6a2.2,2.2 0 1,0 4.4,0a2.2,2.2 0 1,0 -4.4,0M997.2,635.6a2.2,2.2 0 1,0 4.4,0a2.2,2.2 0 1,0 -4.4,0M1003.3,635.6a2.2,2.2 0 1,0 4.4,0a2.2,2.2 0 1,0 -4.4,0M1008.8,635.6a2.2,2.2 0 1,0 4.4,0a2.2,2.2 0 1,0 -4.4,0M1014.9,635.6a2.2,2.2 0 1,0 4.4,0a2.2,2.2 0 1,0 -4.4,0M1020.3,635.6a2.2,2.2 0 1,0 4.4,0a2.2,2.2 0 1,0 -4.4,0M1026.4,635.6a2.2,2.2 0 1,0 4.4,0a2.2,2.2 0 1,0 -4.4,0M1031.9,635.6a2.2,2.2 0 1,0 4.4,0a2.2,2.2 0 1,0 -4.4,0M1038,635.6a2.2,2.2 0 1,0 4.4,0a2.2,2.2 0 1,0 -4.4,0M1043.4,635.6a2.2,2.2 0 1,0 4.4,0a2.2,2.2 0 1,0 -4.4,0M1049.6,635.6a2.2,2.2 0 1,0 4.4,0a2.2,2.2 0 1,0 -4.4,0M1055,635.6a2.2,2.2 0 1,0 4.4,0a2.2,2.2 0 1,0 -4.4,0M1060.5,635.6a2.2,2.2 0 1,0 4.4,0a2.2,2.2 0 1,0 -4.4,0M1066.6,635.6a2.2,2.2 0 1,0 4.4,0a2.2,2.2 0 1,0 -4.4,0M1072,635.6a2.2,2.2 0 1,0 4.4,0a2.2,2.2 0 1,0 -4.4,0M1078.1,635.6a2.2,2.2 0 1,0 4.4,0a2.2,2.2 0 1,0 -4.4,0M1083.6,635.6a2.2,2.2 0 1,0 4.4,0a2.2,2.2 0 1,0 -4.4,0M1089.2,635.6a2.2,2.2 0 1,0 4.4,0a2.2,2.2 0 1,0 -4.4,0M1095,635.6a2.2,2.2 0 1,0 4.4,0a2.2,2.2 0 1,0 -4.4,0M1100.8,635.6a2.2,2.2 0 1,0 4.4,0a2.2,2.2 0 1,0 -4.4,0M1106.6,635.6a2.2,2.2 0 1,0 4.4,0a2.2,2.2 0 1,0 -4.4,0M1113.1,635.6a2.2,2.2 0 1,0 4.4,0a2.2,2.2 0 1,0 -4.4,0M1118.8,635.6a2.2,2.2 0 1,0 4.4,0a2.2,2.2 0 1,0 -4.4,0M1124.6,635.6a2.2,2.2 0 1,0 4.4,0a2.2,2.2 0 1,0 -4.4,0M1130.4,635.6a2.2,2.2 0 1,0 4.4,0a2.2,2.2 0 1,0 -4.4,0M1136.1,635.6a2.2,2.2 0 1,0 4.4,0a2.2,2.2 0 1,0 -4.4,0M1141.9,635.6a2.2,2.2 0 1,0 4.4,0a2.2,2.2 0 1,0 -4.4,0M1147.7,635.6a2.2,2.2 0 1,0 4.4,0a2.2,2.2 0 1,0 -4.4,0M1153.5,635.6a2.2,2.2 0 1,0 4.4,0a2.2,2.2 0 1,0 -4.4,0M1159.2,635.6a2.2,2.2 0 1,0 4.4,0a2.2,2.2 0 1,0 -4.4,0M1165,635.6a2.2,2.2 0 1,0 4.4,0a2.2,2.2 0 1,0 -4.4,0M1170.8,635.6a2.2,2.2 0 1,0 4.4,0a2.2,2.2 0 1,0 -4.4,0M1176.5,635.6a2.2,2.2 0 1,0 4.4,0a2.2,2.2 0 1,0 -4.4,0M1182.3,635.6a2.2,2.2 0 1,0 4.4,0a2.2,2.2 0 1,0 -4.4,0M1188.1,635.6a2.2,2.2 0 1,0 4.4,0a2.2,2.2 0 1,0 -4.4,0M1193.9,635.6a2.2,2.2 0 1,0 4.4,0a2.2,2.2 0 1,0 -4.4,0M1199.6,635.6a2.2,2.2 0 1,0 4.4,0a2.2,2.2 0 1,0 -4.4,0M1205.4,635.6a2.2,2.2 0 1,0 4.4,0a2.2,2.2 0 1,0 -4.4,0M1211.4,635.6a2.2,2.2 0 1,0 4.4,0a2.2,2.2 0 1,0 -4.4,0M1217.6,635.6a2.2,2.2 0 1,0 4.4,0a2.2,2.2 0 1,0 -4.4,0M1222.9,635.6a2.2,2.2 0 1,0 4.4,0a2.2,2.2 0 1,0 -4.4,0M1228.9,635.6a2.2,2.2 0 1,0 4.4,0a2.2,2.2 0 1,0 -4.4,0M1234.2,635.6a2.2,2.2 0 1,0 4.4,0a2.2,2.2 0 1,0 -4.4,0M1240.3,635.6a2.2,2.2 0 1,0 4.4,0a2.2,2.2 0 1,0 -4.4,0M1246.3,635.6a2.2,2.2 0 1,0 4.4,0a2.2,2.2 0 1,0 -4.4,0M1252.3,635.6a2.2,2.2 0 1,0 4.4,0a2.2,2.2 0 1,0 -4.4,0M1257.6,635.6a2.2,2.2 0 1,0 4.4,0a2.2,2.2 0 1,0 -4.4,0M1263.6,635.6a2.2,2.2 0 1,0 4.4,0a2.2,2.2 0 1,0 -4.4,0M1269.7,635.6a2.2,2.2 0 1,0 4.4,0a2.2,2.2 0 1,0 -4.4,0M1275.7,635.6a2.2,2.2 0 1,0 4.4,0a2.2,2.2 0 1,0 -4.4,0M1281.8,635.6a2.2,2.2 0 1,0 4.4,0a2.2,2.2 0 1,0 -4.4,0M1287,635.6a2.2,2.2 0 1,0 4.4,0a2.2,2.2 0 1,0 -4.4,0M1293.1,635.6a2.2,2.2 0 1,0 4.4,0a2.2,2.2 0 1,0 -4.4,0M1299.1,635.6a2.2,2.2 0 1,0 4.4,0a2.2,2.2 0 1,0 -4.4,0M1305.2,635.6a2.2,2.2 0 1,0 4.4,0a2.2,2.2 0 1,0 -4.4,0M1310.4,635.6a2.2,2.2 0 1,0 4.4,0a2.2,2.2 0 1,0 -4.4,0M1316.5,635.6a2.2,2.2 0 1,0 4.4,0a2.2,2.2 0 1,0 -4.4,0M1322.5,635.6a2.2,2.2 0 1,0 4.4,0a2.2,2.2 0 1,0 -4.4,0M1327.8,635.6a2.2,2.2 0 1,0 4.4,0a2.2,2.2 0 1,0 -4.4,0M1333.8,635.6a2.2,2.2 0 1,0 4.4,0a2.2,2.2 0 1,0 -4.4,0M1339.9,635.6a2.2,2.2 0 1,0 4.4,0a2.2,2.2 0 1,0 -4.4,0M1345.2,635.6a2.2,2.2 0 1,0 4.4,0a2.2,2.2 0 1,0 -4.4,0M1351.2,635.6a2.2,2.2 0 1,0 4.4,0a2.2,2.2 0 1,0 -4.4,0M1357.4,635.6a2.2,2.2 0 1,0 4.4,0a2.2,2.2 0 1,0 -4.4,0" fill="#4992ff" clip-path="url(#lr)"/>
</svg>
</body></html>
